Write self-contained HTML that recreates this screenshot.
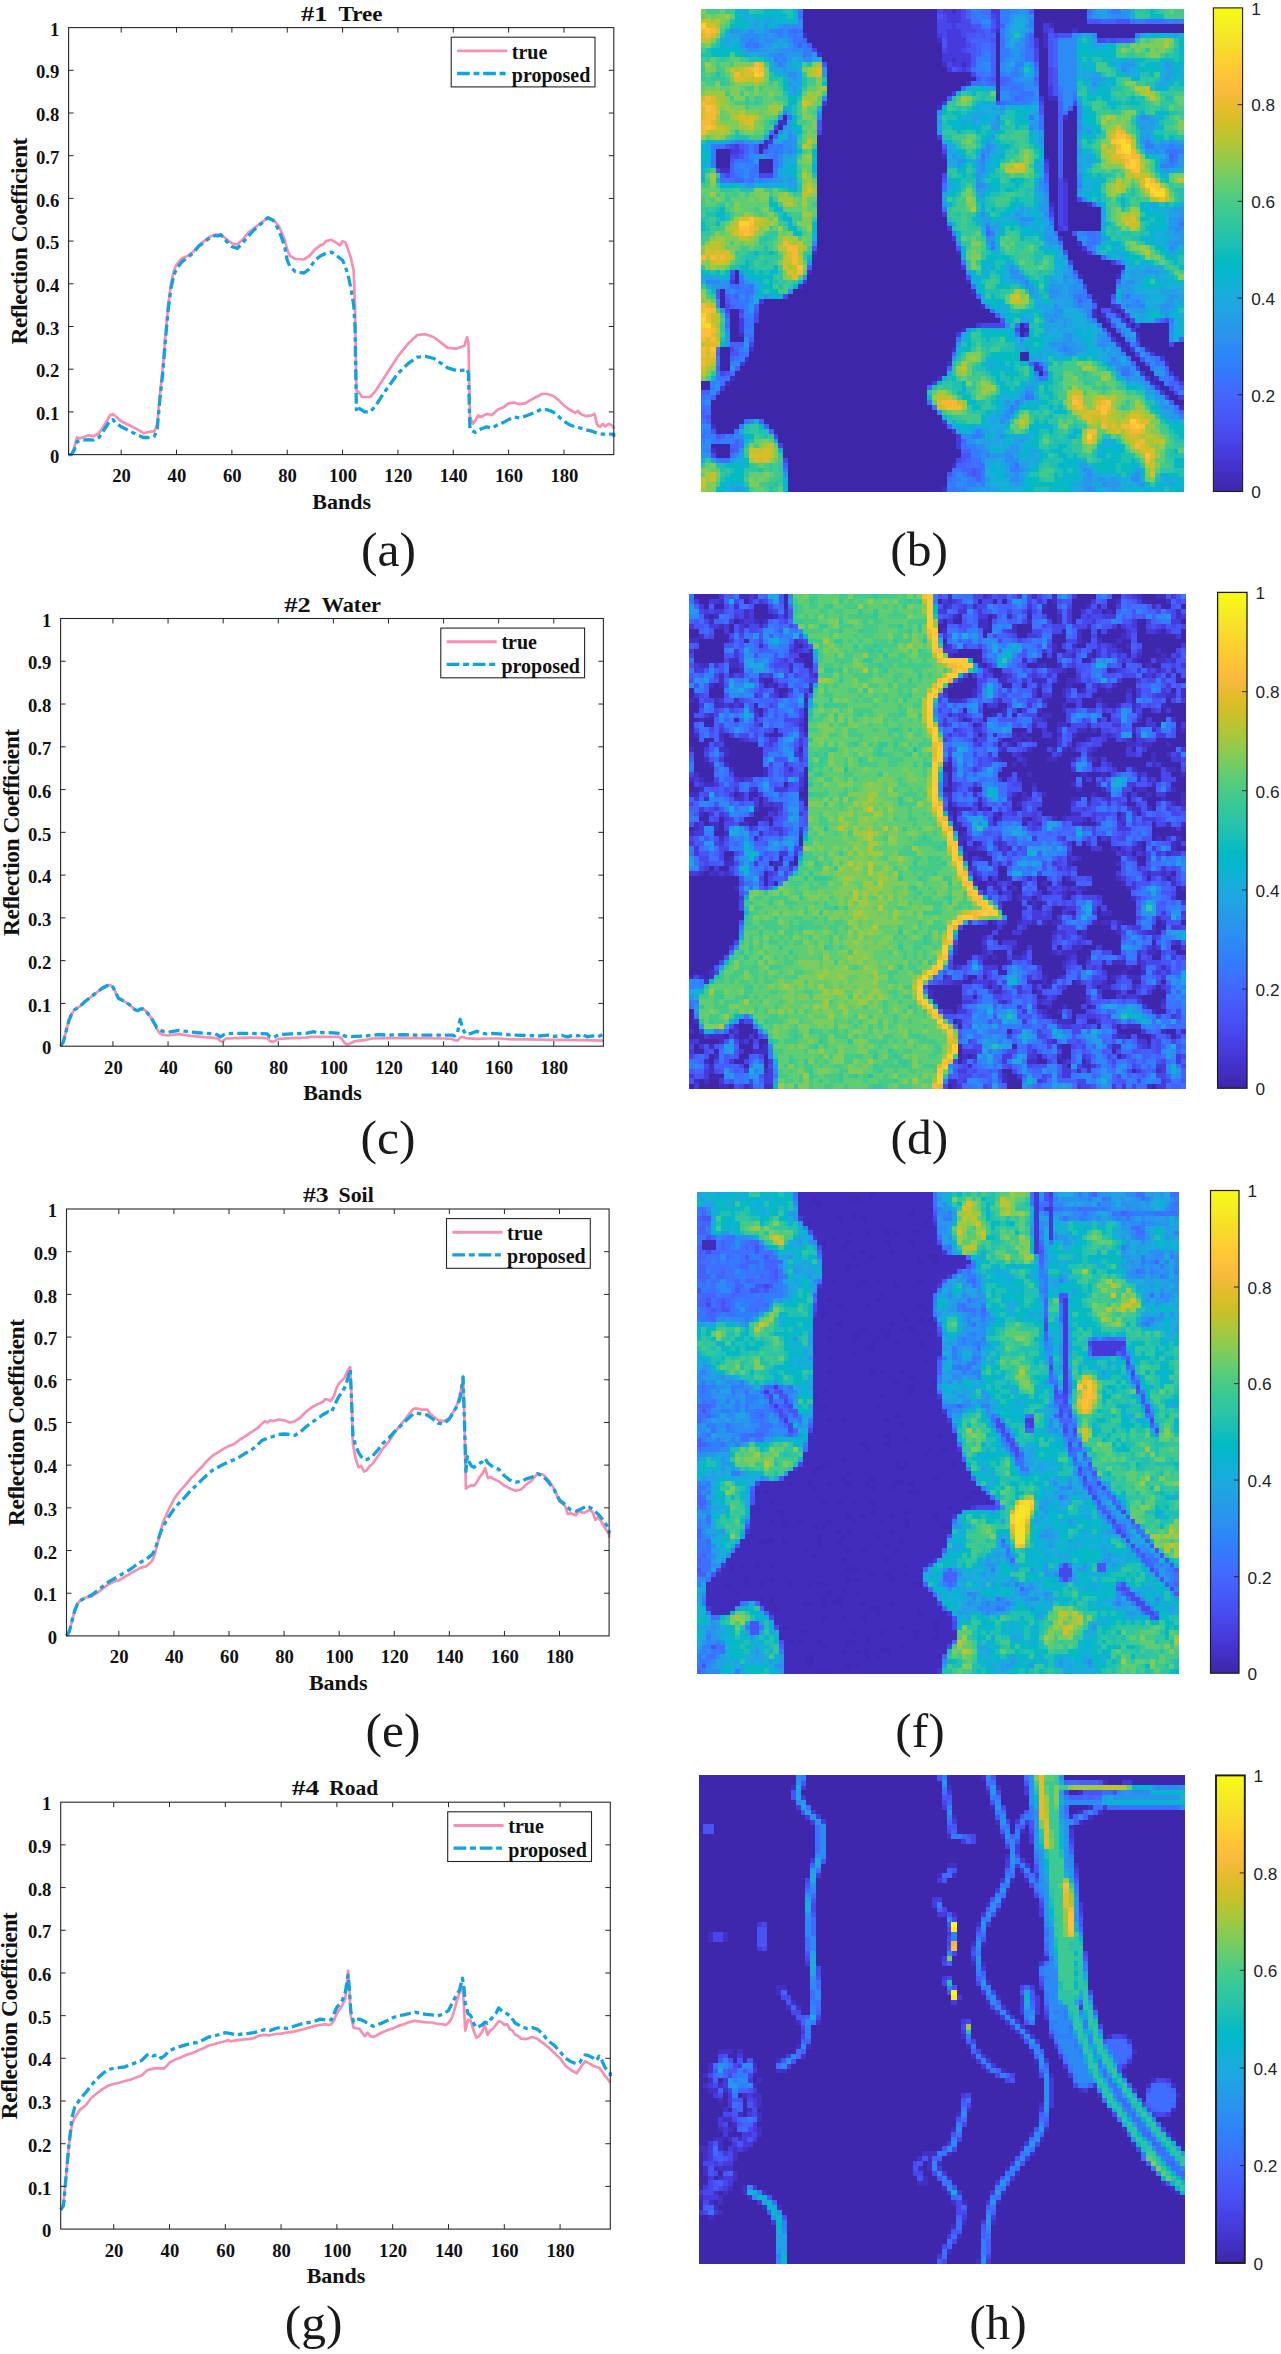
<!DOCTYPE html>
<html lang="en"><head><meta charset="utf-8"><title>Endmember signatures and abundance maps</title>
<style>
html,body{margin:0;padding:0;background:#fff}
body{width:1281px;height:2354px;overflow:hidden}
svg{display:block}
text{font-family:"Liberation Serif","DejaVu Serif",serif;fill:#111}
.tk{font-weight:bold;font-size:18.7px}
.ti{font-weight:bold;font-size:22px}
.yl{font-weight:bold;font-size:23.5px}
.lg{font-weight:bold;font-size:20px}
.cap{font-size:49.5px;fill:#1a1a1a}
.cb{font-family:"Liberation Sans","DejaVu Sans",sans-serif;font-size:17.2px;fill:#222}
</style></head><body>
<svg width="1281" height="2354" viewBox="0 0 1281 2354">
<rect width="1281" height="2354" fill="#fff"/>
<defs><linearGradient id="par" x1="0" y1="1" x2="0" y2="0">
<stop offset="0.0000" stop-color="#3e26a8"/>
<stop offset="0.0317" stop-color="#422ec0"/>
<stop offset="0.0635" stop-color="#4537d5"/>
<stop offset="0.0952" stop-color="#4741e5"/>
<stop offset="0.1270" stop-color="#484df0"/>
<stop offset="0.1587" stop-color="#4758f8"/>
<stop offset="0.1905" stop-color="#4563fd"/>
<stop offset="0.2222" stop-color="#3e6fff"/>
<stop offset="0.2540" stop-color="#327cfc"/>
<stop offset="0.2857" stop-color="#2e87f7"/>
<stop offset="0.3175" stop-color="#2b91ef"/>
<stop offset="0.3492" stop-color="#259be8"/>
<stop offset="0.3810" stop-color="#20a5e3"/>
<stop offset="0.4127" stop-color="#18addb"/>
<stop offset="0.4444" stop-color="#08b5d0"/>
<stop offset="0.4762" stop-color="#02bac3"/>
<stop offset="0.5079" stop-color="#19bfb6"/>
<stop offset="0.5397" stop-color="#2cc4a7"/>
<stop offset="0.5714" stop-color="#37c897"/>
<stop offset="0.6032" stop-color="#4acb84"/>
<stop offset="0.6349" stop-color="#64cd6f"/>
<stop offset="0.6667" stop-color="#81cc59"/>
<stop offset="0.6984" stop-color="#9dc943"/>
<stop offset="0.7302" stop-color="#b9c431"/>
<stop offset="0.7619" stop-color="#d1bf27"/>
<stop offset="0.7937" stop-color="#e6bb2d"/>
<stop offset="0.8254" stop-color="#f8ba3d"/>
<stop offset="0.8571" stop-color="#fec338"/>
<stop offset="0.8889" stop-color="#fccf30"/>
<stop offset="0.9206" stop-color="#f7dc2a"/>
<stop offset="0.9524" stop-color="#f5e924"/>
<stop offset="0.9841" stop-color="#f7f51b"/>
<stop offset="1.0000" stop-color="#f9fb15"/>
</linearGradient></defs>
<g class="plot">
<path d="M68.6 454.6L71.4 454.6L74.1 448.2L76.9 437.5L79.7 438.4L88 435.4L93.5 436.2L99 433.2L104.6 424.7L110.1 415.3L112.9 414L115.6 416.2L121.2 421.3L132.3 426.8L140.6 431.1L143.3 433.2L148.9 432L154.4 431.1L157.2 424.7L159.9 394.8L162.7 369.2L165.5 335L168.2 305.2L171 283.8L173.8 271L176.5 264.6L182.1 258.2L187.6 256L193.1 251.8L198.7 245.4L204.2 241.1L209.7 236.8L215.3 234.7L220.8 234.7L223.6 236.8L226.3 239L231.9 243.2L237.4 244.5L243 239L248.5 232.6L254 228.3L259.6 224L265.1 219.8L267.9 217.6L273.4 219.8L278.9 226.2L284.5 239L287.2 249.6L290 256L295.5 259L303.8 259.5L309.4 256L314.9 249.6L320.4 245.4L323.2 244.5L326 241.1L331.5 239.8L337 243.2L339.8 245.4L342.6 241.1L345.4 242.4L348.1 249.6L350.9 258.2L353.7 271L355 305.2L356.4 390.6L359.2 392.7L362 397L370.3 397L375.8 390.6L384.1 377.7L397.9 356.4L409 342.7L417.3 335L425.6 334.2L433.9 337.2L442.2 343.6L447.7 347.9L456.1 348.7L464.4 345.7L467.1 337.2L468.5 343.6L469.9 416.2L472.7 423.9L475.4 420.4L478.2 415.3L481 417L486.5 414L492 414.9L497.6 409.8L503.1 407.6L508.6 403.4L514.2 402.5L519.7 404.2L525.2 403.4L530.8 399.9L536.3 397L541.8 394L547.4 394L552.9 395.7L558.4 399.9L564 405.5L569.5 409.8L575.1 412.8L577.8 411L580.6 414L586.1 416.2L591.7 415.3L594.4 414L597.2 424.7L600 426.8L602.7 423.9L605.5 426.4L608.3 423.9L611 424.7L613.8 427.7L613.8 429" fill="none" stroke="#f78fb3" stroke-width="2.7" stroke-linejoin="round"/>
<path d="M68.6 454.6L71.4 454.6L74.1 450.3L76.9 441.8L79.7 440.5L88 439.7L93.5 440.1L99 437.5L104.6 429L110.1 420.4L112.9 419.6L115.6 422.6L121.2 426.8L132.3 432.4L140.6 436.2L143.3 437.5L148.9 437.5L154.4 436.2L157.2 429L159.9 399.1L162.7 373.5L165.5 339.3L168.2 309.4L171 288.1L173.8 275.3L176.5 268.9L182.1 261.6L187.6 257.3L193.1 253.1L198.7 246.2L204.2 242L209.7 237.7L215.3 235.5L218 236L220.8 234.7L223.6 237.7L226.3 241.1L231.9 246.7L237.4 248.4L243 242.4L248.5 236L254 230L259.6 224.9L265.1 220.6L267.9 217.6L273.4 220.6L278.9 230.4L284.5 245.4L287.2 260.3L290 266.7L295.5 271.8L303.8 273.1L309.4 268.9L314.9 260.3L320.4 256L326 253.1L331.5 252.2L337 256L342.6 260.3L345.4 266.7L348.1 275.3L350.9 288.1L353.7 305.2L355 326.5L356.4 409.8L357.8 405.5L359.2 408.5L364.7 411.9L370.3 411.9L375.8 405.5L384.1 392.7L397.9 373.5L409 362.8L417.3 357.2L425.6 356.4L433.9 358.5L442.2 364.1L447.7 367.9L456.1 370.5L464.4 370.1L467.1 369.2L468.5 373.5L469.9 429L472.7 431.1L475.4 432.4L481 429L486.5 426.8L492 428.1L497.6 424.7L503.1 422.6L508.6 419.6L514.2 417L519.7 417.9L525.2 416.2L530.8 414L536.3 411.9L541.8 408.9L547.4 409.8L552.9 411.9L558.4 416.2L564 421.3L569.5 424.7L575.1 426.8L580.6 428.1L586.1 429.8L591.7 431.1L597.2 433.2L602.7 434.1L608.3 434.1L613.8 434.1L613.8 436.7" fill="none" stroke="#12a2e0" stroke-width="3.3" stroke-linejoin="round" stroke-dasharray="11 4 4.5 4"/>
<rect x="68.6" y="27.6" width="545.2" height="427" fill="none" stroke="#262626" stroke-width="1.1"/>
<path d="M121.18 454.6v-5M121.18 27.6v5M176.53 454.6v-5M176.53 27.6v5M231.88 454.6v-5M231.88 27.6v5M287.23 454.6v-5M287.23 27.6v5M342.58 454.6v-5M342.58 27.6v5M397.93 454.6v-5M397.93 27.6v5M453.28 454.6v-5M453.28 27.6v5M508.63 454.6v-5M508.63 27.6v5M563.98 454.6v-5M563.98 27.6v5M68.6 411.9h5M613.8 411.9h-5M68.6 369.2h5M613.8 369.2h-5M68.6 326.5h5M613.8 326.5h-5M68.6 283.8h5M613.8 283.8h-5M68.6 241.1h5M613.8 241.1h-5M68.6 198.4h5M613.8 198.4h-5M68.6 155.7h5M613.8 155.7h-5M68.6 113h5M613.8 113h-5M68.6 70.3h5M613.8 70.3h-5" stroke="#262626" stroke-width="1" fill="none"/>
<text class="tk" x="121.6" y="482" text-anchor="middle">20</text>
<text class="tk" x="176.9" y="482" text-anchor="middle">40</text>
<text class="tk" x="232.3" y="482" text-anchor="middle">60</text>
<text class="tk" x="287.6" y="482" text-anchor="middle">80</text>
<text class="tk" x="343" y="482" text-anchor="middle">100</text>
<text class="tk" x="398.3" y="482" text-anchor="middle">120</text>
<text class="tk" x="453.7" y="482" text-anchor="middle">140</text>
<text class="tk" x="509" y="482" text-anchor="middle">160</text>
<text class="tk" x="564.4" y="482" text-anchor="middle">180</text>
<text class="tk" x="59.3" y="462.7" text-anchor="end">0</text>
<text class="tk" x="59.3" y="420" text-anchor="end">0.1</text>
<text class="tk" x="59.3" y="377.3" text-anchor="end">0.2</text>
<text class="tk" x="59.3" y="334.6" text-anchor="end">0.3</text>
<text class="tk" x="59.3" y="291.9" text-anchor="end">0.4</text>
<text class="tk" x="59.3" y="249.2" text-anchor="end">0.5</text>
<text class="tk" x="59.3" y="206.5" text-anchor="end">0.6</text>
<text class="tk" x="59.3" y="163.8" text-anchor="end">0.7</text>
<text class="tk" x="59.3" y="121.1" text-anchor="end">0.8</text>
<text class="tk" x="59.3" y="78.4" text-anchor="end">0.9</text>
<text class="tk" x="59.3" y="35.7" text-anchor="end">1</text>
<text class="ti" x="301.1" y="20.6" textLength="26.5" lengthAdjust="spacingAndGlyphs">#1</text>
<text class="ti" x="338.5" y="20.6" textLength="44.1" lengthAdjust="spacingAndGlyphs">Tree</text>
<text class="ti" x="341.7" y="508.5" text-anchor="middle">Bands</text>
<text class="yl" transform="translate(26.5 241.1) rotate(-90)" text-anchor="middle" textLength="207" lengthAdjust="spacing">Reflection Coefficient</text>
<rect x="451.2" y="37.2" width="143.8" height="49.7" fill="#fff" stroke="#262626" stroke-width="1.1"/>
<path d="M457.1 50.9h50" stroke="#f78fb3" stroke-width="2.9" fill="none"/>
<path d="M457.1 73.5h50" stroke="#12a2e0" stroke-width="3.3" fill="none" stroke-dasharray="12.7 3.7 6 3.7"/>
<text class="lg" x="511.8" y="58.5">true</text>
<text class="lg" x="511.8" y="81.9">proposed</text>
<text class="cap" x="388.4" y="566" text-anchor="middle">(a)</text>
</g>
<g class="plot">
<path d="M60.6 1046.2L63.4 1041.9L66.1 1031.2L68.9 1020.5L71.6 1014.1L74.4 1009.8L79.9 1006.4L85.4 1001.3L90.9 997L96.4 992.7L101.9 988.5L107.4 985.5L110.2 985L113 987.2L115.7 992.7L118.5 998.3L124 1001.3L129.5 1004.7L135 1009.8L137.7 1010.7L140.5 1009L143.3 1009L146 1011.1L151.5 1018.4L157 1029.1L159.8 1033.4L162.5 1034.7L168.1 1035.5L179.1 1034.2L190.1 1035.9L201.1 1036.8L212.1 1037.6L217.7 1038.5L220.4 1041.1L223.2 1041.1L225.9 1038.5L234.2 1038.1L250.7 1037.6L267.2 1038.1L270 1041.1L272.8 1041.9L275.5 1040.6L278.3 1038.9L292 1038.1L305.8 1037.6L311.3 1036.8L322.4 1036.8L338.9 1036.8L341.6 1038.5L344.4 1042.8L347.2 1044.5L349.9 1043.6L355.4 1041.1L366.4 1039.8L372 1038.5L388.5 1038.1L416 1038.1L443.6 1038.5L451.9 1038.9L454.6 1040.2L457.4 1040.6L460.1 1037.6L462.9 1036.8L465.6 1038.1L476.7 1038.9L487.7 1038.5L498.7 1038.5L512.5 1039.4L526.3 1039.4L553.8 1039.8L581.4 1040.2L603.4 1040.6" fill="none" stroke="#f78fb3" stroke-width="2.7" stroke-linejoin="round"/>
<path d="M60.6 1046.2L63.4 1041.9L66.1 1031.2L68.9 1020.5L71.6 1014.1L74.4 1009.8L79.9 1006.4L85.4 1001.3L90.9 997L96.4 992.7L101.9 988.5L107.4 985.5L110.2 985L113 987.2L115.7 992.7L118.5 998.3L124 1001.3L129.5 1004.7L135 1009.8L137.7 1010.7L140.5 1009L143.3 1009L146 1011.1L151.5 1018.4L157 1027.8L159.8 1029.9L162.5 1031.2L168.1 1032.1L179.1 1030.4L184.6 1031.2L195.6 1032.5L206.6 1033.4L214.9 1033.8L217.7 1035.1L220.4 1036.8L223.2 1035.1L225.9 1033.8L234.2 1033.4L250.7 1033.4L267.2 1033.8L270 1036.8L272.8 1037.6L275.5 1036.4L278.3 1034.7L292 1033.8L305.8 1033.4L314.1 1031.7L316.8 1032.9L322.4 1032.5L333.4 1032.9L341.6 1033.4L344.4 1035.9L347.2 1036.8L355.4 1036.4L366.4 1035.9L377.5 1034.7L388.5 1035.1L402.3 1034.7L416 1035.1L429.8 1035.1L443.6 1035.1L451.9 1035.1L454.6 1035.9L457.4 1033.4L460.1 1019.3L462.9 1029.1L465.6 1034.2L471.1 1033.4L476.7 1031.2L482.2 1033.4L487.7 1034.2L493.2 1033.4L498.7 1033.8L512.5 1035.1L526.3 1035.5L540 1035.9L548.3 1035.1L553.8 1036.4L562.1 1035.5L567.6 1036.8L573.1 1035.1L578.6 1035.9L581.4 1034.2L586.9 1036.8L592.4 1035.9L597.9 1036.8L603.4 1034.2L603.4 1034.2" fill="none" stroke="#12a2e0" stroke-width="3.3" stroke-linejoin="round" stroke-dasharray="11 4 4.5 4"/>
<rect x="60.6" y="618.5" width="542.8" height="427.7" fill="none" stroke="#262626" stroke-width="1.1"/>
<path d="M112.95 1046.2v-5M112.95 618.5v5M168.06 1046.2v-5M168.06 618.5v5M223.16 1046.2v-5M223.16 618.5v5M278.27 1046.2v-5M278.27 618.5v5M333.38 1046.2v-5M333.38 618.5v5M388.48 1046.2v-5M388.48 618.5v5M443.59 1046.2v-5M443.59 618.5v5M498.7 1046.2v-5M498.7 618.5v5M553.8 1046.2v-5M553.8 618.5v5M60.6 1003.43h5M603.4 1003.43h-5M60.6 960.66h5M603.4 960.66h-5M60.6 917.89h5M603.4 917.89h-5M60.6 875.12h5M603.4 875.12h-5M60.6 832.35h5M603.4 832.35h-5M60.6 789.58h5M603.4 789.58h-5M60.6 746.81h5M603.4 746.81h-5M60.6 704.04h5M603.4 704.04h-5M60.6 661.27h5M603.4 661.27h-5" stroke="#262626" stroke-width="1" fill="none"/>
<text class="tk" x="113.4" y="1073.6" text-anchor="middle">20</text>
<text class="tk" x="168.5" y="1073.6" text-anchor="middle">40</text>
<text class="tk" x="223.6" y="1073.6" text-anchor="middle">60</text>
<text class="tk" x="278.7" y="1073.6" text-anchor="middle">80</text>
<text class="tk" x="333.8" y="1073.6" text-anchor="middle">100</text>
<text class="tk" x="388.9" y="1073.6" text-anchor="middle">120</text>
<text class="tk" x="444" y="1073.6" text-anchor="middle">140</text>
<text class="tk" x="499.1" y="1073.6" text-anchor="middle">160</text>
<text class="tk" x="554.2" y="1073.6" text-anchor="middle">180</text>
<text class="tk" x="51.3" y="1054.3" text-anchor="end">0</text>
<text class="tk" x="51.3" y="1011.5" text-anchor="end">0.1</text>
<text class="tk" x="51.3" y="968.8" text-anchor="end">0.2</text>
<text class="tk" x="51.3" y="926" text-anchor="end">0.3</text>
<text class="tk" x="51.3" y="883.2" text-anchor="end">0.4</text>
<text class="tk" x="51.3" y="840.5" text-anchor="end">0.5</text>
<text class="tk" x="51.3" y="797.7" text-anchor="end">0.6</text>
<text class="tk" x="51.3" y="754.9" text-anchor="end">0.7</text>
<text class="tk" x="51.3" y="712.1" text-anchor="end">0.8</text>
<text class="tk" x="51.3" y="669.4" text-anchor="end">0.9</text>
<text class="tk" x="51.3" y="626.6" text-anchor="end">1</text>
<text class="ti" x="284.2" y="611.5" textLength="26.5" lengthAdjust="spacingAndGlyphs">#2</text>
<text class="ti" x="321.7" y="611.5" textLength="59.3" lengthAdjust="spacingAndGlyphs">Water</text>
<text class="ti" x="332.5" y="1100.1" text-anchor="middle">Bands</text>
<text class="yl" transform="translate(18.5 832.4) rotate(-90)" text-anchor="middle" textLength="207" lengthAdjust="spacing">Reflection Coefficient</text>
<rect x="440.8" y="628.1" width="143.8" height="49.7" fill="#fff" stroke="#262626" stroke-width="1.1"/>
<path d="M446.7 641.8h50" stroke="#f78fb3" stroke-width="2.9" fill="none"/>
<path d="M446.7 664.4h50" stroke="#12a2e0" stroke-width="3.3" fill="none" stroke-dasharray="12.7 3.7 6 3.7"/>
<text class="lg" x="501.4" y="649.4">true</text>
<text class="lg" x="501.4" y="672.8">proposed</text>
<text class="cap" x="388" y="1154.2" text-anchor="middle">(c)</text>
</g>
<g class="plot">
<path d="M66.5 1635.9L69.3 1631.6L72 1621L74.8 1610.3L77.5 1603.9L80.3 1600.5L85.8 1597.5L91.3 1596.6L96.8 1593.2L102.3 1588.9L107.8 1584.7L113.3 1581.7L118.8 1580.4L124.3 1577L129.8 1574L135.4 1570.6L140.9 1567.6L146.4 1566.3L151.9 1561.2L154.6 1554.8L157.4 1544.1L160.1 1533.4L162.9 1522.8L168.4 1510L173.9 1499.3L179.4 1491.6L184.9 1485.6L190.4 1478.8L196 1472.8L201.5 1467.3L207 1460.9L212.5 1455.7L218 1452.3L223.5 1448.9L229 1445.9L234.5 1443.8L240 1439.5L245.5 1436.1L251 1432.3L256.5 1428.9L262.1 1423.7L264.8 1421.2L267.6 1422.5L270.3 1420.3L273.1 1421.2L278.6 1419.5L284.1 1420.3L289.6 1422.5L295.1 1421.2L300.6 1417.3L306.1 1411.8L311.6 1407.5L317.1 1404.5L322.7 1402L325.4 1399L328.2 1399.8L330.9 1401.1L333.7 1396.8L336.4 1388.3L339.2 1383.2L341.9 1380.6L344.7 1377.6L347.4 1371.2L350.2 1367L351.6 1401.1L352.9 1443.8L355.7 1458.7L358.5 1467.3L361.2 1466L364 1471.5L366.7 1470.3L369.5 1466.4L372.2 1464.3L377.7 1456.6L383.2 1448.1L388.8 1441.7L394.3 1433.1L399.8 1425.9L405.3 1419L410.8 1411.8L413.5 1408.8L416.3 1408.4L421.8 1409.6L427.3 1409.6L430.1 1413.9L432.8 1416L438.3 1420.3L443.8 1421.2L449.3 1418.2L454.9 1409.6L457.6 1403.2L460.4 1392.6L463.1 1379.8L464.5 1422.5L465.9 1488.6L468.6 1486.5L471.4 1485.2L474.1 1485.6L476.9 1482.2L479.6 1477.1L482.4 1473.7L485.2 1468.1L487.9 1477.9L490.7 1477.1L493.4 1478.8L498.9 1481.4L504.4 1485.6L509.9 1488.6L515.5 1490.8L521 1489.5L526.5 1484.4L532 1480.1L537.5 1473.7L543 1474.5L548.5 1480.1L554 1488.6L559.5 1501.4L565 1505.7L567.8 1514.2L570.5 1513.4L576 1515.1L578.8 1511.2L581.6 1512.1L584.3 1513L587.1 1511.2L589.8 1510L592.6 1512.1L595.3 1519.8L598.1 1517.2L600.8 1520.6L603.6 1525.8L606.3 1530L609.1 1534.3L609.1 1537.7" fill="none" stroke="#f78fb3" stroke-width="2.7" stroke-linejoin="round"/>
<path d="M66.5 1635.9L69.3 1631.6L72 1621L74.8 1610.3L77.5 1603.9L80.3 1600.5L85.8 1597.5L91.3 1595.3L96.8 1591.1L102.3 1586.8L107.8 1582.5L113.3 1579.1L118.8 1576.1L124.3 1572.7L129.8 1569.7L135.4 1565.5L140.9 1562L146.4 1559.1L151.9 1554.8L154.6 1550.5L157.4 1542L160.1 1533.4L162.9 1527L168.4 1517.2L173.9 1509.1L179.4 1502.7L184.9 1497.2L190.4 1490.8L196 1485.6L201.5 1480.1L207 1475L212.5 1470.3L218 1467.3L223.5 1464.3L229 1461.7L234.5 1459.6L240 1456.6L245.5 1453.2L251 1450.2L256.5 1445.9L262.1 1440.4L267.6 1438.2L273.1 1436.5L278.6 1434.4L284.1 1434L289.6 1434.4L295.1 1435.3L300.6 1431.8L306.1 1426.7L311.6 1422.5L317.1 1419L322.7 1414.8L328.2 1411.8L330.9 1412.6L333.7 1407.5L336.4 1401.1L339.2 1396L341.9 1392.6L344.7 1387.4L347.4 1379.8L350.2 1369.1L351.6 1401.1L352.9 1435.3L355.7 1445.9L358.5 1452.3L361.2 1456.6L364 1459.6L366.7 1459.6L372.2 1456.6L377.7 1450.2L383.2 1442.9L388.8 1438.2L394.3 1431.8L399.8 1426.7L405.3 1421.2L410.8 1416L413.5 1413.9L416.3 1413.1L421.8 1413.9L427.3 1415.2L432.8 1419L438.3 1423.3L443.8 1423.7L449.3 1419L454.9 1409.6L457.6 1405.4L460.4 1396.8L463.1 1376.8L464.5 1422.5L465.9 1471.5L467.3 1456.6L468.6 1460.9L471.4 1466L474.1 1467.3L476.9 1465.1L482.4 1461.7L485.2 1458.7L487.9 1463L493.4 1467.3L498.9 1469.4L504.4 1475.8L509.9 1480.1L515.5 1482.2L521 1481.4L526.5 1478.8L532 1477.1L537.5 1473.7L543 1475.8L548.5 1482.2L554 1489.5L559.5 1500.1L565 1504.4L570.5 1510L576 1511.2L581.6 1508.7L587.1 1505.7L592.6 1509.1L598.1 1514.2L603.6 1520.6L609.1 1529.2L609.1 1533.4" fill="none" stroke="#12a2e0" stroke-width="3.3" stroke-linejoin="round" stroke-dasharray="11 4 4.5 4"/>
<rect x="66.5" y="1209" width="542.6" height="426.9" fill="none" stroke="#262626" stroke-width="1.1"/>
<path d="M118.83 1635.9v-5M118.83 1209v5M173.92 1635.9v-5M173.92 1209v5M229 1635.9v-5M229 1209v5M284.09 1635.9v-5M284.09 1209v5M339.18 1635.9v-5M339.18 1209v5M394.26 1635.9v-5M394.26 1209v5M449.35 1635.9v-5M449.35 1209v5M504.44 1635.9v-5M504.44 1209v5M559.52 1635.9v-5M559.52 1209v5M66.5 1593.21h5M609.1 1593.21h-5M66.5 1550.52h5M609.1 1550.52h-5M66.5 1507.83h5M609.1 1507.83h-5M66.5 1465.14h5M609.1 1465.14h-5M66.5 1422.45h5M609.1 1422.45h-5M66.5 1379.76h5M609.1 1379.76h-5M66.5 1337.07h5M609.1 1337.07h-5M66.5 1294.38h5M609.1 1294.38h-5M66.5 1251.69h5M609.1 1251.69h-5" stroke="#262626" stroke-width="1" fill="none"/>
<text class="tk" x="119.2" y="1663.3" text-anchor="middle">20</text>
<text class="tk" x="174.3" y="1663.3" text-anchor="middle">40</text>
<text class="tk" x="229.4" y="1663.3" text-anchor="middle">60</text>
<text class="tk" x="284.5" y="1663.3" text-anchor="middle">80</text>
<text class="tk" x="339.6" y="1663.3" text-anchor="middle">100</text>
<text class="tk" x="394.7" y="1663.3" text-anchor="middle">120</text>
<text class="tk" x="449.7" y="1663.3" text-anchor="middle">140</text>
<text class="tk" x="504.8" y="1663.3" text-anchor="middle">160</text>
<text class="tk" x="559.9" y="1663.3" text-anchor="middle">180</text>
<text class="tk" x="57.2" y="1644" text-anchor="end">0</text>
<text class="tk" x="57.2" y="1601.3" text-anchor="end">0.1</text>
<text class="tk" x="57.2" y="1558.6" text-anchor="end">0.2</text>
<text class="tk" x="57.2" y="1515.9" text-anchor="end">0.3</text>
<text class="tk" x="57.2" y="1473.2" text-anchor="end">0.4</text>
<text class="tk" x="57.2" y="1430.5" text-anchor="end">0.5</text>
<text class="tk" x="57.2" y="1387.9" text-anchor="end">0.6</text>
<text class="tk" x="57.2" y="1345.2" text-anchor="end">0.7</text>
<text class="tk" x="57.2" y="1302.5" text-anchor="end">0.8</text>
<text class="tk" x="57.2" y="1259.8" text-anchor="end">0.9</text>
<text class="tk" x="57.2" y="1217.1" text-anchor="end">1</text>
<text class="ti" x="302.9" y="1202" textLength="25.8" lengthAdjust="spacingAndGlyphs">#3</text>
<text class="ti" x="338.5" y="1202" textLength="35.2" lengthAdjust="spacingAndGlyphs">Soil</text>
<text class="ti" x="338.3" y="1689.8" text-anchor="middle">Bands</text>
<text class="yl" transform="translate(24.4 1422.5) rotate(-90)" text-anchor="middle" textLength="207" lengthAdjust="spacing">Reflection Coefficient</text>
<rect x="446.5" y="1218.6" width="143.8" height="49.7" fill="#fff" stroke="#262626" stroke-width="1.1"/>
<path d="M452.4 1232.3h50" stroke="#f78fb3" stroke-width="2.9" fill="none"/>
<path d="M452.4 1254.9h50" stroke="#12a2e0" stroke-width="3.3" fill="none" stroke-dasharray="12.7 3.7 6 3.7"/>
<text class="lg" x="507.1" y="1239.9">true</text>
<text class="lg" x="507.1" y="1263.3">proposed</text>
<text class="cap" x="392.9" y="1746.7" text-anchor="middle">(e)</text>
</g>
<g class="plot">
<path d="M60.7 2209.9L63.5 2203.5L66.3 2173.6L69.1 2143.7L71.9 2124.5L74.6 2118.1L80.2 2109.6L85.8 2105.3L91.4 2098L97 2093.3L102.5 2089.1L108.1 2085.7L113.7 2084L119.3 2082.7L124.9 2081L130.4 2079.7L136 2077.6L141.6 2075.4L147.2 2070.3L152.8 2068.6L158.3 2068.2L163.9 2068.6L166.7 2066L169.5 2062.6L175.1 2059.6L180.7 2057.5L186.2 2054.9L191.8 2053.2L197.4 2050.7L203 2048.5L208.6 2045.5L214.1 2044.3L219.7 2042.5L225.3 2041.3L228.1 2040L230.9 2041.3L236.5 2040.4L242 2039.6L247.6 2039.1L253.2 2038.3L258.8 2035.7L264.4 2034.9L269.9 2035.3L275.5 2034L281.1 2033.6L286.7 2032.7L292.3 2031.9L297.8 2030.6L303.4 2029.3L309 2027.6L314.6 2025.9L320.2 2025L325.7 2024.2L328.5 2025L331.3 2024.2L334.1 2019.9L336.9 2013.5L339.7 2009.2L342.5 2005L345.3 1998.6L348.1 1970.8L349.4 1990L350.8 2015.7L353.6 2027.6L356.4 2028.5L359.2 2028.5L362 2032.7L364.8 2036.1L367.6 2032.7L370.4 2036.1L373.2 2037L376 2035.7L381.5 2032.7L387.1 2030.2L392.7 2028.5L398.3 2025.9L403.9 2024.2L409.4 2022.1L415 2020.8L420.6 2021.6L426.2 2022.5L431.7 2022.5L437.3 2023.8L442.9 2024.2L445.7 2025L448.5 2022.9L451.3 2019.1L454.1 2011.4L456.9 2000.7L459.6 1992.2L462.4 1987.9L463.8 2002.8L465.2 2030.6L468 2019.9L470.8 2020.8L473.6 2030.6L476.4 2037.8L479.2 2036.1L482 2031.9L484.8 2025L487.5 2034.9L490.3 2030.6L493.1 2028.5L495.9 2025L498.7 2021.2L501.5 2022.1L504.3 2025L507.1 2024.2L509.9 2029.3L512.7 2030.6L515.4 2034.9L518.2 2036.1L521 2038.7L526.6 2039.1L532.2 2037L537.8 2039.1L543.3 2043.4L548.9 2047.7L554.5 2053.2L560.1 2058.3L565.7 2066L571.2 2070.3L576.8 2073.3L579.6 2069L582.4 2064.7L585.2 2061.3L588 2062.6L593.6 2066L599.1 2067.7L601.9 2071.1L604.7 2075.4L607.5 2078.8L610.3 2082.7L610.3 2082.7" fill="none" stroke="#f78fb3" stroke-width="2.7" stroke-linejoin="round"/>
<path d="M60.7 2209.9L63.5 2205.6L66.3 2173.6L69.1 2143.7L71.9 2118.1L74.6 2107.4L80.2 2098.9L85.8 2092.5L91.4 2085.2L97 2078.8L102.5 2073.7L108.1 2069.9L113.7 2068.2L119.3 2067.7L124.9 2066.9L130.4 2064.7L136 2062.6L141.6 2060.5L147.2 2054.9L150 2054.1L152.8 2055.8L158.3 2054.9L161.1 2058.3L163.9 2056.2L169.5 2050.7L175.1 2048.1L180.7 2046.4L186.2 2044.7L191.8 2043.4L197.4 2042.5L203 2040L208.6 2037L214.1 2036.1L219.7 2034.4L225.3 2032.7L230.9 2033.6L236.5 2034.9L242 2034L247.6 2033.6L253.2 2032.7L258.8 2031.4L264.4 2029.7L269.9 2030.6L275.5 2028.5L281.1 2027.2L286.7 2028.5L292.3 2026.7L297.8 2025L303.4 2023.3L309 2022.5L314.6 2021.2L320.2 2019.1L325.7 2019.9L331.3 2019.9L334.1 2013.5L336.9 2007.1L339.7 2004.1L342.5 1999.9L345.3 1992.2L348.1 1975.1L349.4 1990L350.8 2011.4L353.6 2022.1L356.4 2019.9L359.2 2019.1L364.8 2021.6L370.4 2025L373.2 2026.3L376 2025L381.5 2023.3L387.1 2020.8L392.7 2017.8L398.3 2015.7L403.9 2014.8L409.4 2013.5L415 2012.2L420.6 2013.5L426.2 2014.4L431.7 2014.8L437.3 2015.7L442.9 2014.4L448.5 2010.5L451.3 2005L454.1 1999.4L456.9 1994.3L459.6 1990L462.4 1978.1L463.8 1985.8L465.2 2002.8L468 2013.5L470.8 2015.7L473.6 2023.3L476.4 2027.6L482 2025L484.8 2022.1L487.5 2023.3L490.3 2019.9L493.1 2016.9L495.9 2013.5L498.7 2008L501.5 2010.5L504.3 2012.2L509.9 2015.7L515.4 2023.3L521 2026.3L526.6 2028.5L532.2 2027.6L537.8 2029.3L543.3 2034.9L548.9 2041.3L554.5 2045.5L560.1 2051.9L565.7 2058.3L571.2 2061.8L576.8 2063.9L579.6 2062.6L582.4 2058.3L585.2 2054.9L588 2055.4L593.6 2058.3L596.4 2060.5L599.1 2056.2L601.9 2060.5L604.7 2066.9L607.5 2071.1L610.3 2073.3L610.3 2076.3" fill="none" stroke="#12a2e0" stroke-width="3.3" stroke-linejoin="round" stroke-dasharray="11 4 4.5 4"/>
<rect x="60.7" y="1802.2" width="549.6" height="426.9" fill="none" stroke="#262626" stroke-width="1.1"/>
<path d="M113.71 2229.1v-5M113.71 1802.2v5M169.5 2229.1v-5M169.5 1802.2v5M225.3 2229.1v-5M225.3 1802.2v5M281.1 2229.1v-5M281.1 1802.2v5M336.89 2229.1v-5M336.89 1802.2v5M392.69 2229.1v-5M392.69 1802.2v5M448.49 2229.1v-5M448.49 1802.2v5M504.29 2229.1v-5M504.29 1802.2v5M560.08 2229.1v-5M560.08 1802.2v5M60.7 2186.41h5M610.3 2186.41h-5M60.7 2143.72h5M610.3 2143.72h-5M60.7 2101.03h5M610.3 2101.03h-5M60.7 2058.34h5M610.3 2058.34h-5M60.7 2015.65h5M610.3 2015.65h-5M60.7 1972.96h5M610.3 1972.96h-5M60.7 1930.27h5M610.3 1930.27h-5M60.7 1887.58h5M610.3 1887.58h-5M60.7 1844.89h5M610.3 1844.89h-5" stroke="#262626" stroke-width="1" fill="none"/>
<text class="tk" x="114.1" y="2256.5" text-anchor="middle">20</text>
<text class="tk" x="169.9" y="2256.5" text-anchor="middle">40</text>
<text class="tk" x="225.7" y="2256.5" text-anchor="middle">60</text>
<text class="tk" x="281.5" y="2256.5" text-anchor="middle">80</text>
<text class="tk" x="337.3" y="2256.5" text-anchor="middle">100</text>
<text class="tk" x="393.1" y="2256.5" text-anchor="middle">120</text>
<text class="tk" x="448.9" y="2256.5" text-anchor="middle">140</text>
<text class="tk" x="504.7" y="2256.5" text-anchor="middle">160</text>
<text class="tk" x="560.5" y="2256.5" text-anchor="middle">180</text>
<text class="tk" x="51.4" y="2237.2" text-anchor="end">0</text>
<text class="tk" x="51.4" y="2194.5" text-anchor="end">0.1</text>
<text class="tk" x="51.4" y="2151.8" text-anchor="end">0.2</text>
<text class="tk" x="51.4" y="2109.1" text-anchor="end">0.3</text>
<text class="tk" x="51.4" y="2066.4" text-anchor="end">0.4</text>
<text class="tk" x="51.4" y="2023.8" text-anchor="end">0.5</text>
<text class="tk" x="51.4" y="1981.1" text-anchor="end">0.6</text>
<text class="tk" x="51.4" y="1938.4" text-anchor="end">0.7</text>
<text class="tk" x="51.4" y="1895.7" text-anchor="end">0.8</text>
<text class="tk" x="51.4" y="1853" text-anchor="end">0.9</text>
<text class="tk" x="51.4" y="1810.3" text-anchor="end">1</text>
<text class="ti" x="291.7" y="1795.2" textLength="27.6" lengthAdjust="spacingAndGlyphs">#4</text>
<text class="ti" x="329.2" y="1795.2" textLength="49" lengthAdjust="spacingAndGlyphs">Road</text>
<text class="ti" x="336" y="2283" text-anchor="middle">Bands</text>
<text class="yl" transform="translate(16.7 2015.7) rotate(-90)" text-anchor="middle" textLength="207" lengthAdjust="spacing">Reflection Coefficient</text>
<rect x="447.7" y="1811.8" width="143.8" height="49.7" fill="#fff" stroke="#262626" stroke-width="1.1"/>
<path d="M453.6 1825.5h50" stroke="#f78fb3" stroke-width="2.9" fill="none"/>
<path d="M453.6 1848.1h50" stroke="#12a2e0" stroke-width="3.3" fill="none" stroke-dasharray="12.7 3.7 6 3.7"/>
<text class="lg" x="508.3" y="1833.1">true</text>
<text class="lg" x="508.3" y="1856.5">proposed</text>
<text class="cap" x="313.7" y="2339.3" text-anchor="middle">(g)</text>
</g>
<g class="hm" transform="translate(700.9 9.1) scale(4.8270 4.8270)" stroke-width="1.06" fill="none" shape-rendering="crispEdges">
<rect x="0" y="0" width="100" height="100" fill="#3e26a9"/>
<path stroke="#3e26a9" d="M20.94 .5h28.12M68.94 .5h11.12M17.94 99.5h32.12"/>
<path stroke="#422fc3" d="M51.94 .5h1.12M71.94 3.5h1.12M60.94 4.5h1.12M76.94 4.5h1.12M20.94 5.5h1.12M70.94 5.5h1.12M48.94 6.5h1.12M70.94 6.5h1.12M70.94 7.5h1.12M23.94 9.5h1.12M51.94 10.5h1.12M49.94 11.5h1.12M53.94 11.5h1.12M54.94 15.5h1.12M71.94 18.5h2.12M48.94 20.5h1.12M74.94 22.5h1.12M15.94 23.5h2.12M12.94 27.5h1.12M12.94 28.5h1.12M49.94 30.5h1.12M3.94 33.5h2.12M74.94 35.5h1.12M71.94 40.5h1.12M79.94 40.5h1.12M77.94 48.5h1.12M22.94 50.5h1.12M52.94 50.5h1.12M86.94 53.5h1.12M21.94 54.5h1.12M77.94 55.5h1.12M85.94 55.5h1.12M54.94 56.5h1.12M19.94 57.5h1.12M55.94 58.5h1.12M80.94 60.5h1.12M57.94 61.5h1.12M84.94 61.5h1.12M80.94 62.5h1.12M84.94 62.5h1.12M80.94 63.5h1.12M82.94 63.5h1.12M53.94 66.5h1.12M7.94 67.5h1.12M89.94 67.5h1.12M87.94 69.5h1.12M9.94 70.5h1.12M51.94 70.5h1.12M86.94 70.5h1.12M91.94 70.5h1.12M8.94 72.5h1.12M50.94 73.5h1.12M95.94 73.5h1.12M68.94 74.5h1.12M5.94 76.5h1.12M48.94 76.5h1.12M93.94 76.5h1.12M4.94 77.5h1.12M92.94 77.5h1.12M98.94 82.5h1.06M1.94 86.5h1.12M1.94 91.5h1.12M51.94 94.5h1.12M49.94 99.5h1.12"/>
<path stroke="#463adc" d="M49.94 .5h2.12M52.94 .5h1.12M59.94 .5h2.12M50.94 1.5h3.12M60.94 1.5h1.12M50.94 2.5h3.12M60.94 2.5h1.12M51.94 3.5h1.12M60.94 3.5h1.12M70.94 3.5h1.12M50.94 4.5h3.12M70.94 4.5h1.12M48.94 5.5h1.12M50.94 5.5h3.12M50.94 6.5h4.12M68.94 6.5h1.12M50.94 7.5h4.12M68.94 7.5h1.12M50.94 8.5h3.12M49.94 9.5h6.12M49.94 10.5h2.12M52.94 10.5h3.12M51.94 11.5h2.12M54.94 11.5h1.12M50.94 12.5h1.12M53.94 12.5h1.12M71.94 16.5h1.12M51.94 17.5h1.12M71.94 17.5h1.12M69.94 18.5h1.12M24.94 19.5h1.12M49.94 19.5h1.12M48.94 26.5h1.12M13.94 27.5h1.12M6.94 28.5h1.12M5.94 29.5h2.12M70.94 31.5h1.12M74.94 36.5h1.12M74.94 37.5h1.12M74.94 38.5h1.12M74.94 39.5h1.12M74.94 40.5h1.12M71.94 41.5h1.12M74.94 41.5h1.12M49.94 42.5h1.12M74.94 42.5h1.12M74.94 43.5h1.12M74.94 44.5h1.12M50.94 45.5h1.12M73.94 45.5h1.12M51.94 47.5h1.12M73.94 47.5h1.12M78.94 49.5h1.12M79.94 50.5h1.12M84.94 52.5h1.12M53.94 53.5h1.12M5.94 56.5h1.12M20.94 56.5h1.12M11.94 60.5h1.12M85.94 61.5h1.12M86.94 62.5h1.12M85.94 63.5h1.12M7.94 64.5h1.12M83.94 64.5h1.12M86.94 64.5h1.12M7.94 65.5h1.12M56.94 65.5h1.12M66.94 65.5h1.12M87.94 65.5h1.12M89.94 65.5h1.12M7.94 66.5h1.12M88.94 66.5h1.12M52.94 67.5h1.12M66.94 67.5h1.12M84.94 68.5h1.12M89.94 68.5h1.12M85.94 69.5h1.12M88.94 70.5h1.12M92.94 71.5h1.12M94.94 72.5h1.12M7.94 73.5h1.12M68.94 73.5h1.12M69.94 74.5h1.12M90.94 75.5h1.12M96.94 75.5h1.12M91.94 76.5h1.12M97.94 76.5h1.12M47.94 77.5h1.12M98.94 77.5h1.06M3.94 78.5h1.12M93.94 78.5h1.12M94.94 79.5h1.12M98.94 80.5h1.06M49.94 85.5h1.12M51.94 87.5h1.12M52.94 88.5h1.12M52.94 89.5h1.12M52.94 90.5h1.12"/>
<path stroke="#4747eb" d="M48.94 .5h1.12M53.94 .5h1.12M49.94 1.5h1.12M53.94 1.5h1.12M59.94 1.5h1.12M48.94 2.5h2.12M53.94 2.5h2.12M48.94 3.5h3.12M52.94 3.5h3.12M48.94 4.5h2.12M53.94 4.5h3.12M59.94 4.5h1.12M71.94 4.5h1.12M49.94 5.5h1.12M53.94 5.5h1.12M72.94 5.5h1.12M81.94 6.5h2.12M84.94 6.5h1.12M54.94 7.5h1.12M22.94 8.5h1.12M49.94 8.5h1.12M53.94 8.5h1.12M68.94 8.5h1.12M68.94 9.5h1.12M68.94 10.5h1.12M50.94 11.5h1.12M52.94 12.5h1.12M54.94 12.5h1.12M71.94 12.5h1.12M55.94 13.5h1.12M71.94 13.5h1.12M71.94 14.5h1.12M71.94 15.5h1.12M69.94 19.5h1.12M76.94 19.5h1.12M14.94 24.5h1.12M23.94 25.5h1.12M5.94 28.5h1.12M7.94 29.5h1.12M49.94 29.5h1.12M5.94 30.5h2.12M70.94 32.5h1.12M2.94 33.5h1.12M70.94 33.5h1.12M4.94 34.5h1.12M11.94 34.5h3.12M49.94 34.5h1.12M73.94 35.5h1.12M73.94 36.5h1.12M73.94 37.5h1.12M73.94 38.5h1.12M73.94 39.5h1.12M77.94 39.5h1.12M73.94 40.5h1.12M73.94 41.5h1.12M71.94 42.5h1.12M73.94 42.5h1.12M73.94 43.5h1.12M73.94 44.5h1.12M74.94 45.5h1.12M75.94 52.5h1.12M5.94 55.5h1.12M78.94 57.5h1.12M16.94 59.5h1.12M4.94 61.5h1.12M4.94 62.5h1.12M7.94 62.5h1.12M10.94 63.5h1.12M87.94 63.5h1.12M10.94 64.5h1.12M88.94 64.5h1.12M95.94 64.5h1.12M57.94 65.5h5.12M64.94 66.5h1.12M9.94 69.5h1.12M96.94 69.5h1.12M5.94 70.5h1.12M89.94 71.5h1.12M89.94 74.5h1.12M3.94 75.5h1.12M96.94 78.5h1.12M97.94 79.5h1.12M95.94 80.5h1.12M14.94 88.5h1.12M15.94 90.5h1.12M1.94 92.5h1.12M16.94 93.5h1.12M52.94 93.5h1.12"/>
<path stroke="#4854f5" d="M48.94 1.5h1.12M59.94 2.5h1.12M79.94 2.5h3.12M85.94 2.5h3.12M55.94 3.5h2.12M59.94 3.5h1.12M56.94 4.5h2.12M54.94 5.5h2.12M57.94 5.5h1.12M71.94 5.5h1.12M73.94 5.5h3.12M49.94 6.5h1.12M54.94 6.5h1.12M59.94 6.5h1.12M71.94 6.5h1.12M83.94 6.5h1.12M85.94 6.5h3.12M49.94 7.5h1.12M55.94 7.5h1.12M71.94 7.5h1.12M54.94 8.5h2.12M71.94 8.5h1.12M55.94 9.5h1.12M71.94 9.5h1.12M55.94 10.5h1.12M71.94 10.5h1.12M24.94 11.5h1.12M55.94 11.5h1.12M71.94 11.5h1.12M51.94 12.5h1.12M72.94 12.5h1.12M72.94 13.5h1.12M56.94 14.5h1.12M59.94 14.5h1.12M72.94 14.5h1.12M72.94 15.5h1.12M72.94 16.5h1.12M72.94 17.5h1.12M50.94 18.5h1.12M60.94 19.5h1.12M69.94 20.5h1.12M69.94 21.5h1.12M23.94 23.5h1.12M23.94 24.5h1.12M4.94 28.5h1.12M7.94 28.5h1.12M7.94 30.5h1.12M5.94 31.5h1.12M49.94 35.5h1.12M76.94 46.5h1.12M22.94 49.5h1.12M52.94 49.5h1.12M74.94 50.5h1.12M5.94 54.5h1.12M76.94 54.5h1.12M54.94 55.5h1.12M2.94 58.5h1.12M2.94 59.5h1.12M79.94 59.5h1.12M84.94 59.5h1.12M4.94 60.5h1.12M10.94 62.5h1.12M82.94 62.5h2.12M7.94 63.5h1.12M61.94 64.5h1.12M84.94 65.5h1.12M83.94 67.5h1.12M89.94 69.5h1.12M5.94 71.5h2.12M90.94 72.5h1.12M91.94 73.5h1.12M4.94 75.5h1.12M98.94 78.5h1.06M2.94 79.5h1.12M.94 84.5h1.12M1.94 87.5h1.12M2.94 88.5h1.12M5.94 91.5h1.12M53.94 92.5h2.12M53.94 93.5h1.12M55.94 95.5h1.12M50.94 96.5h1.12M55.94 96.5h1.12"/>
<path stroke="#4561fc" d="M54.94 .5h1.12M67.94 .5h1.12M54.94 1.5h1.12M82.94 2.5h3.12M61.94 3.5h1.12M18.94 4.5h1.12M58.94 4.5h1.12M56.94 5.5h1.12M58.94 5.5h2.12M67.94 5.5h1.12M20.94 6.5h1.12M55.94 6.5h4.12M67.94 6.5h1.12M72.94 6.5h1.12M88.94 6.5h1.12M19.94 7.5h1.12M21.94 7.5h1.12M56.94 7.5h1.12M59.94 7.5h1.12M67.94 7.5h1.12M72.94 7.5h1.12M56.94 8.5h1.12M59.94 8.5h1.12M72.94 8.5h1.12M56.94 9.5h1.12M59.94 9.5h1.12M72.94 9.5h1.12M59.94 10.5h1.12M72.94 10.5h1.12M59.94 11.5h1.12M68.94 11.5h1.12M72.94 11.5h1.12M59.94 12.5h1.12M59.94 13.5h1.12M58.94 14.5h1.12M61.94 14.5h2.12M68.94 14.5h1.12M59.94 15.5h1.12M61.94 15.5h1.12M64.94 18.5h1.12M61.94 19.5h1.12M73.94 19.5h1.12M73.94 20.5h1.12M75.94 20.5h1.12M73.94 21.5h1.12M73.94 22.5h1.12M73.94 23.5h1.12M73.94 24.5h1.12M73.94 25.5h1.12M14.94 26.5h1.12M73.94 26.5h1.12M73.94 27.5h1.12M8.94 28.5h1.12M10.94 28.5h1.12M49.94 28.5h1.12M73.94 28.5h1.12M8.94 29.5h1.12M10.94 29.5h1.12M12.94 29.5h1.12M73.94 29.5h1.12M73.94 30.5h1.12M96.94 30.5h1.12M73.94 31.5h1.12M5.94 32.5h1.12M73.94 32.5h1.12M5.94 33.5h1.12M73.94 33.5h1.12M3.94 34.5h1.12M5.94 34.5h1.12M70.94 34.5h1.12M73.94 34.5h1.12M6.94 35.5h2.12M70.94 35.5h1.12M80.94 40.5h1.12M71.94 43.5h1.12M58.94 46.5h1.12M82.94 51.5h1.12M85.94 52.5h1.12M21.94 53.5h1.12M85.94 56.5h1.12M6.94 57.5h1.12M4.94 59.5h1.12M6.94 59.5h1.12M56.94 59.5h1.12M77.94 60.5h1.12M5.94 61.5h1.12M10.94 61.5h1.12M80.94 61.5h1.12M4.94 63.5h1.12M60.94 63.5h1.12M94.94 64.5h1.12M82.94 66.5h1.12M85.94 66.5h1.12M9.94 68.5h1.12M98.94 68.5h1.06M5.94 69.5h3.12M6.94 70.5h1.12M2.94 71.5h1.12M51.94 71.5h1.12M5.94 72.5h1.12M67.94 73.5h1.12M88.94 73.5h1.12M2.94 74.5h1.12M6.94 74.5h1.12M50.94 74.5h1.12M95.94 74.5h1.12M70.94 75.5h1.12M96.94 77.5h2.12M46.94 78.5h1.12M0 79.5h2.06M1.94 80.5h1.12M96.94 81.5h1.12M0 83.5h1.06M98.94 83.5h1.06M0 84.5h1.06M.94 85.5h1.12M11.94 85.5h1.12M12.94 86.5h1.12M50.94 86.5h1.12M13.94 87.5h1.12M3.94 88.5h1.12M6.94 89.5h1.12M53.94 89.5h1.12M5.94 90.5h2.12M6.94 91.5h1.12M53.94 91.5h2.12M54.94 93.5h1.12M16.94 94.5h1.12M52.94 94.5h2.12M53.94 95.5h2.12M56.94 95.5h1.12M54.94 96.5h1.12M56.94 96.5h1.12M56.94 97.5h1.12"/>
<path stroke="#3e70ff" d="M19.94 .5h1.12M57.94 .5h2.12M79.94 .5h1.12M19.94 1.5h1.12M55.94 1.5h1.12M58.94 1.5h1.12M55.94 2.5h2.12M88.94 2.5h1.12M91.94 2.5h4.12M97.94 2.5h1.12M57.94 3.5h1.12M17.94 4.5h1.12M19.94 4.5h1.12M18.94 5.5h1.12M18.94 6.5h2.12M61.94 6.5h1.12M8.94 7.5h1.12M10.94 7.5h1.12M57.94 7.5h2.12M61.94 7.5h1.12M66.94 7.5h1.12M57.94 8.5h2.12M66.94 8.5h2.12M20.94 9.5h1.12M57.94 9.5h1.12M66.94 9.5h2.12M66.94 10.5h2.12M55.94 12.5h1.12M68.94 12.5h1.12M56.94 13.5h2.12M57.94 14.5h1.12M55.94 15.5h2.12M58.94 15.5h1.12M62.94 15.5h1.12M68.94 15.5h1.12M53.94 16.5h1.12M63.94 16.5h2.12M65.94 17.5h3.12M73.94 17.5h1.12M65.94 18.5h1.12M73.94 18.5h1.12M76.94 18.5h1.12M62.94 19.5h1.12M74.94 21.5h1.12M17.94 22.5h1.12M69.94 22.5h1.12M69.94 23.5h1.12M69.94 24.5h1.12M13.94 25.5h1.12M2.94 28.5h2.12M13.94 28.5h1.12M15.94 28.5h1.12M14.94 29.5h1.12M96.94 29.5h2.12M8.94 30.5h1.12M14.94 30.5h1.12M57.94 30.5h1.12M97.94 30.5h1.12M1.94 31.5h1.12M6.94 31.5h3.12M14.94 31.5h1.12M96.94 31.5h1.12M10.94 32.5h1.12M14.94 32.5h1.12M10.94 33.5h1.12M6.94 34.5h1.12M9.94 34.5h1.12M3.94 35.5h3.12M9.94 35.5h1.12M49.94 36.5h1.12M49.94 37.5h1.12M49.94 41.5h1.12M58.94 45.5h1.12M72.94 46.5h1.12M79.94 46.5h2.12M80.94 47.5h1.12M73.94 48.5h1.12M79.94 48.5h2.12M59.94 49.5h1.12M79.94 49.5h1.12M80.94 50.5h1.12M53.94 52.5h1.12M86.94 54.5h1.12M7.94 56.5h1.12M5.94 57.5h1.12M7.94 57.5h1.12M9.94 57.5h1.12M55.94 57.5h1.12M8.94 58.5h2.12M5.94 59.5h1.12M8.94 59.5h1.12M77.94 59.5h1.12M87.94 59.5h1.12M5.94 60.5h2.12M8.94 60.5h1.12M84.94 60.5h1.12M6.94 61.5h2.12M59.94 62.5h1.12M83.94 63.5h2.12M8.94 64.5h1.12M4.94 65.5h1.12M8.94 65.5h2.12M64.94 65.5h1.12M8.94 67.5h2.12M64.94 67.5h1.12M86.94 67.5h1.12M52.94 68.5h1.12M2.94 70.5h1.12M7.94 71.5h2.12M91.94 71.5h1.12M6.94 72.5h1.12M93.94 72.5h1.12M69.94 73.5h1.12M93.94 73.5h2.12M5.94 75.5h1.12M86.94 75.5h2.12M95.94 75.5h1.12M3.94 76.5h2.12M69.94 76.5h1.12M96.94 76.5h1.12M3.94 77.5h1.12M97.94 78.5h1.12M0 80.5h1.06M66.94 80.5h1.12M46.94 81.5h1.12M0 82.5h2.06M47.94 82.5h1.12M97.94 82.5h1.12M.94 83.5h1.12M0 85.5h1.06M8.94 85.5h1.12M6.94 87.5h1.12M0 88.5h1.06M5.94 88.5h1.12M2.94 89.5h1.12M7.94 90.5h1.12M53.94 90.5h1.12M5.94 92.5h1.12M3.94 93.5h2.12M55.94 93.5h2.12M54.94 94.5h4.12M64.94 94.5h1.12M51.94 95.5h2.12M57.94 95.5h1.12M51.94 96.5h1.12M50.94 97.5h1.12M51.94 99.5h1.12"/>
<path stroke="#317dfb" d="M55.94 .5h2.12M61.94 .5h2.12M84.94 .5h2.12M56.94 1.5h2.12M61.94 1.5h2.12M79.94 1.5h1.12M61.94 2.5h2.12M67.94 2.5h1.12M89.94 2.5h2.12M95.94 2.5h2.12M98.94 2.5h1.06M58.94 3.5h1.12M67.94 3.5h1.12M13.94 4.5h3.12M61.94 4.5h1.12M15.94 5.5h1.12M17.94 5.5h1.12M19.94 5.5h1.12M61.94 5.5h1.12M66.94 5.5h1.12M89.94 5.5h1.12M9.94 6.5h1.12M66.94 6.5h1.12M9.94 7.5h1.12M18.94 7.5h1.12M20.94 7.5h1.12M20.94 8.5h2.12M61.94 8.5h2.12M15.94 9.5h1.12M21.94 9.5h1.12M58.94 9.5h1.12M61.94 9.5h2.12M65.94 9.5h1.12M14.94 10.5h1.12M16.94 10.5h1.12M56.94 10.5h3.12M61.94 10.5h1.12M15.94 11.5h1.12M56.94 11.5h1.12M64.94 11.5h2.12M56.94 12.5h2.12M64.94 12.5h1.12M58.94 13.5h1.12M61.94 13.5h1.12M63.94 13.5h2.12M68.94 13.5h1.12M63.94 14.5h1.12M57.94 15.5h1.12M63.94 15.5h3.12M61.94 16.5h2.12M65.94 16.5h1.12M73.94 16.5h1.12M63.94 17.5h2.12M76.94 17.5h1.12M63.94 18.5h1.12M66.94 18.5h2.12M63.94 19.5h4.12M16.94 21.5h1.12M23.94 22.5h1.12M67.94 22.5h1.12M6.94 27.5h2.12M91.94 27.5h1.12M1.94 28.5h1.12M9.94 28.5h1.12M14.94 28.5h1.12M91.94 28.5h2.12M96.94 28.5h1.12M1.94 29.5h1.12M9.94 29.5h1.12M13.94 29.5h1.12M15.94 29.5h1.12M17.94 29.5h1.12M95.94 29.5h1.12M98.94 29.5h1.06M1.94 30.5h1.12M13.94 30.5h1.12M9.94 31.5h1.12M57.94 31.5h1.12M97.94 31.5h1.12M1.94 32.5h1.12M6.94 32.5h1.12M8.94 32.5h2.12M94.94 32.5h3.12M6.94 33.5h2.12M9.94 33.5h1.12M14.94 33.5h1.12M7.94 34.5h1.12M10.94 34.5h1.12M14.94 34.5h1.12M8.94 35.5h1.12M11.94 35.5h1.12M70.94 36.5h1.12M77.94 36.5h1.12M70.94 37.5h1.12M71.94 44.5h1.12M98.94 44.5h1.06M51.94 46.5h1.12M59.94 46.5h1.12M78.94 46.5h1.12M81.94 46.5h1.12M79.94 47.5h1.12M81.94 47.5h1.12M59.94 48.5h1.12M81.94 48.5h1.12M7.94 55.5h1.12M76.94 55.5h1.12M.94 56.5h1.12M66.94 56.5h1.12M77.94 56.5h1.12M8.94 57.5h1.12M4.94 58.5h1.12M6.94 58.5h2.12M78.94 58.5h1.12M76.94 59.5h1.12M78.94 59.5h1.12M7.94 60.5h1.12M78.94 60.5h1.12M89.94 60.5h1.12M8.94 61.5h1.12M77.94 61.5h1.12M87.94 61.5h1.12M90.94 61.5h1.12M8.94 62.5h1.12M79.94 62.5h1.12M8.94 63.5h2.12M79.94 63.5h1.12M4.94 64.5h1.12M9.94 64.5h1.12M80.94 64.5h1.12M93.94 64.5h1.12M96.94 64.5h1.12M81.94 65.5h1.12M8.94 66.5h2.12M87.94 68.5h1.12M88.94 69.5h1.12M7.94 70.5h1.12M74.94 70.5h1.12M90.94 70.5h1.12M86.94 71.5h1.12M2.94 72.5h1.12M7.94 72.5h1.12M84.94 72.5h1.12M87.94 72.5h1.12M92.94 72.5h1.12M2.94 73.5h1.12M5.94 73.5h1.12M86.94 74.5h2.12M92.94 74.5h1.12M2.94 75.5h1.12M68.94 75.5h1.12M2.94 76.5h1.12M70.94 76.5h1.12M94.94 76.5h2.12M1.94 77.5h1.12M95.94 77.5h1.12M1.94 78.5h1.12M92.94 78.5h1.12M66.94 79.5h1.12M98.94 79.5h1.06M.94 80.5h1.12M67.94 80.5h1.12M0 81.5h1.06M64.94 81.5h1.12M63.94 82.5h1.12M63.94 83.5h1.12M97.94 83.5h1.12M98.94 84.5h1.06M7.94 86.5h1.12M0 87.5h2.06M56.94 87.5h1.12M.94 88.5h2.12M4.94 88.5h1.12M55.94 88.5h2.12M0 89.5h1.06M1.94 89.5h1.12M3.94 89.5h3.12M7.94 89.5h1.12M54.94 90.5h2.12M.94 91.5h1.12M55.94 91.5h2.12M55.94 92.5h2.12M58.94 92.5h1.12M2.94 93.5h1.12M16.94 95.5h1.12M63.94 95.5h2.12M53.94 96.5h1.12M57.94 96.5h1.12M51.94 97.5h2.12M54.94 97.5h2.12M57.94 97.5h1.12M50.94 98.5h2.12M54.94 98.5h2.12M57.94 98.5h1.12M50.94 99.5h1.12M52.94 99.5h2.12"/>
<path stroke="#2d8bf4" d="M63.94 .5h2.12M66.94 .5h1.12M80.94 .5h1.12M83.94 .5h1.12M67.94 1.5h1.12M84.94 1.5h3.12M19.94 2.5h1.12M57.94 2.5h2.12M16.94 3.5h4.12M62.94 3.5h1.12M66.94 3.5h1.12M5.94 4.5h1.12M9.94 4.5h1.12M16.94 4.5h1.12M67.94 4.5h1.12M8.94 5.5h3.12M12.94 5.5h1.12M14.94 5.5h1.12M16.94 5.5h1.12M76.94 5.5h1.12M80.94 5.5h1.12M7.94 6.5h2.12M10.94 6.5h1.12M12.94 6.5h2.12M17.94 6.5h1.12M62.94 6.5h1.12M65.94 6.5h1.12M73.94 6.5h4.12M11.94 7.5h1.12M64.94 7.5h2.12M73.94 7.5h4.12M9.94 8.5h2.12M16.94 8.5h4.12M65.94 8.5h1.12M73.94 8.5h4.12M13.94 9.5h2.12M16.94 9.5h1.12M63.94 9.5h1.12M73.94 9.5h4.12M15.94 10.5h1.12M20.94 10.5h2.12M62.94 10.5h1.12M65.94 10.5h1.12M73.94 10.5h4.12M57.94 11.5h2.12M61.94 11.5h1.12M73.94 11.5h4.12M58.94 12.5h1.12M61.94 12.5h1.12M63.94 12.5h1.12M73.94 12.5h4.12M86.94 12.5h1.12M17.94 13.5h2.12M62.94 13.5h1.12M65.94 13.5h1.12M73.94 13.5h4.12M64.94 14.5h1.12M73.94 14.5h4.12M66.94 15.5h2.12M73.94 15.5h4.12M80.94 15.5h1.12M66.94 16.5h3.12M74.94 16.5h3.12M61.94 17.5h2.12M68.94 17.5h1.12M74.94 17.5h2.12M24.94 18.5h1.12M61.94 18.5h2.12M68.94 18.5h1.12M74.94 18.5h2.12M67.94 19.5h1.12M74.94 19.5h2.12M74.94 20.5h1.12M77.94 20.5h1.12M23.94 21.5h1.12M48.94 21.5h1.12M77.94 21.5h1.12M15.94 22.5h1.12M77.94 22.5h1.12M90.94 22.5h1.12M67.94 24.5h1.12M77.94 24.5h1.12M15.94 25.5h1.12M17.94 26.5h1.12M11.94 27.5h1.12M16.94 27.5h3.12M16.94 28.5h2.12M58.94 28.5h1.12M94.94 28.5h2.12M97.94 28.5h2.06M16.94 29.5h1.12M57.94 29.5h2.12M93.94 29.5h1.12M9.94 30.5h2.12M12.94 30.5h1.12M15.94 30.5h1.12M15.94 31.5h1.12M95.94 31.5h1.12M7.94 32.5h1.12M15.94 32.5h1.12M57.94 32.5h1.12M97.94 32.5h1.12M8.94 33.5h1.12M57.94 33.5h1.12M8.94 34.5h1.12M77.94 34.5h1.12M10.94 35.5h1.12M12.94 35.5h2.12M69.94 35.5h1.12M77.94 35.5h1.12M56.94 36.5h2.12M69.94 36.5h1.12M70.94 38.5h1.12M78.94 39.5h1.12M57.94 42.5h1.12M70.94 42.5h1.12M65.94 43.5h3.12M98.94 43.5h1.06M50.94 44.5h1.12M58.94 44.5h1.12M97.94 45.5h2.06M77.94 46.5h1.12M58.94 47.5h1.12M71.94 47.5h1.12M77.94 47.5h1.12M22.94 48.5h1.12M52.94 48.5h1.12M78.94 48.5h1.12M97.94 48.5h1.12M80.94 49.5h1.12M96.94 49.5h1.12M75.94 53.5h1.12M63.94 54.5h2.12M64.94 55.5h2.12M74.94 55.5h1.12M1.94 56.5h2.12M4.94 56.5h1.12M87.94 56.5h2.12M3.94 57.5h2.12M66.94 57.5h1.12M76.94 57.5h1.12M85.94 57.5h1.12M5.94 58.5h1.12M17.94 58.5h1.12M71.94 58.5h2.12M76.94 58.5h2.12M7.94 59.5h1.12M9.94 59.5h1.12M86.94 59.5h1.12M2.94 60.5h1.12M9.94 60.5h1.12M76.94 60.5h1.12M79.94 60.5h1.12M86.94 60.5h1.12M88.94 60.5h1.12M2.94 61.5h1.12M58.94 61.5h1.12M72.94 61.5h1.12M76.94 61.5h1.12M78.94 61.5h2.12M88.94 61.5h2.12M95.94 61.5h1.12M73.94 62.5h1.12M78.94 62.5h1.12M72.94 63.5h1.12M95.94 63.5h1.12M71.94 64.5h1.12M84.94 64.5h2.12M62.94 65.5h1.12M96.94 65.5h1.12M4.94 66.5h1.12M86.94 66.5h1.12M96.94 66.5h1.12M75.94 67.5h1.12M8.94 68.5h1.12M65.94 68.5h1.12M75.94 68.5h1.12M82.94 68.5h2.12M74.94 69.5h1.12M81.94 69.5h2.12M8.94 70.5h1.12M73.94 70.5h1.12M75.94 70.5h1.12M75.94 71.5h1.12M91.94 72.5h1.12M6.94 73.5h1.12M84.94 73.5h2.12M92.94 73.5h1.12M70.94 74.5h1.12M85.94 74.5h1.12M94.94 74.5h1.12M88.94 75.5h1.12M87.94 76.5h1.12M90.94 76.5h1.12M2.94 77.5h1.12M91.94 77.5h1.12M1.94 79.5h1.12M67.94 79.5h1.12M93.94 79.5h1.12M.94 81.5h1.12M64.94 82.5h1.12M95.94 82.5h1.12M48.94 83.5h1.12M62.94 83.5h1.12M62.94 84.5h1.12M9.94 85.5h1.12M61.94 85.5h1.12M0 86.5h2.06M6.94 88.5h2.12M53.94 88.5h2.12M57.94 88.5h1.12M.94 89.5h1.12M54.94 89.5h1.12M0 90.5h2.06M56.94 90.5h2.12M0 91.5h1.06M57.94 91.5h2.12M6.94 92.5h1.12M57.94 92.5h1.12M62.94 92.5h2.12M57.94 93.5h1.12M62.94 93.5h3.12M63.94 94.5h1.12M65.94 95.5h1.12M78.94 95.5h1.12M52.94 96.5h1.12M64.94 96.5h1.12M79.94 96.5h1.12M89.94 96.5h1.12M53.94 97.5h1.12M63.94 97.5h2.12M88.94 97.5h2.12M52.94 98.5h2.12M56.94 98.5h1.12M82.94 98.5h1.12M54.94 99.5h1.12M79.94 99.5h1.12"/>
<path stroke="#2797eb" d="M65.94 .5h1.12M86.94 .5h2.12M63.94 1.5h1.12M66.94 1.5h1.12M80.94 1.5h2.12M83.94 1.5h1.12M87.94 1.5h1.12M63.94 2.5h1.12M12.94 3.5h1.12M15.94 3.5h1.12M6.94 4.5h1.12M12.94 4.5h1.12M62.94 4.5h1.12M7.94 5.5h1.12M11.94 5.5h1.12M13.94 5.5h1.12M62.94 5.5h1.12M77.94 5.5h1.12M11.94 6.5h1.12M14.94 6.5h1.12M16.94 6.5h1.12M7.94 7.5h1.12M12.94 7.5h2.12M17.94 7.5h1.12M62.94 7.5h1.12M8.94 8.5h1.12M11.94 8.5h2.12M14.94 8.5h2.12M63.94 8.5h2.12M17.94 9.5h3.12M22.94 9.5h1.12M64.94 9.5h1.12M17.94 10.5h1.12M63.94 10.5h2.12M14.94 11.5h1.12M16.94 11.5h1.12M62.94 11.5h1.12M67.94 11.5h1.12M86.94 11.5h3.12M95.94 11.5h1.12M16.94 12.5h1.12M24.94 12.5h1.12M62.94 12.5h1.12M65.94 12.5h1.12M87.94 12.5h1.12M24.94 13.5h1.12M18.94 14.5h1.12M65.94 14.5h3.12M80.94 14.5h2.12M95.94 14.5h1.12M17.94 15.5h1.12M18.94 16.5h1.12M68.94 19.5h1.12M77.94 19.5h1.12M61.94 20.5h1.12M60.94 22.5h1.12M91.94 22.5h1.12M48.94 23.5h1.12M60.94 23.5h1.12M68.94 23.5h1.12M77.94 23.5h1.12M92.94 23.5h1.12M16.94 24.5h1.12M59.94 24.5h2.12M68.94 24.5h1.12M90.94 24.5h1.12M17.94 25.5h1.12M48.94 25.5h1.12M69.94 25.5h1.12M77.94 25.5h1.12M79.94 25.5h1.12M18.94 26.5h1.12M59.94 26.5h1.12M69.94 26.5h1.12M90.94 26.5h2.12M5.94 27.5h1.12M8.94 27.5h2.12M58.94 27.5h1.12M69.94 27.5h1.12M90.94 27.5h1.12M92.94 27.5h1.12M94.94 27.5h1.12M96.94 27.5h2.12M18.94 28.5h1.12M59.94 28.5h1.12M93.94 28.5h1.12M18.94 29.5h1.12M77.94 29.5h1.12M91.94 29.5h2.12M94.94 29.5h1.12M11.94 30.5h1.12M51.94 30.5h1.12M58.94 30.5h1.12M95.94 30.5h1.12M98.94 30.5h1.06M10.94 31.5h1.12M52.94 31.5h2.12M56.94 31.5h1.12M94.94 31.5h1.12M98.94 31.5h1.06M52.94 32.5h1.12M56.94 32.5h1.12M77.94 32.5h1.12M98.94 32.5h1.06M56.94 33.5h1.12M95.94 33.5h1.12M56.94 34.5h1.12M14.94 35.5h2.12M17.94 35.5h1.12M56.94 35.5h1.12M8.94 36.5h2.12M56.94 37.5h1.12M69.94 37.5h1.12M77.94 37.5h1.12M57.94 38.5h1.12M70.94 39.5h1.12M49.94 40.5h1.12M69.94 40.5h2.12M81.94 40.5h1.12M69.94 41.5h2.12M97.94 41.5h2.06M64.94 42.5h1.12M98.94 42.5h1.06M96.94 43.5h2.12M65.94 44.5h2.12M96.94 44.5h2.12M59.94 45.5h1.12M70.94 45.5h2.12M96.94 45.5h1.12M70.94 46.5h2.12M97.94 46.5h2.06M59.94 47.5h1.12M70.94 47.5h1.12M72.94 47.5h1.12M78.94 47.5h1.12M82.94 47.5h1.12M98.94 47.5h1.06M58.94 48.5h1.12M71.94 48.5h2.12M96.94 48.5h1.12M98.94 48.5h1.06M73.94 49.5h1.12M97.94 49.5h1.12M74.94 51.5h1.12M83.94 51.5h1.12M21.94 52.5h1.12M86.94 52.5h1.12M63.94 53.5h1.12M7.94 54.5h1.12M54.94 54.5h1.12M75.94 54.5h1.12M88.94 54.5h1.12M91.94 54.5h3.12M20.94 55.5h1.12M63.94 55.5h1.12M75.94 55.5h1.12M86.94 55.5h1.12M3.94 56.5h1.12M8.94 56.5h1.12M65.94 56.5h1.12M74.94 56.5h1.12M76.94 56.5h1.12M1.94 57.5h2.12M67.94 57.5h1.12M71.94 57.5h3.12M75.94 57.5h1.12M77.94 57.5h1.12M86.94 57.5h2.12M10.94 58.5h1.12M67.94 58.5h1.12M73.94 58.5h1.12M75.94 58.5h1.12M86.94 58.5h3.12M12.94 59.5h1.12M71.94 59.5h3.12M75.94 59.5h1.12M88.94 59.5h3.12M96.94 59.5h2.12M87.94 60.5h1.12M90.94 60.5h1.12M95.94 60.5h2.12M9.94 61.5h1.12M86.94 61.5h1.12M94.94 61.5h1.12M96.94 61.5h1.12M3.94 62.5h1.12M9.94 62.5h1.12M72.94 62.5h1.12M88.94 62.5h3.12M94.94 62.5h2.12M70.94 63.5h2.12M73.94 63.5h1.12M72.94 64.5h1.12M74.94 64.5h1.12M79.94 64.5h1.12M74.94 65.5h1.12M85.94 65.5h2.12M54.94 66.5h1.12M87.94 66.5h1.12M4.94 67.5h1.12M74.94 67.5h1.12M81.94 67.5h2.12M87.94 67.5h1.12M96.94 67.5h1.12M4.94 68.5h1.12M74.94 68.5h1.12M81.94 68.5h1.12M88.94 68.5h1.12M96.94 68.5h1.12M4.94 69.5h1.12M8.94 69.5h1.12M52.94 69.5h1.12M71.94 69.5h3.12M75.94 69.5h2.12M83.94 69.5h2.12M66.94 70.5h1.12M76.94 70.5h2.12M82.94 70.5h1.12M84.94 70.5h2.12M89.94 70.5h1.12M74.94 71.5h1.12M76.94 71.5h1.12M83.94 71.5h1.12M85.94 71.5h1.12M90.94 71.5h1.12M51.94 72.5h1.12M67.94 72.5h1.12M85.94 72.5h1.12M70.94 73.5h1.12M83.94 73.5h1.12M87.94 73.5h1.12M5.94 74.5h1.12M88.94 74.5h1.12M93.94 74.5h1.12M93.94 75.5h2.12M68.94 76.5h1.12M88.94 76.5h2.12M90.94 77.5h1.12M2.94 78.5h1.12M66.94 78.5h2.12M91.94 78.5h1.12M65.94 80.5h1.12M93.94 80.5h2.12M62.94 81.5h1.12M65.94 81.5h1.12M94.94 81.5h1.12M94.94 82.5h1.12M96.94 82.5h1.12M96.94 83.5h1.12M61.94 84.5h1.12M96.94 84.5h2.12M55.94 87.5h1.12M57.94 87.5h1.12M61.94 88.5h1.12M55.94 89.5h1.12M65.94 89.5h1.12M63.94 90.5h2.12M7.94 91.5h1.12M62.94 91.5h3.12M0 92.5h2.06M59.94 92.5h3.12M5.94 93.5h1.12M62.94 94.5h1.12M65.94 94.5h1.12M66.94 95.5h1.12M79.94 95.5h1.12M89.94 95.5h1.12M16.94 96.5h1.12M62.94 96.5h2.12M88.94 96.5h1.12M58.94 97.5h1.12M65.94 97.5h1.12M78.94 97.5h2.12M81.94 97.5h2.12M84.94 97.5h1.12M64.94 98.5h1.12M78.94 98.5h2.12M83.94 98.5h3.12M90.94 98.5h1.12M6.94 99.5h1.12M55.94 99.5h2.12M58.94 99.5h1.12M78.94 99.5h1.12M80.94 99.5h1.12M84.94 99.5h1.12"/>
<path stroke="#22a2e4" d="M81.94 .5h2.12M64.94 1.5h2.12M82.94 1.5h1.12M10.94 2.5h1.12M12.94 2.5h2.12M66.94 2.5h1.12M10.94 3.5h1.12M14.94 3.5h1.12M63.94 3.5h1.12M7.94 4.5h2.12M10.94 4.5h2.12M65.94 4.5h2.12M5.94 5.5h2.12M63.94 5.5h1.12M65.94 5.5h1.12M79.94 5.5h1.12M90.94 5.5h1.12M97.94 5.5h1.12M4.94 6.5h1.12M15.94 6.5h1.12M64.94 6.5h1.12M80.94 6.5h1.12M15.94 7.5h1.12M63.94 7.5h1.12M80.94 7.5h2.12M7.94 8.5h1.12M13.94 8.5h1.12M8.94 9.5h1.12M11.94 9.5h2.12M13.94 10.5h1.12M19.94 10.5h1.12M22.94 10.5h1.12M88.94 10.5h1.12M17.94 11.5h1.12M63.94 11.5h1.12M96.94 11.5h1.12M14.94 12.5h2.12M17.94 12.5h2.12M95.94 12.5h2.12M16.94 13.5h1.12M19.94 13.5h1.12M67.94 13.5h1.12M78.94 13.5h1.12M80.94 13.5h2.12M87.94 13.5h1.12M95.94 13.5h2.12M17.94 14.5h1.12M19.94 14.5h1.12M78.94 14.5h2.12M82.94 14.5h1.12M18.94 15.5h2.12M81.94 15.5h1.12M94.94 15.5h1.12M17.94 16.5h1.12M59.94 16.5h1.12M80.94 16.5h1.12M18.94 17.5h1.12M59.94 20.5h1.12M17.94 21.5h1.12M56.94 21.5h2.12M61.94 21.5h1.12M68.94 21.5h1.12M48.94 22.5h1.12M55.94 22.5h2.12M68.94 22.5h1.12M89.94 22.5h1.12M92.94 22.5h1.12M17.94 23.5h1.12M53.94 23.5h1.12M55.94 23.5h1.12M59.94 23.5h1.12M67.94 23.5h1.12M89.94 23.5h3.12M93.94 23.5h1.12M17.94 24.5h1.12M48.94 24.5h1.12M78.94 24.5h1.12M91.94 24.5h2.12M18.94 25.5h1.12M90.94 25.5h2.12M12.94 26.5h1.12M77.94 26.5h1.12M4.94 27.5h1.12M14.94 27.5h2.12M95.94 27.5h1.12M98.94 27.5h1.06M.94 28.5h1.12M69.94 28.5h1.12M77.94 28.5h1.12M90.94 28.5h1.12M50.94 29.5h1.12M59.94 29.5h1.12M16.94 30.5h2.12M52.94 30.5h1.12M77.94 30.5h1.12M79.94 30.5h1.12M16.94 31.5h1.12M50.94 31.5h1.12M58.94 31.5h1.12M77.94 31.5h1.12M79.94 31.5h1.12M69.94 32.5h1.12M15.94 33.5h1.12M58.94 33.5h1.12M77.94 33.5h1.12M94.94 33.5h1.12M96.94 33.5h1.12M15.94 34.5h1.12M17.94 34.5h1.12M57.94 34.5h1.12M16.94 35.5h1.12M18.94 35.5h1.12M12.94 36.5h1.12M17.94 36.5h2.12M50.94 36.5h1.12M58.94 36.5h1.12M57.94 37.5h1.12M68.94 37.5h1.12M49.94 38.5h1.12M69.94 38.5h1.12M77.94 38.5h1.12M49.94 39.5h1.12M69.94 39.5h1.12M92.94 40.5h1.12M57.94 41.5h1.12M65.94 41.5h1.12M82.94 41.5h1.12M96.94 41.5h1.12M65.94 42.5h1.12M82.94 42.5h1.12M96.94 42.5h2.12M57.94 43.5h2.12M63.94 43.5h2.12M69.94 43.5h2.12M82.94 43.5h1.12M17.94 44.5h1.12M57.94 44.5h1.12M60.94 44.5h1.12M67.94 44.5h1.12M82.94 44.5h1.12M60.94 45.5h1.12M68.94 45.5h1.12M95.94 46.5h2.12M96.94 47.5h2.12M95.94 48.5h1.12M60.94 49.5h1.12M71.94 49.5h1.12M85.94 50.5h1.12M96.94 50.5h1.12M86.94 51.5h1.12M62.94 53.5h1.12M74.94 53.5h1.12M89.94 53.5h1.12M91.94 53.5h2.12M74.94 54.5h1.12M89.94 54.5h2.12M94.94 54.5h1.12M0 55.5h4.06M8.94 55.5h1.12M71.94 55.5h1.12M88.94 55.5h3.12M93.94 55.5h1.12M9.94 56.5h1.12M64.94 56.5h1.12M71.94 56.5h2.12M75.94 56.5h1.12M86.94 56.5h1.12M89.94 56.5h1.12M10.94 57.5h1.12M74.94 57.5h1.12M88.94 57.5h1.12M68.94 58.5h1.12M74.94 58.5h1.12M94.94 58.5h4.12M10.94 59.5h1.12M13.94 59.5h1.12M68.94 59.5h1.12M74.94 59.5h1.12M91.94 59.5h1.12M95.94 59.5h1.12M98.94 59.5h1.06M72.94 60.5h4.12M98.94 60.5h1.06M69.94 61.5h2.12M73.94 61.5h3.12M93.94 61.5h1.12M97.94 61.5h1.12M70.94 62.5h2.12M77.94 62.5h1.12M87.94 62.5h1.12M91.94 62.5h1.12M96.94 62.5h1.12M61.94 63.5h1.12M78.94 63.5h1.12M88.94 63.5h1.12M90.94 63.5h1.12M65.94 64.5h2.12M70.94 64.5h1.12M73.94 64.5h1.12M75.94 64.5h1.12M90.94 64.5h1.12M70.94 65.5h4.12M75.94 65.5h1.12M70.94 66.5h2.12M73.94 66.5h2.12M76.94 66.5h1.12M53.94 67.5h1.12M70.94 67.5h1.12M76.94 67.5h1.12M88.94 67.5h1.12M72.94 68.5h2.12M76.94 68.5h2.12M65.94 69.5h1.12M77.94 69.5h2.12M70.94 70.5h3.12M78.94 70.5h1.12M69.94 71.5h1.12M84.94 71.5h1.12M68.94 72.5h2.12M82.94 72.5h2.12M59.94 73.5h1.12M86.94 73.5h1.12M85.94 75.5h1.12M89.94 75.5h1.12M86.94 76.5h1.12M67.94 77.5h2.12M87.94 77.5h1.12M89.94 77.5h1.12M65.94 79.5h1.12M91.94 79.5h2.12M68.94 80.5h1.12M63.94 81.5h1.12M93.94 81.5h1.12M95.94 81.5h1.12M62.94 82.5h1.12M61.94 83.5h1.12M94.94 83.5h2.12M60.94 84.5h1.12M63.94 84.5h1.12M95.94 84.5h1.12M59.94 85.5h1.12M62.94 85.5h1.12M52.94 87.5h1.12M58.94 87.5h1.12M60.94 87.5h1.12M60.94 88.5h1.12M66.94 88.5h1.12M14.94 89.5h1.12M57.94 89.5h4.12M64.94 89.5h1.12M58.94 90.5h1.12M67.94 91.5h2.12M7.94 92.5h1.12M64.94 92.5h1.12M67.94 92.5h1.12M1.94 93.5h1.12M58.94 93.5h2.12M61.94 93.5h1.12M66.94 93.5h1.12M68.94 93.5h1.12M58.94 94.5h1.12M66.94 94.5h1.12M77.94 94.5h2.12M62.94 95.5h1.12M65.94 96.5h1.12M78.94 96.5h1.12M80.94 96.5h2.12M80.94 97.5h1.12M83.94 97.5h1.12M85.94 97.5h1.12M95.94 97.5h1.12M58.94 98.5h1.12M63.94 98.5h1.12M65.94 98.5h1.12M76.94 98.5h2.12M80.94 98.5h2.12M89.94 98.5h1.12M96.94 98.5h1.12M5.94 99.5h1.12M7.94 99.5h1.12M57.94 99.5h1.12M59.94 99.5h2.12M83.94 99.5h1.12M85.94 99.5h1.12"/>
<path stroke="#19acdc" d="M88.94 .5h1.12M7.94 1.5h3.12M12.94 1.5h1.12M14.94 1.5h1.12M88.94 1.5h1.12M9.94 2.5h1.12M11.94 2.5h1.12M16.94 2.5h1.12M18.94 2.5h1.12M64.94 2.5h2.12M8.94 3.5h2.12M11.94 3.5h1.12M64.94 3.5h2.12M63.94 4.5h2.12M4.94 5.5h1.12M78.94 5.5h1.12M91.94 5.5h1.12M95.94 5.5h2.12M98.94 5.5h1.06M3.94 6.5h1.12M5.94 6.5h2.12M63.94 6.5h1.12M4.94 7.5h2.12M14.94 7.5h1.12M16.94 7.5h1.12M82.94 7.5h1.12M81.94 8.5h1.12M9.94 9.5h2.12M18.94 10.5h1.12M23.94 10.5h1.12M84.94 10.5h1.12M87.94 10.5h1.12M13.94 11.5h1.12M19.94 11.5h1.12M77.94 11.5h1.12M79.94 11.5h1.12M85.94 11.5h1.12M89.94 11.5h1.12M94.94 11.5h1.12M19.94 12.5h1.12M77.94 12.5h1.12M85.94 12.5h1.12M88.94 12.5h1.12M94.94 12.5h1.12M98.94 12.5h1.06M66.94 13.5h1.12M77.94 13.5h1.12M79.94 13.5h1.12M88.94 13.5h2.12M94.94 13.5h1.12M94.94 14.5h1.12M96.94 14.5h1.12M98.94 14.5h1.06M79.94 15.5h1.12M83.94 15.5h1.12M93.94 15.5h1.12M95.94 15.5h1.12M19.94 16.5h1.12M54.94 16.5h2.12M58.94 16.5h1.12M79.94 16.5h1.12M83.94 16.5h1.12M17.94 17.5h1.12M80.94 17.5h1.12M56.94 19.5h1.12M59.94 19.5h1.12M23.94 20.5h1.12M57.94 20.5h2.12M60.94 20.5h1.12M62.94 20.5h1.12M65.94 20.5h1.12M67.94 20.5h2.12M55.94 21.5h1.12M58.94 21.5h3.12M67.94 21.5h1.12M53.94 22.5h2.12M59.94 22.5h1.12M66.94 22.5h1.12M93.94 22.5h1.12M56.94 23.5h1.12M58.94 23.5h1.12M79.94 24.5h1.12M93.94 24.5h1.12M16.94 25.5h1.12M59.94 25.5h1.12M68.94 25.5h1.12M92.94 25.5h1.12M16.94 26.5h1.12M68.94 26.5h1.12M92.94 26.5h1.12M2.94 27.5h1.12M10.94 27.5h1.12M49.94 27.5h1.12M59.94 27.5h1.12M68.94 27.5h1.12M77.94 27.5h1.12M93.94 27.5h1.12M50.94 28.5h2.12M57.94 28.5h1.12M60.94 28.5h1.12M51.94 29.5h1.12M60.94 29.5h1.12M79.94 29.5h1.12M18.94 30.5h1.12M50.94 30.5h1.12M56.94 30.5h1.12M59.94 30.5h1.12M78.94 30.5h1.12M93.94 30.5h2.12M17.94 31.5h2.12M51.94 31.5h1.12M55.94 31.5h1.12M69.94 31.5h1.12M78.94 31.5h1.12M80.94 31.5h1.12M.94 32.5h1.12M16.94 32.5h1.12M18.94 32.5h1.12M50.94 32.5h2.12M59.94 32.5h1.12M68.94 32.5h1.12M78.94 32.5h2.12M0 33.5h1.06M69.94 33.5h1.12M78.94 33.5h1.12M98.94 33.5h1.06M0 34.5h1.06M69.94 34.5h1.12M95.94 34.5h1.12M57.94 35.5h1.12M79.94 35.5h1.12M81.94 35.5h1.12M4.94 36.5h1.12M7.94 36.5h1.12M10.94 36.5h1.12M13.94 36.5h2.12M16.94 36.5h1.12M52.94 36.5h1.12M68.94 36.5h1.12M79.94 36.5h1.12M50.94 37.5h1.12M58.94 37.5h1.12M78.94 37.5h2.12M56.94 38.5h1.12M68.94 38.5h1.12M57.94 39.5h1.12M98.94 40.5h1.06M15.94 41.5h1.12M64.94 41.5h1.12M66.94 41.5h2.12M92.94 41.5h1.12M94.94 41.5h2.12M63.94 42.5h1.12M66.94 42.5h1.12M69.94 42.5h1.12M95.94 42.5h1.12M3.94 43.5h1.12M56.94 43.5h1.12M61.94 43.5h2.12M95.94 43.5h1.12M59.94 44.5h1.12M70.94 44.5h1.12M95.94 44.5h1.12M57.94 45.5h1.12M69.94 45.5h1.12M82.94 45.5h1.12M57.94 46.5h1.12M60.94 46.5h1.12M93.94 46.5h2.12M22.94 47.5h1.12M91.94 47.5h1.12M93.94 47.5h1.12M70.94 48.5h1.12M82.94 48.5h1.12M93.94 48.5h2.12M70.94 49.5h1.12M72.94 49.5h1.12M81.94 49.5h1.12M85.94 49.5h1.12M95.94 49.5h1.12M98.94 49.5h1.06M60.94 50.5h1.12M73.94 50.5h1.12M81.94 50.5h1.12M97.94 50.5h1.12M53.94 51.5h1.12M72.94 51.5h2.12M84.94 51.5h2.12M58.94 52.5h1.12M62.94 52.5h1.12M74.94 52.5h1.12M58.94 53.5h1.12M64.94 53.5h1.12M72.94 53.5h2.12M87.94 53.5h2.12M90.94 53.5h1.12M93.94 53.5h2.12M57.94 54.5h1.12M62.94 54.5h1.12M65.94 54.5h1.12M72.94 54.5h2.12M87.94 54.5h1.12M57.94 55.5h1.12M62.94 55.5h1.12M72.94 55.5h2.12M87.94 55.5h1.12M92.94 55.5h1.12M94.94 55.5h3.12M0 56.5h1.06M10.94 56.5h1.12M55.94 56.5h1.12M62.94 56.5h2.12M73.94 56.5h1.12M90.94 56.5h1.12M94.94 56.5h1.12M.94 57.5h1.12M11.94 57.5h1.12M89.94 57.5h1.12M95.94 57.5h4.06M89.94 58.5h5.12M98.94 58.5h1.06M57.94 59.5h1.12M92.94 59.5h1.12M94.94 59.5h1.12M10.94 60.5h1.12M57.94 60.5h1.12M68.94 60.5h2.12M71.94 60.5h1.12M85.94 60.5h1.12M91.94 60.5h4.12M97.94 60.5h1.12M61.94 61.5h1.12M68.94 61.5h1.12M71.94 61.5h1.12M91.94 61.5h2.12M61.94 62.5h2.12M69.94 62.5h1.12M74.94 62.5h3.12M93.94 62.5h1.12M66.94 63.5h2.12M74.94 63.5h4.12M89.94 63.5h1.12M98.94 63.5h1.06M76.94 64.5h3.12M91.94 64.5h2.12M97.94 64.5h1.12M76.94 65.5h5.12M97.94 65.5h1.12M62.94 66.5h1.12M72.94 66.5h1.12M75.94 66.5h1.12M78.94 66.5h1.12M80.94 66.5h2.12M97.94 66.5h1.12M58.94 67.5h1.12M71.94 67.5h3.12M78.94 67.5h1.12M80.94 67.5h1.12M53.94 68.5h1.12M64.94 68.5h1.12M66.94 68.5h1.12M70.94 68.5h1.12M80.94 68.5h1.12M97.94 68.5h1.12M64.94 69.5h1.12M70.94 69.5h1.12M80.94 69.5h1.12M52.94 70.5h1.12M65.94 70.5h1.12M81.94 70.5h1.12M83.94 70.5h1.12M70.94 71.5h1.12M72.94 71.5h2.12M77.94 71.5h2.12M81.94 71.5h2.12M58.94 72.5h1.12M70.94 72.5h1.12M73.94 72.5h1.12M81.94 72.5h1.12M86.94 72.5h1.12M58.94 73.5h1.12M58.94 74.5h1.12M84.94 74.5h1.12M50.94 75.5h1.12M1.94 76.5h1.12M49.94 76.5h1.12M66.94 77.5h1.12M88.94 77.5h1.12M90.94 78.5h1.12M53.94 79.5h1.12M64.94 79.5h1.12M68.94 79.5h1.12M61.94 80.5h2.12M64.94 80.5h1.12M91.94 80.5h2.12M61.94 81.5h1.12M66.94 81.5h1.12M68.94 81.5h1.12M59.94 83.5h1.12M58.94 84.5h2.12M10.94 85.5h1.12M58.94 85.5h1.12M60.94 85.5h1.12M96.94 85.5h1.12M98.94 85.5h1.06M51.94 86.5h1.12M56.94 86.5h2.12M59.94 86.5h3.12M71.94 86.5h1.12M7.94 87.5h1.12M54.94 87.5h1.12M59.94 87.5h1.12M61.94 87.5h1.12M59.94 88.5h1.12M63.94 88.5h2.12M67.94 88.5h1.12M8.94 89.5h1.12M56.94 89.5h1.12M61.94 89.5h1.12M63.94 89.5h1.12M66.94 89.5h1.12M82.94 89.5h2.12M59.94 90.5h4.12M65.94 90.5h1.12M82.94 90.5h2.12M61.94 91.5h1.12M65.94 91.5h1.12M81.94 91.5h1.12M68.94 92.5h1.12M0 93.5h1.06M6.94 93.5h2.12M60.94 93.5h1.12M65.94 93.5h1.12M67.94 93.5h1.12M77.94 93.5h1.12M60.94 94.5h1.12M67.94 94.5h1.12M79.94 94.5h1.12M89.94 94.5h1.12M58.94 95.5h1.12M61.94 95.5h1.12M77.94 95.5h1.12M80.94 95.5h1.12M58.94 96.5h2.12M66.94 96.5h1.12M77.94 96.5h1.12M82.94 96.5h3.12M16.94 97.5h1.12M59.94 97.5h1.12M62.94 97.5h1.12M74.94 97.5h1.12M86.94 97.5h2.12M90.94 97.5h1.12M94.94 97.5h1.12M97.94 97.5h1.12M4.94 98.5h1.12M7.94 98.5h1.12M59.94 98.5h4.12M86.94 98.5h3.12M95.94 98.5h1.12M4.94 99.5h1.12M63.94 99.5h2.12M76.94 99.5h2.12M82.94 99.5h1.12M87.94 99.5h1.12M90.94 99.5h1.12M93.94 99.5h1.12"/>
<path stroke="#08b5d0" d="M6.94 .5h3.12M12.94 .5h1.12M14.94 .5h1.12M18.94 .5h1.12M13.94 1.5h1.12M15.94 1.5h2.12M18.94 1.5h1.12M7.94 2.5h2.12M14.94 2.5h2.12M6.94 3.5h1.12M13.94 3.5h1.12M92.94 5.5h3.12M77.94 6.5h1.12M3.94 7.5h1.12M6.94 7.5h1.12M78.94 7.5h2.12M84.94 7.5h1.12M1.94 8.5h1.12M3.94 8.5h1.12M79.94 8.5h2.12M82.94 8.5h2.12M98.94 8.5h1.06M80.94 9.5h1.12M83.94 9.5h1.12M12.94 10.5h1.12M77.94 10.5h1.12M85.94 10.5h2.12M95.94 10.5h1.12M66.94 11.5h1.12M84.94 11.5h1.12M92.94 11.5h1.12M98.94 11.5h1.06M13.94 12.5h1.12M67.94 12.5h1.12M78.94 12.5h3.12M89.94 12.5h1.12M97.94 12.5h1.12M15.94 13.5h1.12M97.94 13.5h2.06M83.94 14.5h1.12M88.94 14.5h2.12M82.94 15.5h1.12M84.94 15.5h1.12M96.94 15.5h1.12M57.94 16.5h1.12M81.94 16.5h1.12M93.94 16.5h3.12M52.94 17.5h1.12M82.94 17.5h1.12M77.94 18.5h1.12M82.94 18.5h2.12M17.94 19.5h1.12M57.94 19.5h2.12M84.94 19.5h1.12M16.94 20.5h2.12M49.94 20.5h1.12M56.94 20.5h1.12M63.94 20.5h2.12M66.94 20.5h1.12M54.94 21.5h1.12M66.94 21.5h1.12M78.94 21.5h1.12M90.94 21.5h1.12M94.94 21.5h1.12M18.94 22.5h1.12M57.94 22.5h2.12M64.94 22.5h1.12M78.94 22.5h2.12M94.94 22.5h1.12M51.94 23.5h2.12M54.94 23.5h1.12M57.94 23.5h1.12M64.94 23.5h1.12M78.94 23.5h1.12M18.94 24.5h1.12M51.94 24.5h1.12M53.94 24.5h1.12M55.94 24.5h2.12M80.94 24.5h1.12M94.94 24.5h1.12M19.94 25.5h1.12M67.94 25.5h1.12M78.94 25.5h1.12M81.94 25.5h1.12M58.94 26.5h1.12M67.94 26.5h1.12M79.94 26.5h2.12M.94 27.5h2.12M3.94 27.5h1.12M57.94 27.5h1.12M0 28.5h1.06M.94 29.5h1.12M52.94 29.5h1.12M56.94 29.5h1.12M61.94 29.5h1.12M.94 30.5h1.12M53.94 30.5h1.12M60.94 30.5h2.12M69.94 30.5h1.12M92.94 30.5h1.12M0 31.5h2.06M54.94 31.5h1.12M59.94 31.5h2.12M68.94 31.5h1.12M0 32.5h1.06M17.94 32.5h1.12M22.94 32.5h1.12M53.94 32.5h1.12M55.94 32.5h1.12M58.94 32.5h1.12M60.94 32.5h1.12M93.94 32.5h1.12M16.94 33.5h2.12M22.94 33.5h1.12M52.94 33.5h1.12M59.94 33.5h1.12M97.94 33.5h1.12M16.94 34.5h1.12M18.94 34.5h1.12M58.94 34.5h1.12M78.94 34.5h1.12M94.94 34.5h1.12M2.94 35.5h1.12M50.94 35.5h1.12M68.94 35.5h1.12M78.94 35.5h1.12M80.94 35.5h1.12M3.94 36.5h1.12M11.94 36.5h1.12M15.94 36.5h1.12M51.94 36.5h1.12M59.94 36.5h1.12M64.94 36.5h1.12M78.94 36.5h1.12M80.94 36.5h2.12M18.94 37.5h1.12M51.94 37.5h2.12M59.94 37.5h2.12M80.94 37.5h2.12M78.94 38.5h2.12M81.94 38.5h1.12M68.94 39.5h1.12M79.94 39.5h1.12M81.94 39.5h1.12M50.94 40.5h1.12M57.94 40.5h1.12M64.94 40.5h1.12M68.94 40.5h1.12M82.94 40.5h1.12M86.94 40.5h1.12M91.94 40.5h1.12M93.94 40.5h1.12M63.94 41.5h1.12M68.94 41.5h1.12M91.94 41.5h1.12M93.94 41.5h1.12M2.94 42.5h1.12M16.94 42.5h1.12M56.94 42.5h1.12M58.94 42.5h1.12M61.94 42.5h2.12M67.94 42.5h2.12M92.94 42.5h2.12M16.94 43.5h2.12M55.94 43.5h1.12M60.94 43.5h1.12M68.94 43.5h1.12M93.94 43.5h2.12M22.94 44.5h1.12M61.94 44.5h1.12M64.94 44.5h1.12M68.94 44.5h2.12M92.94 44.5h1.12M18.94 45.5h1.12M65.94 45.5h3.12M92.94 45.5h4.12M18.94 46.5h1.12M66.94 46.5h2.12M69.94 46.5h1.12M92.94 46.5h1.12M69.94 47.5h1.12M83.94 47.5h1.12M92.94 47.5h1.12M94.94 47.5h2.12M60.94 48.5h1.12M84.94 48.5h2.12M92.94 48.5h1.12M53.94 49.5h1.12M58.94 49.5h1.12M69.94 49.5h1.12M84.94 49.5h1.12M93.94 49.5h1.12M72.94 50.5h1.12M84.94 50.5h1.12M86.94 50.5h2.12M95.94 50.5h1.12M59.94 51.5h1.12M87.94 51.5h1.12M96.94 51.5h1.12M63.94 52.5h1.12M72.94 52.5h2.12M87.94 52.5h2.12M90.94 52.5h2.12M97.94 52.5h1.12M57.94 53.5h1.12M59.94 53.5h1.12M13.94 54.5h2.12M55.94 54.5h1.12M58.94 54.5h1.12M60.94 54.5h2.12M95.94 54.5h1.12M3.94 55.5h2.12M9.94 55.5h2.12M55.94 55.5h2.12M61.94 55.5h1.12M66.94 55.5h1.12M91.94 55.5h1.12M11.94 56.5h1.12M19.94 56.5h1.12M56.94 56.5h1.12M61.94 56.5h1.12M93.94 56.5h1.12M95.94 56.5h1.12M18.94 57.5h1.12M56.94 57.5h1.12M65.94 57.5h1.12M70.94 57.5h1.12M90.94 57.5h1.12M94.94 57.5h1.12M56.94 58.5h1.12M70.94 58.5h1.12M11.94 59.5h1.12M14.94 59.5h2.12M85.94 59.5h1.12M93.94 59.5h1.12M60.94 60.5h1.12M60.94 61.5h1.12M98.94 61.5h1.06M60.94 62.5h1.12M66.94 62.5h1.12M92.94 62.5h1.12M97.94 62.5h1.12M62.94 63.5h1.12M65.94 63.5h1.12M69.94 63.5h1.12M91.94 63.5h1.12M94.94 63.5h1.12M96.94 63.5h2.12M62.94 64.5h1.12M89.94 64.5h1.12M98.94 64.5h1.06M98.94 65.5h1.06M55.94 66.5h1.12M59.94 66.5h3.12M63.94 66.5h1.12M77.94 66.5h1.12M79.94 66.5h1.12M98.94 66.5h1.06M63.94 67.5h1.12M77.94 67.5h1.12M79.94 67.5h1.12M97.94 67.5h2.06M63.94 68.5h1.12M69.94 68.5h1.12M71.94 68.5h1.12M78.94 68.5h2.12M79.94 69.5h1.12M68.94 70.5h2.12M79.94 70.5h2.12M67.94 71.5h2.12M71.94 71.5h1.12M79.94 71.5h2.12M60.94 72.5h1.12M72.94 72.5h1.12M75.94 72.5h1.12M80.94 72.5h1.12M60.94 73.5h2.12M63.94 73.5h1.12M65.94 73.5h1.12M59.94 74.5h1.12M61.94 74.5h3.12M67.94 74.5h1.12M63.94 75.5h1.12M60.94 76.5h1.12M85.94 76.5h1.12M61.94 77.5h1.12M65.94 77.5h1.12M64.94 78.5h2.12M68.94 78.5h1.12M88.94 78.5h1.12M61.94 79.5h2.12M63.94 80.5h1.12M55.94 81.5h1.12M60.94 81.5h1.12M67.94 81.5h1.12M60.94 82.5h2.12M68.94 82.5h1.12M71.94 82.5h1.12M73.94 82.5h1.12M93.94 82.5h1.12M60.94 83.5h1.12M72.94 83.5h1.12M49.94 84.5h1.12M94.94 84.5h1.12M97.94 85.5h1.12M52.94 86.5h1.12M55.94 86.5h1.12M58.94 86.5h1.12M62.94 86.5h1.12M68.94 86.5h1.12M70.94 86.5h1.12M53.94 87.5h1.12M67.94 87.5h2.12M76.94 87.5h1.12M8.94 88.5h1.12M65.94 88.5h1.12M75.94 88.5h2.12M98.94 88.5h1.06M62.94 89.5h1.12M84.94 89.5h1.12M66.94 90.5h2.12M73.94 90.5h1.12M84.94 90.5h2.12M15.94 91.5h1.12M59.94 91.5h2.12M66.94 91.5h1.12M72.94 91.5h1.12M82.94 91.5h1.12M84.94 91.5h2.12M65.94 92.5h2.12M69.94 92.5h1.12M74.94 92.5h1.12M81.94 92.5h2.12M74.94 93.5h1.12M76.94 93.5h1.12M84.94 93.5h1.12M97.94 93.5h2.06M7.94 94.5h1.12M59.94 94.5h1.12M61.94 94.5h1.12M68.94 94.5h1.12M73.94 94.5h1.12M75.94 94.5h1.12M88.94 94.5h1.12M6.94 95.5h1.12M59.94 95.5h2.12M67.94 95.5h1.12M74.94 95.5h1.12M88.94 95.5h1.12M90.94 95.5h1.12M60.94 96.5h2.12M74.94 96.5h1.12M76.94 96.5h1.12M85.94 96.5h1.12M87.94 96.5h1.12M94.94 96.5h2.12M5.94 97.5h1.12M60.94 97.5h2.12M66.94 97.5h1.12M76.94 97.5h2.12M96.94 97.5h1.12M98.94 97.5h1.06M3.94 98.5h1.12M5.94 98.5h2.12M16.94 98.5h1.12M66.94 98.5h1.12M75.94 98.5h1.12M94.94 98.5h1.12M97.94 98.5h2.06M8.94 99.5h1.12M16.94 99.5h1.12M62.94 99.5h1.12M65.94 99.5h3.12M72.94 99.5h1.12M75.94 99.5h1.12M81.94 99.5h1.12M86.94 99.5h1.12M88.94 99.5h1.12M91.94 99.5h2.12M94.94 99.5h1.12M98.94 99.5h1.06"/>
<path stroke="#05bbc1" d="M13.94 .5h1.12M15.94 .5h1.12M92.94 .5h1.12M6.94 1.5h1.12M10.94 1.5h2.12M92.94 1.5h3.12M6.94 2.5h1.12M17.94 2.5h1.12M5.94 3.5h1.12M7.94 3.5h1.12M4.94 4.5h1.12M79.94 6.5h1.12M98.94 6.5h1.06M77.94 7.5h1.12M83.94 7.5h1.12M98.94 7.5h1.06M2.94 8.5h1.12M4.94 8.5h3.12M77.94 8.5h2.12M84.94 8.5h1.12M1.94 9.5h4.12M6.94 9.5h2.12M77.94 9.5h3.12M81.94 9.5h2.12M84.94 9.5h1.12M98.94 9.5h1.06M79.94 10.5h1.12M82.94 10.5h2.12M89.94 10.5h2.12M94.94 10.5h1.12M96.94 10.5h1.12M98.94 10.5h1.06M18.94 11.5h1.12M78.94 11.5h1.12M80.94 11.5h1.12M83.94 11.5h1.12M91.94 11.5h1.12M93.94 11.5h1.12M97.94 11.5h1.12M90.94 12.5h4.12M14.94 13.5h1.12M85.94 13.5h2.12M92.94 13.5h1.12M16.94 14.5h1.12M77.94 14.5h1.12M84.94 14.5h1.12M97.94 14.5h1.12M16.94 15.5h1.12M24.94 15.5h1.12M78.94 15.5h1.12M98.94 15.5h1.06M16.94 16.5h1.12M56.94 16.5h1.12M82.94 16.5h1.12M19.94 17.5h1.12M55.94 17.5h1.12M79.94 17.5h1.12M81.94 17.5h1.12M83.94 17.5h1.12M17.94 18.5h2.12M79.94 18.5h2.12M88.94 18.5h1.12M18.94 19.5h1.12M83.94 19.5h1.12M85.94 19.5h1.12M87.94 19.5h3.12M55.94 20.5h1.12M78.94 20.5h2.12M84.94 20.5h1.12M49.94 21.5h1.12M51.94 21.5h2.12M64.94 21.5h2.12M79.94 21.5h2.12M93.94 21.5h1.12M95.94 21.5h1.12M52.94 22.5h1.12M65.94 22.5h1.12M80.94 22.5h1.12M14.94 23.5h1.12M18.94 23.5h1.12M50.94 23.5h1.12M61.94 23.5h1.12M65.94 23.5h2.12M79.94 23.5h2.12M19.94 24.5h1.12M52.94 24.5h1.12M54.94 24.5h1.12M64.94 24.5h1.12M81.94 24.5h1.12M89.94 24.5h1.12M52.94 25.5h1.12M56.94 25.5h1.12M58.94 25.5h1.12M60.94 25.5h2.12M80.94 25.5h1.12M15.94 26.5h1.12M57.94 26.5h1.12M78.94 26.5h1.12M93.94 26.5h2.12M96.94 26.5h1.12M50.94 27.5h1.12M60.94 27.5h1.12M67.94 27.5h1.12M79.94 27.5h1.12M61.94 28.5h2.12M68.94 28.5h1.12M0 29.5h1.06M19.94 29.5h1.12M22.94 29.5h1.12M53.94 29.5h1.12M69.94 29.5h1.12M78.94 29.5h1.12M0 30.5h1.06M22.94 30.5h1.12M80.94 30.5h1.12M91.94 30.5h1.12M22.94 31.5h1.12M81.94 31.5h1.12M93.94 31.5h1.12M18.94 33.5h1.12M53.94 33.5h1.12M68.94 33.5h1.12M93.94 33.5h1.12M53.94 34.5h1.12M55.94 34.5h1.12M79.94 34.5h1.12M81.94 34.5h1.12M0 35.5h1.06M51.94 35.5h2.12M59.94 35.5h2.12M63.94 35.5h3.12M82.94 35.5h1.12M95.94 35.5h1.12M5.94 36.5h2.12M60.94 36.5h1.12M17.94 37.5h1.12M62.94 37.5h2.12M50.94 38.5h2.12M58.94 38.5h1.12M80.94 38.5h1.12M13.94 39.5h1.12M56.94 39.5h1.12M64.94 39.5h1.12M86.94 39.5h1.12M13.94 40.5h2.12M63.94 40.5h1.12M65.94 40.5h1.12M90.94 40.5h1.12M95.94 40.5h1.12M97.94 40.5h1.12M3.94 41.5h1.12M14.94 41.5h1.12M59.94 41.5h1.12M62.94 41.5h1.12M90.94 41.5h1.12M3.94 42.5h1.12M91.94 42.5h1.12M94.94 42.5h1.12M59.94 43.5h1.12M90.94 43.5h2.12M0 44.5h1.06M2.94 44.5h1.12M51.94 44.5h1.12M56.94 44.5h1.12M62.94 44.5h2.12M83.94 44.5h1.12M93.94 44.5h2.12M0 45.5h1.06M17.94 45.5h1.12M22.94 45.5h1.12M61.94 45.5h1.12M63.94 45.5h1.12M91.94 45.5h1.12M19.94 46.5h1.12M22.94 46.5h1.12M52.94 46.5h1.12M61.94 46.5h1.12M65.94 46.5h1.12M68.94 46.5h1.12M82.94 46.5h1.12M52.94 47.5h1.12M60.94 47.5h1.12M65.94 47.5h1.12M90.94 47.5h1.12M83.94 48.5h1.12M91.94 48.5h1.12M82.94 49.5h1.12M86.94 49.5h1.12M94.94 49.5h1.12M10.94 50.5h1.12M13.94 50.5h1.12M53.94 50.5h1.12M59.94 50.5h1.12M70.94 50.5h2.12M83.94 50.5h1.12M94.94 50.5h1.12M98.94 50.5h1.06M21.94 51.5h1.12M58.94 51.5h1.12M60.94 51.5h3.12M88.94 51.5h2.12M95.94 51.5h1.12M97.94 51.5h1.12M8.94 52.5h1.12M57.94 52.5h1.12M59.94 52.5h1.12M92.94 52.5h1.12M7.94 53.5h2.12M14.94 53.5h1.12M61.94 53.5h1.12M98.94 53.5h1.06M0 54.5h2.06M2.94 54.5h1.12M4.94 54.5h1.12M8.94 54.5h2.12M11.94 54.5h1.12M11.94 55.5h3.12M58.94 55.5h1.12M70.94 55.5h1.12M13.94 56.5h1.12M67.94 56.5h2.12M70.94 56.5h1.12M91.94 56.5h1.12M96.94 56.5h3.06M12.94 57.5h2.12M57.94 57.5h1.12M60.94 57.5h3.12M68.94 57.5h1.12M91.94 57.5h3.12M1.94 58.5h1.12M11.94 58.5h1.12M13.94 58.5h2.12M57.94 58.5h1.12M85.94 58.5h1.12M59.94 59.5h1.12M67.94 59.5h1.12M69.94 59.5h1.12M58.94 60.5h2.12M61.94 60.5h1.12M70.94 60.5h1.12M59.94 61.5h1.12M62.94 61.5h1.12M65.94 62.5h1.12M67.94 62.5h2.12M63.94 63.5h2.12M92.94 63.5h2.12M63.94 64.5h1.12M67.94 64.5h1.12M69.94 65.5h1.12M57.94 66.5h2.12M67.94 66.5h1.12M54.94 67.5h1.12M57.94 67.5h1.12M59.94 67.5h4.12M67.94 67.5h1.12M69.94 67.5h1.12M54.94 68.5h1.12M58.94 68.5h1.12M62.94 68.5h1.12M67.94 68.5h2.12M3.94 69.5h1.12M54.94 69.5h1.12M66.94 69.5h2.12M69.94 69.5h1.12M53.94 70.5h2.12M64.94 70.5h1.12M67.94 70.5h1.12M52.94 71.5h1.12M59.94 71.5h6.12M59.94 72.5h1.12M61.94 72.5h4.12M74.94 72.5h1.12M77.94 72.5h2.12M57.94 73.5h1.12M66.94 73.5h1.12M71.94 73.5h1.12M82.94 73.5h1.12M60.94 74.5h1.12M83.94 74.5h1.12M59.94 75.5h2.12M62.94 75.5h1.12M64.94 75.5h1.12M67.94 75.5h1.12M71.94 75.5h1.12M51.94 76.5h1.12M63.94 76.5h1.12M67.94 76.5h1.12M71.94 76.5h1.12M48.94 77.5h1.12M53.94 77.5h1.12M60.94 77.5h1.12M69.94 77.5h3.12M53.94 78.5h1.12M61.94 78.5h2.12M70.94 78.5h1.12M87.94 78.5h1.12M89.94 78.5h1.12M52.94 79.5h1.12M63.94 79.5h1.12M70.94 79.5h2.12M46.94 80.5h1.12M53.94 80.5h2.12M60.94 80.5h1.12M71.94 80.5h1.12M54.94 81.5h1.12M59.94 81.5h1.12M69.94 81.5h2.12M55.94 82.5h2.12M65.94 82.5h3.12M92.94 82.5h1.12M58.94 83.5h1.12M64.94 83.5h1.12M73.94 83.5h2.12M93.94 83.5h1.12M57.94 84.5h1.12M71.94 84.5h1.12M51.94 85.5h1.12M57.94 85.5h1.12M68.94 85.5h1.12M70.94 85.5h1.12M95.94 85.5h1.12M11.94 86.5h1.12M53.94 86.5h2.12M67.94 86.5h1.12M69.94 86.5h1.12M96.94 86.5h3.06M71.94 87.5h1.12M77.94 87.5h1.12M97.94 87.5h2.06M9.94 88.5h1.12M58.94 88.5h1.12M62.94 88.5h1.12M68.94 88.5h1.12M67.94 89.5h2.12M68.94 90.5h1.12M74.94 90.5h1.12M81.94 90.5h1.12M86.94 90.5h1.12M69.94 91.5h1.12M71.94 91.5h1.12M73.94 91.5h1.12M83.94 91.5h1.12M86.94 91.5h1.12M97.94 91.5h1.12M70.94 92.5h1.12M73.94 92.5h1.12M76.94 92.5h1.12M84.94 92.5h2.12M8.94 93.5h1.12M69.94 93.5h1.12M75.94 93.5h1.12M78.94 93.5h1.12M82.94 93.5h2.12M85.94 93.5h1.12M88.94 93.5h1.12M4.94 94.5h3.12M8.94 94.5h1.12M74.94 94.5h1.12M76.94 94.5h1.12M80.94 94.5h5.12M86.94 94.5h2.12M97.94 94.5h2.06M7.94 95.5h1.12M68.94 95.5h1.12M76.94 95.5h1.12M81.94 95.5h4.12M86.94 95.5h2.12M5.94 96.5h3.12M72.94 96.5h1.12M75.94 96.5h1.12M90.94 96.5h1.12M96.94 96.5h2.12M4.94 97.5h1.12M6.94 97.5h2.12M67.94 97.5h2.12M72.94 97.5h2.12M75.94 97.5h1.12M67.94 98.5h8.12M91.94 98.5h1.12M93.94 98.5h1.12M2.94 99.5h2.12M61.94 99.5h1.12M71.94 99.5h1.12M73.94 99.5h2.12M89.94 99.5h1.12M96.94 99.5h2.12"/>
<path stroke="#20c1b1" d="M10.94 .5h2.12M16.94 .5h2.12M91.94 .5h1.12M93.94 .5h1.12M17.94 1.5h1.12M5.94 2.5h1.12M3.94 5.5h1.12M64.94 5.5h1.12M78.94 6.5h1.12M89.94 6.5h1.12M97.94 6.5h1.12M2.94 7.5h1.12M.94 8.5h1.12M97.94 8.5h1.12M0 9.5h2.06M95.94 9.5h1.12M97.94 9.5h1.12M9.94 10.5h3.12M78.94 10.5h1.12M80.94 10.5h2.12M91.94 10.5h3.12M97.94 10.5h1.12M21.94 11.5h1.12M90.94 11.5h1.12M66.94 12.5h1.12M84.94 12.5h1.12M2.94 13.5h1.12M13.94 13.5h1.12M82.94 13.5h1.12M90.94 13.5h2.12M13.94 14.5h2.12M20.94 14.5h1.12M24.94 14.5h1.12M93.94 14.5h1.12M20.94 15.5h1.12M77.94 15.5h1.12M91.94 15.5h2.12M97.94 15.5h1.12M77.94 16.5h1.12M84.94 16.5h2.12M92.94 16.5h1.12M97.94 16.5h2.06M16.94 17.5h1.12M54.94 17.5h1.12M57.94 17.5h2.12M19.94 18.5h1.12M51.94 18.5h1.12M57.94 18.5h1.12M78.94 18.5h1.12M81.94 18.5h1.12M84.94 18.5h1.12M87.94 18.5h1.12M89.94 18.5h2.12M95.94 18.5h2.12M55.94 19.5h1.12M78.94 19.5h2.12M86.94 19.5h1.12M90.94 19.5h1.12M18.94 20.5h1.12M52.94 20.5h1.12M54.94 20.5h1.12M82.94 20.5h2.12M85.94 20.5h1.12M88.94 20.5h3.12M94.94 20.5h1.12M18.94 21.5h1.12M50.94 21.5h1.12M53.94 21.5h1.12M62.94 21.5h2.12M89.94 21.5h1.12M96.94 21.5h2.12M50.94 22.5h2.12M61.94 22.5h3.12M95.94 22.5h1.12M13.94 23.5h1.12M49.94 23.5h1.12M63.94 23.5h1.12M88.94 23.5h1.12M94.94 23.5h1.12M49.94 24.5h2.12M57.94 24.5h2.12M61.94 24.5h2.12M65.94 24.5h2.12M6.94 25.5h1.12M53.94 25.5h1.12M55.94 25.5h1.12M57.94 25.5h1.12M89.94 25.5h1.12M93.94 25.5h2.12M6.94 26.5h3.12M19.94 26.5h1.12M49.94 26.5h2.12M60.94 26.5h1.12M81.94 26.5h1.12M89.94 26.5h1.12M97.94 26.5h2.06M0 27.5h1.06M51.94 27.5h1.12M56.94 27.5h1.12M61.94 27.5h1.12M63.94 27.5h1.12M80.94 27.5h1.12M89.94 27.5h1.12M19.94 28.5h1.12M52.94 28.5h1.12M63.94 28.5h1.12M67.94 28.5h1.12M78.94 28.5h2.12M55.94 29.5h1.12M62.94 29.5h1.12M64.94 29.5h1.12M68.94 29.5h1.12M80.94 29.5h1.12M90.94 29.5h1.12M54.94 30.5h1.12M81.94 30.5h1.12M61.94 31.5h1.12M54.94 32.5h1.12M.94 33.5h1.12M55.94 33.5h1.12M79.94 33.5h1.12M22.94 34.5h1.12M50.94 34.5h1.12M52.94 34.5h1.12M54.94 34.5h1.12M59.94 34.5h2.12M68.94 34.5h1.12M80.94 34.5h1.12M82.94 34.5h2.12M53.94 35.5h3.12M58.94 35.5h1.12M66.94 35.5h1.12M94.94 35.5h1.12M19.94 36.5h1.12M53.94 36.5h1.12M55.94 36.5h1.12M61.94 36.5h3.12M65.94 36.5h1.12M7.94 37.5h3.12M16.94 37.5h1.12M19.94 37.5h1.12M61.94 37.5h1.12M64.94 37.5h1.12M66.94 37.5h2.12M88.94 37.5h1.12M97.94 37.5h2.06M52.94 38.5h1.12M59.94 38.5h2.12M66.94 38.5h1.12M82.94 38.5h1.12M86.94 38.5h1.12M88.94 38.5h1.12M98.94 38.5h1.06M51.94 39.5h1.12M58.94 39.5h1.12M63.94 39.5h1.12M65.94 39.5h3.12M80.94 39.5h1.12M82.94 39.5h1.12M85.94 39.5h1.12M87.94 39.5h1.12M98.94 39.5h1.06M51.94 40.5h1.12M56.94 40.5h1.12M58.94 40.5h2.12M66.94 40.5h2.12M87.94 40.5h1.12M94.94 40.5h1.12M96.94 40.5h1.12M2.94 41.5h1.12M56.94 41.5h1.12M58.94 41.5h1.12M60.94 41.5h2.12M86.94 41.5h1.12M.94 42.5h2.12M4.94 42.5h1.12M15.94 42.5h1.12M52.94 42.5h1.12M60.94 42.5h1.12M0 43.5h1.06M2.94 43.5h1.12M4.94 43.5h1.12M15.94 43.5h1.12M50.94 43.5h1.12M92.94 43.5h1.12M55.94 44.5h1.12M91.94 44.5h1.12M.94 45.5h1.12M51.94 45.5h1.12M64.94 45.5h1.12M84.94 45.5h1.12M84.94 46.5h1.12M86.94 46.5h2.12M90.94 46.5h2.12M12.94 47.5h1.12M66.94 47.5h2.12M85.94 47.5h1.12M88.94 47.5h2.12M68.94 48.5h1.12M86.94 48.5h1.12M12.94 49.5h1.12M83.94 49.5h1.12M9.94 50.5h1.12M11.94 50.5h2.12M14.94 50.5h1.12M58.94 50.5h1.12M61.94 50.5h1.12M68.94 50.5h2.12M82.94 50.5h1.12M88.94 50.5h1.12M8.94 51.5h3.12M63.94 51.5h1.12M68.94 51.5h2.12M90.94 51.5h1.12M98.94 51.5h1.06M9.94 52.5h1.12M12.94 52.5h1.12M60.94 52.5h2.12M68.94 52.5h1.12M89.94 52.5h1.12M96.94 52.5h1.12M98.94 52.5h1.06M5.94 53.5h2.12M9.94 53.5h1.12M60.94 53.5h1.12M1.94 54.5h1.12M10.94 54.5h1.12M12.94 54.5h1.12M59.94 54.5h1.12M69.94 54.5h1.12M71.94 54.5h1.12M96.94 54.5h1.12M60.94 55.5h1.12M67.94 55.5h1.12M69.94 55.5h1.12M97.94 55.5h1.12M12.94 56.5h1.12M14.94 56.5h1.12M57.94 56.5h1.12M69.94 56.5h1.12M15.94 57.5h1.12M63.94 57.5h2.12M12.94 58.5h1.12M58.94 58.5h3.12M66.94 58.5h1.12M69.94 58.5h1.12M60.94 59.5h1.12M70.94 59.5h1.12M67.94 61.5h1.12M63.94 62.5h2.12M98.94 62.5h1.06M68.94 63.5h1.12M69.94 64.5h1.12M63.94 65.5h1.12M67.94 65.5h2.12M56.94 66.5h1.12M68.94 66.5h2.12M68.94 67.5h1.12M3.94 68.5h1.12M57.94 68.5h1.12M59.94 68.5h2.12M53.94 69.5h1.12M55.94 69.5h1.12M57.94 69.5h3.12M62.94 69.5h2.12M68.94 69.5h1.12M58.94 70.5h1.12M61.94 70.5h3.12M58.94 71.5h1.12M52.94 72.5h1.12M71.94 72.5h1.12M79.94 72.5h1.12M51.94 73.5h1.12M62.94 73.5h1.12M64.94 73.5h1.12M73.94 73.5h1.12M81.94 73.5h1.12M56.94 74.5h2.12M64.94 74.5h1.12M58.94 75.5h1.12M61.94 75.5h1.12M65.94 75.5h1.12M84.94 75.5h1.12M50.94 76.5h1.12M59.94 76.5h1.12M61.94 76.5h2.12M64.94 76.5h3.12M73.94 76.5h1.12M51.94 77.5h2.12M62.94 77.5h2.12M72.94 77.5h1.12M86.94 77.5h1.12M47.94 78.5h1.12M51.94 78.5h2.12M63.94 78.5h1.12M71.94 78.5h1.12M54.94 79.5h1.12M69.94 79.5h1.12M89.94 79.5h2.12M59.94 80.5h1.12M69.94 80.5h2.12M72.94 80.5h1.12M56.94 81.5h2.12M71.94 81.5h1.12M73.94 81.5h1.12M91.94 81.5h2.12M59.94 82.5h1.12M69.94 82.5h2.12M72.94 82.5h1.12M55.94 83.5h1.12M57.94 83.5h1.12M67.94 83.5h1.12M69.94 83.5h1.12M71.94 83.5h1.12M92.94 83.5h1.12M50.94 84.5h1.12M64.94 84.5h1.12M68.94 84.5h1.12M70.94 84.5h1.12M50.94 85.5h1.12M52.94 85.5h2.12M69.94 85.5h1.12M72.94 85.5h1.12M94.94 85.5h1.12M8.94 86.5h1.12M72.94 86.5h1.12M76.94 86.5h1.12M8.94 87.5h1.12M11.94 87.5h2.12M62.94 87.5h1.12M66.94 87.5h1.12M69.94 87.5h2.12M72.94 87.5h1.12M75.94 87.5h1.12M96.94 87.5h1.12M12.94 88.5h1.12M69.94 88.5h1.12M71.94 88.5h2.12M74.94 88.5h1.12M77.94 88.5h1.12M82.94 88.5h2.12M97.94 88.5h1.12M9.94 89.5h1.12M72.94 89.5h4.12M85.94 89.5h1.12M97.94 89.5h2.06M8.94 90.5h1.12M71.94 90.5h2.12M75.94 90.5h1.12M70.94 91.5h1.12M74.94 91.5h2.12M80.94 91.5h1.12M96.94 91.5h1.12M72.94 92.5h1.12M75.94 92.5h1.12M80.94 92.5h1.12M83.94 92.5h1.12M86.94 92.5h3.12M96.94 92.5h3.06M70.94 93.5h4.12M81.94 93.5h1.12M86.94 93.5h2.12M89.94 93.5h1.12M2.94 94.5h2.12M69.94 94.5h1.12M71.94 94.5h2.12M85.94 94.5h1.12M3.94 95.5h1.12M5.94 95.5h1.12M11.94 95.5h1.12M72.94 95.5h2.12M75.94 95.5h1.12M85.94 95.5h1.12M97.94 95.5h2.06M4.94 96.5h1.12M67.94 96.5h2.12M73.94 96.5h1.12M86.94 96.5h1.12M98.94 96.5h1.06M3.94 97.5h1.12M69.94 97.5h1.12M93.94 97.5h1.12M8.94 98.5h1.12M14.94 98.5h1.12M13.94 99.5h1.12M68.94 99.5h3.12M95.94 99.5h1.12"/>
<path stroke="#31c69f" d="M4.94 .5h1.12M9.94 .5h1.12M89.94 .5h2.12M94.94 .5h1.12M89.94 1.5h3.12M2.94 6.5h1.12M1.94 7.5h1.12M85.94 7.5h1.12M87.94 7.5h1.12M97.94 7.5h1.12M91.94 8.5h1.12M87.94 9.5h2.12M96.94 9.5h1.12M.94 10.5h1.12M3.94 10.5h1.12M8.94 10.5h1.12M0 12.5h1.06M20.94 13.5h1.12M84.94 13.5h1.12M0 14.5h1.06M1.94 14.5h3.12M15.94 14.5h1.12M85.94 14.5h1.12M90.94 14.5h3.12M3.94 15.5h1.12M15.94 15.5h1.12M85.94 15.5h1.12M20.94 16.5h1.12M78.94 16.5h1.12M86.94 16.5h1.12M96.94 16.5h1.12M53.94 17.5h1.12M56.94 17.5h1.12M77.94 17.5h2.12M84.94 17.5h1.12M86.94 17.5h1.12M88.94 17.5h1.12M94.94 17.5h3.12M8.94 18.5h1.12M16.94 18.5h1.12M56.94 18.5h1.12M58.94 18.5h2.12M85.94 18.5h2.12M8.94 19.5h1.12M10.94 19.5h1.12M50.94 19.5h2.12M82.94 19.5h1.12M91.94 19.5h1.12M94.94 19.5h3.12M51.94 20.5h1.12M53.94 20.5h1.12M86.94 20.5h2.12M91.94 20.5h1.12M93.94 20.5h1.12M95.94 20.5h1.12M81.94 21.5h1.12M84.94 21.5h2.12M91.94 21.5h1.12M98.94 21.5h1.06M19.94 22.5h1.12M49.94 22.5h1.12M88.94 22.5h1.12M81.94 23.5h1.12M95.94 23.5h2.12M63.94 24.5h1.12M12.94 25.5h1.12M49.94 25.5h3.12M54.94 25.5h1.12M62.94 25.5h2.12M82.94 25.5h1.12M95.94 25.5h3.12M5.94 26.5h1.12M56.94 26.5h1.12M62.94 26.5h1.12M66.94 26.5h1.12M82.94 26.5h1.12M95.94 26.5h1.12M19.94 27.5h1.12M52.94 27.5h1.12M62.94 27.5h1.12M64.94 27.5h1.12M66.94 27.5h1.12M78.94 27.5h1.12M56.94 28.5h1.12M64.94 28.5h1.12M89.94 28.5h1.12M63.94 29.5h1.12M81.94 29.5h1.12M19.94 30.5h1.12M55.94 30.5h1.12M62.94 30.5h2.12M68.94 30.5h1.12M62.94 31.5h1.12M67.94 32.5h1.12M80.94 32.5h1.12M19.94 33.5h1.12M50.94 33.5h2.12M54.94 33.5h1.12M60.94 33.5h1.12M84.94 33.5h1.12M2.94 34.5h1.12M51.94 34.5h1.12M61.94 34.5h2.12M84.94 34.5h1.12M93.94 34.5h1.12M19.94 35.5h1.12M62.94 35.5h1.12M67.94 35.5h1.12M2.94 36.5h1.12M66.94 36.5h2.12M82.94 36.5h1.12M96.94 36.5h1.12M3.94 37.5h3.12M13.94 37.5h1.12M15.94 37.5h1.12M53.94 37.5h1.12M55.94 37.5h1.12M65.94 37.5h1.12M18.94 38.5h1.12M61.94 38.5h1.12M64.94 38.5h2.12M67.94 38.5h1.12M87.94 38.5h1.12M97.94 38.5h1.12M4.94 39.5h1.12M59.94 39.5h1.12M83.94 39.5h1.12M89.94 39.5h1.12M97.94 39.5h1.12M3.94 40.5h1.12M62.94 40.5h1.12M85.94 40.5h1.12M0 41.5h3.06M13.94 41.5h1.12M50.94 41.5h1.12M83.94 41.5h1.12M17.94 42.5h1.12M50.94 42.5h2.12M54.94 42.5h2.12M59.94 42.5h1.12M83.94 42.5h1.12M90.94 42.5h1.12M.94 43.5h1.12M19.94 43.5h1.12M22.94 43.5h1.12M51.94 43.5h2.12M54.94 43.5h1.12M83.94 43.5h1.12M.94 44.5h2.12M16.94 44.5h1.12M18.94 44.5h1.12M52.94 44.5h1.12M54.94 44.5h1.12M84.94 44.5h1.12M90.94 44.5h1.12M2.94 45.5h1.12M52.94 45.5h1.12M54.94 45.5h3.12M62.94 45.5h1.12M83.94 45.5h1.12M85.94 45.5h1.12M90.94 45.5h1.12M0 46.5h2.06M13.94 46.5h2.12M53.94 46.5h2.12M62.94 46.5h1.12M64.94 46.5h1.12M83.94 46.5h1.12M85.94 46.5h1.12M88.94 46.5h2.12M11.94 47.5h1.12M13.94 47.5h1.12M57.94 47.5h1.12M68.94 47.5h1.12M84.94 47.5h1.12M86.94 47.5h2.12M11.94 48.5h2.12M53.94 48.5h2.12M64.94 48.5h4.12M69.94 48.5h1.12M90.94 48.5h1.12M61.94 49.5h1.12M64.94 49.5h2.12M68.94 49.5h1.12M92.94 49.5h1.12M6.94 50.5h1.12M8.94 50.5h1.12M20.94 50.5h2.12M57.94 50.5h1.12M64.94 50.5h1.12M93.94 50.5h1.12M7.94 51.5h1.12M12.94 51.5h3.12M20.94 51.5h1.12M57.94 51.5h1.12M64.94 51.5h1.12M67.94 51.5h1.12M71.94 51.5h1.12M6.94 52.5h2.12M11.94 52.5h1.12M13.94 52.5h1.12M54.94 52.5h1.12M56.94 52.5h1.12M64.94 52.5h1.12M69.94 52.5h1.12M71.94 52.5h1.12M93.94 52.5h1.12M0 53.5h1.06M10.94 53.5h4.12M54.94 53.5h1.12M65.94 53.5h1.12M71.94 53.5h1.12M95.94 53.5h1.12M97.94 53.5h1.12M3.94 54.5h1.12M15.94 54.5h1.12M56.94 54.5h1.12M66.94 54.5h1.12M68.94 54.5h1.12M70.94 54.5h1.12M14.94 55.5h2.12M59.94 55.5h1.12M68.94 55.5h1.12M15.94 56.5h2.12M18.94 56.5h1.12M58.94 56.5h1.12M60.94 56.5h1.12M92.94 56.5h1.12M0 57.5h1.06M17.94 57.5h1.12M59.94 57.5h1.12M.94 58.5h1.12M61.94 58.5h2.12M1.94 59.5h1.12M58.94 59.5h1.12M61.94 59.5h1.12M67.94 60.5h1.12M3.94 63.5h1.12M64.94 64.5h1.12M3.94 65.5h1.12M3.94 66.5h1.12M56.94 67.5h1.12M55.94 68.5h2.12M60.94 69.5h2.12M55.94 70.5h1.12M57.94 70.5h1.12M53.94 71.5h1.12M57.94 72.5h1.12M76.94 72.5h1.12M56.94 73.5h1.12M51.94 74.5h1.12M55.94 74.5h1.12M65.94 74.5h1.12M71.94 74.5h3.12M82.94 74.5h1.12M1.94 75.5h1.12M51.94 75.5h1.12M55.94 75.5h1.12M57.94 75.5h1.12M72.94 75.5h2.12M78.94 75.5h1.12M72.94 76.5h1.12M78.94 76.5h1.12M49.94 77.5h2.12M55.94 77.5h1.12M59.94 77.5h1.12M64.94 77.5h1.12M78.94 77.5h2.12M49.94 78.5h2.12M54.94 78.5h2.12M60.94 78.5h1.12M69.94 78.5h1.12M72.94 78.5h2.12M80.94 78.5h1.12M82.94 78.5h1.12M85.94 78.5h2.12M46.94 79.5h1.12M51.94 79.5h1.12M60.94 79.5h1.12M72.94 79.5h1.12M87.94 79.5h1.12M52.94 80.5h1.12M55.94 80.5h1.12M58.94 81.5h1.12M72.94 81.5h1.12M87.94 81.5h1.12M54.94 82.5h1.12M57.94 82.5h2.12M74.94 82.5h1.12M86.94 82.5h1.12M54.94 83.5h1.12M56.94 83.5h1.12M68.94 83.5h1.12M75.94 83.5h1.12M51.94 84.5h2.12M67.94 84.5h1.12M69.94 84.5h1.12M72.94 84.5h3.12M93.94 84.5h1.12M55.94 85.5h1.12M63.94 85.5h1.12M71.94 85.5h1.12M76.94 85.5h1.12M9.94 86.5h2.12M75.94 86.5h1.12M77.94 86.5h2.12M95.94 86.5h1.12M9.94 87.5h2.12M63.94 87.5h1.12M73.94 87.5h1.12M11.94 88.5h1.12M13.94 88.5h1.12M73.94 88.5h1.12M96.94 88.5h1.12M69.94 89.5h1.12M71.94 89.5h1.12M77.94 89.5h1.12M81.94 89.5h1.12M69.94 90.5h2.12M76.94 90.5h2.12M97.94 90.5h2.06M76.94 91.5h2.12M87.94 91.5h1.12M95.94 91.5h1.12M8.94 92.5h1.12M15.94 92.5h1.12M71.94 92.5h1.12M77.94 92.5h2.12M95.94 92.5h1.12M.94 93.5h1.12M80.94 93.5h1.12M95.94 93.5h2.12M0 94.5h1.06M9.94 94.5h1.12M13.94 94.5h1.12M15.94 94.5h1.12M70.94 94.5h1.12M90.94 94.5h1.12M96.94 94.5h1.12M4.94 95.5h1.12M8.94 95.5h3.12M13.94 95.5h1.12M15.94 95.5h1.12M69.94 95.5h1.12M94.94 95.5h3.12M3.94 96.5h1.12M8.94 96.5h1.12M71.94 96.5h1.12M93.94 96.5h1.12M15.94 97.5h1.12M70.94 97.5h2.12M13.94 98.5h1.12M92.94 98.5h1.12"/>
<path stroke="#43ca8b" d="M.94 .5h3.12M5.94 .5h1.12M95.94 .5h1.12M97.94 .5h2.06M95.94 1.5h4.06M4.94 3.5h1.12M3.94 4.5h1.12M91.94 6.5h1.12M86.94 7.5h1.12M0 8.5h1.06M85.94 8.5h1.12M88.94 8.5h1.12M96.94 8.5h1.12M5.94 9.5h1.12M85.94 9.5h2.12M89.94 9.5h2.12M94.94 9.5h1.12M0 10.5h1.06M2.94 10.5h1.12M4.94 10.5h1.12M7.94 10.5h1.12M0 11.5h1.06M2.94 11.5h1.12M5.94 11.5h1.12M12.94 11.5h1.12M20.94 11.5h1.12M81.94 11.5h2.12M2.94 12.5h2.12M81.94 12.5h3.12M0 13.5h1.06M1.94 13.5h1.12M3.94 13.5h1.12M83.94 13.5h1.12M93.94 13.5h1.12M.94 14.5h1.12M4.94 14.5h1.12M21.94 14.5h2.12M86.94 14.5h2.12M.94 15.5h2.12M4.94 15.5h1.12M13.94 15.5h1.12M21.94 15.5h2.12M86.94 15.5h1.12M89.94 15.5h2.12M8.94 16.5h2.12M11.94 16.5h1.12M15.94 16.5h1.12M87.94 16.5h1.12M4.94 17.5h1.12M7.94 17.5h1.12M24.94 17.5h1.12M85.94 17.5h1.12M87.94 17.5h1.12M97.94 17.5h2.06M5.94 18.5h1.12M10.94 18.5h2.12M14.94 18.5h2.12M52.94 18.5h1.12M55.94 18.5h1.12M94.94 18.5h1.12M6.94 19.5h2.12M9.94 19.5h1.12M11.94 19.5h1.12M16.94 19.5h1.12M19.94 19.5h1.12M80.94 19.5h2.12M92.94 19.5h1.12M97.94 19.5h1.12M8.94 20.5h1.12M19.94 20.5h1.12M50.94 20.5h1.12M80.94 20.5h2.12M92.94 20.5h1.12M97.94 20.5h2.06M15.94 21.5h1.12M19.94 21.5h1.12M22.94 21.5h1.12M82.94 21.5h2.12M92.94 21.5h1.12M14.94 22.5h1.12M81.94 22.5h1.12M96.94 22.5h1.12M98.94 22.5h1.06M12.94 23.5h1.12M19.94 23.5h2.12M62.94 23.5h1.12M97.94 23.5h1.12M12.94 24.5h2.12M88.94 24.5h1.12M95.94 24.5h2.12M20.94 25.5h1.12M64.94 25.5h3.12M88.94 25.5h1.12M4.94 26.5h1.12M9.94 26.5h3.12M51.94 26.5h3.12M61.94 26.5h1.12M63.94 26.5h3.12M55.94 27.5h1.12M65.94 27.5h1.12M81.94 27.5h1.12M22.94 28.5h1.12M53.94 28.5h1.12M65.94 28.5h2.12M80.94 28.5h2.12M20.94 29.5h1.12M54.94 29.5h1.12M64.94 30.5h1.12M64.94 31.5h1.12M92.94 31.5h1.12M19.94 32.5h1.12M81.94 32.5h1.12M92.94 32.5h1.12M1.94 33.5h1.12M61.94 33.5h1.12M80.94 33.5h3.12M85.94 33.5h1.12M92.94 33.5h1.12M19.94 34.5h1.12M64.94 34.5h2.12M67.94 34.5h1.12M86.94 34.5h1.12M.94 35.5h1.12M61.94 35.5h1.12M83.94 35.5h1.12M0 36.5h2.06M54.94 36.5h1.12M88.94 36.5h1.12M97.94 36.5h2.06M6.94 37.5h1.12M12.94 37.5h1.12M82.94 37.5h1.12M87.94 37.5h1.12M89.94 37.5h1.12M96.94 37.5h1.12M2.94 38.5h1.12M4.94 38.5h3.12M8.94 38.5h1.12M13.94 38.5h1.12M19.94 38.5h1.12M55.94 38.5h1.12M62.94 38.5h2.12M89.94 38.5h1.12M0 39.5h1.06M1.94 39.5h1.12M14.94 39.5h1.12M50.94 39.5h1.12M52.94 39.5h2.12M60.94 39.5h3.12M88.94 39.5h1.12M90.94 39.5h2.12M0 40.5h1.06M2.94 40.5h1.12M5.94 40.5h1.12M15.94 40.5h1.12M22.94 40.5h1.12M52.94 40.5h2.12M60.94 40.5h2.12M83.94 40.5h2.12M88.94 40.5h2.12M4.94 41.5h1.12M10.94 41.5h1.12M51.94 41.5h3.12M87.94 41.5h1.12M0 42.5h1.06M5.94 42.5h1.12M11.94 42.5h1.12M14.94 42.5h1.12M18.94 42.5h2.12M53.94 42.5h1.12M1.94 43.5h1.12M5.94 43.5h1.12M18.94 43.5h1.12M53.94 43.5h1.12M3.94 44.5h1.12M15.94 44.5h1.12M53.94 44.5h1.12M1.94 45.5h1.12M3.94 45.5h1.12M13.94 45.5h1.12M16.94 45.5h1.12M19.94 45.5h1.12M53.94 45.5h1.12M1.94 46.5h1.12M12.94 46.5h1.12M20.94 46.5h1.12M55.94 46.5h1.12M63.94 46.5h1.12M0 47.5h2.06M14.94 47.5h1.12M19.94 47.5h1.12M54.94 47.5h1.12M56.94 47.5h1.12M61.94 47.5h1.12M63.94 47.5h2.12M0 48.5h1.06M5.94 48.5h1.12M13.94 48.5h1.12M57.94 48.5h1.12M62.94 48.5h1.12M89.94 48.5h1.12M7.94 49.5h2.12M10.94 49.5h2.12M13.94 49.5h1.12M21.94 49.5h1.12M54.94 49.5h1.12M57.94 49.5h1.12M63.94 49.5h1.12M66.94 49.5h1.12M87.94 49.5h1.12M7.94 50.5h1.12M62.94 50.5h2.12M65.94 50.5h3.12M89.94 50.5h1.12M6.94 51.5h1.12M11.94 51.5h1.12M15.94 51.5h1.12M65.94 51.5h2.12M70.94 51.5h1.12M94.94 51.5h1.12M10.94 52.5h1.12M14.94 52.5h1.12M66.94 52.5h2.12M95.94 52.5h1.12M15.94 53.5h1.12M66.94 53.5h3.12M70.94 53.5h1.12M96.94 53.5h1.12M67.94 54.5h1.12M98.94 54.5h1.06M17.94 56.5h1.12M59.94 56.5h1.12M14.94 57.5h1.12M16.94 57.5h1.12M58.94 57.5h1.12M69.94 57.5h1.12M15.94 58.5h2.12M63.94 58.5h1.12M.94 59.5h1.12M63.94 61.5h1.12M66.94 61.5h1.12M2.94 62.5h1.12M3.94 64.5h1.12M68.94 64.5h1.12M3.94 67.5h1.12M55.94 67.5h1.12M61.94 68.5h1.12M56.94 69.5h1.12M59.94 70.5h2.12M57.94 71.5h1.12M53.94 72.5h1.12M52.94 73.5h1.12M55.94 73.5h1.12M72.94 73.5h1.12M74.94 73.5h3.12M80.94 73.5h1.12M66.94 74.5h1.12M74.94 74.5h4.12M81.94 74.5h1.12M56.94 75.5h1.12M66.94 75.5h1.12M76.94 75.5h2.12M79.94 75.5h1.12M.94 76.5h1.12M52.94 76.5h1.12M54.94 76.5h3.12M58.94 76.5h1.12M77.94 76.5h1.12M79.94 76.5h3.12M84.94 76.5h1.12M73.94 77.5h1.12M80.94 77.5h1.12M82.94 77.5h1.12M85.94 77.5h1.12M48.94 78.5h1.12M75.94 78.5h1.12M81.94 78.5h1.12M83.94 78.5h1.12M55.94 79.5h1.12M73.94 79.5h2.12M78.94 79.5h1.12M82.94 79.5h1.12M88.94 79.5h1.12M58.94 80.5h1.12M73.94 80.5h2.12M90.94 80.5h1.12M87.94 82.5h1.12M91.94 82.5h1.12M49.94 83.5h1.12M65.94 83.5h1.12M70.94 83.5h1.12M53.94 84.5h4.12M75.94 84.5h2.12M54.94 85.5h1.12M56.94 85.5h1.12M67.94 85.5h1.12M74.94 85.5h1.12M77.94 85.5h1.12M94.94 86.5h1.12M65.94 87.5h1.12M74.94 87.5h1.12M94.94 87.5h2.12M10.94 88.5h1.12M70.94 88.5h1.12M85.94 88.5h1.12M76.94 89.5h1.12M96.94 89.5h1.12M10.94 90.5h1.12M95.94 90.5h2.12M8.94 91.5h1.12M79.94 92.5h1.12M15.94 93.5h1.12M79.94 93.5h1.12M10.94 94.5h1.12M12.94 94.5h1.12M14.94 94.5h1.12M94.94 94.5h2.12M12.94 95.5h1.12M14.94 95.5h1.12M70.94 95.5h2.12M14.94 96.5h2.12M69.94 96.5h2.12M8.94 97.5h1.12M13.94 97.5h2.12M2.94 98.5h1.12M11.94 98.5h2.12M15.94 98.5h1.12M9.94 99.5h1.12M12.94 99.5h1.12M14.94 99.5h1.12"/>
<path stroke="#5fcd73" d="M3.94 .5h1.12M96.94 .5h1.12M0 1.5h1.06M1.94 1.5h1.12M5.94 1.5h1.12M4.94 2.5h1.12M3.94 3.5h1.12M90.94 6.5h1.12M92.94 6.5h1.12M0 7.5h1.06M89.94 7.5h1.12M96.94 7.5h1.12M87.94 8.5h1.12M90.94 8.5h1.12M93.94 8.5h1.12M95.94 8.5h1.12M91.94 9.5h1.12M1.94 10.5h1.12M5.94 10.5h2.12M1.94 11.5h1.12M3.94 11.5h2.12M.94 13.5h1.12M4.94 13.5h1.12M0 15.5h1.06M5.94 15.5h1.12M12.94 15.5h1.12M14.94 15.5h1.12M0 16.5h1.06M1.94 16.5h1.12M3.94 16.5h2.12M7.94 16.5h1.12M12.94 16.5h3.12M21.94 16.5h2.12M88.94 16.5h1.12M9.94 17.5h1.12M11.94 17.5h2.12M14.94 17.5h2.12M20.94 17.5h1.12M59.94 17.5h1.12M89.94 17.5h1.12M93.94 17.5h1.12M9.94 18.5h1.12M12.94 18.5h2.12M23.94 18.5h1.12M91.94 18.5h1.12M97.94 18.5h2.06M5.94 19.5h1.12M12.94 19.5h2.12M15.94 19.5h1.12M23.94 19.5h1.12M52.94 19.5h1.12M54.94 19.5h1.12M93.94 19.5h1.12M98.94 19.5h1.06M9.94 20.5h4.12M21.94 20.5h2.12M96.94 20.5h1.12M3.94 21.5h1.12M11.94 21.5h1.12M21.94 21.5h1.12M86.94 21.5h1.12M3.94 22.5h2.12M12.94 22.5h2.12M22.94 22.5h1.12M85.94 22.5h1.12M97.94 22.5h1.12M11.94 23.5h1.12M21.94 23.5h1.12M83.94 23.5h1.12M87.94 23.5h1.12M20.94 24.5h2.12M82.94 24.5h1.12M87.94 24.5h1.12M97.94 24.5h1.12M5.94 25.5h1.12M7.94 25.5h1.12M10.94 25.5h2.12M22.94 25.5h1.12M87.94 25.5h1.12M98.94 25.5h1.06M.94 26.5h1.12M20.94 26.5h1.12M54.94 26.5h2.12M20.94 27.5h1.12M53.94 27.5h1.12M54.94 28.5h2.12M21.94 29.5h1.12M65.94 29.5h1.12M67.94 29.5h1.12M65.94 30.5h1.12M67.94 30.5h1.12M19.94 31.5h1.12M63.94 31.5h1.12M65.94 31.5h1.12M67.94 31.5h1.12M82.94 31.5h1.12M20.94 32.5h2.12M61.94 32.5h1.12M91.94 32.5h1.12M21.94 33.5h1.12M67.94 33.5h1.12M83.94 33.5h1.12M86.94 33.5h1.12M.94 34.5h1.12M63.94 34.5h1.12M66.94 34.5h1.12M85.94 34.5h1.12M96.94 34.5h1.12M22.94 35.5h1.12M84.94 35.5h1.12M88.94 35.5h1.12M96.94 35.5h1.12M89.94 36.5h1.12M95.94 36.5h1.12M0 37.5h4.06M14.94 37.5h1.12M0 38.5h2.06M3.94 38.5h1.12M7.94 38.5h1.12M9.94 38.5h1.12M14.94 38.5h1.12M17.94 38.5h1.12M53.94 38.5h1.12M85.94 38.5h1.12M90.94 38.5h1.12M96.94 38.5h1.12M.94 39.5h1.12M3.94 39.5h1.12M5.94 39.5h4.12M10.94 39.5h1.12M19.94 39.5h1.12M21.94 39.5h2.12M84.94 39.5h1.12M.94 40.5h2.12M4.94 40.5h1.12M7.94 40.5h6.12M19.94 40.5h1.12M21.94 40.5h1.12M5.94 41.5h1.12M7.94 41.5h3.12M11.94 41.5h1.12M16.94 41.5h4.12M21.94 41.5h2.12M54.94 41.5h1.12M84.94 41.5h1.12M6.94 42.5h2.12M10.94 42.5h1.12M12.94 42.5h1.12M22.94 42.5h1.12M84.94 42.5h1.12M13.94 43.5h1.12M84.94 43.5h1.12M4.94 44.5h1.12M14.94 45.5h1.12M20.94 45.5h1.12M87.94 45.5h1.12M3.94 46.5h1.12M16.94 46.5h1.12M21.94 46.5h1.12M56.94 46.5h1.12M21.94 47.5h1.12M53.94 47.5h1.12M55.94 47.5h1.12M62.94 47.5h1.12M7.94 48.5h1.12M10.94 48.5h1.12M14.94 48.5h1.12M20.94 48.5h2.12M61.94 48.5h1.12M63.94 48.5h1.12M87.94 48.5h1.12M4.94 49.5h1.12M6.94 49.5h1.12M9.94 49.5h1.12M14.94 49.5h1.12M55.94 49.5h2.12M62.94 49.5h1.12M67.94 49.5h1.12M15.94 50.5h1.12M54.94 50.5h1.12M56.94 50.5h1.12M92.94 50.5h1.12M54.94 51.5h1.12M92.94 51.5h1.12M5.94 52.5h1.12M20.94 52.5h1.12M65.94 52.5h1.12M70.94 52.5h1.12M94.94 52.5h1.12M4.94 53.5h1.12M56.94 53.5h1.12M69.94 53.5h1.12M20.94 54.5h1.12M97.94 54.5h1.12M19.94 55.5h1.12M62.94 59.5h1.12M1.94 60.5h1.12M62.94 60.5h1.12M56.94 70.5h1.12M54.94 73.5h1.12M78.94 73.5h1.12M54.94 74.5h1.12M54.94 75.5h1.12M74.94 75.5h2.12M80.94 75.5h2.12M53.94 76.5h1.12M57.94 76.5h1.12M74.94 76.5h2.12M56.94 77.5h1.12M74.94 77.5h4.12M81.94 77.5h1.12M83.94 77.5h2.12M56.94 78.5h1.12M74.94 78.5h1.12M77.94 78.5h3.12M84.94 78.5h1.12M47.94 79.5h1.12M50.94 79.5h1.12M56.94 79.5h1.12M59.94 79.5h1.12M81.94 79.5h1.12M83.94 79.5h1.12M86.94 79.5h1.12M57.94 80.5h1.12M87.94 80.5h3.12M47.94 81.5h1.12M86.94 81.5h1.12M88.94 81.5h1.12M90.94 81.5h1.12M85.94 82.5h1.12M88.94 82.5h1.12M50.94 83.5h1.12M53.94 83.5h1.12M66.94 83.5h1.12M73.94 85.5h1.12M75.94 85.5h1.12M78.94 85.5h1.12M63.94 86.5h2.12M73.94 86.5h1.12M93.94 86.5h1.12M64.94 87.5h1.12M81.94 87.5h2.12M81.94 88.5h1.12M84.94 88.5h1.12M95.94 88.5h1.12M10.94 89.5h2.12M13.94 89.5h1.12M70.94 89.5h1.12M86.94 89.5h1.12M95.94 89.5h1.12M14.94 90.5h1.12M78.94 90.5h1.12M80.94 90.5h1.12M87.94 90.5h1.12M78.94 91.5h1.12M94.94 91.5h1.12M98.94 91.5h1.06M89.94 92.5h1.12M94.94 92.5h1.12M14.94 93.5h1.12M90.94 93.5h1.12M93.94 93.5h2.12M.94 94.5h1.12M11.94 94.5h1.12M1.94 95.5h2.12M93.94 95.5h1.12M0 96.5h1.06M9.94 96.5h3.12M13.94 96.5h1.12M2.94 97.5h1.12M10.94 97.5h1.12M12.94 97.5h1.12M91.94 97.5h1.12M10.94 99.5h2.12M15.94 99.5h1.12"/>
<path stroke="#7fcc5a" d="M0 .5h1.06M.94 1.5h1.12M2.94 1.5h2.12M3.94 2.5h1.12M1.94 6.5h1.12M93.94 6.5h2.12M96.94 6.5h1.12M.94 7.5h1.12M88.94 7.5h1.12M90.94 7.5h5.12M86.94 8.5h1.12M89.94 8.5h1.12M92.94 8.5h1.12M94.94 8.5h1.12M92.94 9.5h2.12M6.94 11.5h4.12M22.94 11.5h1.12M.94 12.5h2.12M4.94 12.5h1.12M12.94 12.5h1.12M20.94 12.5h1.12M12.94 13.5h1.12M5.94 14.5h1.12M12.94 14.5h1.12M23.94 14.5h1.12M2.94 15.5h1.12M6.94 15.5h4.12M11.94 15.5h1.12M23.94 15.5h1.12M87.94 15.5h2.12M.94 16.5h1.12M2.94 16.5h1.12M5.94 16.5h2.12M10.94 16.5h1.12M23.94 16.5h1.12M0 17.5h1.06M5.94 17.5h2.12M8.94 17.5h1.12M10.94 17.5h1.12M13.94 17.5h1.12M22.94 17.5h1.12M4.94 18.5h1.12M6.94 18.5h2.12M54.94 18.5h1.12M93.94 18.5h1.12M4.94 19.5h1.12M14.94 19.5h1.12M22.94 19.5h1.12M53.94 19.5h1.12M3.94 20.5h1.12M5.94 20.5h3.12M4.94 21.5h1.12M6.94 21.5h1.12M8.94 21.5h3.12M12.94 21.5h2.12M20.94 21.5h1.12M87.94 21.5h2.12M11.94 22.5h1.12M20.94 22.5h2.12M82.94 22.5h1.12M86.94 22.5h2.12M3.94 23.5h4.12M10.94 23.5h1.12M22.94 23.5h1.12M84.94 23.5h3.12M98.94 23.5h1.06M5.94 24.5h2.12M10.94 24.5h2.12M22.94 24.5h1.12M83.94 24.5h1.12M86.94 24.5h1.12M98.94 24.5h1.06M8.94 25.5h2.12M21.94 25.5h1.12M1.94 26.5h1.12M3.94 26.5h1.12M21.94 26.5h2.12M88.94 26.5h1.12M22.94 27.5h1.12M54.94 27.5h1.12M82.94 27.5h2.12M83.94 28.5h1.12M66.94 29.5h1.12M89.94 29.5h1.12M20.94 30.5h1.12M90.94 30.5h1.12M20.94 31.5h2.12M91.94 31.5h1.12M66.94 32.5h1.12M82.94 32.5h4.12M20.94 33.5h1.12M66.94 33.5h1.12M91.94 33.5h1.12M21.94 34.5h1.12M92.94 34.5h1.12M97.94 34.5h2.06M20.94 35.5h1.12M86.94 35.5h1.12M93.94 35.5h1.12M97.94 35.5h1.12M1.94 36.5h1.12M22.94 36.5h1.12M83.94 36.5h1.12M87.94 36.5h1.12M10.94 37.5h2.12M54.94 37.5h1.12M83.94 37.5h1.12M90.94 37.5h1.12M10.94 38.5h3.12M15.94 38.5h1.12M22.94 38.5h1.12M54.94 38.5h1.12M83.94 38.5h1.12M2.94 39.5h1.12M9.94 39.5h1.12M11.94 39.5h2.12M18.94 39.5h1.12M55.94 39.5h1.12M96.94 39.5h1.12M6.94 40.5h1.12M18.94 40.5h1.12M54.94 40.5h2.12M6.94 41.5h1.12M12.94 41.5h1.12M20.94 41.5h1.12M85.94 41.5h1.12M89.94 41.5h1.12M9.94 42.5h1.12M13.94 42.5h1.12M85.94 42.5h1.12M20.94 43.5h2.12M85.94 43.5h1.12M89.94 43.5h1.12M14.94 44.5h1.12M19.94 44.5h3.12M85.94 44.5h2.12M11.94 45.5h1.12M86.94 45.5h1.12M2.94 46.5h1.12M4.94 46.5h1.12M11.94 46.5h1.12M15.94 46.5h1.12M17.94 46.5h1.12M1.94 47.5h1.12M4.94 47.5h3.12M10.94 47.5h1.12M15.94 47.5h1.12M20.94 47.5h1.12M.94 48.5h1.12M4.94 48.5h1.12M6.94 48.5h1.12M8.94 48.5h2.12M15.94 48.5h1.12M55.94 48.5h2.12M88.94 48.5h1.12M0 49.5h1.06M5.94 49.5h1.12M88.94 49.5h2.12M91.94 49.5h1.12M0 50.5h1.06M5.94 50.5h1.12M55.94 50.5h1.12M90.94 50.5h1.12M55.94 51.5h2.12M91.94 51.5h1.12M93.94 51.5h1.12M.94 52.5h1.12M15.94 52.5h1.12M55.94 52.5h1.12M.94 53.5h1.12M2.94 53.5h2.12M20.94 53.5h1.12M55.94 53.5h1.12M16.94 54.5h1.12M16.94 55.5h1.12M98.94 55.5h1.06M0 58.5h1.06M65.94 58.5h1.12M65.94 59.5h1.12M0 60.5h1.06M64.94 61.5h2.12M54.94 71.5h3.12M54.94 72.5h1.12M56.94 72.5h1.12M77.94 73.5h1.12M79.94 73.5h1.12M1.94 74.5h1.12M80.94 74.5h1.12M.94 75.5h1.12M52.94 75.5h1.12M82.94 75.5h2.12M0 76.5h1.06M76.94 76.5h1.12M83.94 76.5h1.12M54.94 77.5h1.12M58.94 77.5h1.12M57.94 78.5h1.12M58.94 79.5h1.12M79.94 79.5h2.12M84.94 79.5h2.12M51.94 80.5h1.12M56.94 80.5h1.12M78.94 80.5h2.12M85.94 80.5h2.12M74.94 81.5h1.12M78.94 81.5h2.12M85.94 81.5h1.12M79.94 82.5h1.12M51.94 83.5h2.12M86.94 83.5h2.12M91.94 83.5h1.12M65.94 84.5h1.12M77.94 84.5h1.12M86.94 84.5h1.12M64.94 85.5h1.12M92.94 85.5h2.12M66.94 86.5h1.12M74.94 86.5h1.12M79.94 86.5h1.12M81.94 86.5h1.12M92.94 87.5h2.12M94.94 88.5h1.12M12.94 89.5h1.12M9.94 90.5h1.12M11.94 90.5h1.12M79.94 90.5h1.12M93.94 90.5h1.12M14.94 91.5h1.12M79.94 91.5h1.12M88.94 91.5h1.12M93.94 91.5h1.12M14.94 92.5h1.12M1.94 94.5h1.12M93.94 94.5h1.12M0 95.5h2.06M91.94 95.5h1.12M2.94 96.5h1.12M12.94 96.5h1.12M91.94 96.5h1.12M9.94 97.5h1.12M11.94 97.5h1.12M92.94 97.5h1.12M.94 98.5h2.12M9.94 98.5h2.12M.94 99.5h2.12"/>
<path stroke="#a2c840" d="M4.94 1.5h1.12M1.94 2.5h1.12M2.94 3.5h1.12M2.94 5.5h1.12M95.94 6.5h1.12M.94 11.5h1.12M23.94 11.5h1.12M6.94 12.5h1.12M21.94 12.5h1.12M5.94 13.5h1.12M21.94 13.5h1.12M10.94 15.5h1.12M24.94 16.5h1.12M90.94 16.5h1.12M.94 17.5h4.12M21.94 17.5h1.12M23.94 17.5h1.12M90.94 17.5h1.12M92.94 17.5h1.12M2.94 18.5h2.12M20.94 18.5h3.12M53.94 18.5h1.12M3.94 19.5h1.12M4.94 20.5h1.12M13.94 20.5h3.12M20.94 20.5h1.12M5.94 21.5h1.12M14.94 21.5h1.12M2.94 22.5h1.12M5.94 22.5h1.12M84.94 22.5h1.12M2.94 23.5h1.12M82.94 23.5h1.12M4.94 24.5h1.12M7.94 24.5h2.12M84.94 24.5h1.12M1.94 25.5h2.12M4.94 25.5h1.12M83.94 25.5h1.12M0 26.5h1.06M2.94 26.5h1.12M83.94 26.5h1.12M21.94 28.5h1.12M82.94 29.5h1.12M21.94 30.5h1.12M66.94 30.5h1.12M82.94 30.5h2.12M66.94 31.5h1.12M83.94 31.5h1.12M90.94 31.5h1.12M62.94 32.5h2.12M86.94 32.5h1.12M87.94 33.5h1.12M90.94 33.5h1.12M1.94 34.5h1.12M1.94 35.5h1.12M21.94 35.5h1.12M87.94 35.5h1.12M89.94 35.5h1.12M20.94 36.5h1.12M84.94 36.5h1.12M86.94 36.5h1.12M94.94 36.5h1.12M20.94 37.5h1.12M22.94 37.5h1.12M84.94 37.5h1.12M86.94 37.5h1.12M1.94 38.5h1.12M16.94 38.5h1.12M21.94 38.5h1.12M84.94 38.5h1.12M91.94 38.5h1.12M15.94 39.5h3.12M20.94 39.5h1.12M54.94 39.5h1.12M92.94 39.5h1.12M16.94 40.5h1.12M20.94 40.5h1.12M88.94 41.5h1.12M8.94 42.5h1.12M20.94 42.5h2.12M86.94 42.5h2.12M89.94 42.5h1.12M6.94 43.5h1.12M12.94 43.5h1.12M14.94 43.5h1.12M5.94 44.5h1.12M12.94 44.5h2.12M4.94 45.5h1.12M12.94 45.5h1.12M15.94 45.5h1.12M21.94 45.5h1.12M89.94 45.5h1.12M5.94 46.5h1.12M10.94 46.5h1.12M2.94 47.5h2.12M9.94 47.5h1.12M17.94 47.5h2.12M3.94 48.5h1.12M18.94 48.5h1.12M3.94 49.5h1.12M20.94 49.5h1.12M90.94 49.5h1.12M16.94 50.5h1.12M19.94 50.5h1.12M0 52.5h1.06M1.94 53.5h1.12M17.94 53.5h1.12M17.94 55.5h1.12M64.94 58.5h1.12M0 59.5h1.06M66.94 59.5h1.12M.94 60.5h1.12M65.94 60.5h2.12M2.94 65.5h1.12M2.94 67.5h1.12M55.94 72.5h1.12M53.94 73.5h1.12M.94 74.5h1.12M52.94 74.5h1.12M78.94 74.5h2.12M53.94 75.5h1.12M82.94 76.5h1.12M57.94 77.5h1.12M58.94 78.5h2.12M76.94 78.5h1.12M48.94 79.5h2.12M57.94 79.5h1.12M75.94 79.5h1.12M47.94 80.5h1.12M80.94 80.5h1.12M83.94 80.5h1.12M53.94 81.5h1.12M75.94 81.5h1.12M80.94 81.5h1.12M84.94 81.5h1.12M89.94 81.5h1.12M53.94 82.5h1.12M75.94 82.5h1.12M80.94 82.5h1.12M84.94 82.5h1.12M89.94 82.5h2.12M76.94 83.5h1.12M85.94 83.5h1.12M90.94 83.5h1.12M66.94 84.5h1.12M84.94 84.5h2.12M91.94 84.5h2.12M66.94 85.5h1.12M81.94 85.5h1.12M85.94 85.5h1.12M65.94 86.5h1.12M80.94 86.5h1.12M91.94 86.5h2.12M78.94 87.5h1.12M83.94 87.5h1.12M86.94 87.5h1.12M91.94 87.5h1.12M78.94 88.5h1.12M86.94 88.5h1.12M90.94 88.5h1.12M93.94 88.5h1.12M87.94 89.5h1.12M91.94 89.5h2.12M12.94 90.5h1.12M92.94 90.5h1.12M94.94 90.5h1.12M89.94 91.5h1.12M90.94 92.5h1.12M93.94 92.5h1.12M9.94 93.5h1.12M13.94 93.5h1.12M.94 96.5h1.12M.94 97.5h1.12M0 99.5h1.06"/>
<path stroke="#c1c32d" d="M0 2.5h2.06M2.94 2.5h1.12M0 6.5h2.06M95.94 7.5h1.12M5.94 12.5h1.12M7.94 12.5h1.12M22.94 12.5h1.12M7.94 13.5h1.12M22.94 13.5h1.12M8.94 14.5h2.12M11.94 14.5h1.12M89.94 16.5h1.12M91.94 16.5h1.12M91.94 17.5h1.12M0 18.5h1.06M92.94 18.5h1.12M2.94 19.5h1.12M21.94 19.5h1.12M2.94 20.5h1.12M7.94 21.5h1.12M6.94 22.5h1.12M8.94 22.5h1.12M10.94 22.5h1.12M83.94 22.5h1.12M7.94 23.5h1.12M2.94 24.5h2.12M9.94 24.5h1.12M.94 25.5h1.12M3.94 25.5h1.12M84.94 25.5h1.12M21.94 27.5h1.12M88.94 27.5h1.12M20.94 28.5h1.12M82.94 28.5h1.12M84.94 28.5h1.12M88.94 28.5h1.12M83.94 29.5h2.12M84.94 31.5h2.12M90.94 32.5h1.12M62.94 33.5h4.12M20.94 34.5h1.12M87.94 34.5h2.12M90.94 34.5h2.12M85.94 35.5h1.12M98.94 35.5h1.06M21.94 36.5h1.12M85.94 36.5h1.12M85.94 37.5h1.12M95.94 37.5h1.12M20.94 38.5h1.12M93.94 39.5h1.12M95.94 39.5h1.12M17.94 40.5h1.12M55.94 41.5h1.12M88.94 42.5h1.12M11.94 43.5h1.12M86.94 43.5h2.12M6.94 44.5h1.12M10.94 44.5h2.12M88.94 44.5h2.12M5.94 45.5h2.12M88.94 45.5h1.12M7.94 47.5h2.12M16.94 47.5h1.12M1.94 48.5h2.12M17.94 48.5h1.12M19.94 48.5h1.12M.94 49.5h3.12M15.94 49.5h2.12M19.94 49.5h1.12M1.94 50.5h1.12M91.94 50.5h1.12M.94 51.5h1.12M5.94 51.5h1.12M16.94 51.5h1.12M19.94 51.5h1.12M1.94 52.5h1.12M4.94 52.5h1.12M16.94 52.5h2.12M19.94 52.5h1.12M18.94 53.5h1.12M18.94 54.5h1.12M63.94 59.5h1.12M63.94 60.5h2.12M1.94 61.5h1.12M1.94 63.5h2.12M1.94 64.5h2.12M2.94 66.5h1.12M2.94 68.5h1.12M0 69.5h1.06M.94 71.5h1.12M1.94 73.5h1.12M53.94 74.5h1.12M0 75.5h1.06M76.94 79.5h2.12M48.94 80.5h3.12M75.94 80.5h1.12M81.94 80.5h2.12M84.94 80.5h1.12M52.94 81.5h1.12M48.94 82.5h1.12M78.94 82.5h1.12M77.94 83.5h2.12M84.94 83.5h1.12M88.94 83.5h2.12M80.94 84.5h2.12M83.94 84.5h1.12M87.94 84.5h1.12M90.94 84.5h1.12M65.94 85.5h1.12M80.94 85.5h1.12M83.94 85.5h2.12M86.94 85.5h2.12M83.94 86.5h1.12M85.94 86.5h1.12M84.94 87.5h1.12M87.94 88.5h1.12M89.94 88.5h1.12M91.94 88.5h2.12M78.94 89.5h1.12M80.94 89.5h1.12M88.94 89.5h1.12M93.94 89.5h2.12M13.94 90.5h1.12M88.94 90.5h1.12M91.94 90.5h1.12M9.94 91.5h3.12M13.94 91.5h1.12M13.94 92.5h1.12M11.94 93.5h1.12M92.94 93.5h1.12M91.94 94.5h2.12M92.94 95.5h1.12M1.94 96.5h1.12M0 97.5h1.06M1.94 97.5h1.12M0 98.5h1.06"/>
<path stroke="#dcbd29" d="M.94 3.5h2.12M2.94 4.5h1.12M0 5.5h1.06M1.94 5.5h1.12M11.94 11.5h1.12M8.94 12.5h1.12M23.94 12.5h1.12M8.94 13.5h2.12M23.94 13.5h1.12M6.94 14.5h2.12M10.94 14.5h1.12M1.94 18.5h1.12M.94 19.5h2.12M20.94 19.5h1.12M0 20.5h1.06M0 21.5h1.06M2.94 21.5h1.12M0 22.5h1.06M7.94 22.5h1.12M9.94 22.5h1.12M1.94 23.5h1.12M8.94 23.5h2.12M85.94 24.5h1.12M86.94 25.5h1.12M84.94 26.5h1.12M87.94 26.5h1.12M84.94 30.5h2.12M86.94 31.5h1.12M64.94 32.5h2.12M89.94 34.5h1.12M90.94 35.5h1.12M90.94 36.5h1.12M21.94 37.5h1.12M91.94 37.5h1.12M95.94 38.5h1.12M7.94 43.5h2.12M10.94 43.5h1.12M88.94 43.5h1.12M87.94 44.5h1.12M10.94 45.5h1.12M6.94 46.5h1.12M.94 50.5h1.12M2.94 50.5h3.12M17.94 50.5h1.12M2.94 51.5h1.12M4.94 51.5h1.12M17.94 51.5h1.12M2.94 52.5h2.12M16.94 53.5h1.12M17.94 54.5h1.12M18.94 55.5h1.12M64.94 59.5h1.12M.94 61.5h1.12M1.94 65.5h1.12M1.94 67.5h1.12M.94 68.5h1.12M.94 69.5h3.12M.94 70.5h1.12M0 72.5h3.06M.94 73.5h1.12M0 74.5h1.06M77.94 80.5h1.12M48.94 81.5h1.12M81.94 81.5h1.12M49.94 82.5h1.12M76.94 82.5h1.12M79.94 83.5h3.12M83.94 83.5h1.12M78.94 84.5h2.12M82.94 84.5h1.12M88.94 84.5h2.12M79.94 85.5h1.12M82.94 85.5h1.12M90.94 85.5h2.12M84.94 86.5h1.12M85.94 87.5h1.12M87.94 87.5h1.12M90.94 87.5h1.12M80.94 88.5h1.12M88.94 88.5h1.12M89.94 89.5h1.12M90.94 90.5h1.12M12.94 91.5h1.12M90.94 91.5h3.12M9.94 92.5h4.12M92.94 92.5h1.12M10.94 93.5h1.12M12.94 93.5h1.12M92.94 96.5h1.12"/>
<path stroke="#f2ba38" d="M0 4.5h1.06M1.94 4.5h1.12M.94 5.5h1.12M10.94 11.5h1.12M9.94 12.5h1.12M11.94 12.5h1.12M6.94 13.5h1.12M.94 18.5h1.12M0 19.5h1.06M1.94 20.5h1.12M.94 21.5h2.12M.94 22.5h2.12M0 23.5h2.06M0 24.5h1.06M1.94 24.5h1.12M0 25.5h1.06M85.94 25.5h1.12M85.94 28.5h1.12M88.94 29.5h1.12M86.94 30.5h1.12M88.94 30.5h2.12M87.94 31.5h1.12M88.94 33.5h1.12M92.94 35.5h1.12M94.94 39.5h1.12M9.94 45.5h1.12M7.94 46.5h1.12M9.94 46.5h1.12M16.94 48.5h1.12M17.94 49.5h2.12M18.94 50.5h1.12M0 51.5h1.06M1.94 51.5h1.12M3.94 51.5h1.12M18.94 51.5h1.12M18.94 52.5h1.12M19.94 54.5h1.12M0 61.5h1.06M0 62.5h1.06M1.94 62.5h1.12M.94 63.5h1.12M.94 64.5h1.12M1.94 66.5h1.12M0 68.5h1.06M1.94 68.5h1.12M0 70.5h1.06M0 71.5h1.06M1.94 71.5h1.12M0 73.5h1.06M76.94 80.5h1.12M49.94 81.5h3.12M77.94 81.5h1.12M82.94 81.5h1.12M50.94 82.5h3.12M77.94 82.5h1.12M81.94 82.5h1.12M83.94 82.5h1.12M89.94 85.5h1.12M82.94 86.5h1.12M86.94 86.5h2.12M79.94 87.5h2.12M88.94 87.5h2.12M79.94 89.5h1.12M90.94 89.5h1.12M89.94 90.5h1.12M91.94 93.5h1.12"/>
<path stroke="#fec03b" d="M.94 4.5h1.12M10.94 12.5h1.12M11.94 13.5h1.12M.94 20.5h1.12M.94 24.5h1.12M85.94 26.5h2.12M84.94 27.5h1.12M87.94 27.5h1.12M85.94 29.5h1.12M87.94 30.5h1.12M89.94 31.5h1.12M87.94 32.5h1.12M89.94 32.5h1.12M89.94 33.5h1.12M93.94 36.5h1.12M92.94 38.5h1.12M9.94 43.5h1.12M9.94 44.5h1.12M7.94 45.5h2.12M8.94 46.5h1.12M19.94 53.5h1.12M.94 62.5h1.12M0 66.5h2.06M0 67.5h2.06M1.94 70.5h1.12M76.94 81.5h1.12M83.94 81.5h1.12M82.94 82.5h1.12M82.94 83.5h1.12M88.94 86.5h1.12M90.94 86.5h1.12M91.94 92.5h1.12"/>
<path stroke="#fccf31" d="M0 3.5h1.06M10.94 13.5h1.12M85.94 27.5h1.12M86.94 29.5h1.12M88.94 31.5h1.12M88.94 32.5h1.12M91.94 35.5h1.12M91.94 36.5h2.12M93.94 37.5h2.12M7.94 44.5h2.12M0 63.5h1.06M0 65.5h1.06M88.94 85.5h1.12M89.94 86.5h1.12M79.94 88.5h1.12"/>
<path stroke="#f7dd2a" d="M86.94 27.5h1.12M86.94 28.5h2.12M87.94 29.5h1.12M92.94 37.5h1.12M93.94 38.5h2.12M0 64.5h1.06M.94 65.5h1.12"/>
</g>
<rect x="1213.4" y="7.9" width="29.2" height="483.6" fill="url(#par)" stroke="#1c1c1c" stroke-width="1.1"/>
<path d="M1242.6 394.8h-5M1242.6 298.1h-5M1242.6 201.3h-5M1242.6 104.6h-5" stroke="#262626" stroke-width="1" fill="none"/>
<text class="cb" x="1251.2" y="498.3">0</text>
<text class="cb" x="1251.2" y="401.6">0.2</text>
<text class="cb" x="1251.2" y="304.9">0.4</text>
<text class="cb" x="1251.2" y="208.1">0.6</text>
<text class="cb" x="1251.2" y="111.4">0.8</text>
<text class="cb" x="1251.2" y="14.7">1</text>
<text class="cap" x="919.2" y="565.7" text-anchor="middle">(b)</text>
<g class="hm" transform="translate(689.2 594) scale(4.9680 4.9440)" stroke-width="1.06" fill="none" shape-rendering="crispEdges">
<rect x="0" y="0" width="100" height="100" fill="#3e27aa"/>
<path stroke="#3e27aa" d="M.94 .5h5.12M18.94 .5h1.12M77.94 .5h4.12M84.94 .5h2.12M90.94 .5h3.12M0 99.5h1.06M1.94 99.5h4.12M7.94 99.5h1.12M51.94 99.5h1.12M63.94 99.5h3.12M92.94 99.5h1.12"/>
<path stroke="#4230c3" d="M9.94 .5h2.12M12.94 .5h1.12M51.94 .5h1.12M58.94 .5h1.12M68.94 .5h1.12M72.94 .5h1.12M89.94 .5h1.12M93.94 .5h2.12M5.94 1.5h1.12M51.94 1.5h1.12M72.94 1.5h1.12M85.94 1.5h1.12M95.94 1.5h1.12M8.94 2.5h1.12M50.94 2.5h1.12M56.94 2.5h1.12M70.94 2.5h1.12M79.94 2.5h1.12M92.94 2.5h1.12M10.94 3.5h1.12M18.94 3.5h1.12M67.94 3.5h1.12M83.94 3.5h1.12M97.94 3.5h1.12M2.94 4.5h1.12M4.94 4.5h1.12M10.94 4.5h1.12M16.94 4.5h1.12M18.94 4.5h1.12M52.94 4.5h1.12M60.94 4.5h1.12M63.94 4.5h1.12M73.94 4.5h1.12M97.94 4.5h1.12M3.94 5.5h1.12M9.94 5.5h1.12M12.94 5.5h1.12M14.94 5.5h1.12M57.94 5.5h2.12M67.94 5.5h1.12M73.94 5.5h1.12M5.94 6.5h1.12M10.94 6.5h1.12M13.94 6.5h1.12M57.94 6.5h2.12M64.94 6.5h1.12M79.94 6.5h1.12M50.94 7.5h1.12M64.94 7.5h1.12M77.94 7.5h1.12M93.94 7.5h1.12M1.94 8.5h1.12M77.94 8.5h1.12M86.94 8.5h1.12M0 9.5h2.06M20.94 9.5h1.12M77.94 9.5h1.12M81.94 9.5h1.12M85.94 9.5h1.12M13.94 10.5h1.12M20.94 10.5h1.12M50.94 10.5h1.12M72.94 10.5h1.12M76.94 10.5h1.12M84.94 10.5h1.12M87.94 10.5h1.12M20.94 11.5h1.12M23.94 11.5h1.12M72.94 11.5h1.12M85.94 11.5h1.12M93.94 11.5h1.12M51.94 12.5h1.12M76.94 12.5h1.12M79.94 12.5h1.12M89.94 12.5h1.12M94.94 12.5h1.12M7.94 13.5h2.12M20.94 13.5h2.12M66.94 13.5h1.12M88.94 13.5h1.12M93.94 13.5h2.12M96.94 13.5h1.12M1.94 14.5h2.12M7.94 14.5h2.12M19.94 14.5h1.12M57.94 14.5h1.12M69.94 14.5h2.12M73.94 14.5h1.12M91.94 14.5h1.12M9.94 15.5h1.12M19.94 15.5h1.12M23.94 15.5h1.12M59.94 15.5h1.12M74.94 15.5h1.12M84.94 15.5h1.12M93.94 15.5h1.12M96.94 15.5h1.12M5.94 16.5h1.12M7.94 16.5h1.12M24.94 16.5h1.12M62.94 16.5h1.12M90.94 16.5h1.12M92.94 16.5h1.12M95.94 16.5h1.12M5.94 17.5h1.12M13.94 17.5h1.12M53.94 17.5h1.12M61.94 17.5h2.12M68.94 17.5h3.12M75.94 17.5h2.12M3.94 18.5h1.12M5.94 18.5h1.12M15.94 18.5h1.12M23.94 18.5h1.12M51.94 18.5h1.12M69.94 18.5h1.12M75.94 18.5h1.12M81.94 18.5h1.12M84.94 18.5h1.12M16.94 19.5h1.12M50.94 19.5h1.12M56.94 19.5h1.12M74.94 19.5h1.12M78.94 19.5h1.12M83.94 19.5h1.12M87.94 19.5h1.12M98.94 19.5h1.06M18.94 20.5h1.12M22.94 20.5h1.12M56.94 20.5h1.12M74.94 20.5h1.12M95.94 20.5h2.12M98.94 20.5h1.06M0 21.5h1.06M4.94 21.5h1.12M8.94 21.5h1.12M51.94 21.5h3.12M61.94 21.5h1.12M70.94 21.5h1.12M81.94 21.5h1.12M4.94 22.5h2.12M7.94 22.5h1.12M9.94 22.5h1.12M22.94 22.5h1.12M74.94 22.5h1.12M82.94 22.5h1.12M85.94 22.5h1.12M88.94 22.5h1.12M94.94 22.5h1.12M12.94 23.5h1.12M62.94 23.5h1.12M69.94 23.5h1.12M74.94 23.5h1.12M88.94 23.5h1.12M3.94 24.5h1.12M51.94 24.5h1.12M60.94 24.5h1.12M62.94 24.5h1.12M70.94 24.5h2.12M1.94 25.5h1.12M55.94 25.5h1.12M70.94 25.5h1.12M81.94 25.5h1.12M89.94 25.5h1.12M96.94 25.5h1.12M13.94 26.5h1.12M21.94 26.5h1.12M57.94 26.5h1.12M68.94 26.5h1.12M73.94 26.5h2.12M79.94 26.5h1.12M77.94 27.5h2.12M80.94 27.5h1.12M88.94 27.5h1.12M92.94 27.5h1.12M98.94 27.5h1.06M.94 28.5h1.12M5.94 28.5h1.12M14.94 28.5h1.12M17.94 28.5h1.12M22.94 28.5h1.12M60.94 28.5h1.12M64.94 28.5h1.12M66.94 28.5h1.12M73.94 28.5h1.12M76.94 28.5h1.12M83.94 28.5h1.12M5.94 29.5h1.12M9.94 29.5h1.12M56.94 29.5h1.12M64.94 29.5h2.12M67.94 29.5h1.12M79.94 29.5h1.12M87.94 29.5h1.12M63.94 30.5h1.12M87.94 30.5h2.12M90.94 30.5h2.12M95.94 30.5h1.12M0 31.5h1.06M5.94 31.5h2.12M62.94 31.5h1.12M67.94 31.5h1.12M72.94 31.5h1.12M74.94 31.5h1.12M76.94 31.5h1.12M80.94 31.5h1.12M6.94 32.5h1.12M21.94 32.5h1.12M65.94 32.5h1.12M79.94 32.5h1.12M92.94 32.5h1.12M95.94 32.5h1.12M2.94 33.5h1.12M51.94 33.5h1.12M61.94 33.5h1.12M66.94 33.5h1.12M71.94 33.5h2.12M76.94 33.5h1.12M80.94 33.5h1.12M92.94 33.5h1.12M3.94 34.5h1.12M6.94 34.5h1.12M50.94 34.5h1.12M64.94 34.5h1.12M66.94 34.5h1.12M92.94 34.5h1.12M7.94 35.5h1.12M14.94 35.5h1.12M19.94 35.5h1.12M88.94 35.5h1.12M95.94 35.5h2.12M.94 36.5h1.12M14.94 36.5h1.12M67.94 36.5h1.12M78.94 36.5h1.12M82.94 36.5h1.12M89.94 36.5h1.12M98.94 36.5h1.06M0 37.5h1.06M1.94 37.5h1.12M9.94 37.5h1.12M65.94 37.5h1.12M89.94 37.5h1.12M91.94 37.5h1.12M2.94 38.5h2.12M68.94 38.5h1.12M76.94 38.5h1.12M92.94 38.5h1.12M1.94 39.5h1.12M12.94 39.5h1.12M21.94 39.5h1.12M77.94 39.5h1.12M82.94 39.5h1.12M89.94 39.5h2.12M96.94 39.5h1.12M0 40.5h2.06M9.94 40.5h1.12M51.94 40.5h1.12M56.94 40.5h1.12M64.94 40.5h1.12M66.94 40.5h1.12M70.94 40.5h1.12M80.94 40.5h1.12M83.94 40.5h1.12M91.94 40.5h1.12M98.94 40.5h1.06M2.94 41.5h1.12M8.94 41.5h2.12M21.94 41.5h1.12M51.94 41.5h1.12M57.94 41.5h1.12M66.94 41.5h1.12M76.94 41.5h2.12M83.94 41.5h1.12M90.94 41.5h1.12M94.94 41.5h1.12M98.94 41.5h1.06M15.94 42.5h1.12M65.94 42.5h1.12M79.94 42.5h1.12M96.94 42.5h1.12M98.94 42.5h1.06M12.94 43.5h1.12M16.94 43.5h1.12M53.94 43.5h3.12M58.94 43.5h1.12M88.94 43.5h2.12M91.94 43.5h1.12M1.94 44.5h1.12M16.94 44.5h1.12M51.94 44.5h1.12M60.94 44.5h1.12M76.94 44.5h2.12M14.94 45.5h1.12M61.94 45.5h1.12M66.94 45.5h1.12M72.94 45.5h1.12M74.94 45.5h1.12M78.94 45.5h1.12M85.94 45.5h1.12M.94 46.5h1.12M3.94 46.5h2.12M9.94 46.5h2.12M53.94 46.5h1.12M60.94 46.5h1.12M69.94 46.5h1.12M76.94 46.5h2.12M86.94 46.5h1.12M95.94 46.5h1.12M98.94 46.5h1.06M.94 47.5h1.12M4.94 47.5h1.12M52.94 47.5h1.12M0 48.5h1.06M6.94 48.5h1.12M13.94 48.5h1.12M21.94 48.5h1.12M54.94 48.5h1.12M5.94 49.5h1.12M12.94 49.5h1.12M53.94 49.5h2.12M83.94 49.5h1.12M93.94 49.5h1.12M97.94 49.5h1.12M53.94 50.5h1.12M57.94 50.5h1.12M61.94 50.5h1.12M89.94 50.5h1.12M96.94 50.5h1.12M55.94 51.5h2.12M61.94 51.5h1.12M63.94 51.5h1.12M84.94 51.5h1.12M88.94 51.5h2.12M96.94 51.5h1.12M54.94 52.5h1.12M86.94 52.5h1.12M90.94 52.5h1.12M95.94 52.5h1.12M7.94 53.5h1.12M54.94 53.5h1.12M57.94 53.5h1.12M75.94 53.5h1.12M77.94 53.5h1.12M6.94 54.5h2.12M16.94 54.5h2.12M19.94 54.5h1.12M59.94 54.5h1.12M75.94 54.5h1.12M85.94 54.5h1.12M55.94 55.5h1.12M1.94 56.5h1.12M3.94 56.5h2.12M6.94 56.5h1.12M56.94 56.5h1.12M91.94 56.5h1.12M94.94 56.5h1.12M57.94 57.5h1.12M63.94 57.5h1.12M67.94 57.5h1.12M75.94 57.5h1.12M85.94 57.5h1.12M56.94 58.5h1.12M59.94 58.5h1.12M70.94 58.5h1.12M86.94 58.5h1.12M96.94 58.5h1.12M8.94 59.5h1.12M60.94 59.5h2.12M64.94 59.5h1.12M75.94 59.5h1.12M77.94 59.5h2.12M87.94 59.5h1.12M98.94 59.5h1.06M58.94 60.5h1.12M71.94 60.5h1.12M74.94 60.5h1.12M65.94 61.5h1.12M74.94 61.5h1.12M88.94 61.5h1.12M68.94 62.5h1.12M70.94 62.5h1.12M66.94 63.5h1.12M68.94 63.5h1.12M74.94 63.5h1.12M75.94 64.5h1.12M82.94 64.5h2.12M93.94 65.5h1.12M60.94 66.5h1.12M65.94 66.5h1.12M68.94 66.5h1.12M70.94 66.5h1.12M72.94 66.5h2.12M80.94 66.5h1.12M82.94 66.5h2.12M85.94 66.5h1.12M94.94 66.5h1.12M85.94 67.5h1.12M92.94 67.5h1.12M72.94 68.5h1.12M78.94 68.5h1.12M85.94 68.5h1.12M91.94 68.5h2.12M58.94 69.5h1.12M78.94 69.5h1.12M97.94 70.5h1.12M52.94 71.5h1.12M58.94 71.5h1.12M64.94 71.5h1.12M76.94 71.5h2.12M92.94 71.5h1.12M52.94 72.5h1.12M58.94 72.5h1.12M66.94 72.5h1.12M72.94 72.5h1.12M74.94 72.5h3.12M91.94 72.5h2.12M58.94 73.5h1.12M60.94 73.5h1.12M64.94 73.5h2.12M75.94 73.5h1.12M79.94 73.5h1.12M89.94 73.5h1.12M63.94 74.5h1.12M74.94 74.5h1.12M82.94 74.5h1.12M84.94 74.5h3.12M89.94 74.5h1.12M52.94 75.5h1.12M74.94 75.5h1.12M87.94 75.5h1.12M94.94 75.5h1.12M3.94 76.5h1.12M86.94 76.5h1.12M90.94 76.5h1.12M0 77.5h1.06M1.94 77.5h1.12M3.94 77.5h1.12M50.94 77.5h1.12M70.94 77.5h1.12M73.94 77.5h1.12M84.94 77.5h1.12M87.94 77.5h3.12M2.94 78.5h1.12M52.94 78.5h2.12M59.94 78.5h1.12M67.94 78.5h1.12M70.94 78.5h1.12M77.94 78.5h1.12M82.94 78.5h1.12M61.94 79.5h1.12M68.94 79.5h1.12M71.94 79.5h1.12M82.94 79.5h2.12M88.94 79.5h1.12M47.94 80.5h1.12M60.94 80.5h2.12M69.94 80.5h1.12M85.94 80.5h1.12M47.94 81.5h1.12M70.94 81.5h1.12M86.94 81.5h1.12M89.94 81.5h1.12M48.94 82.5h1.12M62.94 82.5h1.12M69.94 82.5h1.12M94.94 82.5h1.12M53.94 83.5h1.12M71.94 83.5h1.12M74.94 83.5h1.12M80.94 83.5h1.12M50.94 84.5h2.12M70.94 84.5h1.12M73.94 84.5h1.12M92.94 84.5h1.12M71.94 85.5h1.12M.94 86.5h1.12M9.94 86.5h1.12M53.94 86.5h1.12M73.94 86.5h3.12M8.94 87.5h1.12M87.94 87.5h3.12M0 88.5h1.06M7.94 88.5h1.12M12.94 88.5h1.12M94.94 88.5h1.12M98.94 88.5h1.06M3.94 89.5h3.12M8.94 89.5h1.12M85.94 89.5h2.12M5.94 90.5h1.12M9.94 90.5h1.12M72.94 90.5h1.12M3.94 91.5h1.12M14.94 91.5h1.12M73.94 91.5h1.12M84.94 91.5h2.12M91.94 91.5h1.12M12.94 92.5h3.12M4.94 93.5h1.12M54.94 93.5h1.12M56.94 93.5h1.12M73.94 93.5h1.12M2.94 94.5h1.12M67.94 94.5h2.12M74.94 94.5h1.12M3.94 95.5h1.12M55.94 95.5h1.12M78.94 95.5h2.12M3.94 96.5h1.12M14.94 96.5h1.12M77.94 96.5h1.12M79.94 96.5h1.12M93.94 96.5h1.12M62.94 97.5h1.12M.94 98.5h1.12M2.94 98.5h1.12M51.94 98.5h2.12M62.94 98.5h1.12M5.94 99.5h2.12M10.94 99.5h1.12M14.94 99.5h2.12M52.94 99.5h1.12M91.94 99.5h1.12"/>
<path stroke="#463adb" d="M5.94 .5h1.12M11.94 .5h1.12M59.94 .5h1.12M65.94 .5h1.12M76.94 .5h1.12M88.94 .5h1.12M96.94 .5h1.12M.94 1.5h1.12M3.94 1.5h2.12M11.94 1.5h1.12M13.94 1.5h1.12M50.94 1.5h1.12M52.94 1.5h1.12M69.94 1.5h1.12M80.94 1.5h1.12M89.94 1.5h1.12M1.94 2.5h1.12M51.94 2.5h1.12M54.94 2.5h1.12M67.94 2.5h1.12M85.94 2.5h1.12M2.94 3.5h1.12M4.94 3.5h2.12M11.94 3.5h1.12M15.94 3.5h1.12M49.94 3.5h2.12M53.94 3.5h2.12M57.94 3.5h1.12M73.94 3.5h1.12M75.94 3.5h1.12M78.94 3.5h1.12M80.94 3.5h2.12M8.94 4.5h1.12M11.94 4.5h1.12M57.94 4.5h2.12M75.94 4.5h1.12M79.94 4.5h1.12M82.94 4.5h3.12M98.94 4.5h1.06M7.94 5.5h1.12M10.94 5.5h2.12M49.94 5.5h1.12M51.94 5.5h1.12M75.94 5.5h1.12M80.94 5.5h1.12M88.94 5.5h1.12M91.94 5.5h1.12M96.94 5.5h2.12M0 6.5h1.06M3.94 6.5h2.12M6.94 6.5h1.12M9.94 6.5h1.12M84.94 6.5h1.12M86.94 6.5h1.12M88.94 6.5h1.12M94.94 6.5h1.12M6.94 7.5h1.12M9.94 7.5h1.12M63.94 7.5h1.12M87.94 7.5h1.12M91.94 7.5h2.12M95.94 7.5h1.12M50.94 8.5h1.12M67.94 8.5h2.12M87.94 8.5h1.12M97.94 8.5h1.12M7.94 9.5h1.12M21.94 9.5h1.12M22.94 10.5h1.12M51.94 10.5h1.12M81.94 10.5h1.12M83.94 10.5h1.12M98.94 10.5h1.06M0 11.5h1.06M8.94 11.5h1.12M19.94 11.5h1.12M21.94 11.5h1.12M50.94 11.5h3.12M70.94 11.5h1.12M76.94 11.5h1.12M81.94 11.5h1.12M83.94 11.5h2.12M89.94 11.5h1.12M8.94 12.5h1.12M74.94 12.5h2.12M81.94 12.5h1.12M83.94 12.5h1.12M85.94 12.5h1.12M97.94 12.5h1.12M18.94 13.5h1.12M86.94 13.5h1.12M95.94 13.5h1.12M.94 14.5h1.12M4.94 14.5h1.12M9.94 14.5h1.12M59.94 14.5h1.12M76.94 14.5h1.12M98.94 14.5h1.06M.94 15.5h2.12M72.94 15.5h2.12M85.94 15.5h1.12M89.94 15.5h1.12M91.94 15.5h1.12M94.94 15.5h1.12M9.94 16.5h1.12M13.94 16.5h1.12M15.94 16.5h1.12M23.94 16.5h1.12M56.94 16.5h1.12M58.94 16.5h1.12M63.94 16.5h1.12M68.94 16.5h1.12M71.94 16.5h1.12M77.94 16.5h1.12M91.94 16.5h1.12M66.94 17.5h1.12M77.94 17.5h1.12M85.94 17.5h1.12M89.94 17.5h1.12M18.94 18.5h1.12M80.94 18.5h1.12M82.94 18.5h1.12M95.94 18.5h1.12M19.94 19.5h1.12M68.94 19.5h1.12M75.94 19.5h1.12M89.94 19.5h1.12M94.94 19.5h1.12M.94 20.5h1.12M12.94 20.5h1.12M16.94 20.5h1.12M50.94 20.5h1.12M68.94 20.5h1.12M70.94 20.5h2.12M87.94 20.5h1.12M89.94 20.5h1.12M93.94 20.5h2.12M5.94 21.5h1.12M54.94 21.5h1.12M75.94 21.5h2.12M87.94 21.5h1.12M98.94 21.5h1.06M1.94 22.5h1.12M6.94 22.5h1.12M8.94 22.5h1.12M59.94 22.5h2.12M67.94 22.5h1.12M89.94 22.5h1.12M66.94 23.5h1.12M82.94 23.5h1.12M84.94 23.5h1.12M92.94 23.5h1.12M95.94 23.5h1.12M2.94 24.5h1.12M12.94 24.5h1.12M53.94 24.5h2.12M89.94 24.5h1.12M12.94 25.5h1.12M21.94 25.5h1.12M50.94 25.5h1.12M53.94 25.5h1.12M68.94 25.5h2.12M91.94 25.5h1.12M50.94 26.5h1.12M84.94 26.5h2.12M91.94 26.5h2.12M98.94 26.5h1.06M5.94 27.5h1.12M21.94 27.5h1.12M52.94 27.5h1.12M56.94 27.5h2.12M70.94 27.5h1.12M73.94 27.5h1.12M7.94 28.5h1.12M51.94 28.5h1.12M58.94 28.5h1.12M70.94 28.5h2.12M82.94 28.5h1.12M84.94 28.5h1.12M93.94 28.5h2.12M10.94 29.5h1.12M15.94 29.5h2.12M21.94 29.5h1.12M50.94 29.5h1.12M61.94 29.5h1.12M73.94 29.5h1.12M82.94 29.5h1.12M86.94 29.5h1.12M89.94 29.5h2.12M4.94 30.5h1.12M15.94 30.5h1.12M21.94 30.5h1.12M57.94 30.5h1.12M73.94 30.5h1.12M75.94 30.5h1.12M77.94 30.5h1.12M89.94 30.5h1.12M2.94 31.5h1.12M61.94 31.5h1.12M79.94 31.5h1.12M87.94 31.5h1.12M90.94 31.5h1.12M98.94 31.5h1.06M20.94 32.5h1.12M59.94 32.5h1.12M64.94 32.5h1.12M73.94 32.5h1.12M87.94 32.5h2.12M97.94 32.5h1.12M5.94 33.5h1.12M21.94 33.5h1.12M60.94 33.5h1.12M65.94 33.5h1.12M79.94 33.5h1.12M82.94 33.5h1.12M96.94 33.5h2.12M18.94 34.5h1.12M83.94 34.5h1.12M93.94 34.5h1.12M56.94 35.5h1.12M76.94 35.5h1.12M80.94 35.5h1.12M84.94 35.5h1.12M50.94 36.5h1.12M90.94 36.5h1.12M.94 37.5h1.12M8.94 37.5h1.12M10.94 37.5h2.12M21.94 37.5h1.12M50.94 37.5h1.12M61.94 37.5h1.12M79.94 37.5h1.12M82.94 37.5h1.12M92.94 37.5h1.12M1.94 38.5h1.12M4.94 38.5h1.12M21.94 38.5h1.12M50.94 38.5h1.12M52.94 38.5h1.12M56.94 38.5h1.12M81.94 38.5h1.12M87.94 38.5h2.12M8.94 39.5h1.12M11.94 39.5h1.12M16.94 39.5h3.12M52.94 39.5h1.12M55.94 39.5h1.12M68.94 39.5h1.12M7.94 40.5h1.12M13.94 40.5h1.12M50.94 40.5h1.12M86.94 40.5h1.12M88.94 40.5h1.12M93.94 40.5h2.12M.94 41.5h1.12M12.94 41.5h1.12M14.94 41.5h1.12M63.94 41.5h1.12M67.94 41.5h1.12M82.94 41.5h1.12M12.94 42.5h1.12M14.94 42.5h1.12M16.94 42.5h2.12M52.94 42.5h1.12M56.94 42.5h1.12M76.94 42.5h1.12M83.94 42.5h1.12M86.94 42.5h1.12M1.94 43.5h1.12M4.94 43.5h1.12M17.94 43.5h1.12M22.94 43.5h1.12M78.94 43.5h1.12M87.94 43.5h1.12M95.94 43.5h1.12M98.94 43.5h1.06M3.94 44.5h1.12M5.94 44.5h1.12M15.94 44.5h1.12M21.94 44.5h1.12M53.94 44.5h1.12M64.94 44.5h1.12M68.94 44.5h1.12M80.94 44.5h1.12M86.94 44.5h1.12M88.94 44.5h1.12M6.94 45.5h1.12M51.94 45.5h1.12M68.94 45.5h1.12M75.94 45.5h3.12M80.94 45.5h1.12M86.94 45.5h1.12M90.94 45.5h3.12M1.94 46.5h1.12M68.94 46.5h1.12M81.94 46.5h1.12M85.94 46.5h1.12M1.94 47.5h1.12M11.94 47.5h1.12M16.94 47.5h2.12M21.94 47.5h1.12M68.94 47.5h1.12M85.94 47.5h3.12M97.94 47.5h1.12M.94 48.5h2.12M17.94 48.5h1.12M55.94 49.5h1.12M61.94 49.5h1.12M68.94 49.5h1.12M74.94 49.5h1.12M82.94 49.5h1.12M95.94 49.5h1.12M0 50.5h1.06M5.94 50.5h1.12M60.94 50.5h1.12M62.94 50.5h1.12M75.94 50.5h1.12M79.94 50.5h1.12M.94 51.5h1.12M57.94 51.5h1.12M62.94 51.5h1.12M80.94 51.5h2.12M86.94 51.5h1.12M92.94 51.5h1.12M.94 52.5h1.12M17.94 52.5h2.12M20.94 52.5h1.12M62.94 52.5h1.12M75.94 52.5h1.12M85.94 52.5h1.12M87.94 52.5h1.12M89.94 52.5h1.12M93.94 52.5h1.12M96.94 52.5h2.12M56.94 53.5h1.12M76.94 53.5h1.12M88.94 53.5h1.12M12.94 54.5h1.12M61.94 54.5h1.12M63.94 54.5h1.12M72.94 54.5h1.12M2.94 55.5h1.12M4.94 55.5h1.12M19.94 55.5h1.12M56.94 55.5h1.12M73.94 55.5h1.12M75.94 55.5h1.12M89.94 55.5h1.12M94.94 55.5h1.12M0 56.5h2.06M5.94 56.5h1.12M7.94 56.5h1.12M15.94 56.5h1.12M85.94 56.5h1.12M90.94 56.5h1.12M92.94 56.5h2.12M95.94 56.5h1.12M60.94 57.5h1.12M86.94 57.5h1.12M94.94 57.5h1.12M96.94 57.5h1.12M61.94 58.5h1.12M63.94 58.5h1.12M73.94 58.5h1.12M88.94 58.5h1.12M72.94 59.5h1.12M74.94 59.5h1.12M76.94 59.5h1.12M88.94 59.5h1.12M62.94 60.5h2.12M69.94 60.5h1.12M73.94 60.5h1.12M77.94 60.5h1.12M9.94 61.5h1.12M63.94 61.5h1.12M66.94 61.5h2.12M69.94 61.5h1.12M81.94 61.5h1.12M96.94 61.5h1.12M61.94 62.5h1.12M98.94 62.5h1.06M75.94 63.5h2.12M68.94 64.5h2.12M71.94 64.5h1.12M74.94 64.5h1.12M80.94 64.5h1.12M94.94 64.5h1.12M98.94 64.5h1.06M68.94 65.5h4.12M73.94 65.5h1.12M76.94 65.5h1.12M55.94 66.5h1.12M62.94 66.5h1.12M66.94 66.5h2.12M61.94 67.5h1.12M66.94 67.5h1.12M88.94 67.5h2.12M96.94 67.5h2.12M64.94 68.5h2.12M73.94 68.5h2.12M90.94 68.5h1.12M72.94 69.5h1.12M74.94 69.5h1.12M92.94 69.5h1.12M58.94 70.5h1.12M62.94 70.5h3.12M77.94 70.5h1.12M96.94 70.5h1.12M7.94 71.5h1.12M67.94 71.5h1.12M81.94 71.5h1.12M91.94 71.5h1.12M93.94 71.5h1.12M98.94 71.5h1.06M59.94 72.5h1.12M73.94 72.5h1.12M89.94 72.5h1.12M57.94 73.5h1.12M66.94 73.5h1.12M76.94 73.5h1.12M96.94 73.5h1.12M75.94 74.5h1.12M79.94 74.5h1.12M90.94 74.5h1.12M53.94 75.5h1.12M58.94 75.5h3.12M69.94 75.5h1.12M80.94 75.5h1.12M90.94 75.5h1.12M58.94 76.5h1.12M82.94 76.5h1.12M93.94 76.5h1.12M95.94 76.5h1.12M51.94 77.5h1.12M54.94 77.5h1.12M67.94 77.5h1.12M74.94 77.5h1.12M85.94 77.5h1.12M94.94 77.5h1.12M50.94 78.5h2.12M56.94 78.5h3.12M60.94 78.5h1.12M72.94 78.5h1.12M80.94 78.5h2.12M58.94 79.5h1.12M60.94 79.5h1.12M65.94 79.5h1.12M74.94 79.5h1.12M80.94 79.5h1.12M89.94 79.5h1.12M92.94 79.5h1.12M94.94 79.5h1.12M65.94 80.5h1.12M81.94 80.5h1.12M91.94 80.5h1.12M72.94 81.5h1.12M79.94 81.5h1.12M85.94 81.5h1.12M87.94 81.5h2.12M54.94 82.5h2.12M61.94 82.5h1.12M70.94 82.5h2.12M79.94 82.5h1.12M89.94 82.5h1.12M65.94 83.5h1.12M90.94 83.5h1.12M94.94 83.5h1.12M53.94 84.5h2.12M66.94 84.5h1.12M69.94 84.5h1.12M70.94 85.5h1.12M79.94 85.5h2.12M96.94 85.5h1.12M66.94 86.5h1.12M81.94 86.5h1.12M74.94 87.5h2.12M78.94 87.5h1.12M84.94 87.5h1.12M86.94 87.5h1.12M1.94 88.5h1.12M8.94 88.5h1.12M90.94 88.5h1.12M2.94 89.5h1.12M11.94 89.5h1.12M84.94 89.5h1.12M92.94 89.5h1.12M97.94 89.5h1.12M0 90.5h2.06M10.94 90.5h1.12M71.94 90.5h1.12M89.94 90.5h2.12M1.94 91.5h1.12M90.94 91.5h1.12M0 92.5h1.06M9.94 92.5h1.12M54.94 92.5h3.12M68.94 92.5h1.12M62.94 93.5h2.12M67.94 93.5h2.12M78.94 93.5h1.12M86.94 93.5h1.12M97.94 93.5h1.12M7.94 94.5h1.12M15.94 94.5h1.12M54.94 94.5h1.12M62.94 94.5h1.12M75.94 94.5h1.12M79.94 94.5h1.12M97.94 94.5h1.12M74.94 95.5h1.12M80.94 95.5h1.12M93.94 95.5h2.12M2.94 96.5h1.12M10.94 96.5h1.12M15.94 96.5h1.12M53.94 96.5h2.12M74.94 96.5h2.12M89.94 96.5h1.12M94.94 96.5h1.12M0 97.5h1.06M2.94 97.5h1.12M14.94 97.5h2.12M65.94 97.5h1.12M74.94 97.5h2.12M5.94 98.5h1.12M14.94 98.5h2.12M54.94 98.5h1.12M69.94 98.5h1.12M94.94 98.5h1.12M.94 99.5h1.12M11.94 99.5h1.12M53.94 99.5h1.12M77.94 99.5h1.12M84.94 99.5h1.12M86.94 99.5h1.12M93.94 99.5h2.12"/>
<path stroke="#4747eb" d="M56.94 .5h2.12M61.94 .5h2.12M67.94 .5h1.12M69.94 .5h1.12M87.94 .5h1.12M8.94 1.5h1.12M14.94 1.5h1.12M53.94 1.5h1.12M58.94 1.5h2.12M67.94 1.5h1.12M73.94 1.5h1.12M97.94 1.5h1.12M6.94 2.5h1.12M15.94 2.5h1.12M53.94 2.5h1.12M57.94 2.5h2.12M75.94 2.5h1.12M82.94 2.5h1.12M93.94 2.5h1.12M1.94 3.5h1.12M3.94 3.5h1.12M8.94 3.5h2.12M16.94 3.5h1.12M63.94 3.5h1.12M66.94 3.5h1.12M68.94 3.5h1.12M93.94 3.5h1.12M96.94 3.5h1.12M9.94 4.5h1.12M17.94 4.5h1.12M51.94 4.5h1.12M70.94 4.5h1.12M78.94 4.5h1.12M80.94 4.5h2.12M96.94 4.5h1.12M2.94 5.5h1.12M18.94 5.5h1.12M66.94 5.5h1.12M71.94 5.5h1.12M78.94 5.5h2.12M11.94 6.5h2.12M14.94 6.5h1.12M19.94 6.5h1.12M53.94 6.5h1.12M70.94 6.5h1.12M72.94 6.5h3.12M76.94 6.5h3.12M87.94 6.5h1.12M91.94 6.5h1.12M93.94 6.5h1.12M96.94 6.5h1.12M98.94 6.5h1.06M11.94 7.5h2.12M62.94 7.5h1.12M68.94 7.5h2.12M72.94 7.5h2.12M82.94 7.5h1.12M88.94 7.5h1.12M3.94 8.5h1.12M7.94 8.5h1.12M9.94 8.5h1.12M60.94 8.5h1.12M64.94 8.5h1.12M69.94 8.5h1.12M80.94 8.5h1.12M13.94 9.5h1.12M22.94 9.5h1.12M61.94 9.5h1.12M65.94 9.5h1.12M75.94 9.5h2.12M19.94 10.5h1.12M54.94 10.5h1.12M57.94 10.5h1.12M71.94 10.5h1.12M74.94 10.5h1.12M82.94 10.5h1.12M22.94 11.5h1.12M75.94 11.5h1.12M77.94 11.5h1.12M97.94 11.5h1.12M0 12.5h1.06M19.94 12.5h2.12M71.94 12.5h1.12M86.94 12.5h1.12M88.94 12.5h1.12M96.94 12.5h1.12M6.94 13.5h1.12M17.94 13.5h1.12M58.94 13.5h1.12M68.94 13.5h1.12M76.94 13.5h1.12M80.94 13.5h1.12M85.94 13.5h1.12M87.94 13.5h1.12M92.94 13.5h1.12M16.94 14.5h3.12M66.94 14.5h1.12M75.94 14.5h1.12M96.94 14.5h1.12M58.94 15.5h1.12M68.94 15.5h1.12M71.94 15.5h1.12M77.94 15.5h1.12M86.94 15.5h1.12M92.94 15.5h1.12M4.94 16.5h1.12M8.94 16.5h1.12M14.94 16.5h1.12M18.94 16.5h1.12M20.94 16.5h1.12M54.94 16.5h1.12M59.94 16.5h1.12M67.94 16.5h1.12M69.94 16.5h1.12M86.94 16.5h3.12M93.94 16.5h1.12M16.94 17.5h1.12M23.94 17.5h2.12M57.94 17.5h2.12M63.94 17.5h2.12M72.94 17.5h1.12M79.94 17.5h1.12M91.94 17.5h2.12M94.94 17.5h1.12M13.94 18.5h1.12M17.94 18.5h1.12M57.94 18.5h1.12M70.94 18.5h1.12M83.94 18.5h1.12M13.94 19.5h1.12M22.94 19.5h1.12M57.94 19.5h1.12M63.94 19.5h1.12M80.94 19.5h1.12M95.94 19.5h1.12M1.94 20.5h1.12M13.94 20.5h1.12M15.94 20.5h1.12M62.94 20.5h1.12M75.94 20.5h1.12M77.94 20.5h2.12M92.94 20.5h1.12M2.94 21.5h2.12M9.94 21.5h1.12M49.94 21.5h1.12M60.94 21.5h1.12M67.94 21.5h2.12M77.94 21.5h1.12M96.94 21.5h1.12M15.94 22.5h1.12M63.94 22.5h1.12M70.94 22.5h1.12M77.94 22.5h1.12M81.94 22.5h1.12M91.94 22.5h1.12M4.94 23.5h1.12M7.94 23.5h1.12M14.94 23.5h1.12M21.94 23.5h1.12M49.94 23.5h1.12M57.94 23.5h1.12M64.94 23.5h1.12M75.94 23.5h2.12M79.94 23.5h2.12M83.94 23.5h1.12M89.94 23.5h1.12M93.94 23.5h1.12M4.94 24.5h1.12M21.94 24.5h1.12M52.94 24.5h1.12M67.94 24.5h2.12M75.94 24.5h1.12M18.94 25.5h3.12M57.94 25.5h1.12M75.94 25.5h1.12M78.94 25.5h1.12M82.94 25.5h1.12M84.94 25.5h2.12M5.94 26.5h1.12M12.94 26.5h1.12M20.94 26.5h1.12M51.94 26.5h1.12M69.94 26.5h2.12M76.94 26.5h3.12M81.94 26.5h1.12M.94 27.5h1.12M3.94 27.5h1.12M15.94 27.5h1.12M53.94 27.5h1.12M75.94 27.5h2.12M82.94 27.5h2.12M85.94 27.5h1.12M93.94 27.5h1.12M9.94 28.5h2.12M12.94 28.5h1.12M21.94 28.5h1.12M53.94 28.5h2.12M56.94 28.5h1.12M85.94 28.5h1.12M89.94 28.5h1.12M11.94 29.5h2.12M57.94 29.5h2.12M80.94 29.5h2.12M85.94 29.5h1.12M91.94 29.5h2.12M5.94 30.5h1.12M14.94 30.5h1.12M56.94 30.5h1.12M60.94 30.5h1.12M62.94 30.5h1.12M65.94 30.5h1.12M78.94 30.5h1.12M80.94 30.5h2.12M20.94 31.5h1.12M51.94 31.5h1.12M66.94 31.5h1.12M71.94 31.5h1.12M77.94 31.5h1.12M2.94 32.5h1.12M51.94 32.5h1.12M56.94 32.5h1.12M72.94 32.5h1.12M89.94 32.5h1.12M96.94 32.5h1.12M57.94 33.5h1.12M59.94 33.5h1.12M98.94 33.5h1.06M15.94 34.5h1.12M57.94 34.5h1.12M82.94 34.5h1.12M91.94 34.5h1.12M18.94 35.5h1.12M52.94 35.5h1.12M81.94 35.5h1.12M83.94 35.5h1.12M94.94 35.5h1.12M98.94 35.5h1.06M0 36.5h1.06M7.94 36.5h1.12M18.94 36.5h2.12M21.94 36.5h1.12M84.94 36.5h1.12M94.94 36.5h2.12M4.94 37.5h1.12M63.94 37.5h1.12M94.94 37.5h3.12M.94 38.5h1.12M8.94 38.5h1.12M19.94 38.5h1.12M53.94 38.5h1.12M64.94 38.5h2.12M83.94 38.5h1.12M91.94 38.5h1.12M6.94 39.5h1.12M83.94 39.5h1.12M86.94 39.5h2.12M95.94 39.5h1.12M2.94 40.5h1.12M10.94 40.5h1.12M54.94 40.5h1.12M63.94 40.5h1.12M69.94 40.5h1.12M10.94 41.5h1.12M80.94 41.5h1.12M84.94 41.5h2.12M88.94 41.5h1.12M0 42.5h1.06M58.94 42.5h1.12M62.94 42.5h1.12M66.94 42.5h1.12M68.94 42.5h2.12M80.94 42.5h2.12M85.94 42.5h1.12M89.94 42.5h1.12M93.94 42.5h1.12M95.94 42.5h1.12M3.94 43.5h1.12M50.94 43.5h1.12M56.94 43.5h1.12M61.94 43.5h1.12M63.94 43.5h1.12M66.94 43.5h1.12M68.94 43.5h1.12M76.94 43.5h2.12M79.94 43.5h1.12M96.94 43.5h1.12M6.94 44.5h1.12M11.94 44.5h1.12M17.94 44.5h1.12M56.94 44.5h1.12M58.94 44.5h1.12M62.94 44.5h2.12M66.94 44.5h2.12M69.94 44.5h1.12M81.94 44.5h3.12M90.94 44.5h1.12M96.94 44.5h2.12M4.94 45.5h1.12M7.94 45.5h1.12M16.94 45.5h1.12M59.94 45.5h1.12M69.94 45.5h1.12M71.94 45.5h1.12M82.94 45.5h1.12M88.94 45.5h1.12M93.94 45.5h1.12M6.94 46.5h2.12M14.94 46.5h1.12M59.94 46.5h1.12M67.94 46.5h1.12M88.94 46.5h1.12M90.94 46.5h1.12M93.94 46.5h2.12M6.94 47.5h1.12M12.94 47.5h1.12M15.94 47.5h1.12M67.94 47.5h1.12M69.94 47.5h1.12M80.94 47.5h1.12M15.94 48.5h1.12M80.94 48.5h1.12M86.94 48.5h1.12M0 49.5h1.06M6.94 49.5h1.12M73.94 49.5h1.12M79.94 49.5h1.12M85.94 49.5h2.12M4.94 50.5h1.12M88.94 50.5h1.12M98.94 50.5h1.06M5.94 51.5h2.12M20.94 51.5h2.12M58.94 51.5h1.12M65.94 51.5h1.12M75.94 51.5h1.12M87.94 51.5h1.12M5.94 52.5h1.12M8.94 52.5h1.12M59.94 52.5h1.12M64.94 52.5h1.12M91.94 52.5h1.12M94.94 52.5h1.12M1.94 53.5h2.12M5.94 53.5h1.12M13.94 53.5h1.12M73.94 53.5h1.12M87.94 53.5h1.12M91.94 53.5h1.12M2.94 54.5h1.12M8.94 54.5h1.12M73.94 54.5h1.12M1.94 55.5h1.12M7.94 55.5h1.12M60.94 55.5h1.12M74.94 55.5h1.12M76.94 55.5h1.12M90.94 55.5h1.12M96.94 55.5h1.12M16.94 56.5h1.12M18.94 56.5h1.12M57.94 56.5h1.12M69.94 56.5h1.12M75.94 56.5h1.12M13.94 57.5h1.12M15.94 57.5h1.12M66.94 57.5h1.12M68.94 57.5h1.12M76.94 57.5h1.12M79.94 57.5h1.12M90.94 57.5h1.12M92.94 57.5h1.12M9.94 58.5h1.12M15.94 58.5h1.12M62.94 58.5h1.12M66.94 58.5h1.12M97.94 58.5h1.12M14.94 59.5h1.12M71.94 59.5h1.12M73.94 59.5h1.12M60.94 60.5h1.12M68.94 60.5h1.12M72.94 60.5h1.12M96.94 60.5h1.12M59.94 61.5h1.12M61.94 61.5h1.12M76.94 61.5h1.12M78.94 61.5h3.12M89.94 61.5h1.12M9.94 62.5h1.12M72.94 62.5h1.12M74.94 62.5h1.12M76.94 62.5h1.12M81.94 62.5h1.12M9.94 63.5h1.12M61.94 63.5h1.12M71.94 63.5h1.12M80.94 63.5h1.12M82.94 63.5h1.12M70.94 64.5h1.12M66.94 65.5h1.12M89.94 65.5h1.12M94.94 65.5h2.12M98.94 65.5h1.06M58.94 66.5h1.12M61.94 66.5h1.12M84.94 66.5h1.12M53.94 67.5h1.12M65.94 67.5h1.12M74.94 67.5h3.12M87.94 67.5h1.12M98.94 67.5h1.06M60.94 68.5h1.12M75.94 68.5h2.12M86.94 68.5h1.12M89.94 68.5h1.12M59.94 69.5h1.12M75.94 69.5h1.12M77.94 69.5h1.12M93.94 69.5h1.12M8.94 70.5h1.12M52.94 70.5h1.12M72.94 70.5h1.12M76.94 70.5h1.12M78.94 70.5h1.12M63.94 71.5h1.12M75.94 71.5h1.12M82.94 72.5h2.12M90.94 72.5h1.12M94.94 72.5h1.12M96.94 72.5h1.12M63.94 73.5h1.12M86.94 73.5h1.12M91.94 73.5h1.12M98.94 73.5h1.06M5.94 74.5h1.12M51.94 74.5h1.12M57.94 74.5h1.12M67.94 74.5h1.12M76.94 74.5h1.12M91.94 74.5h3.12M51.94 75.5h1.12M75.94 75.5h1.12M79.94 75.5h1.12M81.94 75.5h1.12M93.94 75.5h1.12M95.94 75.5h1.12M4.94 76.5h1.12M59.94 76.5h1.12M69.94 76.5h1.12M92.94 76.5h1.12M94.94 76.5h1.12M.94 77.5h1.12M59.94 77.5h1.12M69.94 77.5h1.12M77.94 77.5h1.12M80.94 77.5h3.12M49.94 78.5h1.12M62.94 78.5h1.12M78.94 78.5h1.12M85.94 78.5h1.12M93.94 78.5h1.12M46.94 79.5h1.12M69.94 79.5h1.12M73.94 79.5h1.12M84.94 79.5h1.12M91.94 79.5h1.12M95.94 79.5h1.12M56.94 80.5h1.12M59.94 80.5h1.12M62.94 80.5h1.12M66.94 80.5h1.12M86.94 80.5h1.12M89.94 80.5h1.12M95.94 80.5h1.12M54.94 81.5h2.12M60.94 81.5h2.12M71.94 81.5h1.12M81.94 81.5h1.12M56.94 82.5h1.12M63.94 82.5h1.12M68.94 83.5h1.12M78.94 83.5h1.12M75.94 84.5h1.12M79.94 84.5h1.12M97.94 84.5h1.12M75.94 85.5h1.12M77.94 85.5h2.12M81.94 85.5h1.12M83.94 85.5h1.12M93.94 85.5h1.12M97.94 85.5h1.12M10.94 86.5h2.12M72.94 86.5h1.12M84.94 86.5h1.12M73.94 87.5h1.12M76.94 87.5h2.12M79.94 87.5h1.12M69.94 88.5h1.12M76.94 88.5h2.12M7.94 89.5h1.12M13.94 89.5h1.12M63.94 89.5h1.12M69.94 89.5h2.12M95.94 89.5h1.12M8.94 90.5h1.12M12.94 90.5h1.12M55.94 90.5h1.12M77.94 90.5h1.12M93.94 90.5h1.12M96.94 90.5h1.12M0 91.5h1.06M56.94 91.5h2.12M67.94 91.5h1.12M71.94 91.5h1.12M76.94 91.5h1.12M78.94 91.5h1.12M83.94 91.5h1.12M89.94 91.5h1.12M93.94 91.5h1.12M2.94 92.5h1.12M57.94 92.5h1.12M63.94 92.5h2.12M67.94 92.5h1.12M73.94 92.5h1.12M85.94 92.5h1.12M93.94 92.5h1.12M0 93.5h1.06M13.94 93.5h1.12M70.94 93.5h1.12M79.94 93.5h1.12M83.94 93.5h1.12M98.94 93.5h1.06M4.94 94.5h1.12M10.94 94.5h1.12M52.94 94.5h1.12M56.94 94.5h1.12M71.94 94.5h1.12M84.94 94.5h1.12M94.94 94.5h1.12M2.94 95.5h1.12M9.94 95.5h1.12M15.94 95.5h1.12M54.94 95.5h1.12M63.94 95.5h1.12M67.94 95.5h1.12M77.94 95.5h1.12M88.94 95.5h1.12M98.94 95.5h1.06M4.94 96.5h1.12M56.94 96.5h1.12M61.94 96.5h1.12M64.94 96.5h1.12M87.94 96.5h1.12M53.94 97.5h3.12M61.94 97.5h1.12M70.94 97.5h1.12M85.94 97.5h1.12M93.94 97.5h2.12M11.94 98.5h1.12M53.94 98.5h1.12M70.94 98.5h1.12M77.94 98.5h2.12M89.94 98.5h1.12M95.94 98.5h1.12M9.94 99.5h1.12M50.94 99.5h1.12M58.94 99.5h1.12M78.94 99.5h2.12M88.94 99.5h1.12"/>
<path stroke="#4854f5" d="M7.94 .5h1.12M17.94 .5h1.12M49.94 .5h1.12M60.94 .5h1.12M64.94 .5h1.12M86.94 .5h1.12M95.94 .5h1.12M97.94 .5h1.12M12.94 1.5h1.12M17.94 1.5h1.12M56.94 1.5h1.12M61.94 1.5h1.12M63.94 1.5h1.12M70.94 1.5h1.12M74.94 1.5h2.12M82.94 1.5h1.12M88.94 1.5h1.12M98.94 1.5h1.06M11.94 2.5h1.12M49.94 2.5h1.12M52.94 2.5h1.12M55.94 2.5h1.12M68.94 2.5h1.12M80.94 2.5h1.12M91.94 2.5h1.12M96.94 2.5h1.12M6.94 3.5h1.12M19.94 3.5h1.12M56.94 3.5h1.12M58.94 3.5h1.12M79.94 3.5h1.12M88.94 3.5h1.12M95.94 3.5h1.12M98.94 3.5h1.06M19.94 4.5h1.12M50.94 4.5h1.12M64.94 4.5h1.12M88.94 4.5h1.12M90.94 4.5h1.12M.94 5.5h1.12M17.94 5.5h1.12M54.94 5.5h1.12M60.94 5.5h1.12M81.94 5.5h1.12M86.94 5.5h2.12M.94 6.5h2.12M8.94 6.5h1.12M54.94 6.5h2.12M71.94 6.5h1.12M80.94 6.5h1.12M82.94 6.5h2.12M92.94 6.5h1.12M95.94 6.5h1.12M97.94 6.5h1.12M3.94 7.5h1.12M8.94 7.5h1.12M13.94 7.5h1.12M17.94 7.5h1.12M54.94 7.5h1.12M80.94 7.5h1.12M96.94 7.5h2.12M2.94 8.5h1.12M13.94 8.5h1.12M21.94 8.5h1.12M51.94 8.5h1.12M63.94 8.5h1.12M88.94 8.5h1.12M9.94 9.5h1.12M66.94 9.5h1.12M71.94 9.5h1.12M80.94 9.5h1.12M88.94 9.5h1.12M.94 10.5h1.12M6.94 10.5h2.12M9.94 10.5h1.12M14.94 10.5h1.12M23.94 10.5h1.12M69.94 10.5h1.12M79.94 10.5h2.12M89.94 10.5h1.12M13.94 11.5h1.12M58.94 11.5h1.12M66.94 11.5h1.12M71.94 11.5h1.12M79.94 11.5h1.12M82.94 11.5h1.12M88.94 11.5h1.12M98.94 11.5h1.06M6.94 12.5h2.12M9.94 12.5h1.12M12.94 12.5h1.12M16.94 12.5h1.12M66.94 12.5h1.12M82.94 12.5h1.12M84.94 12.5h1.12M9.94 13.5h1.12M16.94 13.5h1.12M19.94 13.5h1.12M73.94 13.5h1.12M97.94 13.5h2.06M0 14.5h1.06M5.94 14.5h1.12M15.94 14.5h1.12M21.94 14.5h1.12M60.94 14.5h1.12M65.94 14.5h1.12M77.94 14.5h3.12M83.94 14.5h1.12M85.94 14.5h1.12M89.94 14.5h1.12M94.94 14.5h2.12M97.94 14.5h1.12M2.94 15.5h1.12M5.94 15.5h1.12M16.94 15.5h1.12M18.94 15.5h1.12M21.94 15.5h2.12M62.94 15.5h2.12M66.94 15.5h1.12M78.94 15.5h1.12M87.94 15.5h1.12M95.94 15.5h1.12M97.94 15.5h2.06M6.94 16.5h1.12M21.94 16.5h1.12M64.94 16.5h1.12M70.94 16.5h1.12M72.94 16.5h1.12M79.94 16.5h1.12M82.94 16.5h3.12M96.94 16.5h1.12M98.94 16.5h1.06M0 17.5h1.06M4.94 17.5h1.12M11.94 17.5h1.12M22.94 17.5h1.12M52.94 17.5h1.12M67.94 17.5h1.12M78.94 17.5h1.12M90.94 17.5h1.12M96.94 17.5h1.12M.94 18.5h1.12M6.94 18.5h1.12M65.94 18.5h1.12M67.94 18.5h1.12M71.94 18.5h1.12M89.94 18.5h1.12M94.94 18.5h1.12M97.94 18.5h1.12M14.94 19.5h1.12M21.94 19.5h1.12M61.94 19.5h1.12M70.94 19.5h1.12M79.94 19.5h1.12M90.94 19.5h2.12M97.94 19.5h1.12M2.94 20.5h1.12M6.94 20.5h1.12M19.94 20.5h1.12M49.94 20.5h1.12M57.94 20.5h1.12M61.94 20.5h1.12M79.94 20.5h1.12M91.94 20.5h1.12M97.94 20.5h1.12M1.94 21.5h1.12M10.94 21.5h1.12M16.94 21.5h1.12M62.94 21.5h2.12M92.94 21.5h2.12M11.94 22.5h1.12M16.94 22.5h1.12M50.94 22.5h1.12M57.94 22.5h1.12M86.94 22.5h2.12M90.94 22.5h1.12M92.94 22.5h1.12M1.94 23.5h1.12M5.94 23.5h1.12M8.94 23.5h1.12M11.94 23.5h1.12M51.94 23.5h1.12M85.94 23.5h1.12M.94 24.5h2.12M14.94 24.5h1.12M16.94 24.5h1.12M18.94 24.5h1.12M50.94 24.5h1.12M55.94 24.5h1.12M66.94 24.5h1.12M84.94 24.5h1.12M13.94 25.5h1.12M52.94 25.5h1.12M56.94 25.5h1.12M61.94 25.5h4.12M79.94 25.5h1.12M88.94 25.5h1.12M19.94 26.5h1.12M49.94 26.5h1.12M55.94 26.5h1.12M58.94 26.5h1.12M65.94 26.5h1.12M67.94 26.5h1.12M80.94 26.5h1.12M82.94 26.5h2.12M6.94 27.5h1.12M11.94 27.5h2.12M14.94 27.5h1.12M17.94 27.5h1.12M54.94 27.5h1.12M58.94 27.5h1.12M67.94 27.5h1.12M84.94 27.5h1.12M89.94 27.5h1.12M96.94 27.5h1.12M3.94 28.5h1.12M50.94 28.5h1.12M52.94 28.5h1.12M75.94 28.5h1.12M96.94 28.5h1.12M14.94 29.5h1.12M22.94 29.5h1.12M51.94 29.5h1.12M55.94 29.5h1.12M75.94 29.5h1.12M3.94 30.5h1.12M16.94 30.5h1.12M20.94 30.5h1.12M22.94 30.5h1.12M68.94 30.5h1.12M79.94 30.5h1.12M3.94 31.5h1.12M14.94 31.5h2.12M65.94 31.5h1.12M78.94 31.5h1.12M89.94 31.5h1.12M0 32.5h1.06M5.94 32.5h1.12M14.94 32.5h1.12M3.94 33.5h1.12M16.94 33.5h3.12M22.94 33.5h1.12M58.94 33.5h1.12M77.94 33.5h1.12M19.94 34.5h1.12M21.94 34.5h1.12M58.94 34.5h2.12M76.94 34.5h1.12M98.94 34.5h1.06M15.94 35.5h1.12M20.94 35.5h1.12M57.94 35.5h1.12M61.94 35.5h1.12M82.94 35.5h1.12M87.94 35.5h1.12M15.94 36.5h1.12M20.94 36.5h1.12M64.94 36.5h1.12M88.94 36.5h1.12M18.94 37.5h1.12M64.94 37.5h1.12M81.94 37.5h1.12M90.94 37.5h1.12M5.94 38.5h1.12M7.94 38.5h1.12M16.94 38.5h1.12M20.94 38.5h1.12M57.94 38.5h1.12M63.94 38.5h1.12M89.94 38.5h2.12M93.94 38.5h1.12M95.94 38.5h1.12M3.94 39.5h2.12M7.94 39.5h1.12M19.94 39.5h2.12M53.94 39.5h1.12M63.94 39.5h3.12M1.94 40.5h1.12M4.94 40.5h1.12M6.94 40.5h1.12M17.94 40.5h1.12M57.94 40.5h1.12M7.94 41.5h1.12M50.94 41.5h1.12M58.94 41.5h1.12M68.94 41.5h1.12M81.94 41.5h1.12M86.94 41.5h1.12M4.94 42.5h1.12M9.94 42.5h1.12M21.94 42.5h1.12M53.94 42.5h2.12M60.94 42.5h1.12M63.94 42.5h1.12M67.94 42.5h1.12M90.94 42.5h1.12M2.94 43.5h1.12M5.94 43.5h1.12M21.94 43.5h1.12M80.94 43.5h1.12M85.94 43.5h1.12M90.94 43.5h1.12M97.94 43.5h1.12M.94 44.5h1.12M22.94 44.5h1.12M59.94 44.5h1.12M78.94 44.5h2.12M84.94 44.5h1.12M93.94 44.5h1.12M98.94 44.5h1.06M3.94 45.5h1.12M9.94 45.5h1.12M17.94 45.5h1.12M22.94 45.5h1.12M53.94 45.5h1.12M62.94 45.5h4.12M81.94 45.5h1.12M94.94 45.5h1.12M0 46.5h1.06M8.94 46.5h1.12M13.94 46.5h1.12M16.94 46.5h2.12M22.94 46.5h1.12M54.94 46.5h1.12M74.94 46.5h1.12M89.94 46.5h1.12M91.94 46.5h1.12M97.94 46.5h1.12M18.94 47.5h1.12M78.94 47.5h1.12M14.94 48.5h1.12M16.94 48.5h1.12M18.94 48.5h1.12M55.94 48.5h1.12M58.94 48.5h2.12M61.94 48.5h1.12M82.94 48.5h1.12M85.94 48.5h1.12M87.94 48.5h1.12M.94 49.5h1.12M2.94 49.5h1.12M4.94 49.5h1.12M13.94 49.5h1.12M60.94 49.5h1.12M84.94 49.5h1.12M90.94 49.5h2.12M.94 50.5h2.12M6.94 50.5h1.12M14.94 50.5h1.12M55.94 50.5h1.12M58.94 50.5h1.12M64.94 50.5h1.12M74.94 50.5h1.12M84.94 50.5h1.12M91.94 50.5h1.12M95.94 50.5h1.12M60.94 51.5h1.12M66.94 51.5h1.12M1.94 52.5h2.12M14.94 52.5h1.12M66.94 52.5h1.12M98.94 52.5h1.06M15.94 53.5h1.12M63.94 53.5h1.12M74.94 53.5h1.12M93.94 53.5h1.12M1.94 54.5h1.12M3.94 54.5h2.12M60.94 54.5h1.12M70.94 54.5h1.12M74.94 54.5h1.12M86.94 54.5h1.12M91.94 54.5h1.12M14.94 55.5h1.12M70.94 55.5h1.12M86.94 55.5h1.12M91.94 55.5h1.12M95.94 55.5h1.12M97.94 55.5h1.12M55.94 56.5h1.12M59.94 56.5h2.12M74.94 56.5h1.12M86.94 56.5h1.12M97.94 56.5h1.12M9.94 57.5h1.12M18.94 57.5h1.12M58.94 57.5h1.12M71.94 57.5h1.12M73.94 57.5h1.12M77.94 57.5h2.12M87.94 57.5h1.12M97.94 57.5h1.12M13.94 58.5h1.12M68.94 58.5h1.12M87.94 58.5h1.12M89.94 58.5h3.12M94.94 58.5h1.12M62.94 59.5h1.12M89.94 59.5h1.12M96.94 59.5h1.12M9.94 60.5h1.12M57.94 60.5h1.12M59.94 60.5h1.12M66.94 60.5h1.12M94.94 60.5h2.12M62.94 61.5h1.12M70.94 61.5h4.12M73.94 62.5h1.12M75.94 62.5h1.12M80.94 62.5h1.12M94.94 62.5h1.12M70.94 63.5h1.12M77.94 63.5h1.12M89.94 63.5h1.12M66.94 64.5h2.12M92.94 65.5h1.12M9.94 66.5h1.12M57.94 66.5h1.12M74.94 66.5h1.12M92.94 66.5h1.12M95.94 66.5h3.12M73.94 67.5h1.12M84.94 67.5h1.12M94.94 68.5h1.12M73.94 69.5h1.12M86.94 69.5h1.12M90.94 69.5h1.12M60.94 70.5h1.12M73.94 70.5h1.12M75.94 70.5h1.12M79.94 70.5h1.12M61.94 71.5h2.12M72.94 71.5h1.12M74.94 71.5h1.12M90.94 71.5h1.12M63.94 72.5h1.12M67.94 72.5h1.12M95.94 72.5h1.12M6.94 73.5h1.12M56.94 73.5h1.12M67.94 73.5h1.12M85.94 73.5h1.12M90.94 73.5h1.12M94.94 73.5h1.12M97.94 73.5h1.12M55.94 74.5h1.12M65.94 74.5h1.12M80.94 74.5h2.12M83.94 74.5h1.12M94.94 74.5h2.12M97.94 74.5h1.12M4.94 75.5h1.12M54.94 75.5h1.12M62.94 75.5h1.12M76.94 75.5h1.12M97.94 75.5h1.12M50.94 76.5h1.12M54.94 76.5h1.12M68.94 76.5h1.12M75.94 76.5h1.12M77.94 76.5h1.12M81.94 76.5h1.12M57.94 77.5h1.12M68.94 77.5h1.12M86.94 77.5h1.12M93.94 77.5h1.12M48.94 78.5h1.12M74.94 78.5h1.12M79.94 78.5h1.12M86.94 78.5h2.12M90.94 78.5h1.12M54.94 79.5h2.12M64.94 79.5h1.12M67.94 79.5h1.12M79.94 79.5h1.12M85.94 79.5h1.12M87.94 79.5h1.12M90.94 79.5h1.12M54.94 80.5h1.12M63.94 80.5h1.12M67.94 80.5h1.12M70.94 80.5h1.12M73.94 80.5h1.12M57.94 81.5h1.12M62.94 81.5h2.12M65.94 81.5h1.12M68.94 81.5h1.12M68.94 82.5h1.12M80.94 82.5h2.12M83.94 82.5h1.12M86.94 82.5h1.12M49.94 84.5h1.12M55.94 84.5h1.12M80.94 84.5h1.12M95.94 84.5h1.12M50.94 85.5h3.12M54.94 85.5h2.12M60.94 85.5h1.12M65.94 85.5h1.12M67.94 85.5h1.12M69.94 85.5h1.12M82.94 85.5h1.12M54.94 86.5h1.12M59.94 86.5h1.12M78.94 86.5h1.12M82.94 86.5h2.12M7.94 87.5h1.12M55.94 87.5h1.12M70.94 87.5h1.12M80.94 87.5h1.12M64.94 88.5h1.12M97.94 88.5h1.12M53.94 89.5h1.12M76.94 89.5h1.12M88.94 89.5h1.12M6.94 90.5h1.12M56.94 90.5h1.12M70.94 90.5h1.12M75.94 90.5h2.12M84.94 90.5h1.12M86.94 90.5h1.12M92.94 90.5h1.12M2.94 91.5h1.12M4.94 91.5h1.12M12.94 91.5h1.12M54.94 91.5h1.12M77.94 91.5h1.12M92.94 91.5h1.12M97.94 91.5h1.12M3.94 92.5h1.12M8.94 92.5h1.12M78.94 92.5h1.12M82.94 92.5h1.12M88.94 92.5h2.12M92.94 92.5h1.12M2.94 93.5h1.12M6.94 93.5h1.12M8.94 93.5h1.12M72.94 93.5h1.12M87.94 93.5h1.12M6.94 94.5h1.12M88.94 94.5h1.12M93.94 94.5h1.12M53.94 95.5h1.12M62.94 95.5h1.12M68.94 95.5h3.12M81.94 95.5h1.12M84.94 95.5h1.12M89.94 95.5h1.12M0 96.5h1.06M5.94 96.5h1.12M8.94 96.5h1.12M52.94 96.5h1.12M55.94 96.5h1.12M59.94 96.5h1.12M76.94 96.5h1.12M78.94 96.5h1.12M90.94 96.5h1.12M92.94 96.5h1.12M.94 97.5h2.12M13.94 97.5h1.12M51.94 97.5h1.12M57.94 97.5h2.12M71.94 97.5h1.12M73.94 97.5h1.12M90.94 97.5h1.12M0 98.5h1.06M7.94 98.5h1.12M61.94 98.5h1.12M85.94 98.5h2.12M98.94 98.5h1.06M8.94 99.5h1.12M59.94 99.5h1.12M80.94 99.5h1.12"/>
<path stroke="#4561fc" d="M6.94 .5h1.12M14.94 .5h1.12M50.94 .5h1.12M70.94 .5h1.12M83.94 .5h1.12M6.94 1.5h1.12M9.94 1.5h1.12M68.94 1.5h1.12M81.94 1.5h1.12M87.94 1.5h1.12M96.94 1.5h1.12M.94 2.5h1.12M3.94 2.5h1.12M7.94 2.5h1.12M17.94 2.5h1.12M61.94 2.5h3.12M73.94 2.5h1.12M87.94 2.5h1.12M97.94 2.5h1.12M7.94 3.5h1.12M52.94 3.5h1.12M59.94 3.5h1.12M61.94 3.5h2.12M64.94 3.5h2.12M69.94 3.5h1.12M74.94 3.5h1.12M85.94 3.5h1.12M91.94 3.5h2.12M1.94 4.5h1.12M7.94 4.5h1.12M49.94 4.5h1.12M54.94 4.5h1.12M56.94 4.5h1.12M61.94 4.5h1.12M66.94 4.5h1.12M68.94 4.5h2.12M74.94 4.5h1.12M86.94 4.5h1.12M89.94 4.5h1.12M92.94 4.5h1.12M0 5.5h1.06M4.94 5.5h2.12M15.94 5.5h1.12M56.94 5.5h1.12M63.94 5.5h2.12M74.94 5.5h1.12M77.94 5.5h1.12M82.94 5.5h2.12M92.94 5.5h1.12M2.94 6.5h1.12M17.94 6.5h1.12M20.94 6.5h1.12M51.94 6.5h2.12M1.94 7.5h1.12M10.94 7.5h1.12M53.94 7.5h1.12M57.94 7.5h1.12M70.94 7.5h2.12M76.94 7.5h1.12M15.94 8.5h1.12M61.94 8.5h2.12M76.94 8.5h1.12M8.94 9.5h1.12M12.94 9.5h1.12M19.94 9.5h1.12M53.94 9.5h1.12M55.94 9.5h1.12M64.94 9.5h1.12M67.94 9.5h1.12M0 10.5h1.06M12.94 10.5h1.12M52.94 10.5h1.12M55.94 10.5h2.12M58.94 10.5h1.12M75.94 10.5h1.12M88.94 10.5h1.12M9.94 11.5h1.12M14.94 11.5h2.12M61.94 11.5h1.12M69.94 11.5h1.12M78.94 11.5h1.12M18.94 12.5h1.12M58.94 12.5h1.12M65.94 12.5h1.12M73.94 12.5h1.12M77.94 12.5h1.12M98.94 12.5h1.06M59.94 13.5h1.12M67.94 13.5h1.12M77.94 13.5h1.12M20.94 14.5h1.12M24.94 14.5h1.12M74.94 14.5h1.12M84.94 14.5h1.12M87.94 14.5h2.12M4.94 15.5h1.12M17.94 15.5h1.12M24.94 15.5h1.12M67.94 15.5h1.12M69.94 15.5h1.12M79.94 15.5h1.12M82.94 15.5h1.12M88.94 15.5h1.12M90.94 15.5h1.12M0 16.5h1.06M1.94 16.5h1.12M10.94 16.5h1.12M22.94 16.5h1.12M57.94 16.5h1.12M78.94 16.5h1.12M85.94 16.5h1.12M94.94 16.5h1.12M3.94 17.5h1.12M6.94 17.5h1.12M12.94 17.5h1.12M17.94 17.5h2.12M21.94 17.5h1.12M65.94 17.5h1.12M71.94 17.5h1.12M80.94 17.5h1.12M83.94 17.5h1.12M95.94 17.5h1.12M2.94 18.5h1.12M20.94 18.5h2.12M61.94 18.5h1.12M64.94 18.5h1.12M68.94 18.5h1.12M79.94 18.5h1.12M90.94 18.5h2.12M96.94 18.5h1.12M2.94 19.5h1.12M12.94 19.5h1.12M15.94 19.5h1.12M65.94 19.5h3.12M71.94 19.5h1.12M76.94 19.5h1.12M23.94 20.5h1.12M64.94 20.5h2.12M90.94 20.5h1.12M6.94 21.5h2.12M11.94 21.5h1.12M13.94 21.5h3.12M55.94 21.5h1.12M57.94 21.5h1.12M65.94 21.5h2.12M69.94 21.5h1.12M94.94 21.5h1.12M97.94 21.5h1.12M14.94 22.5h1.12M20.94 22.5h1.12M49.94 22.5h1.12M52.94 22.5h1.12M68.94 22.5h1.12M93.94 22.5h1.12M9.94 23.5h1.12M16.94 23.5h1.12M20.94 23.5h1.12M50.94 23.5h1.12M53.94 23.5h1.12M77.94 23.5h1.12M81.94 23.5h1.12M49.94 24.5h1.12M61.94 24.5h1.12M85.94 24.5h1.12M4.94 25.5h1.12M6.94 25.5h1.12M9.94 25.5h1.12M15.94 25.5h2.12M49.94 25.5h1.12M51.94 25.5h1.12M.94 26.5h1.12M4.94 26.5h1.12M8.94 26.5h1.12M11.94 26.5h1.12M15.94 26.5h1.12M18.94 26.5h1.12M53.94 26.5h1.12M64.94 26.5h1.12M86.94 26.5h1.12M4.94 27.5h1.12M13.94 27.5h1.12M18.94 27.5h2.12M50.94 27.5h1.12M55.94 27.5h1.12M86.94 27.5h2.12M1.94 28.5h1.12M4.94 28.5h1.12M8.94 28.5h1.12M13.94 28.5h1.12M18.94 28.5h1.12M61.94 28.5h1.12M63.94 28.5h1.12M74.94 28.5h1.12M95.94 28.5h1.12M1.94 29.5h1.12M4.94 29.5h1.12M20.94 29.5h1.12M54.94 29.5h1.12M74.94 29.5h1.12M58.94 30.5h1.12M67.94 30.5h1.12M74.94 30.5h1.12M16.94 31.5h1.12M22.94 31.5h1.12M52.94 31.5h1.12M56.94 31.5h1.12M58.94 31.5h1.12M63.94 31.5h2.12M22.94 32.5h1.12M58.94 32.5h1.12M78.94 32.5h1.12M0 33.5h1.06M4.94 33.5h1.12M50.94 33.5h1.12M56.94 33.5h1.12M5.94 34.5h1.12M20.94 34.5h1.12M22.94 34.5h1.12M52.94 34.5h1.12M54.94 34.5h1.12M56.94 34.5h1.12M62.94 34.5h1.12M79.94 34.5h1.12M4.94 35.5h1.12M17.94 35.5h1.12M21.94 35.5h1.12M55.94 35.5h1.12M79.94 35.5h1.12M17.94 36.5h1.12M52.94 36.5h1.12M54.94 36.5h1.12M56.94 36.5h1.12M85.94 36.5h1.12M6.94 37.5h2.12M13.94 37.5h1.12M15.94 37.5h1.12M52.94 37.5h1.12M54.94 37.5h1.12M83.94 37.5h1.12M11.94 38.5h2.12M15.94 38.5h1.12M17.94 38.5h1.12M54.94 38.5h2.12M77.94 38.5h1.12M2.94 39.5h1.12M5.94 39.5h1.12M54.94 39.5h1.12M93.94 39.5h1.12M5.94 40.5h1.12M52.94 40.5h1.12M68.94 40.5h1.12M0 41.5h1.06M1.94 41.5h1.12M15.94 41.5h1.12M52.94 41.5h1.12M56.94 41.5h1.12M69.94 41.5h1.12M89.94 41.5h1.12M.94 42.5h1.12M7.94 42.5h1.12M10.94 42.5h2.12M50.94 42.5h1.12M55.94 42.5h1.12M59.94 42.5h1.12M77.94 42.5h1.12M82.94 42.5h1.12M84.94 42.5h1.12M0 43.5h2.06M62.94 43.5h1.12M83.94 43.5h1.12M93.94 43.5h1.12M4.94 44.5h1.12M18.94 44.5h1.12M55.94 44.5h1.12M65.94 44.5h1.12M92.94 44.5h1.12M94.94 44.5h1.12M18.94 45.5h1.12M21.94 45.5h1.12M54.94 45.5h1.12M70.94 45.5h1.12M84.94 45.5h1.12M89.94 45.5h1.12M97.94 45.5h2.06M21.94 46.5h1.12M55.94 46.5h1.12M61.94 46.5h1.12M75.94 46.5h1.12M96.94 46.5h1.12M14.94 47.5h1.12M19.94 47.5h1.12M55.94 47.5h1.12M59.94 47.5h1.12M74.94 47.5h2.12M79.94 47.5h1.12M84.94 47.5h1.12M88.94 47.5h1.12M91.94 47.5h1.12M11.94 48.5h1.12M60.94 48.5h1.12M68.94 48.5h1.12M71.94 48.5h1.12M73.94 48.5h1.12M76.94 48.5h1.12M81.94 48.5h1.12M84.94 48.5h1.12M89.94 48.5h1.12M91.94 48.5h1.12M17.94 49.5h1.12M56.94 49.5h3.12M64.94 49.5h1.12M78.94 49.5h1.12M80.94 49.5h1.12M88.94 49.5h1.12M96.94 49.5h1.12M8.94 50.5h1.12M12.94 50.5h2.12M63.94 50.5h1.12M77.94 50.5h1.12M80.94 50.5h1.12M85.94 50.5h2.12M93.94 50.5h2.12M18.94 51.5h1.12M93.94 51.5h1.12M4.94 52.5h1.12M9.94 52.5h1.12M15.94 52.5h1.12M60.94 52.5h1.12M63.94 52.5h1.12M65.94 52.5h1.12M69.94 52.5h1.12M18.94 53.5h2.12M60.94 53.5h1.12M72.94 53.5h1.12M5.94 54.5h1.12M56.94 54.5h1.12M62.94 54.5h1.12M88.94 54.5h1.12M8.94 55.5h1.12M17.94 55.5h2.12M63.94 55.5h1.12M72.94 55.5h1.12M88.94 55.5h1.12M93.94 55.5h1.12M8.94 56.5h1.12M13.94 56.5h1.12M58.94 56.5h1.12M73.94 56.5h1.12M76.94 56.5h1.12M89.94 56.5h1.12M16.94 57.5h2.12M65.94 57.5h1.12M88.94 57.5h1.12M93.94 57.5h1.12M72.94 58.5h1.12M77.94 58.5h3.12M93.94 58.5h1.12M95.94 58.5h1.12M98.94 58.5h1.06M9.94 59.5h1.12M13.94 59.5h1.12M59.94 59.5h1.12M67.94 59.5h1.12M94.94 59.5h2.12M67.94 60.5h1.12M88.94 60.5h1.12M77.94 61.5h1.12M90.94 61.5h1.12M95.94 61.5h1.12M66.94 62.5h1.12M71.94 62.5h1.12M89.94 62.5h1.12M93.94 62.5h1.12M96.94 62.5h1.12M67.94 63.5h1.12M93.94 63.5h2.12M77.94 64.5h1.12M89.94 64.5h1.12M93.94 64.5h1.12M95.94 64.5h1.12M67.94 65.5h1.12M75.94 65.5h1.12M90.94 65.5h1.12M69.94 66.5h1.12M79.94 66.5h1.12M89.94 66.5h1.12M78.94 67.5h1.12M86.94 67.5h1.12M88.94 68.5h1.12M76.94 69.5h1.12M88.94 70.5h1.12M93.94 70.5h1.12M95.94 70.5h1.12M98.94 70.5h1.06M59.94 71.5h2.12M95.94 71.5h1.12M80.94 72.5h1.12M86.94 72.5h1.12M51.94 73.5h1.12M81.94 73.5h1.12M64.94 74.5h1.12M66.94 74.5h1.12M87.94 74.5h2.12M98.94 74.5h1.06M55.94 75.5h1.12M66.94 75.5h1.12M77.94 75.5h1.12M98.94 75.5h1.06M57.94 76.5h1.12M67.94 76.5h1.12M96.94 76.5h2.12M48.94 77.5h1.12M60.94 77.5h2.12M66.94 77.5h1.12M90.94 77.5h1.12M92.94 77.5h1.12M47.94 78.5h1.12M95.94 78.5h1.12M57.94 79.5h1.12M62.94 79.5h1.12M66.94 79.5h1.12M71.94 80.5h2.12M79.94 80.5h1.12M90.94 80.5h1.12M97.94 80.5h1.12M64.94 81.5h1.12M66.94 81.5h1.12M57.94 82.5h1.12M60.94 82.5h1.12M66.94 82.5h1.12M82.94 82.5h1.12M85.94 82.5h1.12M87.94 82.5h2.12M54.94 83.5h1.12M60.94 83.5h1.12M62.94 83.5h1.12M66.94 83.5h1.12M65.94 84.5h1.12M68.94 84.5h1.12M74.94 84.5h1.12M81.94 84.5h1.12M83.94 84.5h1.12M91.94 84.5h1.12M53.94 85.5h1.12M66.94 85.5h1.12M95.94 85.5h1.12M55.94 86.5h1.12M61.94 86.5h1.12M69.94 86.5h1.12M71.94 86.5h1.12M77.94 86.5h1.12M85.94 86.5h1.12M87.94 86.5h1.12M97.94 86.5h1.12M52.94 87.5h1.12M54.94 87.5h1.12M66.94 87.5h2.12M83.94 87.5h1.12M96.94 87.5h1.12M6.94 88.5h1.12M53.94 88.5h1.12M65.94 88.5h1.12M70.94 88.5h2.12M84.94 88.5h1.12M91.94 88.5h1.12M93.94 88.5h1.12M14.94 89.5h1.12M71.94 89.5h1.12M93.94 89.5h2.12M98.94 89.5h1.06M64.94 90.5h1.12M78.94 90.5h1.12M82.94 90.5h1.12M88.94 90.5h1.12M97.94 90.5h1.12M5.94 91.5h1.12M8.94 91.5h1.12M55.94 91.5h1.12M68.94 91.5h1.12M80.94 91.5h1.12M94.94 91.5h1.12M98.94 91.5h1.06M62.94 92.5h1.12M69.94 92.5h1.12M76.94 92.5h1.12M79.94 92.5h1.12M83.94 92.5h1.12M90.94 92.5h2.12M97.94 92.5h1.12M.94 93.5h1.12M7.94 93.5h1.12M11.94 93.5h2.12M71.94 93.5h1.12M76.94 93.5h1.12M80.94 93.5h1.12M84.94 93.5h1.12M90.94 93.5h2.12M93.94 93.5h1.12M1.94 94.5h1.12M11.94 94.5h1.12M13.94 94.5h1.12M61.94 94.5h1.12M72.94 94.5h1.12M76.94 94.5h1.12M83.94 94.5h1.12M87.94 94.5h1.12M90.94 94.5h1.12M98.94 94.5h1.06M4.94 95.5h5.12M56.94 95.5h1.12M64.94 95.5h1.12M73.94 95.5h1.12M91.94 95.5h1.12M.94 96.5h2.12M9.94 96.5h1.12M57.94 96.5h2.12M60.94 96.5h1.12M68.94 96.5h2.12M73.94 96.5h1.12M91.94 96.5h1.12M98.94 96.5h1.06M52.94 97.5h1.12M56.94 97.5h1.12M59.94 97.5h1.12M66.94 97.5h1.12M80.94 97.5h1.12M84.94 97.5h1.12M87.94 97.5h1.12M89.94 97.5h1.12M95.94 97.5h1.12M98.94 97.5h1.06M6.94 98.5h1.12M13.94 98.5h1.12M59.94 98.5h1.12M73.94 98.5h4.12M84.94 98.5h1.12M62.94 99.5h1.12M69.94 99.5h1.12M85.94 99.5h1.12M96.94 99.5h2.12"/>
<path stroke="#3e6fff" d="M13.94 .5h1.12M53.94 .5h3.12M63.94 .5h1.12M71.94 .5h1.12M75.94 .5h1.12M81.94 .5h1.12M0 1.5h1.06M15.94 1.5h1.12M54.94 1.5h1.12M86.94 1.5h1.12M9.94 2.5h2.12M16.94 2.5h1.12M19.94 2.5h1.12M60.94 2.5h1.12M64.94 2.5h1.12M66.94 2.5h1.12M86.94 2.5h1.12M88.94 2.5h3.12M17.94 3.5h1.12M51.94 3.5h1.12M87.94 3.5h1.12M90.94 3.5h1.12M94.94 3.5h1.12M6.94 4.5h1.12M55.94 4.5h1.12M87.94 4.5h1.12M1.94 5.5h1.12M6.94 5.5h1.12M16.94 5.5h1.12M19.94 5.5h1.12M55.94 5.5h1.12M61.94 5.5h2.12M65.94 5.5h1.12M68.94 5.5h1.12M93.94 5.5h1.12M16.94 6.5h1.12M18.94 6.5h1.12M56.94 6.5h1.12M68.94 6.5h2.12M81.94 6.5h1.12M2.94 7.5h1.12M16.94 7.5h1.12M20.94 7.5h1.12M51.94 7.5h2.12M11.94 8.5h1.12M17.94 8.5h1.12M49.94 8.5h1.12M57.94 8.5h1.12M59.94 8.5h1.12M71.94 8.5h1.12M75.94 8.5h1.12M11.94 9.5h1.12M51.94 9.5h1.12M54.94 9.5h1.12M57.94 9.5h1.12M62.94 9.5h2.12M69.94 9.5h1.12M8.94 10.5h1.12M68.94 10.5h1.12M12.94 11.5h1.12M16.94 11.5h1.12M18.94 11.5h1.12M59.94 11.5h1.12M69.94 12.5h1.12M0 13.5h1.06M15.94 13.5h1.12M64.94 13.5h2.12M75.94 13.5h1.12M3.94 14.5h1.12M6.94 14.5h1.12M64.94 14.5h1.12M11.94 15.5h1.12M20.94 15.5h1.12M64.94 15.5h1.12M.94 16.5h1.12M19.94 16.5h1.12M89.94 16.5h1.12M9.94 17.5h1.12M19.94 17.5h1.12M59.94 17.5h2.12M81.94 17.5h1.12M58.94 18.5h1.12M93.94 18.5h1.12M98.94 18.5h1.06M11.94 19.5h1.12M20.94 20.5h1.12M60.94 20.5h1.12M63.94 20.5h1.12M67.94 20.5h1.12M76.94 20.5h1.12M12.94 21.5h1.12M17.94 21.5h1.12M19.94 21.5h1.12M50.94 21.5h1.12M59.94 21.5h1.12M90.94 21.5h1.12M3.94 22.5h1.12M13.94 22.5h1.12M19.94 22.5h1.12M54.94 22.5h1.12M66.94 22.5h1.12M3.94 23.5h1.12M15.94 23.5h1.12M17.94 23.5h1.12M63.94 23.5h1.12M67.94 23.5h1.12M78.94 23.5h1.12M6.94 24.5h1.12M8.94 24.5h1.12M17.94 24.5h1.12M20.94 24.5h1.12M56.94 24.5h2.12M65.94 24.5h1.12M87.94 24.5h2.12M7.94 25.5h1.12M11.94 25.5h1.12M14.94 25.5h1.12M17.94 25.5h1.12M59.94 25.5h1.12M65.94 25.5h1.12M77.94 25.5h1.12M87.94 25.5h1.12M95.94 25.5h1.12M1.94 26.5h1.12M7.94 26.5h1.12M10.94 26.5h1.12M16.94 26.5h1.12M54.94 26.5h1.12M61.94 26.5h2.12M87.94 26.5h1.12M96.94 26.5h1.12M1.94 27.5h2.12M7.94 27.5h1.12M10.94 27.5h1.12M20.94 27.5h1.12M51.94 27.5h1.12M11.94 28.5h1.12M55.94 28.5h1.12M59.94 28.5h1.12M62.94 28.5h1.12M92.94 28.5h1.12M17.94 29.5h1.12M53.94 29.5h1.12M60.94 29.5h1.12M13.94 30.5h1.12M19.94 30.5h1.12M51.94 30.5h1.12M55.94 30.5h1.12M59.94 30.5h1.12M66.94 30.5h1.12M50.94 31.5h1.12M57.94 31.5h1.12M97.94 31.5h1.12M3.94 32.5h1.12M17.94 32.5h1.12M54.94 32.5h1.12M57.94 32.5h1.12M60.94 32.5h1.12M52.94 33.5h1.12M54.94 33.5h1.12M16.94 34.5h2.12M61.94 34.5h1.12M6.94 35.5h1.12M16.94 35.5h1.12M54.94 35.5h1.12M78.94 35.5h1.12M4.94 36.5h1.12M6.94 36.5h1.12M16.94 36.5h1.12M60.94 36.5h1.12M12.94 37.5h1.12M16.94 37.5h1.12M53.94 37.5h1.12M57.94 37.5h2.12M60.94 37.5h1.12M77.94 37.5h1.12M87.94 37.5h1.12M9.94 38.5h1.12M61.94 38.5h2.12M94.94 38.5h1.12M9.94 39.5h1.12M13.94 39.5h1.12M15.94 39.5h1.12M61.94 39.5h2.12M14.94 40.5h1.12M18.94 40.5h1.12M53.94 40.5h1.12M55.94 40.5h1.12M61.94 40.5h2.12M85.94 40.5h1.12M6.94 41.5h1.12M17.94 41.5h1.12M54.94 41.5h1.12M78.94 41.5h1.12M8.94 42.5h1.12M18.94 42.5h1.12M61.94 42.5h1.12M78.94 42.5h1.12M94.94 42.5h1.12M8.94 43.5h1.12M18.94 43.5h1.12M60.94 43.5h1.12M67.94 43.5h1.12M81.94 43.5h1.12M84.94 43.5h1.12M86.94 43.5h1.12M94.94 43.5h1.12M0 44.5h1.06M10.94 44.5h1.12M57.94 44.5h1.12M91.94 44.5h1.12M95.94 44.5h1.12M.94 45.5h1.12M8.94 45.5h1.12M83.94 45.5h1.12M95.94 45.5h2.12M63.94 46.5h1.12M65.94 46.5h1.12M70.94 46.5h1.12M84.94 46.5h1.12M87.94 46.5h1.12M10.94 47.5h1.12M13.94 47.5h1.12M22.94 47.5h1.12M60.94 47.5h2.12M66.94 47.5h1.12M73.94 47.5h1.12M76.94 47.5h1.12M81.94 47.5h1.12M83.94 47.5h1.12M89.94 47.5h2.12M12.94 48.5h1.12M67.94 48.5h1.12M69.94 48.5h2.12M72.94 48.5h1.12M74.94 48.5h2.12M88.94 48.5h1.12M3.94 49.5h1.12M7.94 49.5h1.12M11.94 49.5h1.12M14.94 49.5h1.12M16.94 49.5h1.12M59.94 49.5h1.12M63.94 49.5h1.12M69.94 49.5h4.12M76.94 49.5h1.12M89.94 49.5h1.12M7.94 50.5h1.12M66.94 50.5h4.12M71.94 50.5h1.12M73.94 50.5h1.12M87.94 50.5h1.12M1.94 51.5h1.12M4.94 51.5h1.12M12.94 51.5h2.12M91.94 51.5h1.12M0 52.5h1.06M3.94 52.5h1.12M13.94 52.5h1.12M16.94 52.5h1.12M61.94 52.5h1.12M92.94 52.5h1.12M.94 53.5h1.12M3.94 53.5h2.12M8.94 53.5h1.12M14.94 53.5h1.12M16.94 53.5h1.12M62.94 53.5h1.12M64.94 53.5h2.12M69.94 53.5h1.12M86.94 53.5h1.12M95.94 53.5h1.12M.94 54.5h1.12M13.94 54.5h2.12M57.94 54.5h2.12M64.94 54.5h1.12M71.94 54.5h1.12M87.94 54.5h1.12M92.94 54.5h2.12M12.94 55.5h1.12M15.94 55.5h1.12M20.94 55.5h1.12M67.94 55.5h1.12M19.94 56.5h1.12M72.94 56.5h1.12M87.94 56.5h2.12M98.94 56.5h1.06M72.94 57.5h1.12M98.94 57.5h1.06M10.94 58.5h2.12M67.94 58.5h1.12M92.94 58.5h1.12M11.94 59.5h1.12M15.94 59.5h1.12M66.94 59.5h1.12M68.94 59.5h1.12M90.94 59.5h1.12M10.94 60.5h1.12M89.94 60.5h1.12M91.94 60.5h1.12M60.94 61.5h1.12M91.94 61.5h1.12M94.94 61.5h1.12M78.94 62.5h1.12M95.94 62.5h1.12M98.94 63.5h1.06M74.94 65.5h1.12M77.94 65.5h1.12M80.94 65.5h1.12M77.94 66.5h1.12M90.94 67.5h1.12M95.94 67.5h1.12M87.94 69.5h1.12M91.94 69.5h1.12M59.94 70.5h1.12M74.94 70.5h1.12M86.94 70.5h1.12M90.94 70.5h1.12M7.94 72.5h1.12M81.94 72.5h1.12M88.94 72.5h1.12M82.94 73.5h1.12M96.94 74.5h1.12M67.94 75.5h2.12M91.94 75.5h2.12M96.94 75.5h1.12M52.94 76.5h2.12M55.94 76.5h1.12M60.94 76.5h1.12M76.94 76.5h1.12M80.94 76.5h1.12M53.94 77.5h1.12M75.94 77.5h2.12M79.94 77.5h1.12M91.94 77.5h1.12M97.94 77.5h1.12M61.94 78.5h1.12M66.94 78.5h1.12M73.94 78.5h1.12M75.94 78.5h1.12M56.94 79.5h1.12M72.94 79.5h1.12M86.94 79.5h1.12M96.94 79.5h1.12M55.94 80.5h1.12M57.94 80.5h1.12M67.94 81.5h1.12M80.94 81.5h1.12M96.94 81.5h1.12M67.94 82.5h1.12M84.94 82.5h1.12M95.94 82.5h1.12M97.94 82.5h1.12M0 83.5h1.06M63.94 83.5h1.12M81.94 83.5h1.12M95.94 83.5h3.12M56.94 84.5h1.12M60.94 84.5h1.12M84.94 84.5h1.12M90.94 84.5h1.12M96.94 84.5h1.12M10.94 85.5h1.12M68.94 85.5h1.12M94.94 85.5h1.12M98.94 85.5h1.06M60.94 86.5h1.12M67.94 86.5h1.12M70.94 86.5h1.12M92.94 86.5h1.12M98.94 86.5h1.06M61.94 87.5h1.12M68.94 87.5h2.12M82.94 87.5h1.12M93.94 87.5h1.12M95.94 87.5h1.12M97.94 87.5h2.06M4.94 88.5h1.12M56.94 88.5h1.12M59.94 88.5h3.12M68.94 88.5h1.12M79.94 88.5h1.12M92.94 88.5h1.12M56.94 89.5h2.12M64.94 89.5h1.12M82.94 89.5h2.12M53.94 90.5h1.12M73.94 90.5h1.12M83.94 90.5h1.12M95.94 90.5h1.12M65.94 91.5h2.12M69.94 91.5h2.12M5.94 92.5h1.12M59.94 92.5h1.12M66.94 92.5h1.12M71.94 92.5h1.12M77.94 92.5h1.12M86.94 92.5h2.12M1.94 93.5h1.12M60.94 93.5h2.12M64.94 93.5h1.12M82.94 93.5h1.12M88.94 93.5h1.12M92.94 93.5h1.12M94.94 93.5h1.12M.94 94.5h1.12M5.94 94.5h1.12M55.94 94.5h1.12M66.94 94.5h1.12M80.94 94.5h1.12M85.94 94.5h1.12M89.94 94.5h1.12M95.94 94.5h1.12M11.94 95.5h1.12M52.94 95.5h1.12M57.94 95.5h1.12M60.94 95.5h1.12M65.94 95.5h1.12M83.94 95.5h1.12M87.94 95.5h1.12M97.94 95.5h1.12M7.94 96.5h1.12M65.94 96.5h1.12M67.94 96.5h1.12M80.94 96.5h1.12M83.94 96.5h2.12M86.94 96.5h1.12M8.94 97.5h2.12M16.94 97.5h1.12M68.94 97.5h2.12M81.94 97.5h1.12M88.94 97.5h1.12M91.94 97.5h1.12M9.94 98.5h1.12M58.94 98.5h1.12M71.94 98.5h1.12M96.94 98.5h2.12M12.94 99.5h2.12M54.94 99.5h2.12M61.94 99.5h1.12M68.94 99.5h1.12M76.94 99.5h1.12M89.94 99.5h2.12M95.94 99.5h1.12M98.94 99.5h1.06"/>
<path stroke="#317dfc" d="M0 .5h1.06M8.94 .5h1.12M48.94 .5h1.12M52.94 .5h1.12M98.94 .5h1.06M48.94 1.5h1.12M66.94 1.5h1.12M74.94 2.5h1.12M60.94 3.5h1.12M86.94 3.5h1.12M5.94 4.5h1.12M62.94 4.5h1.12M65.94 4.5h1.12M85.94 4.5h1.12M69.94 5.5h1.12M85.94 5.5h1.12M94.94 5.5h2.12M15.94 6.5h1.12M60.94 6.5h1.12M62.94 6.5h1.12M75.94 6.5h1.12M19.94 7.5h1.12M55.94 7.5h2.12M61.94 7.5h1.12M75.94 7.5h1.12M8.94 8.5h1.12M10.94 8.5h1.12M18.94 8.5h2.12M53.94 8.5h1.12M70.94 8.5h1.12M14.94 9.5h1.12M68.94 9.5h1.12M10.94 10.5h2.12M17.94 10.5h2.12M62.94 10.5h1.12M66.94 10.5h2.12M6.94 11.5h1.12M11.94 11.5h1.12M17.94 11.5h1.12M67.94 11.5h2.12M13.94 12.5h3.12M17.94 12.5h1.12M60.94 12.5h1.12M67.94 12.5h1.12M78.94 12.5h1.12M12.94 13.5h1.12M60.94 13.5h1.12M63.94 14.5h1.12M80.94 14.5h1.12M0 15.5h1.06M6.94 15.5h1.12M15.94 15.5h1.12M57.94 15.5h1.12M65.94 15.5h1.12M70.94 15.5h1.12M80.94 15.5h2.12M3.94 16.5h1.12M11.94 16.5h2.12M16.94 16.5h1.12M65.94 16.5h1.12M80.94 16.5h1.12M8.94 17.5h1.12M20.94 17.5h1.12M84.94 17.5h1.12M93.94 17.5h1.12M12.94 18.5h1.12M19.94 18.5h1.12M22.94 18.5h1.12M60.94 18.5h1.12M92.94 18.5h1.12M.94 19.5h2.12M6.94 19.5h1.12M20.94 19.5h1.12M60.94 19.5h1.12M62.94 19.5h1.12M64.94 19.5h1.12M93.94 19.5h1.12M9.94 20.5h1.12M66.94 20.5h1.12M20.94 21.5h1.12M56.94 21.5h1.12M58.94 21.5h1.12M91.94 21.5h1.12M10.94 22.5h1.12M18.94 22.5h1.12M53.94 22.5h1.12M2.94 23.5h1.12M6.94 23.5h1.12M18.94 23.5h1.12M55.94 23.5h1.12M68.94 23.5h1.12M15.94 24.5h1.12M19.94 24.5h1.12M63.94 24.5h1.12M76.94 24.5h1.12M79.94 24.5h1.12M81.94 24.5h1.12M60.94 25.5h1.12M66.94 25.5h2.12M6.94 26.5h1.12M9.94 26.5h1.12M17.94 26.5h1.12M52.94 26.5h1.12M66.94 26.5h1.12M95.94 26.5h1.12M59.94 27.5h1.12M74.94 27.5h1.12M90.94 27.5h2.12M94.94 27.5h2.12M2.94 28.5h1.12M19.94 28.5h1.12M91.94 28.5h1.12M13.94 29.5h1.12M52.94 29.5h1.12M59.94 29.5h1.12M17.94 30.5h1.12M50.94 30.5h1.12M4.94 31.5h1.12M17.94 31.5h1.12M55.94 31.5h1.12M60.94 31.5h1.12M73.94 31.5h1.12M15.94 32.5h2.12M55.94 32.5h1.12M14.94 33.5h1.12M20.94 33.5h1.12M55.94 33.5h1.12M78.94 33.5h1.12M0 34.5h1.06M14.94 34.5h1.12M0 35.5h1.06M58.94 35.5h1.12M60.94 35.5h1.12M5.94 36.5h1.12M55.94 36.5h1.12M86.94 36.5h2.12M5.94 37.5h1.12M14.94 37.5h1.12M17.94 37.5h1.12M59.94 37.5h1.12M88.94 37.5h1.12M6.94 38.5h1.12M10.94 38.5h1.12M13.94 38.5h1.12M60.94 38.5h1.12M10.94 39.5h1.12M58.94 39.5h1.12M15.94 40.5h1.12M4.94 41.5h1.12M16.94 41.5h1.12M18.94 41.5h2.12M53.94 41.5h1.12M55.94 41.5h1.12M61.94 41.5h1.12M3.94 42.5h1.12M6.94 43.5h1.12M82.94 43.5h1.12M9.94 44.5h1.12M19.94 44.5h1.12M54.94 44.5h1.12M87.94 44.5h1.12M0 45.5h1.06M58.94 45.5h1.12M18.94 46.5h2.12M62.94 46.5h1.12M82.94 46.5h1.12M58.94 47.5h1.12M70.94 47.5h1.12M72.94 47.5h1.12M82.94 47.5h1.12M2.94 48.5h2.12M19.94 48.5h2.12M57.94 48.5h1.12M78.94 48.5h1.12M90.94 48.5h1.12M1.94 49.5h1.12M9.94 49.5h1.12M15.94 49.5h1.12M62.94 49.5h1.12M66.94 49.5h1.12M75.94 49.5h1.12M87.94 49.5h1.12M9.94 50.5h1.12M20.94 50.5h1.12M59.94 50.5h1.12M65.94 50.5h1.12M92.94 50.5h1.12M0 51.5h1.06M2.94 51.5h1.12M7.94 51.5h3.12M14.94 51.5h1.12M17.94 51.5h1.12M64.94 51.5h1.12M72.94 51.5h1.12M95.94 51.5h1.12M19.94 52.5h1.12M21.94 52.5h1.12M73.94 52.5h2.12M12.94 53.5h1.12M67.94 53.5h2.12M70.94 53.5h1.12M96.94 53.5h1.12M98.94 53.5h1.06M9.94 54.5h1.12M11.94 54.5h1.12M94.94 54.5h1.12M96.94 54.5h1.12M11.94 55.5h1.12M13.94 55.5h1.12M57.94 55.5h2.12M65.94 55.5h1.12M68.94 55.5h1.12M71.94 55.5h1.12M87.94 55.5h1.12M12.94 56.5h1.12M63.94 56.5h1.12M66.94 56.5h2.12M70.94 56.5h2.12M64.94 57.5h1.12M89.94 57.5h1.12M17.94 58.5h1.12M90.94 60.5h1.12M93.94 60.5h1.12M92.94 61.5h2.12M60.94 62.5h1.12M77.94 62.5h1.12M90.94 62.5h1.12M97.94 62.5h1.12M95.94 63.5h2.12M78.94 64.5h1.12M79.94 65.5h1.12M97.94 65.5h1.12M56.94 66.5h1.12M75.94 66.5h1.12M78.94 66.5h1.12M91.94 66.5h1.12M9.94 67.5h1.12M77.94 67.5h1.12M91.94 67.5h1.12M89.94 69.5h1.12M94.94 69.5h2.12M87.94 70.5h1.12M91.94 70.5h1.12M94.94 70.5h1.12M89.94 71.5h1.12M87.94 72.5h1.12M83.94 73.5h2.12M87.94 73.5h2.12M95.94 73.5h1.12M57.94 75.5h1.12M63.94 75.5h1.12M65.94 75.5h1.12M56.94 76.5h1.12M63.94 76.5h1.12M66.94 76.5h1.12M91.94 76.5h1.12M49.94 77.5h1.12M52.94 77.5h1.12M62.94 77.5h1.12M1.94 78.5h1.12M91.94 78.5h1.12M0 79.5h1.06M1.94 79.5h1.12M63.94 79.5h1.12M98.94 79.5h1.06M46.94 80.5h1.12M58.94 80.5h1.12M64.94 80.5h1.12M58.94 81.5h2.12M95.94 81.5h1.12M98.94 81.5h1.06M0 82.5h2.06M58.94 82.5h2.12M64.94 82.5h2.12M96.94 82.5h1.12M55.94 83.5h2.12M64.94 83.5h1.12M98.94 83.5h1.06M58.94 84.5h1.12M82.94 84.5h1.12M98.94 84.5h1.06M.94 85.5h1.12M57.94 85.5h2.12M74.94 85.5h1.12M92.94 85.5h1.12M51.94 86.5h1.12M58.94 86.5h1.12M88.94 86.5h1.12M94.94 86.5h2.12M12.94 87.5h1.12M62.94 87.5h4.12M90.94 87.5h1.12M92.94 87.5h1.12M13.94 88.5h1.12M54.94 88.5h2.12M62.94 88.5h1.12M74.94 88.5h2.12M82.94 88.5h1.12M54.94 89.5h1.12M62.94 89.5h1.12M77.94 89.5h1.12M81.94 89.5h1.12M61.94 90.5h1.12M65.94 90.5h1.12M68.94 90.5h2.12M87.94 90.5h1.12M94.94 90.5h1.12M98.94 90.5h1.06M72.94 91.5h1.12M79.94 91.5h1.12M86.94 91.5h1.12M88.94 91.5h1.12M15.94 92.5h1.12M61.94 92.5h1.12M65.94 92.5h1.12M70.94 92.5h1.12M81.94 92.5h1.12M98.94 92.5h1.06M5.94 93.5h1.12M15.94 93.5h1.12M0 94.5h1.06M57.94 94.5h1.12M60.94 94.5h1.12M63.94 94.5h1.12M77.94 94.5h1.12M86.94 94.5h1.12M91.94 94.5h2.12M96.94 94.5h1.12M0 95.5h1.06M1.94 95.5h1.12M58.94 95.5h1.12M82.94 95.5h1.12M90.94 95.5h1.12M92.94 95.5h1.12M12.94 96.5h1.12M71.94 96.5h1.12M81.94 96.5h1.12M10.94 97.5h1.12M76.94 97.5h2.12M8.94 98.5h1.12M10.94 98.5h1.12M50.94 98.5h1.12M57.94 98.5h1.12M60.94 98.5h1.12M66.94 98.5h1.12M80.94 98.5h1.12M87.94 98.5h2.12M90.94 98.5h1.12M92.94 98.5h2.12M56.94 99.5h1.12M70.94 99.5h2.12M81.94 99.5h1.12M87.94 99.5h1.12"/>
<path stroke="#2d8af5" d="M19.94 .5h1.12M66.94 .5h1.12M73.94 .5h1.12M82.94 .5h1.12M55.94 1.5h1.12M59.94 2.5h1.12M65.94 2.5h1.12M69.94 2.5h1.12M55.94 3.5h1.12M89.94 3.5h1.12M0 4.5h2.06M91.94 4.5h1.12M93.94 4.5h2.12M70.94 5.5h1.12M84.94 5.5h1.12M61.94 6.5h1.12M63.94 6.5h1.12M14.94 7.5h2.12M21.94 7.5h1.12M60.94 7.5h1.12M16.94 8.5h1.12M55.94 8.5h1.12M17.94 9.5h2.12M52.94 9.5h1.12M56.94 9.5h1.12M58.94 9.5h3.12M70.94 9.5h1.12M15.94 10.5h2.12M59.94 10.5h1.12M61.94 10.5h1.12M7.94 11.5h1.12M11.94 12.5h1.12M59.94 12.5h1.12M64.94 12.5h1.12M13.94 13.5h1.12M74.94 13.5h1.12M82.94 13.5h1.12M84.94 13.5h1.12M14.94 14.5h1.12M3.94 15.5h1.12M10.94 15.5h1.12M2.94 16.5h1.12M66.94 16.5h1.12M81.94 16.5h1.12M1.94 17.5h1.12M10.94 17.5h1.12M0 18.5h1.06M1.94 18.5h1.12M8.94 18.5h2.12M10.94 19.5h1.12M58.94 19.5h1.12M92.94 19.5h1.12M7.94 20.5h2.12M10.94 20.5h2.12M14.94 20.5h1.12M21.94 20.5h1.12M58.94 20.5h1.12M18.94 21.5h1.12M64.94 21.5h1.12M89.94 21.5h1.12M2.94 22.5h1.12M21.94 22.5h1.12M51.94 22.5h1.12M64.94 22.5h1.12M69.94 22.5h1.12M19.94 23.5h1.12M48.94 23.5h1.12M52.94 23.5h1.12M87.94 23.5h1.12M7.94 24.5h1.12M9.94 24.5h1.12M48.94 24.5h1.12M78.94 24.5h1.12M5.94 25.5h1.12M76.94 25.5h1.12M80.94 25.5h1.12M14.94 26.5h1.12M60.94 26.5h1.12M63.94 26.5h1.12M9.94 27.5h1.12M60.94 27.5h2.12M18.94 30.5h1.12M52.94 30.5h3.12M19.94 31.5h1.12M59.94 31.5h1.12M4.94 32.5h1.12M18.94 32.5h1.12M50.94 32.5h1.12M98.94 32.5h1.06M4.94 34.5h1.12M55.94 34.5h1.12M60.94 34.5h1.12M5.94 35.5h1.12M53.94 35.5h1.12M57.94 36.5h2.12M20.94 37.5h1.12M55.94 37.5h2.12M49.94 38.5h1.12M58.94 38.5h2.12M82.94 38.5h1.12M49.94 39.5h1.12M85.94 39.5h1.12M94.94 39.5h1.12M16.94 40.5h1.12M19.94 40.5h2.12M58.94 40.5h1.12M84.94 40.5h1.12M3.94 41.5h1.12M5.94 41.5h1.12M20.94 41.5h1.12M59.94 41.5h1.12M62.94 41.5h1.12M1.94 42.5h2.12M5.94 42.5h2.12M19.94 42.5h2.12M9.94 43.5h2.12M7.94 44.5h2.12M87.94 45.5h1.12M20.94 46.5h1.12M57.94 46.5h1.12M64.94 46.5h1.12M73.94 46.5h1.12M83.94 46.5h1.12M2.94 47.5h2.12M20.94 47.5h1.12M62.94 47.5h1.12M56.94 48.5h1.12M62.94 48.5h2.12M79.94 48.5h1.12M83.94 48.5h1.12M8.94 49.5h1.12M18.94 49.5h1.12M20.94 49.5h1.12M65.94 49.5h1.12M77.94 49.5h1.12M11.94 50.5h1.12M15.94 50.5h1.12M17.94 50.5h1.12M70.94 50.5h1.12M72.94 50.5h1.12M53.94 51.5h1.12M59.94 51.5h1.12M74.94 51.5h1.12M71.94 52.5h2.12M61.94 53.5h1.12M66.94 53.5h1.12M71.94 53.5h1.12M94.94 53.5h1.12M18.94 54.5h1.12M95.94 54.5h1.12M98.94 54.5h1.06M0 55.5h2.06M59.94 55.5h1.12M64.94 55.5h1.12M66.94 55.5h1.12M69.94 55.5h1.12M92.94 55.5h1.12M98.94 55.5h1.06M9.94 56.5h1.12M11.94 56.5h1.12M17.94 56.5h1.12M10.94 57.5h2.12M12.94 58.5h1.12M93.94 59.5h1.12M97.94 63.5h1.12M91.94 65.5h1.12M76.94 66.5h1.12M90.94 66.5h1.12M87.94 68.5h1.12M52.94 69.5h1.12M96.94 69.5h1.12M89.94 70.5h1.12M8.94 71.5h1.12M88.94 71.5h1.12M94.94 71.5h1.12M80.94 73.5h1.12M56.94 74.5h1.12M49.94 76.5h1.12M51.94 76.5h1.12M65.94 76.5h1.12M78.94 76.5h1.12M65.94 77.5h1.12M78.94 77.5h1.12M95.94 77.5h2.12M0 78.5h2.06M65.94 78.5h1.12M92.94 78.5h1.12M97.94 78.5h1.12M.94 79.5h1.12M97.94 79.5h1.12M80.94 80.5h1.12M96.94 80.5h1.12M97.94 81.5h1.12M98.94 82.5h1.06M61.94 83.5h1.12M85.94 83.5h2.12M89.94 83.5h1.12M57.94 84.5h1.12M61.94 84.5h1.12M67.94 84.5h1.12M91.94 85.5h1.12M56.94 86.5h2.12M65.94 86.5h1.12M68.94 86.5h1.12M86.94 86.5h1.12M57.94 87.5h1.12M59.94 87.5h1.12M71.94 87.5h2.12M91.94 87.5h1.12M5.94 88.5h1.12M58.94 88.5h1.12M83.94 88.5h1.12M58.94 89.5h2.12M61.94 89.5h1.12M75.94 89.5h1.12M78.94 89.5h1.12M54.94 90.5h1.12M57.94 90.5h1.12M63.94 90.5h1.12M67.94 90.5h1.12M74.94 90.5h1.12M79.94 90.5h1.12M85.94 90.5h1.12M15.94 91.5h1.12M82.94 91.5h1.12M87.94 91.5h1.12M95.94 91.5h1.12M60.94 92.5h1.12M72.94 92.5h1.12M80.94 92.5h1.12M94.94 92.5h1.12M96.94 92.5h1.12M58.94 93.5h1.12M77.94 93.5h1.12M81.94 93.5h1.12M89.94 93.5h1.12M96.94 93.5h1.12M12.94 94.5h1.12M58.94 94.5h1.12M81.94 94.5h2.12M.94 95.5h1.12M51.94 95.5h1.12M59.94 95.5h1.12M61.94 95.5h1.12M71.94 95.5h2.12M85.94 95.5h1.12M95.94 95.5h1.12M16.94 96.5h1.12M72.94 96.5h1.12M95.94 96.5h1.12M6.94 97.5h1.12M60.94 97.5h1.12M78.94 97.5h2.12M86.94 97.5h1.12M97.94 97.5h1.12M12.94 98.5h1.12M55.94 98.5h2.12M79.94 98.5h1.12M83.94 98.5h1.12M91.94 98.5h1.12M57.94 99.5h1.12M67.94 99.5h1.12M83.94 99.5h1.12"/>
<path stroke="#2797eb" d="M19.94 1.5h1.12M64.94 1.5h2.12M0 2.5h1.06M0 3.5h2.06M95.94 4.5h1.12M12.94 8.5h1.12M14.94 8.5h1.12M56.94 8.5h1.12M15.94 9.5h1.12M53.94 10.5h1.12M63.94 10.5h1.12M65.94 10.5h1.12M70.94 10.5h1.12M64.94 11.5h1.12M10.94 12.5h1.12M68.94 12.5h1.12M14.94 13.5h1.12M24.94 13.5h1.12M63.94 13.5h1.12M81.94 13.5h1.12M83.94 13.5h1.12M10.94 14.5h1.12M56.94 14.5h1.12M14.94 15.5h1.12M.94 17.5h1.12M2.94 17.5h1.12M7.94 17.5h1.12M7.94 19.5h2.12M17.94 22.5h1.12M55.94 22.5h2.12M65.94 22.5h1.12M56.94 23.5h1.12M86.94 23.5h1.12M5.94 24.5h1.12M11.94 24.5h1.12M77.94 24.5h1.12M80.94 24.5h1.12M86.94 24.5h1.12M10.94 25.5h1.12M86.94 25.5h1.12M59.94 26.5h1.12M8.94 27.5h1.12M49.94 27.5h1.12M63.94 27.5h1.12M20.94 28.5h1.12M86.94 28.5h2.12M18.94 29.5h1.12M18.94 31.5h1.12M54.94 31.5h1.12M19.94 32.5h1.12M52.94 32.5h2.12M53.94 34.5h1.12M77.94 34.5h2.12M77.94 35.5h1.12M53.94 36.5h1.12M59.94 36.5h1.12M84.94 37.5h1.12M86.94 38.5h1.12M14.94 39.5h1.12M84.94 39.5h1.12M19.94 43.5h2.12M20.94 44.5h1.12M20.94 45.5h1.12M55.94 45.5h1.12M7.94 47.5h1.12M9.94 47.5h1.12M63.94 47.5h2.12M77.94 47.5h1.12M9.94 48.5h1.12M22.94 48.5h1.12M66.94 48.5h1.12M10.94 49.5h1.12M19.94 49.5h1.12M67.94 49.5h1.12M2.94 50.5h2.12M3.94 51.5h1.12M11.94 51.5h1.12M15.94 51.5h2.12M19.94 51.5h1.12M68.94 51.5h4.12M94.94 51.5h1.12M70.94 52.5h1.12M0 53.5h1.06M9.94 53.5h2.12M92.94 53.5h1.12M97.94 53.5h1.12M67.94 54.5h1.12M69.94 54.5h1.12M68.94 56.5h1.12M91.94 59.5h1.12M79.94 62.5h1.12M92.94 62.5h1.12M78.94 63.5h1.12M90.94 63.5h1.12M90.94 64.5h2.12M96.94 64.5h2.12M62.94 65.5h1.12M9.94 68.5h1.12M95.94 68.5h1.12M88.94 69.5h1.12M97.94 69.5h1.12M86.94 71.5h2.12M51.94 72.5h1.12M50.94 75.5h1.12M64.94 75.5h1.12M64.94 76.5h1.12M98.94 76.5h1.06M96.94 78.5h1.12M98.94 80.5h1.06M0 81.5h1.06M.94 83.5h1.12M57.94 83.5h2.12M82.94 83.5h1.12M88.94 83.5h1.12M.94 84.5h1.12M62.94 84.5h1.12M64.94 84.5h1.12M85.94 84.5h1.12M88.94 84.5h2.12M56.94 85.5h1.12M59.94 85.5h1.12M84.94 85.5h2.12M90.94 85.5h1.12M8.94 86.5h1.12M63.94 86.5h1.12M89.94 86.5h1.12M58.94 87.5h1.12M94.94 87.5h1.12M57.94 88.5h1.12M67.94 88.5h1.12M73.94 88.5h1.12M78.94 88.5h1.12M81.94 88.5h1.12M55.94 89.5h1.12M60.94 89.5h1.12M65.94 89.5h1.12M68.94 89.5h1.12M72.94 89.5h1.12M74.94 89.5h1.12M79.94 89.5h1.12M7.94 90.5h1.12M59.94 90.5h2.12M62.94 90.5h1.12M80.94 90.5h1.12M7.94 91.5h1.12M58.94 91.5h1.12M81.94 91.5h1.12M6.94 92.5h1.12M95.94 92.5h1.12M57.94 93.5h1.12M66.94 93.5h1.12M95.94 93.5h1.12M13.94 95.5h1.12M16.94 95.5h1.12M66.94 95.5h1.12M76.94 95.5h1.12M86.94 95.5h1.12M6.94 96.5h1.12M13.94 96.5h1.12M66.94 96.5h1.12M70.94 96.5h1.12M82.94 96.5h1.12M85.94 96.5h1.12M97.94 96.5h1.12M7.94 97.5h1.12M11.94 97.5h2.12M67.94 97.5h1.12M72.94 97.5h1.12M82.94 97.5h2.12M92.94 97.5h1.12M96.94 97.5h1.12M68.94 98.5h1.12M72.94 98.5h1.12M81.94 98.5h1.12M66.94 99.5h1.12M73.94 99.5h1.12M75.94 99.5h1.12M82.94 99.5h1.12"/>
<path stroke="#23a1e4" d="M74.94 .5h1.12M16.94 1.5h1.12M18.94 7.5h1.12M52.94 8.5h1.12M60.94 10.5h1.12M10.94 11.5h1.12M60.94 11.5h1.12M62.94 11.5h1.12M65.94 11.5h1.12M24.94 12.5h1.12M61.94 12.5h1.12M10.94 13.5h2.12M12.94 14.5h1.12M62.94 14.5h1.12M82.94 14.5h1.12M12.94 15.5h2.12M17.94 16.5h1.12M24.94 18.5h1.12M21.94 21.5h1.12M23.94 21.5h1.12M23.94 22.5h1.12M48.94 22.5h1.12M10.94 23.5h1.12M94.94 26.5h1.12M62.94 27.5h1.12M90.94 28.5h1.12M19.94 29.5h1.12M15.94 33.5h1.12M19.94 33.5h1.12M53.94 33.5h1.12M59.94 35.5h1.12M19.94 37.5h1.12M86.94 37.5h1.12M14.94 38.5h1.12M60.94 39.5h1.12M3.94 40.5h1.12M49.94 40.5h1.12M60.94 41.5h1.12M19.94 45.5h1.12M56.94 45.5h2.12M71.94 46.5h2.12M56.94 47.5h1.12M65.94 47.5h1.12M8.94 48.5h1.12M10.94 48.5h1.12M52.94 48.5h1.12M65.94 48.5h1.12M16.94 50.5h1.12M18.94 50.5h2.12M67.94 51.5h1.12M73.94 51.5h1.12M0 54.5h1.06M10.94 54.5h1.12M54.94 54.5h1.12M65.94 54.5h2.12M68.94 54.5h1.12M97.94 54.5h1.12M64.94 56.5h1.12M12.94 57.5h1.12M10.94 59.5h1.12M12.94 59.5h1.12M92.94 60.5h1.12M92.94 63.5h1.12M79.94 64.5h1.12M92.94 64.5h1.12M96.94 68.5h3.06M5.94 75.5h1.12M79.94 76.5h1.12M63.94 77.5h2.12M98.94 78.5h1.06M59.94 83.5h1.12M67.94 83.5h1.12M84.94 83.5h1.12M87.94 83.5h1.12M86.94 84.5h1.12M9.94 85.5h1.12M61.94 85.5h2.12M64.94 86.5h1.12M91.94 86.5h1.12M93.94 86.5h1.12M96.94 86.5h1.12M1.94 87.5h1.12M6.94 87.5h1.12M56.94 87.5h1.12M60.94 87.5h1.12M67.94 89.5h1.12M80.94 89.5h1.12M58.94 90.5h1.12M66.94 90.5h1.12M81.94 90.5h1.12M6.94 91.5h1.12M59.94 91.5h1.12M62.94 91.5h2.12M7.94 92.5h1.12M58.94 92.5h1.12M65.94 93.5h1.12M59.94 94.5h1.12M12.94 95.5h1.12M16.94 98.5h1.12M60.94 99.5h1.12M72.94 99.5h1.12M74.94 99.5h1.12"/>
<path stroke="#19acdc" d="M15.94 .5h2.12M7.94 1.5h1.12M20.94 8.5h1.12M54.94 8.5h1.12M49.94 9.5h1.12M62.94 12.5h1.12M11.94 14.5h1.12M13.94 14.5h1.12M81.94 14.5h1.12M82.94 17.5h1.12M7.94 18.5h1.12M10.94 18.5h1.12M59.94 18.5h1.12M9.94 19.5h1.12M59.94 20.5h1.12M53.94 31.5h1.12M84.94 38.5h2.12M7.94 43.5h1.12M11.94 43.5h1.12M56.94 46.5h1.12M8.94 47.5h1.12M71.94 47.5h1.12M7.94 48.5h1.12M64.94 48.5h1.12M10.94 52.5h1.12M68.94 52.5h1.12M10.94 56.5h1.12M65.94 56.5h1.12M92.94 59.5h1.12M79.94 63.5h1.12M10.94 64.5h1.12M78.94 65.5h1.12M96.94 65.5h1.12M54.94 66.5h1.12M9.94 69.5h1.12M56.94 75.5h1.12M0 80.5h2.06M.94 81.5h1.12M83.94 83.5h1.12M59.94 84.5h1.12M63.94 84.5h1.12M11.94 85.5h1.12M64.94 85.5h1.12M7.94 86.5h1.12M62.94 86.5h1.12M3.94 88.5h1.12M66.94 88.5h1.12M80.94 88.5h1.12M66.94 89.5h1.12M61.94 91.5h1.12M96.94 91.5h1.12M59.94 93.5h1.12M64.94 94.5h2.12M11.94 96.5h1.12M51.94 96.5h1.12M82.94 98.5h1.12"/>
<path stroke="#09b4d1" d="M48.94 2.5h1.12M22.94 8.5h1.12M16.94 9.5h1.12M64.94 10.5h1.12M63.94 11.5h1.12M61.94 13.5h1.12M61.94 14.5h1.12M56.94 15.5h1.12M53.94 16.5h1.12M11.94 18.5h1.12M59.94 19.5h1.12M10.94 24.5h1.12M48.94 25.5h1.12M49.94 36.5h1.12M59.94 39.5h1.12M60.94 40.5h1.12M50.94 44.5h1.12M51.94 46.5h1.12M58.94 46.5h1.12M77.94 48.5h1.12M10.94 50.5h1.12M10.94 51.5h1.12M12.94 52.5h1.12M67.94 52.5h1.12M21.94 53.5h1.12M9.94 55.5h2.12M55.94 57.5h1.12M10.94 61.5h1.12M58.94 61.5h1.12M91.94 62.5h1.12M98.94 69.5h1.06M98.94 77.5h1.06M63.94 78.5h1.12M48.94 83.5h1.12M87.94 84.5h1.12M88.94 85.5h2.12M90.94 86.5h1.12M2.94 88.5h1.12M72.94 88.5h1.12M73.94 89.5h1.12M16.94 94.5h1.12M96.94 95.5h1.12M96.94 96.5h1.12"/>
<path stroke="#05bbc1" d="M48.94 3.5h1.12M24.94 11.5h1.12M63.94 12.5h1.12M55.94 13.5h1.12M49.94 37.5h1.12M85.94 37.5h1.12M59.94 40.5h1.12M22.94 49.5h1.12M11.94 52.5h1.12M11.94 53.5h1.12M16.94 59.5h1.12M52.94 68.5h1.12M6.94 74.5h1.12M3.94 78.5h1.12M64.94 78.5h1.12M1.94 80.5h1.12M8.94 85.5h1.12M87.94 85.5h1.12M67.94 98.5h1.12M16.94 99.5h1.12"/>
<path stroke="#22c1b0" d="M48.94 4.5h1.12M46.94 9.5h1.12M48.94 21.5h1.12M23.94 23.5h1.12M23.94 24.5h1.12M44.94 31.5h1.12M30.94 35.5h1.12M26.94 47.5h1.12M57.94 47.5h1.12M53.94 52.5h1.12M21.94 54.5h1.12M20.94 56.5h1.12M10.94 63.5h1.12M4.94 77.5h1.12M2.94 79.5h1.12M63.94 85.5h1.12M86.94 85.5h1.12M12.94 86.5h1.12M13.94 87.5h1.12M14.94 88.5h1.12M15.94 90.5h1.12M60.94 91.5h1.12M35.94 97.5h1.12M50.94 97.5h1.12"/>
<path stroke="#33c79c" d="M36.94 .5h1.12M23.94 1.5h1.12M29.94 1.5h1.12M43.94 1.5h1.12M45.94 1.5h1.12M20.94 2.5h1.12M27.94 2.5h1.12M42.94 2.5h1.12M20.94 3.5h1.12M33.94 3.5h1.12M36.94 3.5h1.12M36.94 4.5h1.12M20.94 5.5h2.12M29.94 5.5h1.12M25.94 6.5h2.12M41.94 6.5h1.12M45.94 6.5h1.12M29.94 7.5h1.12M33.94 7.5h1.12M43.94 7.5h1.12M45.94 7.5h1.12M23.94 9.5h1.12M28.94 9.5h2.12M40.94 9.5h1.12M32.94 10.5h1.12M36.94 10.5h1.12M49.94 10.5h1.12M35.94 11.5h1.12M37.94 11.5h1.12M45.94 11.5h1.12M38.94 12.5h1.12M34.94 13.5h2.12M62.94 13.5h1.12M37.94 14.5h1.12M26.94 15.5h2.12M29.94 15.5h1.12M38.94 15.5h1.12M55.94 15.5h1.12M45.94 16.5h1.12M29.94 17.5h1.12M43.94 17.5h1.12M24.94 19.5h1.12M34.94 19.5h1.12M43.94 20.5h1.12M27.94 21.5h1.12M42.94 21.5h1.12M24.94 22.5h1.12M26.94 22.5h1.12M28.94 22.5h1.12M28.94 24.5h1.12M33.94 24.5h1.12M41.94 24.5h1.12M45.94 24.5h1.12M23.94 25.5h1.12M40.94 27.5h1.12M43.94 27.5h1.12M49.94 28.5h1.12M23.94 29.5h1.12M32.94 30.5h1.12M37.94 30.5h2.12M40.94 30.5h1.12M27.94 31.5h2.12M37.94 31.5h1.12M24.94 32.5h1.12M26.94 32.5h1.12M37.94 32.5h1.12M43.94 32.5h1.12M25.94 33.5h1.12M33.94 33.5h1.12M23.94 34.5h1.12M25.94 34.5h1.12M44.94 34.5h1.12M46.94 34.5h2.12M23.94 35.5h1.12M49.94 35.5h1.12M24.94 36.5h2.12M37.94 36.5h1.12M23.94 38.5h1.12M23.94 40.5h1.12M41.94 41.5h1.12M26.94 42.5h1.12M41.94 42.5h1.12M42.94 47.5h1.12M46.94 49.5h1.12M52.94 49.5h1.12M50.94 50.5h1.12M49.94 51.5h1.12M29.94 52.5h1.12M47.94 53.5h1.12M24.94 54.5h1.12M44.94 54.5h1.12M50.94 54.5h1.12M28.94 55.5h1.12M23.94 56.5h1.12M48.94 56.5h1.12M22.94 57.5h1.12M24.94 57.5h3.12M41.94 57.5h1.12M45.94 57.5h1.12M50.94 57.5h1.12M51.94 58.5h1.12M44.94 59.5h1.12M56.94 59.5h1.12M14.94 60.5h1.12M45.94 60.5h1.12M21.94 61.5h1.12M51.94 61.5h1.12M10.94 62.5h2.12M15.94 62.5h1.12M49.94 62.5h1.12M51.94 62.5h1.12M28.94 63.5h1.12M30.94 63.5h1.12M91.94 63.5h1.12M25.94 64.5h1.12M46.94 64.5h1.12M48.94 64.5h1.12M10.94 65.5h1.12M10.94 66.5h1.12M21.94 67.5h1.12M13.94 68.5h1.12M41.94 68.5h1.12M46.94 69.5h1.12M9.94 70.5h1.12M46.94 70.5h1.12M11.94 71.5h1.12M17.94 71.5h1.12M26.94 71.5h1.12M41.94 71.5h1.12M51.94 71.5h1.12M9.94 72.5h1.12M19.94 72.5h1.12M7.94 73.5h1.12M10.94 73.5h1.12M13.94 73.5h1.12M47.94 74.5h1.12M15.94 75.5h1.12M41.94 75.5h1.12M5.94 76.5h1.12M5.94 77.5h1.12M11.94 79.5h1.12M5.94 81.5h1.12M10.94 81.5h1.12M47.94 82.5h1.12M1.94 83.5h1.12M43.94 83.5h1.12M1.94 86.5h1.12M3.94 86.5h1.12M14.94 86.5h1.12M23.94 88.5h1.12M20.94 89.5h1.12M16.94 90.5h1.12M25.94 90.5h1.12M31.94 90.5h1.12M24.94 91.5h1.12M39.94 92.5h1.12M16.94 93.5h1.12M36.94 93.5h1.12M40.94 93.5h1.12M19.94 94.5h1.12M22.94 94.5h1.12M41.94 94.5h2.12M36.94 95.5h1.12M42.94 95.5h1.12M23.94 96.5h1.12M37.94 96.5h1.12M23.94 97.5h1.12M29.94 97.5h1.12M32.94 97.5h1.12M25.94 98.5h1.12M29.94 98.5h1.12M40.94 98.5h1.12M20.94 99.5h1.12M36.94 99.5h2.12"/>
<path stroke="#45cb89" d="M23.94 .5h2.12M29.94 .5h2.12M32.94 .5h4.12M37.94 .5h4.12M42.94 .5h1.12M44.94 .5h1.12M20.94 1.5h1.12M24.94 1.5h1.12M31.94 1.5h1.12M33.94 1.5h1.12M41.94 1.5h2.12M44.94 1.5h1.12M21.94 2.5h1.12M23.94 2.5h2.12M26.94 2.5h1.12M30.94 2.5h3.12M34.94 2.5h1.12M38.94 2.5h1.12M40.94 2.5h1.12M21.94 3.5h1.12M25.94 3.5h2.12M28.94 3.5h2.12M40.94 3.5h1.12M44.94 3.5h1.12M20.94 4.5h1.12M22.94 4.5h1.12M24.94 4.5h1.12M26.94 4.5h1.12M29.94 4.5h1.12M31.94 4.5h5.12M39.94 4.5h4.12M22.94 5.5h3.12M34.94 5.5h1.12M36.94 5.5h2.12M43.94 5.5h4.12M22.94 6.5h1.12M29.94 6.5h3.12M34.94 6.5h3.12M39.94 6.5h2.12M43.94 6.5h1.12M22.94 7.5h4.12M27.94 7.5h2.12M34.94 7.5h3.12M41.94 7.5h2.12M27.94 8.5h1.12M32.94 8.5h1.12M34.94 8.5h2.12M40.94 8.5h2.12M43.94 8.5h1.12M46.94 8.5h1.12M24.94 9.5h2.12M31.94 9.5h1.12M33.94 9.5h1.12M36.94 9.5h3.12M41.94 9.5h3.12M25.94 10.5h1.12M29.94 10.5h1.12M34.94 10.5h2.12M37.94 10.5h4.12M25.94 11.5h1.12M30.94 11.5h1.12M32.94 11.5h3.12M36.94 11.5h1.12M39.94 11.5h1.12M43.94 11.5h1.12M46.94 11.5h1.12M25.94 12.5h1.12M28.94 12.5h1.12M30.94 12.5h2.12M35.94 12.5h2.12M41.94 12.5h2.12M45.94 12.5h3.12M25.94 13.5h1.12M28.94 13.5h4.12M38.94 13.5h4.12M43.94 13.5h1.12M46.94 13.5h1.12M26.94 14.5h2.12M29.94 14.5h1.12M35.94 14.5h2.12M38.94 14.5h2.12M41.94 14.5h7.12M28.94 15.5h1.12M31.94 15.5h1.12M35.94 15.5h1.12M37.94 15.5h1.12M44.94 15.5h2.12M50.94 15.5h1.12M25.94 16.5h3.12M29.94 16.5h1.12M32.94 16.5h4.12M37.94 16.5h1.12M40.94 16.5h2.12M47.94 16.5h1.12M33.94 17.5h2.12M40.94 17.5h1.12M45.94 17.5h1.12M26.94 18.5h1.12M28.94 18.5h1.12M35.94 18.5h2.12M39.94 18.5h1.12M41.94 18.5h4.12M50.94 18.5h1.12M26.94 19.5h1.12M31.94 19.5h2.12M41.94 19.5h1.12M43.94 19.5h1.12M24.94 20.5h1.12M26.94 20.5h2.12M33.94 20.5h1.12M36.94 20.5h1.12M38.94 20.5h1.12M41.94 20.5h2.12M32.94 21.5h1.12M34.94 21.5h2.12M38.94 21.5h1.12M40.94 21.5h1.12M45.94 21.5h1.12M27.94 22.5h1.12M29.94 22.5h2.12M36.94 22.5h1.12M41.94 22.5h1.12M44.94 22.5h2.12M29.94 23.5h1.12M32.94 23.5h4.12M41.94 23.5h2.12M25.94 24.5h2.12M32.94 24.5h1.12M35.94 24.5h1.12M39.94 24.5h2.12M42.94 24.5h1.12M24.94 25.5h2.12M28.94 25.5h1.12M30.94 25.5h1.12M32.94 25.5h1.12M38.94 25.5h1.12M40.94 25.5h1.12M43.94 25.5h1.12M45.94 25.5h1.12M27.94 26.5h1.12M29.94 26.5h2.12M35.94 26.5h1.12M38.94 26.5h1.12M41.94 26.5h1.12M23.94 27.5h2.12M31.94 27.5h2.12M36.94 27.5h1.12M39.94 27.5h1.12M41.94 27.5h1.12M45.94 27.5h1.12M27.94 28.5h2.12M31.94 28.5h3.12M39.94 28.5h1.12M41.94 28.5h1.12M44.94 28.5h2.12M33.94 29.5h1.12M40.94 29.5h3.12M46.94 29.5h1.12M26.94 30.5h1.12M28.94 30.5h1.12M31.94 30.5h1.12M35.94 30.5h1.12M43.94 30.5h1.12M45.94 30.5h3.12M23.94 31.5h1.12M25.94 31.5h2.12M36.94 31.5h1.12M40.94 31.5h3.12M45.94 31.5h1.12M23.94 32.5h1.12M25.94 32.5h1.12M32.94 32.5h1.12M36.94 32.5h1.12M38.94 32.5h2.12M42.94 32.5h1.12M45.94 32.5h1.12M47.94 32.5h1.12M23.94 33.5h1.12M26.94 33.5h1.12M30.94 33.5h1.12M34.94 33.5h1.12M39.94 33.5h3.12M46.94 33.5h1.12M24.94 34.5h1.12M26.94 34.5h1.12M30.94 34.5h1.12M33.94 34.5h4.12M39.94 34.5h2.12M25.94 35.5h1.12M27.94 35.5h1.12M46.94 35.5h1.12M30.94 36.5h2.12M46.94 36.5h1.12M23.94 37.5h1.12M26.94 37.5h2.12M30.94 37.5h1.12M32.94 37.5h1.12M41.94 37.5h1.12M25.94 38.5h1.12M41.94 38.5h2.12M26.94 39.5h1.12M30.94 39.5h1.12M32.94 39.5h1.12M40.94 39.5h1.12M43.94 39.5h1.12M45.94 39.5h1.12M24.94 40.5h3.12M29.94 40.5h2.12M42.94 40.5h3.12M46.94 40.5h1.12M25.94 41.5h1.12M27.94 41.5h1.12M29.94 41.5h1.12M31.94 41.5h1.12M44.94 41.5h2.12M49.94 41.5h1.12M29.94 42.5h1.12M42.94 42.5h3.12M29.94 43.5h1.12M43.94 43.5h1.12M25.94 44.5h1.12M43.94 44.5h1.12M46.94 44.5h1.12M25.94 45.5h2.12M40.94 45.5h1.12M43.94 45.5h2.12M47.94 45.5h1.12M25.94 46.5h2.12M44.94 46.5h1.12M48.94 46.5h1.12M23.94 47.5h1.12M45.94 47.5h1.12M24.94 48.5h1.12M28.94 48.5h1.12M31.94 48.5h1.12M46.94 48.5h1.12M48.94 48.5h1.12M23.94 49.5h1.12M25.94 49.5h1.12M38.94 49.5h1.12M43.94 49.5h1.12M45.94 49.5h1.12M47.94 49.5h1.12M22.94 50.5h2.12M44.94 50.5h6.12M42.94 51.5h2.12M48.94 51.5h1.12M50.94 51.5h1.12M22.94 52.5h2.12M26.94 52.5h1.12M41.94 52.5h4.12M22.94 53.5h3.12M26.94 53.5h1.12M38.94 53.5h1.12M44.94 53.5h2.12M48.94 53.5h2.12M25.94 54.5h1.12M27.94 54.5h1.12M29.94 54.5h1.12M47.94 54.5h3.12M21.94 55.5h2.12M24.94 55.5h2.12M40.94 55.5h1.12M43.94 55.5h7.12M21.94 56.5h1.12M41.94 56.5h1.12M44.94 56.5h1.12M46.94 56.5h2.12M19.94 57.5h1.12M27.94 57.5h1.12M46.94 57.5h1.12M51.94 57.5h1.12M19.94 58.5h3.12M23.94 58.5h1.12M25.94 58.5h2.12M46.94 58.5h1.12M20.94 59.5h1.12M23.94 59.5h2.12M43.94 59.5h1.12M47.94 59.5h1.12M51.94 59.5h1.12M17.94 60.5h1.12M20.94 60.5h2.12M44.94 60.5h1.12M48.94 60.5h1.12M51.94 60.5h1.12M54.94 60.5h1.12M12.94 61.5h2.12M15.94 61.5h4.12M27.94 61.5h1.12M44.94 61.5h1.12M46.94 61.5h2.12M50.94 61.5h1.12M54.94 61.5h1.12M18.94 62.5h3.12M24.94 62.5h1.12M26.94 62.5h1.12M43.94 62.5h1.12M46.94 62.5h3.12M53.94 62.5h3.12M59.94 62.5h1.12M12.94 63.5h2.12M16.94 63.5h1.12M19.94 63.5h1.12M22.94 63.5h1.12M26.94 63.5h2.12M41.94 63.5h1.12M48.94 63.5h2.12M52.94 63.5h2.12M55.94 63.5h1.12M11.94 64.5h2.12M14.94 64.5h1.12M17.94 64.5h1.12M22.94 64.5h1.12M44.94 64.5h1.12M47.94 64.5h1.12M49.94 64.5h1.12M61.94 64.5h1.12M11.94 65.5h1.12M16.94 65.5h1.12M20.94 65.5h2.12M24.94 65.5h1.12M26.94 65.5h1.12M11.94 66.5h1.12M13.94 66.5h4.12M19.94 66.5h1.12M21.94 66.5h3.12M26.94 66.5h1.12M28.94 66.5h2.12M45.94 66.5h1.12M48.94 66.5h2.12M10.94 67.5h3.12M14.94 67.5h4.12M19.94 67.5h2.12M22.94 67.5h4.12M27.94 67.5h2.12M30.94 67.5h1.12M41.94 67.5h1.12M45.94 67.5h1.12M47.94 67.5h4.12M16.94 68.5h1.12M18.94 68.5h2.12M21.94 68.5h1.12M28.94 68.5h1.12M44.94 68.5h1.12M47.94 68.5h1.12M49.94 68.5h1.12M11.94 69.5h1.12M13.94 69.5h1.12M15.94 69.5h1.12M17.94 69.5h1.12M19.94 69.5h1.12M23.94 69.5h1.12M27.94 69.5h1.12M29.94 69.5h1.12M40.94 69.5h1.12M42.94 69.5h1.12M47.94 69.5h1.12M11.94 70.5h1.12M13.94 70.5h1.12M15.94 70.5h2.12M18.94 70.5h1.12M20.94 70.5h2.12M24.94 70.5h1.12M27.94 70.5h1.12M41.94 70.5h1.12M44.94 70.5h2.12M47.94 70.5h1.12M49.94 70.5h1.12M13.94 71.5h1.12M27.94 71.5h1.12M29.94 71.5h1.12M44.94 71.5h2.12M48.94 71.5h1.12M8.94 72.5h1.12M11.94 72.5h1.12M14.94 72.5h1.12M31.94 72.5h1.12M39.94 72.5h1.12M42.94 72.5h1.12M44.94 72.5h1.12M46.94 72.5h1.12M8.94 73.5h1.12M16.94 73.5h1.12M18.94 73.5h1.12M20.94 73.5h1.12M25.94 73.5h1.12M42.94 73.5h1.12M44.94 73.5h1.12M46.94 73.5h1.12M48.94 73.5h1.12M7.94 74.5h1.12M9.94 74.5h1.12M12.94 74.5h1.12M14.94 74.5h1.12M18.94 74.5h2.12M28.94 74.5h1.12M43.94 74.5h1.12M45.94 74.5h1.12M6.94 75.5h1.12M9.94 75.5h4.12M16.94 75.5h2.12M32.94 75.5h1.12M43.94 75.5h2.12M8.94 76.5h2.12M11.94 76.5h2.12M14.94 76.5h1.12M17.94 76.5h1.12M20.94 76.5h2.12M39.94 76.5h2.12M44.94 76.5h2.12M7.94 77.5h2.12M12.94 77.5h1.12M14.94 77.5h1.12M16.94 77.5h1.12M18.94 77.5h3.12M39.94 77.5h1.12M4.94 78.5h2.12M7.94 78.5h1.12M9.94 78.5h2.12M12.94 78.5h1.12M14.94 78.5h2.12M22.94 78.5h1.12M39.94 78.5h2.12M10.94 79.5h1.12M13.94 79.5h1.12M42.94 79.5h2.12M2.94 80.5h1.12M4.94 80.5h2.12M10.94 80.5h2.12M15.94 80.5h2.12M22.94 80.5h2.12M39.94 80.5h2.12M1.94 81.5h2.12M4.94 81.5h1.12M8.94 81.5h2.12M12.94 81.5h1.12M14.94 81.5h1.12M23.94 81.5h1.12M31.94 81.5h1.12M40.94 81.5h1.12M42.94 81.5h2.12M46.94 81.5h1.12M4.94 82.5h1.12M6.94 82.5h3.12M11.94 82.5h1.12M13.94 82.5h1.12M17.94 82.5h1.12M27.94 82.5h1.12M38.94 82.5h1.12M41.94 82.5h1.12M44.94 82.5h1.12M4.94 83.5h3.12M12.94 83.5h1.12M16.94 83.5h1.12M34.94 83.5h1.12M38.94 83.5h1.12M44.94 83.5h1.12M5.94 84.5h2.12M8.94 84.5h1.12M12.94 84.5h1.12M14.94 84.5h1.12M20.94 84.5h1.12M22.94 84.5h1.12M38.94 84.5h1.12M42.94 84.5h1.12M44.94 84.5h1.12M46.94 84.5h1.12M3.94 85.5h2.12M7.94 85.5h1.12M15.94 85.5h2.12M18.94 85.5h1.12M32.94 85.5h1.12M35.94 85.5h1.12M40.94 85.5h1.12M46.94 85.5h1.12M4.94 86.5h2.12M15.94 86.5h3.12M21.94 86.5h1.12M28.94 86.5h1.12M31.94 86.5h1.12M33.94 86.5h1.12M37.94 86.5h1.12M40.94 86.5h1.12M43.94 86.5h1.12M15.94 87.5h1.12M20.94 87.5h1.12M28.94 87.5h1.12M32.94 87.5h1.12M35.94 87.5h1.12M37.94 87.5h1.12M39.94 87.5h1.12M46.94 87.5h1.12M19.94 88.5h2.12M24.94 88.5h2.12M27.94 88.5h2.12M30.94 88.5h1.12M35.94 88.5h1.12M43.94 88.5h1.12M15.94 89.5h1.12M19.94 89.5h1.12M21.94 89.5h1.12M25.94 89.5h2.12M28.94 89.5h3.12M32.94 89.5h1.12M34.94 89.5h1.12M38.94 89.5h2.12M43.94 89.5h4.12M18.94 90.5h3.12M26.94 90.5h1.12M35.94 90.5h4.12M40.94 90.5h1.12M42.94 90.5h1.12M45.94 90.5h4.12M23.94 91.5h1.12M26.94 91.5h1.12M37.94 91.5h1.12M44.94 91.5h1.12M48.94 91.5h2.12M16.94 92.5h2.12M22.94 92.5h1.12M28.94 92.5h1.12M35.94 92.5h2.12M40.94 92.5h1.12M42.94 92.5h2.12M48.94 92.5h2.12M19.94 93.5h1.12M25.94 93.5h1.12M27.94 93.5h1.12M30.94 93.5h4.12M39.94 93.5h1.12M41.94 93.5h1.12M47.94 93.5h2.12M52.94 93.5h1.12M20.94 94.5h1.12M24.94 94.5h1.12M26.94 94.5h1.12M30.94 94.5h2.12M38.94 94.5h2.12M43.94 94.5h1.12M45.94 94.5h1.12M18.94 95.5h1.12M20.94 95.5h1.12M22.94 95.5h2.12M25.94 95.5h1.12M28.94 95.5h2.12M37.94 95.5h5.12M43.94 95.5h1.12M46.94 95.5h3.12M17.94 96.5h1.12M19.94 96.5h1.12M22.94 96.5h1.12M29.94 96.5h2.12M36.94 96.5h1.12M40.94 96.5h1.12M43.94 96.5h2.12M48.94 96.5h1.12M17.94 97.5h2.12M21.94 97.5h1.12M24.94 97.5h1.12M26.94 97.5h3.12M31.94 97.5h1.12M34.94 97.5h1.12M38.94 97.5h1.12M41.94 97.5h2.12M45.94 97.5h1.12M18.94 98.5h2.12M21.94 98.5h1.12M23.94 98.5h1.12M27.94 98.5h2.12M34.94 98.5h1.12M37.94 98.5h3.12M43.94 98.5h1.12M46.94 98.5h2.12M23.94 99.5h1.12M26.94 99.5h2.12M30.94 99.5h1.12M35.94 99.5h1.12M38.94 99.5h1.12M41.94 99.5h3.12"/>
<path stroke="#5fcd73" d="M20.94 .5h2.12M25.94 .5h4.12M41.94 .5h1.12M21.94 1.5h2.12M25.94 1.5h3.12M30.94 1.5h1.12M32.94 1.5h1.12M34.94 1.5h1.12M36.94 1.5h2.12M39.94 1.5h1.12M22.94 2.5h1.12M25.94 2.5h1.12M28.94 2.5h2.12M35.94 2.5h3.12M39.94 2.5h1.12M41.94 2.5h1.12M44.94 2.5h2.12M22.94 3.5h3.12M27.94 3.5h1.12M30.94 3.5h3.12M34.94 3.5h2.12M37.94 3.5h3.12M41.94 3.5h3.12M45.94 3.5h1.12M21.94 4.5h1.12M23.94 4.5h1.12M27.94 4.5h2.12M30.94 4.5h1.12M37.94 4.5h2.12M44.94 4.5h3.12M25.94 5.5h2.12M30.94 5.5h1.12M33.94 5.5h1.12M35.94 5.5h1.12M38.94 5.5h5.12M24.94 6.5h1.12M27.94 6.5h1.12M32.94 6.5h2.12M37.94 6.5h2.12M42.94 6.5h1.12M44.94 6.5h1.12M26.94 7.5h1.12M30.94 7.5h3.12M37.94 7.5h4.12M44.94 7.5h1.12M23.94 8.5h4.12M29.94 8.5h3.12M33.94 8.5h1.12M36.94 8.5h3.12M45.94 8.5h1.12M27.94 9.5h1.12M30.94 9.5h1.12M32.94 9.5h1.12M34.94 9.5h2.12M39.94 9.5h1.12M45.94 9.5h1.12M26.94 10.5h1.12M28.94 10.5h1.12M30.94 10.5h2.12M33.94 10.5h1.12M42.94 10.5h1.12M44.94 10.5h1.12M46.94 10.5h1.12M27.94 11.5h1.12M29.94 11.5h1.12M31.94 11.5h1.12M38.94 11.5h1.12M40.94 11.5h2.12M47.94 11.5h1.12M26.94 12.5h2.12M32.94 12.5h2.12M37.94 12.5h1.12M39.94 12.5h2.12M43.94 12.5h1.12M26.94 13.5h2.12M33.94 13.5h1.12M36.94 13.5h2.12M42.94 13.5h1.12M44.94 13.5h2.12M47.94 13.5h2.12M25.94 14.5h1.12M28.94 14.5h1.12M30.94 14.5h2.12M34.94 14.5h1.12M40.94 14.5h1.12M48.94 14.5h1.12M32.94 15.5h2.12M39.94 15.5h5.12M46.94 15.5h3.12M30.94 16.5h2.12M36.94 16.5h1.12M38.94 16.5h2.12M42.94 16.5h3.12M46.94 16.5h1.12M48.94 16.5h2.12M28.94 17.5h1.12M30.94 17.5h2.12M35.94 17.5h1.12M38.94 17.5h2.12M41.94 17.5h2.12M44.94 17.5h1.12M46.94 17.5h3.12M25.94 18.5h1.12M27.94 18.5h1.12M29.94 18.5h3.12M33.94 18.5h1.12M37.94 18.5h2.12M45.94 18.5h3.12M27.94 19.5h4.12M36.94 19.5h2.12M39.94 19.5h2.12M42.94 19.5h1.12M45.94 19.5h2.12M25.94 20.5h1.12M28.94 20.5h5.12M34.94 20.5h2.12M37.94 20.5h1.12M39.94 20.5h2.12M44.94 20.5h3.12M24.94 21.5h3.12M29.94 21.5h1.12M31.94 21.5h1.12M33.94 21.5h1.12M37.94 21.5h1.12M39.94 21.5h1.12M43.94 21.5h2.12M25.94 22.5h1.12M31.94 22.5h5.12M37.94 22.5h4.12M42.94 22.5h2.12M24.94 23.5h1.12M26.94 23.5h2.12M30.94 23.5h1.12M36.94 23.5h5.12M44.94 23.5h2.12M24.94 24.5h1.12M30.94 24.5h2.12M34.94 24.5h1.12M36.94 24.5h1.12M38.94 24.5h1.12M26.94 25.5h1.12M33.94 25.5h1.12M35.94 25.5h1.12M39.94 25.5h1.12M41.94 25.5h2.12M44.94 25.5h1.12M23.94 26.5h2.12M28.94 26.5h1.12M33.94 26.5h2.12M36.94 26.5h2.12M39.94 26.5h2.12M42.94 26.5h4.12M25.94 27.5h1.12M28.94 27.5h2.12M33.94 27.5h3.12M37.94 27.5h2.12M42.94 27.5h1.12M44.94 27.5h1.12M46.94 27.5h1.12M23.94 28.5h3.12M29.94 28.5h1.12M34.94 28.5h5.12M40.94 28.5h1.12M42.94 28.5h1.12M46.94 28.5h1.12M26.94 29.5h7.12M34.94 29.5h2.12M37.94 29.5h3.12M43.94 29.5h3.12M47.94 29.5h1.12M23.94 30.5h2.12M30.94 30.5h1.12M33.94 30.5h1.12M36.94 30.5h1.12M39.94 30.5h1.12M41.94 30.5h1.12M44.94 30.5h1.12M24.94 31.5h1.12M29.94 31.5h1.12M31.94 31.5h1.12M33.94 31.5h2.12M38.94 31.5h2.12M43.94 31.5h1.12M28.94 32.5h2.12M31.94 32.5h1.12M34.94 32.5h2.12M40.94 32.5h2.12M46.94 32.5h1.12M28.94 33.5h2.12M32.94 33.5h1.12M36.94 33.5h3.12M42.94 33.5h4.12M47.94 33.5h1.12M28.94 34.5h2.12M32.94 34.5h1.12M37.94 34.5h2.12M41.94 34.5h3.12M45.94 34.5h1.12M24.94 35.5h1.12M26.94 35.5h1.12M31.94 35.5h3.12M35.94 35.5h7.12M43.94 35.5h3.12M23.94 36.5h1.12M26.94 36.5h4.12M32.94 36.5h5.12M39.94 36.5h4.12M44.94 36.5h2.12M24.94 37.5h1.12M29.94 37.5h1.12M33.94 37.5h4.12M40.94 37.5h1.12M42.94 37.5h1.12M45.94 37.5h2.12M24.94 38.5h1.12M27.94 38.5h2.12M32.94 38.5h2.12M38.94 38.5h1.12M43.94 38.5h4.12M23.94 39.5h3.12M27.94 39.5h3.12M31.94 39.5h1.12M33.94 39.5h1.12M38.94 39.5h1.12M41.94 39.5h2.12M44.94 39.5h1.12M46.94 39.5h1.12M27.94 40.5h2.12M37.94 40.5h2.12M41.94 40.5h1.12M45.94 40.5h1.12M23.94 41.5h2.12M32.94 41.5h1.12M38.94 41.5h3.12M42.94 41.5h1.12M46.94 41.5h1.12M28.94 42.5h1.12M30.94 42.5h2.12M37.94 42.5h1.12M40.94 42.5h1.12M46.94 42.5h2.12M23.94 43.5h6.12M30.94 43.5h1.12M32.94 43.5h2.12M36.94 43.5h1.12M38.94 43.5h1.12M40.94 43.5h3.12M44.94 43.5h3.12M23.94 44.5h2.12M27.94 44.5h2.12M32.94 44.5h1.12M34.94 44.5h2.12M38.94 44.5h1.12M40.94 44.5h3.12M44.94 44.5h2.12M47.94 44.5h1.12M24.94 45.5h1.12M28.94 45.5h1.12M30.94 45.5h3.12M37.94 45.5h2.12M41.94 45.5h2.12M45.94 45.5h2.12M48.94 45.5h1.12M23.94 46.5h2.12M27.94 46.5h2.12M32.94 46.5h1.12M36.94 46.5h1.12M38.94 46.5h6.12M45.94 46.5h3.12M25.94 47.5h1.12M27.94 47.5h1.12M31.94 47.5h1.12M33.94 47.5h1.12M36.94 47.5h2.12M39.94 47.5h1.12M41.94 47.5h1.12M43.94 47.5h2.12M48.94 47.5h2.12M23.94 48.5h1.12M26.94 48.5h2.12M29.94 48.5h1.12M38.94 48.5h1.12M41.94 48.5h2.12M45.94 48.5h1.12M47.94 48.5h1.12M49.94 48.5h1.12M24.94 49.5h1.12M26.94 49.5h4.12M31.94 49.5h2.12M36.94 49.5h2.12M41.94 49.5h2.12M44.94 49.5h1.12M48.94 49.5h2.12M25.94 50.5h6.12M34.94 50.5h1.12M38.94 50.5h1.12M41.94 50.5h3.12M24.94 51.5h1.12M26.94 51.5h2.12M29.94 51.5h1.12M31.94 51.5h1.12M36.94 51.5h6.12M45.94 51.5h3.12M24.94 52.5h2.12M28.94 52.5h1.12M30.94 52.5h1.12M32.94 52.5h1.12M38.94 52.5h2.12M46.94 52.5h5.12M27.94 53.5h1.12M31.94 53.5h1.12M35.94 53.5h1.12M37.94 53.5h1.12M43.94 53.5h1.12M46.94 53.5h1.12M50.94 53.5h2.12M22.94 54.5h1.12M26.94 54.5h1.12M39.94 54.5h2.12M42.94 54.5h2.12M45.94 54.5h2.12M23.94 55.5h1.12M27.94 55.5h1.12M34.94 55.5h1.12M36.94 55.5h2.12M41.94 55.5h1.12M50.94 55.5h2.12M54.94 55.5h1.12M22.94 56.5h1.12M24.94 56.5h2.12M27.94 56.5h1.12M34.94 56.5h1.12M39.94 56.5h1.12M42.94 56.5h2.12M45.94 56.5h1.12M49.94 56.5h4.12M20.94 57.5h2.12M23.94 57.5h1.12M28.94 57.5h1.12M35.94 57.5h1.12M42.94 57.5h3.12M47.94 57.5h1.12M18.94 58.5h1.12M22.94 58.5h1.12M24.94 58.5h1.12M28.94 58.5h2.12M32.94 58.5h2.12M36.94 58.5h1.12M43.94 58.5h2.12M47.94 58.5h3.12M53.94 58.5h1.12M18.94 59.5h2.12M21.94 59.5h2.12M25.94 59.5h4.12M33.94 59.5h1.12M40.94 59.5h2.12M45.94 59.5h2.12M48.94 59.5h2.12M52.94 59.5h2.12M11.94 60.5h1.12M13.94 60.5h1.12M15.94 60.5h1.12M19.94 60.5h1.12M23.94 60.5h2.12M26.94 60.5h2.12M31.94 60.5h1.12M37.94 60.5h1.12M40.94 60.5h1.12M43.94 60.5h1.12M46.94 60.5h2.12M50.94 60.5h1.12M14.94 61.5h1.12M19.94 61.5h1.12M22.94 61.5h1.12M25.94 61.5h1.12M28.94 61.5h1.12M30.94 61.5h1.12M33.94 61.5h1.12M35.94 61.5h2.12M38.94 61.5h1.12M40.94 61.5h1.12M42.94 61.5h2.12M45.94 61.5h1.12M48.94 61.5h2.12M52.94 61.5h1.12M12.94 62.5h3.12M16.94 62.5h1.12M21.94 62.5h3.12M25.94 62.5h1.12M27.94 62.5h2.12M30.94 62.5h1.12M32.94 62.5h1.12M39.94 62.5h2.12M44.94 62.5h2.12M50.94 62.5h1.12M14.94 63.5h2.12M17.94 63.5h2.12M20.94 63.5h2.12M24.94 63.5h2.12M29.94 63.5h1.12M36.94 63.5h1.12M38.94 63.5h3.12M42.94 63.5h2.12M45.94 63.5h1.12M50.94 63.5h1.12M54.94 63.5h1.12M56.94 63.5h1.12M60.94 63.5h1.12M13.94 64.5h1.12M15.94 64.5h1.12M19.94 64.5h2.12M23.94 64.5h1.12M27.94 64.5h1.12M30.94 64.5h1.12M37.94 64.5h1.12M39.94 64.5h1.12M42.94 64.5h1.12M50.94 64.5h3.12M13.94 65.5h1.12M15.94 65.5h1.12M17.94 65.5h3.12M22.94 65.5h2.12M25.94 65.5h1.12M29.94 65.5h1.12M31.94 65.5h1.12M39.94 65.5h1.12M41.94 65.5h4.12M46.94 65.5h2.12M49.94 65.5h3.12M59.94 65.5h2.12M12.94 66.5h1.12M18.94 66.5h1.12M20.94 66.5h1.12M24.94 66.5h2.12M27.94 66.5h1.12M30.94 66.5h1.12M33.94 66.5h1.12M35.94 66.5h1.12M42.94 66.5h3.12M46.94 66.5h1.12M50.94 66.5h1.12M13.94 67.5h1.12M18.94 67.5h1.12M26.94 67.5h1.12M29.94 67.5h1.12M31.94 67.5h1.12M33.94 67.5h1.12M37.94 67.5h3.12M42.94 67.5h2.12M46.94 67.5h1.12M10.94 68.5h3.12M14.94 68.5h2.12M20.94 68.5h1.12M24.94 68.5h2.12M27.94 68.5h1.12M29.94 68.5h2.12M32.94 68.5h1.12M38.94 68.5h3.12M43.94 68.5h1.12M45.94 68.5h2.12M10.94 69.5h1.12M12.94 69.5h1.12M16.94 69.5h1.12M18.94 69.5h1.12M21.94 69.5h2.12M25.94 69.5h2.12M30.94 69.5h1.12M32.94 69.5h1.12M34.94 69.5h1.12M36.94 69.5h2.12M41.94 69.5h1.12M43.94 69.5h1.12M45.94 69.5h1.12M49.94 69.5h1.12M10.94 70.5h1.12M14.94 70.5h1.12M17.94 70.5h1.12M19.94 70.5h1.12M23.94 70.5h1.12M26.94 70.5h1.12M29.94 70.5h1.12M36.94 70.5h1.12M39.94 70.5h2.12M42.94 70.5h2.12M48.94 70.5h1.12M9.94 71.5h2.12M12.94 71.5h1.12M15.94 71.5h2.12M18.94 71.5h5.12M24.94 71.5h1.12M28.94 71.5h1.12M30.94 71.5h1.12M34.94 71.5h1.12M38.94 71.5h1.12M40.94 71.5h1.12M42.94 71.5h2.12M46.94 71.5h2.12M49.94 71.5h1.12M10.94 72.5h1.12M12.94 72.5h1.12M15.94 72.5h4.12M20.94 72.5h3.12M24.94 72.5h2.12M27.94 72.5h2.12M36.94 72.5h3.12M41.94 72.5h1.12M43.94 72.5h1.12M45.94 72.5h1.12M47.94 72.5h1.12M9.94 73.5h1.12M11.94 73.5h2.12M15.94 73.5h1.12M17.94 73.5h1.12M19.94 73.5h1.12M21.94 73.5h4.12M27.94 73.5h3.12M36.94 73.5h6.12M43.94 73.5h1.12M45.94 73.5h1.12M47.94 73.5h1.12M10.94 74.5h2.12M16.94 74.5h2.12M20.94 74.5h1.12M25.94 74.5h1.12M30.94 74.5h1.12M34.94 74.5h1.12M37.94 74.5h1.12M39.94 74.5h3.12M44.94 74.5h1.12M48.94 74.5h1.12M7.94 75.5h1.12M13.94 75.5h1.12M18.94 75.5h4.12M25.94 75.5h1.12M27.94 75.5h1.12M31.94 75.5h1.12M33.94 75.5h1.12M37.94 75.5h2.12M40.94 75.5h1.12M42.94 75.5h1.12M45.94 75.5h2.12M6.94 76.5h2.12M13.94 76.5h1.12M16.94 76.5h1.12M18.94 76.5h1.12M22.94 76.5h2.12M37.94 76.5h2.12M41.94 76.5h2.12M6.94 77.5h1.12M9.94 77.5h1.12M11.94 77.5h1.12M13.94 77.5h1.12M15.94 77.5h1.12M17.94 77.5h1.12M31.94 77.5h2.12M35.94 77.5h1.12M40.94 77.5h4.12M6.94 78.5h1.12M8.94 78.5h1.12M11.94 78.5h1.12M13.94 78.5h1.12M16.94 78.5h1.12M18.94 78.5h2.12M24.94 78.5h3.12M29.94 78.5h1.12M31.94 78.5h1.12M37.94 78.5h2.12M41.94 78.5h3.12M46.94 78.5h1.12M3.94 79.5h7.12M12.94 79.5h1.12M14.94 79.5h1.12M16.94 79.5h1.12M20.94 79.5h1.12M22.94 79.5h1.12M24.94 79.5h1.12M26.94 79.5h2.12M29.94 79.5h1.12M32.94 79.5h1.12M37.94 79.5h2.12M40.94 79.5h1.12M7.94 80.5h2.12M12.94 80.5h3.12M17.94 80.5h2.12M20.94 80.5h2.12M24.94 80.5h2.12M30.94 80.5h2.12M34.94 80.5h1.12M38.94 80.5h1.12M41.94 80.5h1.12M43.94 80.5h1.12M3.94 81.5h1.12M6.94 81.5h2.12M11.94 81.5h1.12M13.94 81.5h1.12M15.94 81.5h3.12M20.94 81.5h1.12M28.94 81.5h1.12M33.94 81.5h1.12M36.94 81.5h1.12M39.94 81.5h1.12M41.94 81.5h1.12M1.94 82.5h3.12M5.94 82.5h1.12M9.94 82.5h1.12M12.94 82.5h1.12M15.94 82.5h2.12M18.94 82.5h1.12M20.94 82.5h6.12M28.94 82.5h1.12M30.94 82.5h1.12M35.94 82.5h1.12M37.94 82.5h1.12M39.94 82.5h2.12M42.94 82.5h2.12M2.94 83.5h2.12M9.94 83.5h3.12M13.94 83.5h3.12M17.94 83.5h1.12M19.94 83.5h3.12M23.94 83.5h1.12M27.94 83.5h2.12M31.94 83.5h1.12M37.94 83.5h1.12M39.94 83.5h1.12M41.94 83.5h2.12M45.94 83.5h1.12M1.94 84.5h2.12M4.94 84.5h1.12M7.94 84.5h1.12M10.94 84.5h1.12M13.94 84.5h1.12M16.94 84.5h1.12M18.94 84.5h1.12M23.94 84.5h1.12M25.94 84.5h1.12M28.94 84.5h2.12M31.94 84.5h6.12M39.94 84.5h1.12M41.94 84.5h1.12M45.94 84.5h1.12M1.94 85.5h2.12M5.94 85.5h1.12M12.94 85.5h3.12M17.94 85.5h1.12M19.94 85.5h4.12M24.94 85.5h3.12M28.94 85.5h2.12M31.94 85.5h1.12M37.94 85.5h3.12M41.94 85.5h1.12M43.94 85.5h3.12M2.94 86.5h1.12M6.94 86.5h1.12M13.94 86.5h1.12M18.94 86.5h1.12M22.94 86.5h2.12M29.94 86.5h2.12M32.94 86.5h1.12M34.94 86.5h1.12M39.94 86.5h1.12M41.94 86.5h2.12M44.94 86.5h2.12M47.94 86.5h2.12M50.94 86.5h1.12M14.94 87.5h1.12M17.94 87.5h1.12M19.94 87.5h1.12M23.94 87.5h2.12M26.94 87.5h1.12M31.94 87.5h1.12M33.94 87.5h1.12M36.94 87.5h1.12M40.94 87.5h1.12M42.94 87.5h4.12M47.94 87.5h2.12M15.94 88.5h1.12M17.94 88.5h2.12M21.94 88.5h1.12M26.94 88.5h1.12M29.94 88.5h1.12M31.94 88.5h1.12M34.94 88.5h1.12M37.94 88.5h1.12M39.94 88.5h2.12M44.94 88.5h2.12M47.94 88.5h3.12M17.94 89.5h2.12M23.94 89.5h2.12M33.94 89.5h1.12M35.94 89.5h2.12M40.94 89.5h2.12M47.94 89.5h4.12M17.94 90.5h1.12M21.94 90.5h2.12M24.94 90.5h1.12M28.94 90.5h3.12M39.94 90.5h1.12M41.94 90.5h1.12M44.94 90.5h1.12M49.94 90.5h2.12M16.94 91.5h3.12M20.94 91.5h1.12M22.94 91.5h1.12M25.94 91.5h1.12M27.94 91.5h2.12M30.94 91.5h3.12M34.94 91.5h1.12M36.94 91.5h1.12M38.94 91.5h2.12M41.94 91.5h2.12M45.94 91.5h1.12M47.94 91.5h1.12M18.94 92.5h4.12M24.94 92.5h1.12M26.94 92.5h2.12M30.94 92.5h3.12M37.94 92.5h2.12M41.94 92.5h1.12M44.94 92.5h4.12M17.94 93.5h2.12M20.94 93.5h5.12M34.94 93.5h2.12M37.94 93.5h1.12M43.94 93.5h1.12M45.94 93.5h2.12M49.94 93.5h1.12M17.94 94.5h2.12M21.94 94.5h1.12M25.94 94.5h1.12M27.94 94.5h1.12M33.94 94.5h2.12M36.94 94.5h2.12M40.94 94.5h1.12M46.94 94.5h4.12M17.94 95.5h1.12M21.94 95.5h1.12M24.94 95.5h1.12M26.94 95.5h2.12M30.94 95.5h1.12M32.94 95.5h2.12M35.94 95.5h1.12M45.94 95.5h1.12M18.94 96.5h1.12M20.94 96.5h1.12M24.94 96.5h1.12M27.94 96.5h2.12M34.94 96.5h2.12M38.94 96.5h2.12M41.94 96.5h2.12M45.94 96.5h3.12M19.94 97.5h2.12M25.94 97.5h1.12M30.94 97.5h1.12M33.94 97.5h1.12M36.94 97.5h2.12M39.94 97.5h1.12M43.94 97.5h2.12M47.94 97.5h1.12M17.94 98.5h1.12M20.94 98.5h1.12M24.94 98.5h1.12M26.94 98.5h1.12M30.94 98.5h4.12M35.94 98.5h2.12M41.94 98.5h1.12M45.94 98.5h1.12M18.94 99.5h1.12M24.94 99.5h2.12M28.94 99.5h2.12M31.94 99.5h4.12M39.94 99.5h1.12M44.94 99.5h2.12M47.94 99.5h1.12"/>
<path stroke="#7ecc5b" d="M22.94 .5h1.12M31.94 .5h1.12M43.94 .5h1.12M45.94 .5h1.12M28.94 1.5h1.12M38.94 1.5h1.12M40.94 1.5h1.12M43.94 2.5h1.12M46.94 2.5h1.12M25.94 4.5h1.12M43.94 4.5h1.12M27.94 5.5h2.12M31.94 5.5h2.12M21.94 6.5h1.12M23.94 6.5h1.12M28.94 6.5h1.12M46.94 6.5h1.12M46.94 7.5h1.12M28.94 8.5h1.12M39.94 8.5h1.12M42.94 8.5h1.12M44.94 8.5h1.12M44.94 9.5h1.12M24.94 10.5h1.12M27.94 10.5h1.12M41.94 10.5h1.12M45.94 10.5h1.12M47.94 10.5h1.12M26.94 11.5h1.12M28.94 11.5h1.12M42.94 11.5h1.12M44.94 11.5h1.12M29.94 12.5h1.12M44.94 12.5h1.12M50.94 12.5h1.12M32.94 13.5h1.12M32.94 14.5h2.12M49.94 14.5h1.12M25.94 15.5h1.12M30.94 15.5h1.12M36.94 15.5h1.12M49.94 15.5h1.12M51.94 15.5h1.12M28.94 16.5h1.12M27.94 17.5h1.12M32.94 17.5h1.12M36.94 17.5h2.12M32.94 18.5h1.12M40.94 18.5h1.12M25.94 19.5h1.12M33.94 19.5h1.12M38.94 19.5h1.12M44.94 19.5h1.12M28.94 21.5h1.12M30.94 21.5h1.12M36.94 21.5h1.12M41.94 21.5h1.12M25.94 23.5h1.12M28.94 23.5h1.12M31.94 23.5h1.12M43.94 23.5h1.12M27.94 24.5h1.12M29.94 24.5h1.12M37.94 24.5h1.12M43.94 24.5h2.12M27.94 25.5h1.12M29.94 25.5h1.12M31.94 25.5h1.12M34.94 25.5h1.12M36.94 25.5h2.12M25.94 26.5h2.12M31.94 26.5h2.12M46.94 26.5h1.12M26.94 27.5h2.12M30.94 27.5h1.12M26.94 28.5h1.12M30.94 28.5h1.12M43.94 28.5h1.12M24.94 29.5h2.12M36.94 29.5h1.12M25.94 30.5h1.12M27.94 30.5h1.12M29.94 30.5h1.12M34.94 30.5h1.12M42.94 30.5h1.12M30.94 31.5h1.12M32.94 31.5h1.12M35.94 31.5h1.12M46.94 31.5h1.12M27.94 32.5h1.12M30.94 32.5h1.12M33.94 32.5h1.12M44.94 32.5h1.12M24.94 33.5h1.12M27.94 33.5h1.12M31.94 33.5h1.12M35.94 33.5h1.12M27.94 34.5h1.12M31.94 34.5h1.12M28.94 35.5h2.12M34.94 35.5h1.12M42.94 35.5h1.12M47.94 35.5h1.12M38.94 36.5h1.12M43.94 36.5h1.12M47.94 36.5h1.12M25.94 37.5h1.12M28.94 37.5h1.12M31.94 37.5h1.12M37.94 37.5h3.12M43.94 37.5h2.12M26.94 38.5h1.12M29.94 38.5h3.12M34.94 38.5h1.12M36.94 38.5h2.12M39.94 38.5h2.12M34.94 39.5h4.12M31.94 40.5h4.12M39.94 40.5h2.12M26.94 41.5h1.12M28.94 41.5h1.12M33.94 41.5h2.12M36.94 41.5h2.12M43.94 41.5h1.12M23.94 42.5h3.12M27.94 42.5h1.12M33.94 42.5h1.12M35.94 42.5h2.12M38.94 42.5h2.12M31.94 43.5h1.12M37.94 43.5h1.12M47.94 43.5h1.12M26.94 44.5h1.12M29.94 44.5h2.12M33.94 44.5h1.12M39.94 44.5h1.12M23.94 45.5h1.12M27.94 45.5h1.12M33.94 45.5h1.12M35.94 45.5h2.12M39.94 45.5h1.12M29.94 46.5h1.12M31.94 46.5h1.12M33.94 46.5h3.12M37.94 46.5h1.12M24.94 47.5h1.12M28.94 47.5h1.12M30.94 47.5h1.12M34.94 47.5h1.12M46.94 47.5h2.12M25.94 48.5h1.12M30.94 48.5h1.12M37.94 48.5h1.12M39.94 48.5h2.12M43.94 48.5h2.12M30.94 49.5h1.12M33.94 49.5h1.12M40.94 49.5h1.12M50.94 49.5h1.12M24.94 50.5h1.12M31.94 50.5h3.12M37.94 50.5h1.12M39.94 50.5h2.12M23.94 51.5h1.12M25.94 51.5h1.12M28.94 51.5h1.12M30.94 51.5h1.12M33.94 51.5h2.12M27.94 52.5h1.12M34.94 52.5h1.12M40.94 52.5h1.12M45.94 52.5h1.12M25.94 53.5h1.12M28.94 53.5h3.12M32.94 53.5h3.12M36.94 53.5h1.12M39.94 53.5h2.12M42.94 53.5h1.12M23.94 54.5h1.12M28.94 54.5h1.12M30.94 54.5h1.12M32.94 54.5h1.12M34.94 54.5h1.12M36.94 54.5h3.12M41.94 54.5h1.12M51.94 54.5h1.12M30.94 55.5h2.12M39.94 55.5h1.12M42.94 55.5h1.12M52.94 55.5h1.12M26.94 56.5h1.12M28.94 56.5h6.12M36.94 56.5h1.12M38.94 56.5h1.12M29.94 57.5h1.12M32.94 57.5h3.12M36.94 57.5h1.12M39.94 57.5h2.12M48.94 57.5h2.12M52.94 57.5h1.12M27.94 58.5h1.12M31.94 58.5h1.12M38.94 58.5h5.12M45.94 58.5h1.12M50.94 58.5h1.12M52.94 58.5h1.12M17.94 59.5h1.12M29.94 59.5h4.12M34.94 59.5h1.12M38.94 59.5h2.12M42.94 59.5h1.12M50.94 59.5h1.12M12.94 60.5h1.12M16.94 60.5h1.12M18.94 60.5h1.12M22.94 60.5h1.12M25.94 60.5h1.12M28.94 60.5h3.12M33.94 60.5h1.12M35.94 60.5h1.12M38.94 60.5h2.12M41.94 60.5h2.12M49.94 60.5h1.12M52.94 60.5h2.12M11.94 61.5h1.12M20.94 61.5h1.12M23.94 61.5h2.12M26.94 61.5h1.12M29.94 61.5h1.12M31.94 61.5h1.12M41.94 61.5h1.12M53.94 61.5h1.12M17.94 62.5h1.12M29.94 62.5h1.12M35.94 62.5h4.12M41.94 62.5h2.12M52.94 62.5h1.12M11.94 63.5h1.12M23.94 63.5h1.12M31.94 63.5h5.12M44.94 63.5h1.12M46.94 63.5h2.12M51.94 63.5h1.12M57.94 63.5h1.12M16.94 64.5h1.12M18.94 64.5h1.12M21.94 64.5h1.12M24.94 64.5h1.12M26.94 64.5h1.12M28.94 64.5h2.12M31.94 64.5h1.12M34.94 64.5h3.12M38.94 64.5h1.12M41.94 64.5h1.12M43.94 64.5h1.12M45.94 64.5h1.12M53.94 64.5h1.12M12.94 65.5h1.12M14.94 65.5h1.12M27.94 65.5h2.12M30.94 65.5h1.12M33.94 65.5h1.12M35.94 65.5h4.12M45.94 65.5h1.12M48.94 65.5h1.12M52.94 65.5h1.12M58.94 65.5h1.12M61.94 65.5h1.12M17.94 66.5h1.12M32.94 66.5h1.12M34.94 66.5h1.12M36.94 66.5h6.12M47.94 66.5h1.12M34.94 67.5h2.12M40.94 67.5h1.12M44.94 67.5h1.12M17.94 68.5h1.12M22.94 68.5h2.12M26.94 68.5h1.12M34.94 68.5h1.12M36.94 68.5h2.12M42.94 68.5h1.12M48.94 68.5h1.12M50.94 68.5h1.12M14.94 69.5h1.12M20.94 69.5h1.12M24.94 69.5h1.12M28.94 69.5h1.12M31.94 69.5h1.12M35.94 69.5h1.12M38.94 69.5h2.12M44.94 69.5h1.12M48.94 69.5h1.12M12.94 70.5h1.12M22.94 70.5h1.12M25.94 70.5h1.12M28.94 70.5h1.12M30.94 70.5h2.12M33.94 70.5h3.12M37.94 70.5h2.12M14.94 71.5h1.12M23.94 71.5h1.12M25.94 71.5h1.12M31.94 71.5h3.12M35.94 71.5h3.12M39.94 71.5h1.12M13.94 72.5h1.12M23.94 72.5h1.12M26.94 72.5h1.12M29.94 72.5h2.12M33.94 72.5h3.12M40.94 72.5h1.12M48.94 72.5h1.12M14.94 73.5h1.12M30.94 73.5h1.12M32.94 73.5h2.12M35.94 73.5h1.12M8.94 74.5h1.12M13.94 74.5h1.12M15.94 74.5h1.12M21.94 74.5h4.12M26.94 74.5h2.12M29.94 74.5h1.12M31.94 74.5h2.12M35.94 74.5h2.12M38.94 74.5h1.12M42.94 74.5h1.12M46.94 74.5h1.12M50.94 74.5h1.12M8.94 75.5h1.12M14.94 75.5h1.12M22.94 75.5h3.12M26.94 75.5h1.12M28.94 75.5h2.12M35.94 75.5h2.12M47.94 75.5h1.12M10.94 76.5h1.12M15.94 76.5h1.12M19.94 76.5h1.12M24.94 76.5h2.12M27.94 76.5h9.12M43.94 76.5h1.12M10.94 77.5h1.12M21.94 77.5h4.12M26.94 77.5h3.12M30.94 77.5h1.12M33.94 77.5h2.12M37.94 77.5h2.12M44.94 77.5h1.12M17.94 78.5h1.12M20.94 78.5h2.12M23.94 78.5h1.12M27.94 78.5h2.12M30.94 78.5h1.12M32.94 78.5h4.12M15.94 79.5h1.12M17.94 79.5h1.12M19.94 79.5h1.12M21.94 79.5h1.12M23.94 79.5h1.12M28.94 79.5h1.12M30.94 79.5h2.12M33.94 79.5h4.12M39.94 79.5h1.12M41.94 79.5h1.12M6.94 80.5h1.12M9.94 80.5h1.12M19.94 80.5h1.12M27.94 80.5h1.12M32.94 80.5h1.12M35.94 80.5h1.12M37.94 80.5h1.12M42.94 80.5h1.12M18.94 81.5h2.12M21.94 81.5h2.12M24.94 81.5h4.12M29.94 81.5h2.12M34.94 81.5h1.12M38.94 81.5h1.12M44.94 81.5h1.12M14.94 82.5h1.12M19.94 82.5h1.12M29.94 82.5h1.12M31.94 82.5h2.12M36.94 82.5h1.12M7.94 83.5h2.12M18.94 83.5h1.12M22.94 83.5h1.12M25.94 83.5h1.12M30.94 83.5h1.12M32.94 83.5h2.12M35.94 83.5h2.12M40.94 83.5h1.12M3.94 84.5h1.12M9.94 84.5h1.12M11.94 84.5h1.12M15.94 84.5h1.12M19.94 84.5h1.12M21.94 84.5h1.12M24.94 84.5h1.12M26.94 84.5h2.12M37.94 84.5h1.12M40.94 84.5h1.12M43.94 84.5h1.12M23.94 85.5h1.12M30.94 85.5h1.12M34.94 85.5h1.12M36.94 85.5h1.12M42.94 85.5h1.12M47.94 85.5h1.12M19.94 86.5h2.12M24.94 86.5h4.12M35.94 86.5h2.12M38.94 86.5h1.12M46.94 86.5h1.12M2.94 87.5h3.12M16.94 87.5h1.12M18.94 87.5h1.12M21.94 87.5h2.12M25.94 87.5h1.12M27.94 87.5h1.12M29.94 87.5h2.12M34.94 87.5h1.12M38.94 87.5h1.12M41.94 87.5h1.12M16.94 88.5h1.12M22.94 88.5h1.12M32.94 88.5h2.12M36.94 88.5h1.12M38.94 88.5h1.12M41.94 88.5h2.12M46.94 88.5h1.12M52.94 88.5h1.12M16.94 89.5h1.12M22.94 89.5h1.12M27.94 89.5h1.12M31.94 89.5h1.12M37.94 89.5h1.12M42.94 89.5h1.12M23.94 90.5h1.12M27.94 90.5h1.12M32.94 90.5h3.12M43.94 90.5h1.12M19.94 91.5h1.12M21.94 91.5h1.12M29.94 91.5h1.12M33.94 91.5h1.12M35.94 91.5h1.12M40.94 91.5h1.12M43.94 91.5h1.12M46.94 91.5h1.12M50.94 91.5h1.12M23.94 92.5h1.12M29.94 92.5h1.12M33.94 92.5h2.12M50.94 92.5h1.12M26.94 93.5h1.12M28.94 93.5h2.12M38.94 93.5h1.12M42.94 93.5h1.12M44.94 93.5h1.12M23.94 94.5h1.12M28.94 94.5h2.12M32.94 94.5h1.12M44.94 94.5h1.12M19.94 95.5h1.12M31.94 95.5h1.12M34.94 95.5h1.12M44.94 95.5h1.12M21.94 96.5h1.12M25.94 96.5h2.12M31.94 96.5h3.12M50.94 96.5h1.12M40.94 97.5h1.12M46.94 97.5h1.12M48.94 97.5h1.12M22.94 98.5h1.12M42.94 98.5h1.12M19.94 99.5h1.12M21.94 99.5h2.12M40.94 99.5h1.12M46.94 99.5h1.12"/>
<path stroke="#9fc942" d="M35.94 1.5h1.12M33.94 2.5h1.12M46.94 3.5h1.12M48.94 5.5h1.12M48.94 6.5h1.12M26.94 9.5h1.12M47.94 9.5h1.12M43.94 10.5h1.12M34.94 12.5h1.12M50.94 14.5h1.12M25.94 17.5h2.12M34.94 18.5h1.12M35.94 19.5h1.12M49.94 19.5h1.12M48.94 26.5h1.12M47.94 28.5h1.12M49.94 29.5h1.12M47.94 31.5h1.12M49.94 34.5h1.12M47.94 37.5h1.12M35.94 38.5h1.12M47.94 38.5h1.12M39.94 39.5h1.12M35.94 40.5h2.12M30.94 41.5h1.12M47.94 41.5h1.12M32.94 42.5h1.12M34.94 42.5h1.12M45.94 42.5h1.12M34.94 43.5h1.12M39.94 43.5h1.12M31.94 44.5h1.12M36.94 44.5h2.12M48.94 44.5h1.12M29.94 45.5h1.12M34.94 45.5h1.12M30.94 46.5h1.12M32.94 47.5h1.12M35.94 47.5h1.12M40.94 47.5h1.12M32.94 48.5h3.12M36.94 48.5h1.12M34.94 49.5h1.12M39.94 49.5h1.12M35.94 50.5h2.12M22.94 51.5h1.12M32.94 51.5h1.12M44.94 51.5h1.12M31.94 52.5h1.12M33.94 52.5h1.12M35.94 52.5h3.12M51.94 52.5h1.12M41.94 53.5h1.12M33.94 54.5h1.12M26.94 55.5h1.12M29.94 55.5h1.12M32.94 55.5h2.12M38.94 55.5h1.12M37.94 56.5h1.12M40.94 56.5h1.12M30.94 57.5h2.12M37.94 57.5h2.12M30.94 58.5h1.12M34.94 58.5h2.12M35.94 59.5h3.12M54.94 59.5h1.12M34.94 60.5h1.12M36.94 60.5h1.12M34.94 61.5h1.12M37.94 61.5h1.12M39.94 61.5h1.12M55.94 61.5h1.12M31.94 62.5h1.12M33.94 62.5h2.12M56.94 62.5h1.12M32.94 64.5h1.12M40.94 64.5h1.12M32.94 65.5h1.12M34.94 65.5h1.12M40.94 65.5h1.12M57.94 65.5h1.12M31.94 66.5h1.12M51.94 66.5h1.12M32.94 67.5h1.12M31.94 68.5h1.12M33.94 68.5h1.12M35.94 68.5h1.12M33.94 69.5h1.12M32.94 70.5h1.12M32.94 72.5h1.12M49.94 72.5h1.12M26.94 73.5h1.12M31.94 73.5h1.12M34.94 73.5h1.12M33.94 74.5h1.12M30.94 75.5h1.12M34.94 75.5h1.12M39.94 75.5h1.12M26.94 76.5h1.12M36.94 76.5h1.12M25.94 77.5h1.12M29.94 77.5h1.12M36.94 77.5h1.12M47.94 77.5h1.12M36.94 78.5h1.12M44.94 78.5h1.12M18.94 79.5h1.12M25.94 79.5h1.12M3.94 80.5h1.12M26.94 80.5h1.12M28.94 80.5h2.12M33.94 80.5h1.12M36.94 80.5h1.12M44.94 80.5h1.12M32.94 81.5h1.12M35.94 81.5h1.12M37.94 81.5h1.12M10.94 82.5h1.12M26.94 82.5h1.12M33.94 82.5h2.12M24.94 83.5h1.12M26.94 83.5h1.12M29.94 83.5h1.12M17.94 84.5h1.12M30.94 84.5h1.12M6.94 85.5h1.12M27.94 85.5h1.12M33.94 85.5h1.12M51.94 87.5h1.12M50.94 88.5h1.12M52.94 89.5h1.12M25.94 92.5h1.12M50.94 93.5h1.12M35.94 94.5h1.12M22.94 97.5h1.12M44.94 98.5h1.12M48.94 98.5h1.12M17.94 99.5h1.12"/>
<path stroke="#bfc32d" d="M46.94 1.5h1.12M48.94 12.5h1.12M34.94 15.5h1.12M50.94 16.5h1.12M47.94 19.5h1.12M46.94 21.5h1.12M46.94 22.5h1.12M46.94 23.5h1.12M46.94 24.5h1.12M46.94 25.5h1.12M47.94 39.5h1.12M47.94 40.5h1.12M35.94 41.5h1.12M49.94 46.5h1.12M29.94 47.5h1.12M38.94 47.5h1.12M35.94 48.5h1.12M50.94 48.5h1.12M35.94 49.5h1.12M35.94 51.5h1.12M31.94 54.5h1.12M35.94 54.5h1.12M35.94 55.5h1.12M35.94 56.5h1.12M53.94 57.5h1.12M37.94 58.5h1.12M32.94 60.5h1.12M32.94 61.5h1.12M37.94 63.5h1.12M33.94 64.5h1.12M54.94 64.5h1.12M36.94 67.5h1.12M50.94 69.5h1.12M46.94 76.5h1.12M45.94 77.5h1.12M44.94 79.5h1.12M49.94 85.5h1.12M5.94 87.5h1.12M49.94 87.5h1.12M52.94 90.5h1.12M51.94 91.5h1.12"/>
<path stroke="#ddbd29" d="M47.94 8.5h1.12M51.94 17.5h1.12M48.94 18.5h1.12M47.94 27.5h1.12M48.94 31.5h1.12M48.94 32.5h1.12M49.94 42.5h1.12M35.94 43.5h1.12M48.94 43.5h1.12M50.94 45.5h1.12M51.94 47.5h1.12M51.94 51.5h1.12M53.94 53.5h1.12M52.94 54.5h1.12M55.94 64.5h1.12M52.94 67.5h1.12M50.94 70.5h1.12M49.94 73.5h1.12M45.94 82.5h1.12M46.94 83.5h1.12M47.94 84.5h1.12M51.94 90.5h1.12M51.94 92.5h1.12M51.94 94.5h1.12M49.94 95.5h1.12M49.94 99.5h1.12"/>
<path stroke="#f5ba3a" d="M46.94 .5h1.12M47.94 7.5h1.12M49.94 11.5h1.12M49.94 13.5h1.12M51.94 14.5h2.12M52.94 15.5h1.12M49.94 17.5h1.12M48.94 30.5h1.12M48.94 33.5h1.12M49.94 45.5h1.12M54.94 56.5h1.12M55.94 58.5h1.12M55.94 60.5h1.12M57.94 61.5h1.12M56.94 64.5h1.12M56.94 65.5h1.12M53.94 66.5h1.12M51.94 70.5h1.12M48.94 76.5h1.12M51.94 89.5h1.12M48.94 99.5h1.12"/>
<path stroke="#fec03b" d="M48.94 11.5h1.12M53.94 14.5h1.12M54.94 15.5h1.12M48.94 20.5h1.12M49.94 30.5h1.12M48.94 42.5h1.12M50.94 47.5h1.12M51.94 50.5h2.12M53.94 56.5h1.12M54.94 58.5h1.12M56.94 61.5h1.12M57.94 62.5h1.12M58.94 63.5h1.12M57.94 64.5h1.12M59.94 64.5h1.12M53.94 65.5h1.12M51.94 67.5h1.12M50.94 73.5h1.12M48.94 75.5h1.12M45.94 78.5h1.12M48.94 85.5h1.12M51.94 88.5h1.12M50.94 94.5h1.12M49.94 96.5h1.12"/>
<path stroke="#fdcb33" d="M47.94 .5h1.12M47.94 1.5h1.12M47.94 2.5h1.12M47.94 3.5h1.12M47.94 4.5h1.12M47.94 5.5h1.12M47.94 6.5h1.12M48.94 7.5h1.12M48.94 8.5h1.12M48.94 9.5h1.12M48.94 10.5h1.12M49.94 12.5h1.12M50.94 13.5h5.12M54.94 14.5h2.12M53.94 15.5h1.12M51.94 16.5h2.12M50.94 17.5h1.12M49.94 18.5h1.12M48.94 19.5h1.12M47.94 20.5h1.12M47.94 21.5h1.12M47.94 22.5h1.12M47.94 23.5h1.12M47.94 24.5h1.12M47.94 25.5h1.12M47.94 26.5h1.12M48.94 27.5h1.12M48.94 28.5h1.12M48.94 29.5h1.12M49.94 31.5h1.12M49.94 32.5h1.12M49.94 33.5h1.12M48.94 34.5h1.12M48.94 35.5h1.12M48.94 36.5h1.12M48.94 37.5h1.12M48.94 38.5h1.12M48.94 39.5h1.12M48.94 40.5h1.12M48.94 41.5h1.12M49.94 43.5h1.12M49.94 44.5h1.12M50.94 46.5h1.12M51.94 48.5h1.12M51.94 49.5h1.12M52.94 51.5h1.12M52.94 52.5h1.12M52.94 53.5h1.12M53.94 54.5h1.12M53.94 55.5h1.12M54.94 57.5h1.12M55.94 59.5h1.12M56.94 60.5h1.12M58.94 62.5h1.12M59.94 63.5h1.12M58.94 64.5h1.12M60.94 64.5h1.12M54.94 65.5h2.12M52.94 66.5h1.12M51.94 68.5h1.12M51.94 69.5h1.12M50.94 71.5h1.12M50.94 72.5h1.12M49.94 74.5h1.12M49.94 75.5h1.12M47.94 76.5h1.12M46.94 77.5h1.12M45.94 79.5h1.12M45.94 80.5h1.12M45.94 81.5h1.12M46.94 82.5h1.12M47.94 83.5h1.12M48.94 84.5h1.12M49.94 86.5h1.12M50.94 87.5h1.12M52.94 91.5h1.12M52.94 92.5h1.12M51.94 93.5h1.12M50.94 95.5h1.12M49.94 97.5h1.12M49.94 98.5h1.12"/>
</g>
<rect x="1217.6" y="592.4" width="29.4" height="495.8" fill="url(#par)" stroke="#1c1c1c" stroke-width="1.3"/>
<path d="M1247 989h-5M1247 889.9h-5M1247 790.7h-5M1247 691.6h-5" stroke="#262626" stroke-width="1" fill="none"/>
<text class="cb" x="1255.6" y="1095">0</text>
<text class="cb" x="1255.6" y="995.8">0.2</text>
<text class="cb" x="1255.6" y="896.7">0.4</text>
<text class="cb" x="1255.6" y="797.5">0.6</text>
<text class="cb" x="1255.6" y="698.4">0.8</text>
<text class="cb" x="1255.6" y="599.2">1</text>
<text class="cap" x="919.4" y="1154.2" text-anchor="middle">(d)</text>
<g class="hm" transform="translate(696.5 1192) scale(4.8240 4.8140)" stroke-width="1.06" fill="none" shape-rendering="crispEdges">
<rect x="0" y="0" width="100" height="100" fill="#412cbb"/>
<path stroke="#402ab5" d="M35.94 .5h1.12M23.94 1.5h1.12M30.94 1.5h1.12M32.94 1.5h1.12M24.94 2.5h1.12M31.94 4.5h1.12M43.94 4.5h1.12M28.94 5.5h1.12M31.94 5.5h1.12M33.94 5.5h1.12M22.94 6.5h1.12M46.94 6.5h1.12M30.94 8.5h1.12M34.94 8.5h1.12M38.94 8.5h1.12M40.94 8.5h1.12M44.94 8.5h1.12M27.94 9.5h1.12M25.94 10.5h1.12M30.94 10.5h1.12M38.94 10.5h1.12M43.94 10.5h1.12M47.94 10.5h1.12M25.94 11.5h1.12M29.94 11.5h1.12M33.94 12.5h1.12M39.94 12.5h1.12M31.94 13.5h1.12M35.94 13.5h1.12M47.94 13.5h2.12M45.94 14.5h1.12M48.94 14.5h1.12M30.94 15.5h1.12M32.94 15.5h1.12M27.94 18.5h1.12M33.94 18.5h1.12M36.94 18.5h1.12M45.94 18.5h1.12M32.94 19.5h1.12M40.94 19.5h1.12M37.94 21.5h1.12M26.94 22.5h1.12M36.94 22.5h1.12M28.94 23.5h1.12M34.94 23.5h1.12M45.94 23.5h1.12M46.94 24.5h1.12M25.94 25.5h1.12M41.94 25.5h1.12M42.94 26.5h1.12M45.94 26.5h1.12M47.94 26.5h1.12M28.94 27.5h1.12M39.94 27.5h1.12M26.94 28.5h1.12M33.94 28.5h1.12M37.94 28.5h1.12M41.94 28.5h1.12M43.94 28.5h1.12M31.94 29.5h2.12M38.94 29.5h1.12M47.94 29.5h1.12M26.94 30.5h1.12M32.94 30.5h1.12M36.94 30.5h1.12M38.94 30.5h1.12M35.94 31.5h1.12M40.94 31.5h1.12M45.94 31.5h1.12M23.94 32.5h1.12M34.94 32.5h2.12M31.94 33.5h1.12M26.94 34.5h1.12M46.94 35.5h1.12M26.94 37.5h1.12M35.94 37.5h1.12M37.94 37.5h1.12M41.94 37.5h1.12M43.94 38.5h1.12M40.94 39.5h1.12M48.94 39.5h1.12M43.94 40.5h1.12M25.94 41.5h1.12M43.94 41.5h1.12M47.94 41.5h1.12M23.94 42.5h1.12M37.94 42.5h1.12M24.94 44.5h2.12M36.94 44.5h1.12M49.94 45.5h1.12M40.94 46.5h1.12M26.94 47.5h1.12M29.94 47.5h1.12M38.94 47.5h1.12M41.94 48.5h1.12M23.94 49.5h1.12M38.94 50.5h1.12M49.94 50.5h1.12M42.94 51.5h1.12M33.94 52.5h1.12M38.94 52.5h1.12M52.94 52.5h1.12M34.94 53.5h1.12M47.94 53.5h1.12M50.94 53.5h1.12M46.94 54.5h1.12M29.94 55.5h1.12M25.94 56.5h2.12M40.94 56.5h1.12M42.94 56.5h1.12M52.94 56.5h1.12M23.94 57.5h2.12M41.94 57.5h1.12M23.94 58.5h1.12M30.94 58.5h1.12M29.94 59.5h1.12M35.94 59.5h1.12M48.94 59.5h1.12M16.94 60.5h1.12M18.94 60.5h1.12M22.94 60.5h1.12M26.94 60.5h1.12M30.94 60.5h1.12M34.94 60.5h1.12M40.94 60.5h2.12M43.94 60.5h1.12M23.94 61.5h1.12M35.94 61.5h1.12M39.94 61.5h1.12M11.94 62.5h1.12M13.94 62.5h1.12M43.94 62.5h2.12M56.94 62.5h2.12M55.94 63.5h1.12M14.94 64.5h1.12M25.94 64.5h1.12M28.94 64.5h1.12M31.94 64.5h1.12M35.94 64.5h1.12M59.94 64.5h1.12M11.94 65.5h1.12M51.94 65.5h1.12M16.94 66.5h1.12M35.94 66.5h1.12M42.94 66.5h1.12M30.94 67.5h1.12M33.94 67.5h1.12M39.94 67.5h1.12M48.94 67.5h1.12M14.94 68.5h1.12M17.94 68.5h1.12M20.94 68.5h1.12M26.94 68.5h1.12M31.94 68.5h1.12M37.94 68.5h1.12M42.94 68.5h1.12M17.94 69.5h1.12M23.94 69.5h1.12M25.94 69.5h1.12M42.94 69.5h1.12M50.94 69.5h2.12M28.94 70.5h1.12M30.94 70.5h1.12M39.94 70.5h1.12M10.94 71.5h1.12M24.94 71.5h1.12M29.94 71.5h1.12M36.94 71.5h1.12M9.94 72.5h1.12M12.94 72.5h3.12M17.94 72.5h1.12M24.94 72.5h1.12M28.94 72.5h1.12M41.94 72.5h1.12M24.94 73.5h1.12M38.94 73.5h1.12M21.94 74.5h1.12M30.94 74.5h1.12M33.94 74.5h1.12M40.94 74.5h1.12M23.94 75.5h1.12M29.94 76.5h1.12M38.94 76.5h1.12M6.94 77.5h1.12M8.94 77.5h1.12M11.94 77.5h1.12M14.94 77.5h1.12M42.94 77.5h1.12M6.94 78.5h1.12M30.94 78.5h3.12M35.94 79.5h1.12M38.94 79.5h1.12M42.94 79.5h1.12M9.94 80.5h1.12M14.94 80.5h1.12M30.94 80.5h1.12M32.94 80.5h1.12M39.94 80.5h1.12M5.94 81.5h1.12M9.94 81.5h1.12M12.94 81.5h1.12M18.94 81.5h1.12M22.94 81.5h1.12M24.94 81.5h2.12M44.94 81.5h2.12M29.94 82.5h1.12M7.94 83.5h1.12M26.94 83.5h1.12M32.94 83.5h1.12M12.94 84.5h1.12M14.94 84.5h1.12M25.94 84.5h1.12M28.94 84.5h1.12M14.94 85.5h1.12M21.94 85.5h2.12M25.94 85.5h1.12M27.94 85.5h2.12M33.94 85.5h1.12M39.94 85.5h1.12M15.94 86.5h1.12M35.94 86.5h2.12M36.94 87.5h1.12M45.94 87.5h1.12M25.94 88.5h1.12M29.94 88.5h1.12M33.94 88.5h1.12M48.94 89.5h1.12M17.94 90.5h1.12M41.94 90.5h1.12M48.94 90.5h1.12M21.94 91.5h1.12M31.94 91.5h1.12M37.94 91.5h1.12M44.94 91.5h1.12M16.94 92.5h1.12M34.94 92.5h1.12M44.94 92.5h1.12M48.94 92.5h1.12M18.94 93.5h1.12M20.94 93.5h1.12M24.94 93.5h1.12M30.94 93.5h2.12M34.94 93.5h1.12M25.94 94.5h1.12M41.94 94.5h1.12M29.94 95.5h1.12M32.94 95.5h1.12M34.94 95.5h1.12M37.94 95.5h2.12M22.94 96.5h1.12M34.94 96.5h1.12M36.94 96.5h1.12M49.94 96.5h1.12M22.94 97.5h1.12M22.94 98.5h1.12M30.94 98.5h1.12M32.94 98.5h1.12M24.94 99.5h3.12"/>
<path stroke="#412cbb" d="M20.94 .5h15.12M36.94 .5h12.12M17.94 99.5h7.12M27.94 99.5h22.12"/>
<path stroke="#4639da" d="M69.94 .5h1.12M72.94 .5h1.12M69.94 1.5h1.12M69.94 2.5h1.12M69.94 3.5h1.12M71.94 3.5h2.12M69.94 4.5h1.12M72.94 4.5h1.12M20.94 5.5h1.12M69.94 5.5h1.12M72.94 5.5h1.12M48.94 6.5h1.12M69.94 6.5h1.12M72.94 6.5h1.12M69.94 7.5h1.12M72.94 7.5h1.12M69.94 8.5h1.12M72.94 8.5h1.12M23.94 9.5h1.12M69.94 9.5h1.12M72.94 9.5h1.12M69.94 10.5h1.12M69.94 11.5h1.12M50.94 12.5h1.12M69.94 12.5h1.12M51.94 17.5h1.12M24.94 19.5h1.12M49.94 19.5h1.12M75.94 22.5h1.12M75.94 23.5h1.12M75.94 24.5h1.12M23.94 25.5h1.12M75.94 25.5h1.12M48.94 26.5h1.12M75.94 26.5h1.12M75.94 27.5h1.12M75.94 28.5h1.12M75.94 29.5h1.12M75.94 30.5h1.12M75.94 31.5h1.12M81.94 31.5h7.12M75.94 32.5h1.12M81.94 32.5h6.12M75.94 33.5h1.12M81.94 33.5h5.12M75.94 34.5h1.12M75.94 35.5h1.12M75.94 36.5h1.12M75.94 37.5h1.12M75.94 38.5h1.12M75.94 39.5h1.12M15.94 40.5h1.12M75.94 40.5h1.12M13.94 41.5h1.12M75.94 41.5h1.12M49.94 42.5h1.12M15.94 44.5h1.12M50.94 45.5h1.12M17.94 47.5h1.12M51.94 47.5h1.12M67.94 47.5h2.12M68.94 48.5h1.12M53.94 53.5h1.12M19.94 57.5h1.12M56.94 65.5h1.12M52.94 67.5h1.12M9.94 70.5h1.12M48.94 76.5h1.12M4.94 77.5h1.12M1.94 86.5h1.12M51.94 87.5h1.12M49.94 99.5h1.12"/>
<path stroke="#4747eb" d="M72.94 1.5h1.12M72.94 2.5h1.12M48.94 5.5h1.12M24.94 11.5h1.12M1.94 12.5h1.12M13.94 19.5h1.12M1.94 23.5h1.12M23.94 23.5h1.12M23.94 24.5h1.12M71.94 27.5h1.12M71.94 28.5h1.12M49.94 29.5h1.12M80.94 31.5h1.12M87.94 32.5h1.12M87.94 33.5h1.12M49.94 34.5h1.12M88.94 35.5h1.12M72.94 36.5h1.12M89.94 37.5h1.12M90.94 40.5h1.12M16.94 41.5h1.12M73.94 41.5h1.12M14.94 42.5h1.12M75.94 42.5h1.12M14.94 43.5h1.12M17.94 43.5h1.12M75.94 43.5h1.12M18.94 44.5h1.12M16.94 45.5h1.12M74.94 45.5h1.12M92.94 45.5h1.12M16.94 46.5h1.12M74.94 46.5h1.12M76.94 46.5h1.12M61.94 47.5h1.12M93.94 47.5h1.12M18.94 48.5h1.12M61.94 48.5h2.12M67.94 48.5h1.12M18.94 49.5h1.12M22.94 49.5h1.12M62.94 49.5h1.12M75.94 49.5h1.12M77.94 49.5h1.12M94.94 49.5h1.12M63.94 50.5h1.12M63.94 51.5h1.12M64.94 52.5h1.12M76.94 52.5h1.12M65.94 53.5h1.12M65.94 54.5h1.12M20.94 56.5h1.12M78.94 57.5h1.12M79.94 59.5h1.12M11.94 60.5h1.12M82.94 60.5h1.12M80.94 61.5h1.12M83.94 61.5h1.12M81.94 63.5h1.12M57.94 65.5h4.12M87.94 66.5h1.12M84.94 67.5h1.12M85.94 68.5h1.12M86.94 70.5h1.12M87.94 71.5h1.12M88.94 72.5h1.12M89.94 73.5h1.12M47.94 77.5h1.12M75.94 77.5h1.12M3.94 78.5h1.12M74.94 78.5h3.12M93.94 78.5h1.12M74.94 79.5h3.12M75.94 80.5h1.12M87.94 82.5h1.12M97.94 82.5h1.12M88.94 83.5h2.12M89.94 84.5h2.12M49.94 85.5h1.12M90.94 85.5h2.12M91.94 86.5h2.12M93.94 87.5h1.12M14.94 88.5h1.12M94.94 88.5h1.12M52.94 89.5h1.12M15.94 90.5h1.12M52.94 90.5h1.12M51.94 94.5h1.12"/>
<path stroke="#4854f5" d="M71.94 .5h1.12M71.94 1.5h1.12M48.94 4.5h1.12M.94 5.5h2.12M22.94 8.5h1.12M1.94 9.5h1.12M49.94 10.5h1.12M11.94 11.5h1.12M11.94 12.5h1.12M70.94 12.5h1.12M9.94 13.5h1.12M13.94 13.5h1.12M55.94 15.5h1.12M15.94 16.5h1.12M15.94 17.5h1.12M50.94 18.5h1.12M11.94 19.5h2.12M14.94 19.5h1.12M0 20.5h1.06M7.94 20.5h1.12M10.94 20.5h2.12M13.94 20.5h1.12M74.94 21.5h2.12M1.94 22.5h1.12M4.94 22.5h1.12M74.94 22.5h1.12M4.94 23.5h1.12M2.94 24.5h1.12M4.94 24.5h2.12M71.94 26.5h1.12M49.94 28.5h1.12M88.94 34.5h1.12M89.94 38.5h1.12M73.94 40.5h1.12M15.94 41.5h1.12M90.94 41.5h1.12M16.94 42.5h2.12M73.94 42.5h2.12M91.94 42.5h1.12M91.94 43.5h1.12M17.94 44.5h1.12M74.94 44.5h2.12M92.94 44.5h1.12M.94 45.5h1.12M15.94 45.5h1.12M18.94 45.5h2.12M76.94 45.5h1.12M17.94 46.5h1.12M19.94 46.5h1.12M75.94 48.5h1.12M62.94 50.5h1.12M77.94 50.5h1.12M64.94 51.5h1.12M78.94 52.5h1.12M64.94 53.5h1.12M76.94 53.5h1.12M79.94 54.5h1.12M77.94 55.5h1.12M80.94 56.5h1.12M78.94 58.5h1.12M81.94 58.5h1.12M16.94 59.5h1.12M79.94 60.5h1.12M10.94 62.5h1.12M80.94 62.5h1.12M10.94 63.5h1.12M10.94 64.5h1.12M82.94 64.5h1.12M61.94 65.5h1.12M86.94 65.5h1.12M83.94 66.5h1.12M88.94 67.5h1.12M89.94 68.5h1.12M9.94 69.5h1.12M86.94 69.5h1.12M51.94 71.5h1.12M92.94 72.5h1.12M7.94 73.5h1.12M93.94 73.5h1.12M90.94 74.5h1.12M94.94 74.5h1.12M91.94 75.5h1.12M95.94 75.5h1.12M96.94 76.5h1.12M82.94 77.5h2.12M97.94 77.5h1.12M0 78.5h1.06M82.94 78.5h2.12M98.94 78.5h1.06M2.94 79.5h1.12M94.94 79.5h1.12M95.94 80.5h1.12M87.94 81.5h1.12M96.94 81.5h1.12M86.94 82.5h1.12M88.94 82.5h1.12M98.94 83.5h1.06M92.94 87.5h1.12M52.94 88.5h1.12M93.94 88.5h1.12M10.94 89.5h2.12M10.94 90.5h2.12M10.94 91.5h2.12M16.94 93.5h1.12M2.94 94.5h1.12M.94 98.5h1.12"/>
<path stroke="#4562fc" d="M81.94 .5h1.12M48.94 3.5h1.12M70.94 3.5h1.12M78.94 3.5h1.12M.94 4.5h1.12M87.94 4.5h1.12M0 5.5h1.06M.94 6.5h2.12M0 7.5h2.06M90.94 7.5h1.12M0 8.5h2.06M2.94 9.5h1.12M4.94 10.5h1.12M10.94 10.5h2.12M0 11.5h1.06M4.94 11.5h1.12M9.94 11.5h1.12M70.94 11.5h1.12M0 12.5h2.06M2.94 12.5h2.12M24.94 12.5h1.12M0 13.5h2.06M5.94 13.5h1.12M70.94 13.5h1.12M0 14.5h1.06M9.94 14.5h3.12M13.94 14.5h4.12M70.94 14.5h1.12M94.94 14.5h1.12M0 15.5h2.06M8.94 15.5h2.12M13.94 15.5h3.12M0 16.5h2.06M4.94 16.5h1.12M14.94 16.5h1.12M53.94 16.5h1.12M0 17.5h3.06M3.94 17.5h2.12M12.94 17.5h1.12M14.94 17.5h1.12M.94 18.5h1.12M7.94 18.5h1.12M9.94 18.5h2.12M14.94 18.5h2.12M56.94 18.5h1.12M7.94 19.5h2.12M12.94 20.5h1.12M.94 21.5h3.12M6.94 21.5h1.12M23.94 21.5h1.12M0 22.5h2.06M3.94 22.5h1.12M5.94 22.5h1.12M71.94 22.5h1.12M0 23.5h2.06M3.94 23.5h1.12M5.94 23.5h1.12M13.94 23.5h1.12M71.94 23.5h1.12M1.94 24.5h1.12M3.94 24.5h1.12M11.94 24.5h1.12M58.94 24.5h1.12M1.94 25.5h2.12M71.94 25.5h1.12M2.94 26.5h1.12M71.94 29.5h1.12M71.94 30.5h1.12M84.94 30.5h2.12M80.94 32.5h1.12M86.94 33.5h1.12M72.94 34.5h1.12M49.94 35.5h1.12M72.94 35.5h1.12M49.94 36.5h1.12M88.94 36.5h1.12M49.94 37.5h1.12M72.94 37.5h1.12M90.94 39.5h1.12M13.94 40.5h2.12M13.94 42.5h1.12M73.94 43.5h1.12M0 44.5h3.06M14.94 44.5h1.12M16.94 44.5h1.12M53.94 44.5h1.12M75.94 45.5h1.12M1.94 46.5h1.12M12.94 46.5h1.12M68.94 46.5h1.12M73.94 46.5h1.12M0 47.5h1.06M16.94 47.5h1.12M74.94 47.5h3.12M17.94 48.5h1.12M22.94 48.5h1.12M93.94 48.5h1.12M19.94 49.5h1.12M52.94 49.5h1.12M67.94 49.5h2.12M10.94 50.5h3.12M18.94 50.5h1.12M75.94 50.5h1.12M0 51.5h1.06M76.94 51.5h1.12M0 52.5h2.06M66.94 54.5h1.12M54.94 55.5h1.12M65.94 55.5h1.12M80.94 57.5h1.12M56.94 59.5h1.12M10.94 61.5h1.12M81.94 62.5h1.12M84.94 62.5h1.12M0 63.5h1.06M85.94 63.5h1.12M0 64.5h2.06M61.94 64.5h1.12M85.94 64.5h1.12M82.94 65.5h2.12M84.94 66.5h1.12M85.94 69.5h1.12M90.94 69.5h1.12M0 70.5h1.06M87.94 70.5h1.12M0 71.5h1.06M91.94 71.5h1.12M1.94 72.5h1.12M62.94 72.5h1.12M50.94 74.5h1.12M.94 75.5h1.12M0 76.5h1.06M64.94 76.5h1.12M91.94 76.5h2.12M92.94 77.5h2.12M46.94 78.5h1.12M51.94 78.5h1.12M0 79.5h2.06M50.94 79.5h3.12M50.94 80.5h3.12M46.94 81.5h1.12M51.94 81.5h1.12M98.94 81.5h1.06M47.94 82.5h1.12M66.94 82.5h1.12M87.94 83.5h1.12M88.94 84.5h1.12M11.94 85.5h1.12M12.94 86.5h1.12M50.94 86.5h1.12M13.94 87.5h1.12M94.94 87.5h1.12M16.94 94.5h1.12M50.94 96.5h1.12M0 99.5h1.06"/>
<path stroke="#3e6fff" d="M19.94 .5h1.12M48.94 .5h1.12M68.94 .5h1.12M90.94 .5h2.12M97.94 .5h2.06M48.94 1.5h1.12M83.94 1.5h1.12M91.94 1.5h1.12M48.94 2.5h1.12M68.94 2.5h1.12M70.94 2.5h2.12M82.94 2.5h1.12M98.94 2.5h1.06M0 3.5h2.06M73.94 3.5h2.12M79.94 3.5h3.12M83.94 3.5h1.12M79.94 4.5h1.12M85.94 4.5h1.12M88.94 4.5h2.12M94.94 4.5h5.06M75.94 5.5h1.12M88.94 5.5h1.12M0 6.5h1.06M89.94 7.5h1.12M1.94 8.5h1.12M90.94 8.5h2.12M0 9.5h2.06M5.94 9.5h2.12M49.94 9.5h1.12M0 10.5h1.06M3.94 10.5h1.12M5.94 10.5h2.12M9.94 10.5h1.12M70.94 10.5h1.12M72.94 10.5h1.12M3.94 11.5h1.12M5.94 11.5h1.12M8.94 11.5h1.12M10.94 11.5h1.12M12.94 11.5h1.12M51.94 11.5h1.12M4.94 12.5h7.12M12.94 12.5h3.12M1.94 13.5h3.12M6.94 13.5h1.12M8.94 13.5h1.12M12.94 13.5h1.12M14.94 13.5h2.12M24.94 13.5h1.12M55.94 13.5h1.12M.94 14.5h2.12M3.94 14.5h1.12M5.94 14.5h1.12M8.94 14.5h1.12M1.94 15.5h5.12M7.94 15.5h1.12M11.94 15.5h1.12M56.94 15.5h1.12M70.94 15.5h1.12M2.94 16.5h2.12M5.94 16.5h2.12M9.94 16.5h1.12M11.94 16.5h3.12M16.94 16.5h1.12M55.94 16.5h1.12M90.94 16.5h1.12M5.94 17.5h2.12M9.94 17.5h2.12M13.94 17.5h1.12M16.94 17.5h1.12M0 18.5h1.06M2.94 18.5h2.12M5.94 18.5h2.12M11.94 18.5h3.12M24.94 18.5h1.12M55.94 18.5h1.12M.94 19.5h1.12M2.94 19.5h1.12M56.94 19.5h1.12M1.94 20.5h2.12M6.94 20.5h1.12M8.94 20.5h2.12M14.94 20.5h2.12M71.94 20.5h1.12M0 21.5h1.06M4.94 21.5h2.12M7.94 21.5h4.12M12.94 21.5h1.12M48.94 21.5h1.12M93.94 21.5h1.12M2.94 22.5h1.12M6.94 22.5h1.12M11.94 22.5h2.12M23.94 22.5h1.12M55.94 22.5h1.12M2.94 23.5h1.12M6.94 23.5h1.12M10.94 23.5h3.12M54.94 23.5h1.12M.94 24.5h1.12M6.94 24.5h1.12M9.94 24.5h2.12M54.94 24.5h3.12M71.94 24.5h1.12M0 25.5h1.06M3.94 25.5h1.12M5.94 25.5h2.12M58.94 25.5h1.12M.94 26.5h2.12M74.94 26.5h1.12M49.94 27.5h1.12M56.94 27.5h1.12M81.94 30.5h1.12M83.94 30.5h1.12M86.94 30.5h2.12M57.94 32.5h1.12M80.94 33.5h1.12M56.94 35.5h1.12M53.94 36.5h1.12M55.94 36.5h1.12M72.94 38.5h1.12M72.94 39.5h2.12M89.94 39.5h1.12M.94 40.5h1.12M16.94 40.5h1.12M18.94 40.5h1.12M.94 41.5h1.12M6.94 41.5h1.12M9.94 41.5h1.12M12.94 41.5h1.12M14.94 41.5h1.12M49.94 41.5h1.12M76.94 41.5h1.12M.94 43.5h1.12M2.94 43.5h1.12M15.94 43.5h1.12M18.94 43.5h1.12M74.94 43.5h1.12M2.94 44.5h1.12M9.94 44.5h1.12M76.94 44.5h1.12M0 45.5h1.06M1.94 45.5h1.12M11.94 45.5h2.12M14.94 45.5h1.12M17.94 45.5h1.12M0 46.5h2.06M11.94 46.5h1.12M60.94 46.5h1.12M67.94 46.5h1.12M92.94 46.5h2.12M12.94 47.5h1.12M20.94 47.5h1.12M60.94 47.5h1.12M5.94 48.5h1.12M12.94 48.5h3.12M77.94 48.5h1.12M2.94 49.5h1.12M11.94 49.5h3.12M61.94 49.5h1.12M1.94 50.5h1.12M8.94 50.5h2.12M8.94 51.5h2.12M11.94 51.5h2.12M77.94 51.5h1.12M1.94 52.5h1.12M4.94 52.5h1.12M53.94 52.5h1.12M63.94 52.5h1.12M0 53.5h1.06M21.94 53.5h1.12M77.94 53.5h2.12M76.94 54.5h2.12M66.94 55.5h1.12M79.94 55.5h1.12M65.94 56.5h2.12M77.94 56.5h1.12M66.94 57.5h2.12M81.94 59.5h1.12M80.94 60.5h1.12M0 61.5h2.06M81.94 61.5h1.12M0 62.5h1.06M.94 63.5h1.12M60.94 63.5h1.12M74.94 63.5h1.12M84.94 63.5h1.12M0 65.5h2.06M1.94 67.5h1.12M1.94 68.5h1.12M84.94 68.5h1.12M87.94 69.5h1.12M90.94 70.5h1.12M0 72.5h1.06M0 73.5h1.06M1.94 73.5h1.12M.94 74.5h2.12M63.94 74.5h1.12M0 75.5h1.06M90.94 75.5h1.12M.94 76.5h2.12M93.94 76.5h2.12M0 77.5h3.06M.94 78.5h2.12M94.94 78.5h1.12M98.94 79.5h1.06M1.94 80.5h1.12M74.94 80.5h1.12M76.94 80.5h1.12M98.94 80.5h1.06M86.94 81.5h1.12M48.94 83.5h1.12M61.94 84.5h1.12M.94 85.5h1.12M8.94 85.5h1.12M61.94 86.5h1.12M2.94 88.5h2.12M52.94 93.5h1.12M3.94 94.5h2.12M4.94 95.5h1.12M1.94 96.5h2.12M.94 97.5h1.12M0 98.5h1.06"/>
<path stroke="#317efb" d="M78.94 .5h1.12M80.94 .5h1.12M19.94 1.5h1.12M68.94 1.5h1.12M73.94 1.5h1.12M80.94 1.5h1.12M84.94 1.5h1.12M92.94 1.5h1.12M98.94 1.5h1.06M97.94 2.5h1.12M49.94 3.5h1.12M75.94 3.5h3.12M82.94 3.5h1.12M84.94 3.5h1.12M97.94 3.5h2.06M0 4.5h1.06M1.94 4.5h1.12M51.94 4.5h1.12M71.94 4.5h1.12M86.94 4.5h1.12M90.94 4.5h4.12M50.94 5.5h2.12M78.94 5.5h2.12M86.94 5.5h1.12M91.94 6.5h1.12M1.94 7.5h1.12M21.94 7.5h1.12M91.94 7.5h1.12M70.94 8.5h1.12M98.94 8.5h1.06M4.94 9.5h1.12M90.94 9.5h2.12M8.94 10.5h1.12M6.94 11.5h1.12M50.94 11.5h1.12M87.94 11.5h1.12M51.94 12.5h1.12M7.94 13.5h1.12M10.94 13.5h2.12M91.94 13.5h1.12M97.94 13.5h1.12M2.94 14.5h1.12M4.94 14.5h1.12M6.94 14.5h2.12M12.94 14.5h1.12M56.94 14.5h1.12M91.94 14.5h1.12M93.94 14.5h1.12M96.94 14.5h1.12M6.94 15.5h1.12M10.94 15.5h1.12M12.94 15.5h1.12M95.94 15.5h1.12M1.94 16.5h1.12M8.94 16.5h1.12M10.94 16.5h1.12M70.94 16.5h1.12M91.94 16.5h1.12M93.94 16.5h1.12M98.94 16.5h1.06M2.94 17.5h1.12M7.94 17.5h2.12M11.94 17.5h1.12M17.94 17.5h1.12M52.94 17.5h1.12M55.94 17.5h2.12M70.94 17.5h2.12M95.94 17.5h1.12M1.94 18.5h1.12M8.94 18.5h1.12M16.94 18.5h1.12M71.94 18.5h1.12M74.94 18.5h1.12M0 19.5h1.06M1.94 19.5h1.12M5.94 19.5h2.12M9.94 19.5h2.12M15.94 19.5h2.12M71.94 19.5h1.12M.94 20.5h1.12M3.94 20.5h1.12M16.94 20.5h1.12M49.94 20.5h1.12M70.94 20.5h1.12M3.94 21.5h1.12M11.94 21.5h1.12M13.94 21.5h4.12M71.94 21.5h1.12M95.94 21.5h1.12M7.94 22.5h4.12M13.94 22.5h2.12M48.94 22.5h1.12M8.94 23.5h2.12M48.94 23.5h1.12M53.94 23.5h1.12M58.94 23.5h1.12M74.94 23.5h1.12M0 24.5h1.06M7.94 24.5h1.12M12.94 24.5h2.12M53.94 24.5h1.12M74.94 24.5h1.12M.94 25.5h1.12M4.94 25.5h1.12M7.94 25.5h5.12M48.94 25.5h1.12M56.94 25.5h1.12M74.94 25.5h1.12M0 26.5h1.06M9.94 26.5h1.12M55.94 26.5h1.12M58.94 26.5h1.12M93.94 26.5h1.12M92.94 27.5h1.12M56.94 29.5h1.12M54.94 30.5h1.12M58.94 30.5h1.12M54.94 31.5h1.12M56.94 31.5h2.12M71.94 31.5h1.12M52.94 32.5h1.12M52.94 33.5h1.12M50.94 34.5h1.12M52.94 34.5h1.12M56.94 34.5h2.12M87.94 34.5h1.12M55.94 35.5h1.12M52.94 36.5h1.12M54.94 36.5h1.12M89.94 36.5h1.12M.94 37.5h1.12M54.94 37.5h1.12M56.94 37.5h2.12M49.94 38.5h1.12M57.94 38.5h1.12M.94 39.5h1.12M8.94 39.5h1.12M49.94 39.5h1.12M76.94 39.5h1.12M0 40.5h1.06M1.94 40.5h2.12M6.94 40.5h3.12M76.94 40.5h1.12M0 41.5h1.06M1.94 41.5h1.12M17.94 41.5h2.12M74.94 41.5h1.12M91.94 41.5h1.12M0 42.5h3.06M9.94 42.5h3.12M1.94 43.5h1.12M5.94 43.5h1.12M7.94 43.5h1.12M9.94 43.5h2.12M16.94 43.5h1.12M7.94 44.5h1.12M13.94 44.5h1.12M50.94 44.5h3.12M54.94 44.5h1.12M58.94 44.5h2.12M73.94 44.5h1.12M4.94 45.5h2.12M7.94 45.5h1.12M9.94 45.5h2.12M13.94 45.5h1.12M51.94 45.5h1.12M2.94 46.5h1.12M10.94 46.5h1.12M13.94 46.5h1.12M15.94 46.5h1.12M18.94 46.5h1.12M20.94 46.5h1.12M51.94 46.5h1.12M75.94 46.5h1.12M.94 47.5h1.12M10.94 47.5h2.12M13.94 47.5h1.12M18.94 47.5h1.12M22.94 47.5h1.12M1.94 48.5h2.12M16.94 48.5h1.12M76.94 48.5h1.12M5.94 49.5h2.12M63.94 49.5h1.12M76.94 49.5h1.12M.94 50.5h1.12M13.94 50.5h2.12M17.94 50.5h1.12M19.94 50.5h1.12M76.94 50.5h1.12M.94 51.5h1.12M3.94 51.5h1.12M6.94 51.5h1.12M62.94 51.5h1.12M2.94 52.5h2.12M7.94 52.5h1.12M21.94 52.5h1.12M65.94 52.5h1.12M.94 53.5h4.12M64.94 54.5h1.12M78.94 56.5h1.12M55.94 57.5h1.12M79.94 57.5h1.12M6.94 58.5h2.12M79.94 58.5h1.12M0 60.5h1.06M1.94 60.5h1.12M81.94 60.5h1.12M58.94 61.5h1.12M76.94 61.5h1.12M79.94 61.5h1.12M82.94 61.5h1.12M1.94 62.5h1.12M59.94 62.5h1.12M83.94 62.5h1.12M82.94 63.5h1.12M1.94 64.5h1.12M86.94 64.5h1.12M85.94 67.5h1.12M0 68.5h1.06M9.94 68.5h1.12M52.94 68.5h1.12M0 69.5h1.06M89.94 69.5h1.12M91.94 70.5h1.12M.94 71.5h1.12M88.94 71.5h1.12M.94 72.5h1.12M.94 73.5h1.12M62.94 73.5h1.12M0 74.5h1.06M6.94 74.5h1.12M89.94 74.5h1.12M1.94 75.5h1.12M63.94 75.5h1.12M92.94 75.5h2.12M74.94 77.5h1.12M76.94 77.5h1.12M95.94 77.5h1.12M60.94 78.5h1.12M96.94 78.5h2.12M97.94 79.5h1.12M97.94 80.5h1.12M0 81.5h1.06M50.94 81.5h1.12M52.94 81.5h1.12M65.94 81.5h1.12M97.94 81.5h1.12M98.94 82.5h1.06M55.94 83.5h1.12M.94 84.5h1.12M9.94 85.5h1.12M59.94 85.5h1.12M63.94 85.5h1.12M86.94 85.5h1.12M89.94 85.5h1.12M62.94 86.5h1.12M93.94 86.5h1.12M1.94 87.5h1.12M59.94 87.5h1.12M91.94 87.5h1.12M9.94 90.5h1.12M12.94 90.5h1.12M1.94 92.5h1.12M3.94 93.5h1.12M.94 94.5h2.12M.94 95.5h1.12M2.94 95.5h2.12M16.94 95.5h1.12M0 96.5h1.06M0 97.5h1.06M1.94 97.5h1.12M.94 99.5h1.12M7.94 99.5h1.12"/>
<path stroke="#2d8bf4" d="M82.94 .5h1.12M88.94 .5h2.12M49.94 1.5h1.12M70.94 1.5h1.12M75.94 1.5h2.12M78.94 1.5h2.12M90.94 1.5h1.12M97.94 1.5h1.12M19.94 2.5h1.12M50.94 2.5h1.12M73.94 2.5h2.12M83.94 2.5h2.12M87.94 2.5h1.12M1.94 3.5h1.12M88.94 3.5h1.12M90.94 3.5h1.12M96.94 3.5h1.12M49.94 4.5h2.12M77.94 4.5h2.12M80.94 4.5h1.12M74.94 5.5h1.12M76.94 5.5h2.12M80.94 5.5h1.12M82.94 5.5h1.12M85.94 5.5h1.12M87.94 5.5h1.12M89.94 5.5h1.12M91.94 5.5h1.12M70.94 6.5h1.12M87.94 6.5h1.12M89.94 6.5h2.12M92.94 6.5h2.12M49.94 7.5h2.12M70.94 7.5h1.12M49.94 8.5h1.12M89.94 8.5h1.12M3.94 9.5h1.12M7.94 9.5h3.12M51.94 9.5h1.12M70.94 9.5h1.12M73.94 9.5h1.12M89.94 9.5h1.12M92.94 9.5h1.12M7.94 10.5h1.12M23.94 10.5h1.12M91.94 10.5h1.12M7.94 11.5h1.12M15.94 12.5h1.12M93.94 12.5h3.12M97.94 12.5h1.12M4.94 13.5h1.12M71.94 13.5h1.12M94.94 13.5h2.12M98.94 13.5h1.06M89.94 14.5h1.12M92.94 14.5h1.12M98.94 14.5h1.06M16.94 15.5h1.12M91.94 15.5h1.12M93.94 15.5h1.12M98.94 15.5h1.06M7.94 16.5h1.12M54.94 16.5h1.12M71.94 16.5h1.12M89.94 16.5h1.12M94.94 16.5h1.12M96.94 16.5h1.12M54.94 17.5h1.12M89.94 17.5h3.12M93.94 17.5h1.12M96.94 17.5h1.12M4.94 18.5h1.12M23.94 18.5h1.12M57.94 18.5h1.12M70.94 18.5h1.12M3.94 19.5h2.12M17.94 19.5h1.12M57.94 19.5h1.12M70.94 19.5h1.12M4.94 20.5h2.12M17.94 20.5h1.12M57.94 20.5h1.12M95.94 20.5h1.12M17.94 21.5h1.12M51.94 21.5h1.12M54.94 21.5h1.12M96.94 21.5h1.12M56.94 22.5h2.12M96.94 22.5h1.12M7.94 23.5h1.12M14.94 23.5h1.12M55.94 23.5h1.12M48.94 24.5h1.12M57.94 24.5h1.12M55.94 25.5h1.12M57.94 25.5h1.12M59.94 25.5h1.12M95.94 25.5h1.12M3.94 26.5h2.12M6.94 26.5h3.12M10.94 26.5h1.12M92.94 26.5h1.12M9.94 27.5h1.12M55.94 27.5h1.12M58.94 27.5h1.12M91.94 27.5h1.12M58.94 28.5h1.12M55.94 29.5h1.12M57.94 29.5h2.12M53.94 30.5h1.12M55.94 30.5h2.12M82.94 30.5h1.12M53.94 31.5h1.12M55.94 31.5h1.12M58.94 31.5h1.12M56.94 32.5h1.12M71.94 32.5h2.12M56.94 33.5h2.12M88.94 33.5h1.12M53.94 34.5h1.12M53.94 35.5h1.12M57.94 35.5h1.12M0 37.5h1.06M55.94 37.5h1.12M76.94 37.5h1.12M0 38.5h1.06M4.94 38.5h1.12M52.94 38.5h2.12M73.94 38.5h1.12M76.94 38.5h1.12M90.94 38.5h1.12M0 39.5h1.06M2.94 39.5h1.12M5.94 39.5h2.12M51.94 39.5h1.12M3.94 40.5h2.12M9.94 40.5h2.12M12.94 40.5h1.12M17.94 40.5h1.12M3.94 41.5h1.12M7.94 41.5h2.12M11.94 41.5h1.12M19.94 41.5h1.12M2.94 42.5h1.12M5.94 42.5h3.12M12.94 42.5h1.12M18.94 42.5h1.12M0 43.5h1.06M3.94 43.5h1.12M11.94 43.5h1.12M13.94 43.5h1.12M55.94 43.5h1.12M4.94 44.5h1.12M6.94 44.5h1.12M8.94 44.5h1.12M10.94 44.5h3.12M55.94 44.5h1.12M72.94 44.5h1.12M91.94 44.5h1.12M2.94 45.5h2.12M6.94 45.5h1.12M52.94 45.5h2.12M59.94 45.5h1.12M93.94 45.5h1.12M3.94 46.5h1.12M5.94 46.5h2.12M61.94 46.5h1.12M1.94 47.5h1.12M6.94 47.5h1.12M19.94 47.5h1.12M72.94 47.5h1.12M77.94 47.5h1.12M0 48.5h1.06M3.94 48.5h2.12M6.94 48.5h3.12M10.94 48.5h2.12M15.94 48.5h1.12M20.94 48.5h1.12M52.94 48.5h1.12M60.94 48.5h1.12M72.94 48.5h1.12M74.94 48.5h1.12M0 49.5h2.06M3.94 49.5h1.12M7.94 49.5h4.12M14.94 49.5h4.12M73.94 49.5h1.12M0 50.5h1.06M6.94 50.5h2.12M15.94 50.5h2.12M94.94 50.5h1.12M1.94 51.5h2.12M4.94 51.5h1.12M10.94 51.5h1.12M75.94 51.5h1.12M78.94 51.5h1.12M5.94 52.5h1.12M62.94 52.5h1.12M77.94 52.5h1.12M4.94 53.5h2.12M63.94 53.5h1.12M0 54.5h2.06M80.94 55.5h1.12M67.94 58.5h1.12M77.94 58.5h1.12M80.94 58.5h1.12M12.94 59.5h1.12M78.94 59.5h1.12M.94 60.5h1.12M73.94 60.5h1.12M76.94 60.5h1.12M1.94 61.5h1.12M74.94 61.5h2.12M.94 62.5h1.12M82.94 62.5h1.12M75.94 63.5h1.12M81.94 64.5h1.12M1.94 65.5h1.12M.94 66.5h2.12M82.94 66.5h1.12M0 67.5h1.06M83.94 67.5h1.12M.94 68.5h1.12M86.94 68.5h2.12M.94 69.5h2.12M.94 70.5h1.12M85.94 70.5h1.12M88.94 70.5h1.12M1.94 71.5h1.12M92.94 71.5h1.12M2.94 73.5h1.12M63.94 73.5h1.12M91.94 73.5h1.12M91.94 74.5h2.12M2.94 75.5h1.12M5.94 75.5h1.12M2.94 77.5h1.12M94.94 77.5h1.12M96.94 77.5h1.12M50.94 78.5h1.12M52.94 78.5h1.12M1.94 79.5h1.12M53.94 79.5h1.12M73.94 79.5h1.12M96.94 79.5h1.12M0 80.5h2.06M51.94 82.5h1.12M67.94 82.5h2.12M.94 83.5h1.12M56.94 83.5h1.12M66.94 83.5h2.12M71.94 83.5h1.12M86.94 83.5h1.12M56.94 84.5h1.12M62.94 84.5h1.12M68.94 84.5h2.12M86.94 84.5h1.12M91.94 84.5h1.12M94.94 84.5h1.12M55.94 85.5h1.12M58.94 85.5h1.12M61.94 85.5h2.12M92.94 85.5h1.12M57.94 86.5h4.12M90.94 86.5h1.12M2.94 90.5h1.12M1.94 91.5h1.12M1.94 93.5h2.12M4.94 93.5h1.12M0 95.5h1.06M1.94 95.5h1.12M.94 96.5h1.12M3.94 96.5h1.12M2.94 97.5h1.12M50.94 97.5h1.12M80.94 97.5h1.12M1.94 98.5h1.12M15.94 98.5h2.12M1.94 99.5h3.12"/>
<path stroke="#2796eb" d="M70.94 .5h1.12M73.94 .5h1.12M77.94 .5h1.12M79.94 .5h1.12M83.94 .5h2.12M93.94 .5h1.12M95.94 .5h1.12M74.94 1.5h1.12M77.94 1.5h1.12M81.94 1.5h1.12M87.94 1.5h1.12M89.94 1.5h1.12M93.94 1.5h1.12M75.94 2.5h1.12M77.94 2.5h1.12M79.94 2.5h2.12M85.94 2.5h1.12M88.94 2.5h3.12M92.94 2.5h1.12M96.94 2.5h1.12M50.94 3.5h2.12M85.94 3.5h3.12M89.94 3.5h1.12M91.94 3.5h3.12M18.94 4.5h2.12M70.94 4.5h1.12M73.94 4.5h2.12M76.94 4.5h1.12M81.94 4.5h1.12M84.94 4.5h1.12M19.94 5.5h1.12M49.94 5.5h1.12M81.94 5.5h1.12M84.94 5.5h1.12M92.94 5.5h2.12M96.94 5.5h1.12M98.94 5.5h1.06M20.94 6.5h1.12M49.94 6.5h3.12M71.94 6.5h1.12M88.94 6.5h1.12M94.94 6.5h3.12M68.94 7.5h1.12M87.94 7.5h2.12M96.94 7.5h1.12M4.94 8.5h2.12M50.94 8.5h1.12M68.94 8.5h1.12M73.94 8.5h1.12M88.94 8.5h1.12M92.94 8.5h1.12M10.94 9.5h1.12M74.94 9.5h2.12M87.94 9.5h1.12M96.94 9.5h1.12M12.94 10.5h1.12M20.94 10.5h1.12M22.94 10.5h1.12M51.94 10.5h1.12M75.94 10.5h1.12M88.94 10.5h1.12M13.94 11.5h1.12M88.94 11.5h1.12M71.94 12.5h1.12M87.94 12.5h1.12M90.94 12.5h1.12M96.94 12.5h1.12M18.94 13.5h1.12M87.94 13.5h2.12M92.94 13.5h2.12M71.94 14.5h1.12M88.94 14.5h1.12M95.94 14.5h1.12M71.94 15.5h1.12M87.94 15.5h1.12M89.94 15.5h2.12M92.94 15.5h1.12M94.94 15.5h1.12M96.94 15.5h1.12M19.94 16.5h1.12M56.94 16.5h1.12M88.94 16.5h1.12M92.94 16.5h1.12M95.94 16.5h1.12M22.94 17.5h1.12M57.94 17.5h1.12M74.94 17.5h1.12M88.94 17.5h1.12M94.94 17.5h1.12M98.94 17.5h1.06M53.94 18.5h2.12M97.94 18.5h2.06M50.94 19.5h2.12M54.94 19.5h2.12M93.94 19.5h1.12M96.94 19.5h1.12M98.94 19.5h1.06M51.94 20.5h1.12M54.94 20.5h1.12M97.94 20.5h2.06M55.94 21.5h1.12M57.94 21.5h2.12M70.94 21.5h1.12M97.94 21.5h1.12M16.94 22.5h1.12M53.94 22.5h2.12M58.94 22.5h1.12M92.94 22.5h1.12M94.94 22.5h2.12M52.94 23.5h1.12M56.94 23.5h2.12M94.94 23.5h1.12M8.94 24.5h1.12M51.94 24.5h2.12M49.94 25.5h1.12M54.94 25.5h1.12M97.94 25.5h1.12M5.94 26.5h1.12M54.94 26.5h1.12M56.94 26.5h2.12M59.94 26.5h2.12M91.94 26.5h1.12M94.94 26.5h2.12M8.94 27.5h1.12M57.94 27.5h1.12M59.94 27.5h1.12M74.94 27.5h1.12M93.94 27.5h1.12M54.94 28.5h4.12M76.94 28.5h1.12M98.94 28.5h1.06M50.94 29.5h1.12M53.94 29.5h2.12M19.94 30.5h1.12M57.94 30.5h1.12M72.94 30.5h1.12M80.94 30.5h1.12M51.94 31.5h1.12M59.94 31.5h1.12M72.94 31.5h1.12M74.94 31.5h1.12M76.94 31.5h1.12M50.94 32.5h1.12M53.94 32.5h1.12M55.94 32.5h1.12M74.94 32.5h1.12M76.94 32.5h1.12M53.94 33.5h1.12M71.94 33.5h2.12M74.94 33.5h1.12M22.94 34.5h1.12M81.94 34.5h1.12M52.94 35.5h1.12M54.94 35.5h1.12M.94 36.5h2.12M56.94 36.5h2.12M74.94 36.5h1.12M1.94 37.5h1.12M51.94 37.5h3.12M83.94 37.5h1.12M88.94 37.5h1.12M.94 38.5h2.12M3.94 38.5h1.12M55.94 38.5h2.12M1.94 39.5h1.12M4.94 39.5h1.12M7.94 39.5h1.12M15.94 39.5h1.12M53.94 39.5h1.12M71.94 39.5h1.12M5.94 40.5h1.12M49.94 40.5h1.12M2.94 41.5h1.12M10.94 41.5h1.12M52.94 41.5h1.12M58.94 41.5h1.12M3.94 42.5h2.12M8.94 42.5h1.12M15.94 42.5h1.12M19.94 42.5h1.12M53.94 42.5h2.12M59.94 42.5h1.12M76.94 42.5h1.12M4.94 43.5h1.12M6.94 43.5h1.12M8.94 43.5h1.12M12.94 43.5h1.12M50.94 43.5h1.12M54.94 43.5h1.12M57.94 43.5h3.12M92.94 43.5h1.12M3.94 44.5h1.12M5.94 44.5h1.12M56.94 44.5h1.12M8.94 45.5h1.12M54.94 45.5h1.12M73.94 45.5h1.12M9.94 46.5h1.12M14.94 46.5h1.12M53.94 46.5h1.12M59.94 46.5h1.12M3.94 47.5h2.12M8.94 47.5h2.12M14.94 47.5h2.12M62.94 47.5h1.12M.94 48.5h1.12M9.94 48.5h1.12M94.94 48.5h1.12M1.94 49.5h1.12M4.94 49.5h1.12M72.94 49.5h1.12M3.94 50.5h3.12M20.94 50.5h1.12M64.94 50.5h1.12M74.94 50.5h1.12M5.94 51.5h1.12M7.94 51.5h1.12M13.94 51.5h2.12M6.94 52.5h1.12M8.94 52.5h1.12M75.94 52.5h1.12M66.94 53.5h1.12M79.94 53.5h1.12M1.94 54.5h2.12M0 55.5h1.06M4.94 55.5h1.12M4.94 56.5h2.12M67.94 56.5h1.12M79.94 56.5h1.12M4.94 57.5h1.12M6.94 57.5h1.12M81.94 57.5h1.12M8.94 58.5h1.12M17.94 58.5h1.12M66.94 58.5h1.12M.94 59.5h1.12M13.94 59.5h1.12M76.94 59.5h1.12M80.94 59.5h1.12M82.94 59.5h1.12M78.94 60.5h1.12M83.94 60.5h1.12M84.94 61.5h1.12M73.94 62.5h1.12M77.94 62.5h1.12M83.94 63.5h1.12M83.94 64.5h1.12M62.94 65.5h1.12M70.94 65.5h1.12M84.94 65.5h1.12M87.94 65.5h1.12M0 66.5h1.06M60.94 66.5h1.12M71.94 66.5h1.12M85.94 66.5h1.12M76.94 68.5h1.12M88.94 68.5h1.12M52.94 69.5h2.12M88.94 69.5h1.12M4.94 70.5h1.12M71.94 70.5h1.12M84.94 70.5h1.12M2.94 71.5h1.12M70.94 71.5h3.12M89.94 71.5h1.12M76.94 72.5h1.12M72.94 73.5h1.12M88.94 73.5h1.12M90.94 73.5h1.12M61.94 75.5h1.12M64.94 75.5h1.12M84.94 75.5h1.12M94.94 75.5h1.12M2.94 76.5h1.12M4.94 76.5h1.12M59.94 76.5h1.12M63.94 76.5h1.12M83.94 76.5h2.12M3.94 77.5h1.12M59.94 77.5h2.12M64.94 77.5h1.12M71.94 77.5h1.12M79.94 77.5h1.12M85.94 77.5h1.12M68.94 78.5h1.12M71.94 78.5h1.12M78.94 78.5h2.12M95.94 78.5h1.12M58.94 79.5h1.12M71.94 79.5h1.12M95.94 79.5h1.12M64.94 80.5h1.12M96.94 80.5h1.12M49.94 81.5h1.12M60.94 81.5h1.12M62.94 81.5h2.12M66.94 81.5h1.12M68.94 81.5h1.12M72.94 83.5h1.12M90.94 83.5h1.12M97.94 83.5h1.12M58.94 84.5h1.12M67.94 84.5h1.12M71.94 84.5h1.12M98.94 84.5h1.06M56.94 85.5h1.12M60.94 85.5h1.12M64.94 85.5h1.12M85.94 85.5h1.12M87.94 85.5h1.12M94.94 85.5h1.12M7.94 86.5h1.12M63.94 86.5h1.12M68.94 86.5h1.12M53.94 87.5h1.12M58.94 87.5h1.12M60.94 87.5h1.12M88.94 87.5h2.12M2.94 89.5h1.12M3.94 90.5h1.12M81.94 90.5h1.12M2.94 91.5h1.12M2.94 92.5h2.12M10.94 92.5h1.12M.94 93.5h1.12M11.94 95.5h1.12M16.94 96.5h1.12M14.94 97.5h1.12M16.94 97.5h1.12M64.94 97.5h1.12M74.94 97.5h1.12M79.94 97.5h1.12M2.94 98.5h1.12M63.94 98.5h1.12M68.94 98.5h1.12M74.94 98.5h1.12M80.94 98.5h1.12M16.94 99.5h1.12"/>
<path stroke="#22a2e4" d="M0 .5h1.06M4.94 .5h1.12M49.94 .5h1.12M85.94 .5h3.12M92.94 .5h1.12M94.94 .5h1.12M.94 1.5h1.12M82.94 1.5h1.12M85.94 1.5h2.12M88.94 1.5h1.12M95.94 1.5h2.12M.94 2.5h3.12M6.94 2.5h1.12M49.94 2.5h1.12M76.94 2.5h1.12M78.94 2.5h1.12M81.94 2.5h1.12M91.94 2.5h1.12M19.94 3.5h1.12M95.94 3.5h1.12M52.94 4.5h1.12M75.94 4.5h1.12M82.94 4.5h1.12M2.94 5.5h1.12M52.94 5.5h1.12M68.94 5.5h1.12M70.94 5.5h2.12M73.94 5.5h1.12M83.94 5.5h1.12M90.94 5.5h1.12M94.94 5.5h2.12M68.94 6.5h1.12M83.94 6.5h1.12M98.94 6.5h1.06M51.94 7.5h1.12M71.94 7.5h1.12M79.94 7.5h1.12M92.94 7.5h1.12M97.94 7.5h2.06M51.94 8.5h1.12M87.94 8.5h1.12M96.94 8.5h2.12M20.94 9.5h1.12M22.94 9.5h1.12M50.94 9.5h1.12M77.94 9.5h1.12M93.94 9.5h1.12M97.94 9.5h2.06M19.94 10.5h1.12M50.94 10.5h1.12M76.94 10.5h1.12M90.94 10.5h1.12M92.94 10.5h1.12M71.94 11.5h1.12M90.94 11.5h2.12M94.94 11.5h1.12M96.94 11.5h1.12M52.94 12.5h1.12M88.94 12.5h1.12M92.94 12.5h1.12M98.94 12.5h1.06M16.94 13.5h2.12M58.94 13.5h1.12M89.94 13.5h2.12M21.94 14.5h1.12M24.94 14.5h1.12M72.94 14.5h1.12M90.94 14.5h1.12M97.94 14.5h1.12M17.94 15.5h1.12M19.94 15.5h2.12M22.94 15.5h1.12M24.94 15.5h1.12M88.94 15.5h1.12M97.94 15.5h1.12M20.94 16.5h4.12M61.94 16.5h1.12M97.94 16.5h1.12M24.94 17.5h1.12M53.94 17.5h1.12M69.94 17.5h1.12M75.94 17.5h1.12M92.94 17.5h1.12M17.94 18.5h1.12M19.94 18.5h1.12M51.94 18.5h1.12M72.94 18.5h2.12M75.94 18.5h1.12M89.94 18.5h1.12M92.94 18.5h2.12M95.94 18.5h2.12M20.94 19.5h1.12M23.94 19.5h1.12M73.94 19.5h1.12M90.94 19.5h2.12M95.94 19.5h1.12M18.94 20.5h1.12M23.94 20.5h1.12M56.94 20.5h1.12M77.94 20.5h1.12M92.94 20.5h2.12M96.94 20.5h1.12M18.94 21.5h1.12M49.94 21.5h2.12M52.94 21.5h1.12M56.94 21.5h1.12M91.94 21.5h2.12M94.94 21.5h1.12M98.94 21.5h1.06M15.94 22.5h1.12M51.94 22.5h2.12M70.94 22.5h1.12M97.94 22.5h1.12M51.94 23.5h1.12M92.94 23.5h1.12M98.94 23.5h1.06M49.94 24.5h2.12M59.94 24.5h1.12M12.94 25.5h1.12M53.94 25.5h1.12M68.94 25.5h1.12M70.94 25.5h1.12M91.94 25.5h2.12M94.94 25.5h1.12M49.94 26.5h1.12M0 27.5h2.06M2.94 27.5h1.12M54.94 27.5h1.12M90.94 27.5h1.12M74.94 28.5h1.12M22.94 29.5h1.12M74.94 29.5h1.12M76.94 29.5h1.12M22.94 30.5h1.12M52.94 30.5h1.12M74.94 30.5h1.12M76.94 30.5h1.12M22.94 31.5h1.12M50.94 31.5h1.12M52.94 31.5h1.12M51.94 32.5h1.12M54.94 32.5h1.12M58.94 32.5h1.12M21.94 33.5h1.12M51.94 33.5h1.12M76.94 33.5h1.12M0 34.5h1.06M51.94 34.5h1.12M55.94 34.5h1.12M58.94 34.5h1.12M71.94 34.5h1.12M74.94 34.5h1.12M80.94 34.5h1.12M82.94 34.5h1.12M.94 35.5h1.12M20.94 35.5h1.12M50.94 35.5h1.12M71.94 35.5h1.12M74.94 35.5h1.12M0 36.5h1.06M76.94 36.5h1.12M2.94 37.5h1.12M50.94 37.5h1.12M73.94 37.5h1.12M2.94 38.5h1.12M5.94 38.5h2.12M50.94 38.5h2.12M54.94 38.5h1.12M9.94 39.5h1.12M50.94 39.5h1.12M58.94 39.5h1.12M20.94 40.5h1.12M22.94 40.5h1.12M54.94 40.5h1.12M56.94 40.5h1.12M72.94 40.5h1.12M89.94 40.5h1.12M4.94 41.5h2.12M50.94 41.5h1.12M54.94 41.5h2.12M58.94 42.5h1.12M90.94 42.5h1.12M19.94 43.5h1.12M51.94 43.5h2.12M65.94 43.5h1.12M72.94 43.5h1.12M22.94 44.5h1.12M60.94 44.5h1.12M98.94 44.5h1.06M56.94 45.5h1.12M60.94 45.5h1.12M72.94 45.5h1.12M4.94 46.5h1.12M7.94 46.5h1.12M21.94 46.5h2.12M52.94 46.5h1.12M72.94 46.5h1.12M77.94 46.5h1.12M2.94 47.5h1.12M5.94 47.5h1.12M7.94 47.5h1.12M73.94 47.5h1.12M21.94 48.5h1.12M71.94 49.5h1.12M74.94 49.5h1.12M93.94 49.5h1.12M2.94 50.5h1.12M21.94 51.5h1.12M9.94 52.5h1.12M68.94 53.5h1.12M3.94 54.5h3.12M67.94 54.5h2.12M5.94 55.5h1.12M67.94 55.5h2.12M78.94 55.5h1.12M68.94 56.5h1.12M70.94 56.5h1.12M72.94 56.5h1.12M58.94 57.5h1.12M69.94 57.5h2.12M77.94 57.5h1.12M2.94 58.5h1.12M4.94 58.5h1.12M9.94 58.5h1.12M60.94 58.5h1.12M1.94 59.5h3.12M6.94 59.5h1.12M73.94 59.5h1.12M72.94 60.5h1.12M2.94 61.5h1.12M77.94 61.5h1.12M9.94 62.5h1.12M74.94 62.5h2.12M78.94 62.5h1.12M1.94 63.5h2.12M71.94 63.5h1.12M73.94 63.5h1.12M76.94 63.5h1.12M79.94 63.5h1.12M70.94 64.5h3.12M74.94 64.5h1.12M76.94 64.5h1.12M2.94 65.5h2.12M71.94 65.5h1.12M73.94 65.5h1.12M54.94 66.5h1.12M74.94 66.5h1.12M86.94 66.5h1.12M.94 67.5h1.12M9.94 67.5h1.12M70.94 67.5h1.12M79.94 67.5h2.12M82.94 67.5h1.12M86.94 67.5h2.12M62.94 68.5h1.12M69.94 68.5h1.12M74.94 68.5h1.12M77.94 68.5h1.12M83.94 68.5h1.12M72.94 69.5h1.12M1.94 70.5h3.12M70.94 70.5h1.12M72.94 70.5h1.12M79.94 70.5h1.12M83.94 70.5h1.12M8.94 71.5h1.12M62.94 71.5h1.12M73.94 71.5h1.12M86.94 71.5h1.12M51.94 72.5h1.12M71.94 72.5h2.12M78.94 72.5h1.12M87.94 72.5h1.12M89.94 72.5h2.12M52.94 73.5h2.12M69.94 73.5h1.12M77.94 73.5h1.12M83.94 73.5h1.12M92.94 73.5h1.12M2.94 74.5h2.12M52.94 74.5h1.12M61.94 74.5h1.12M76.94 74.5h1.12M83.94 74.5h1.12M3.94 75.5h1.12M50.94 75.5h1.12M60.94 75.5h1.12M62.94 75.5h1.12M71.94 75.5h1.12M74.94 75.5h2.12M83.94 75.5h1.12M85.94 75.5h1.12M88.94 75.5h1.12M49.94 76.5h1.12M61.94 76.5h1.12M58.94 77.5h1.12M61.94 77.5h1.12M65.94 77.5h1.12M84.94 77.5h1.12M2.94 78.5h1.12M53.94 78.5h1.12M59.94 78.5h1.12M65.94 78.5h1.12M73.94 78.5h1.12M47.94 79.5h1.12M60.94 79.5h1.12M72.94 79.5h1.12M77.94 79.5h1.12M93.94 79.5h1.12M49.94 80.5h1.12M53.94 80.5h2.12M59.94 80.5h1.12M77.94 80.5h1.12M94.94 80.5h1.12M.94 81.5h1.12M58.94 81.5h1.12M64.94 81.5h1.12M67.94 81.5h1.12M69.94 81.5h1.12M81.94 81.5h1.12M.94 82.5h1.12M50.94 82.5h1.12M53.94 82.5h2.12M65.94 82.5h1.12M69.94 82.5h1.12M79.94 82.5h1.12M92.94 82.5h2.12M0 83.5h1.06M49.94 83.5h1.12M54.94 83.5h1.12M57.94 83.5h1.12M65.94 83.5h1.12M69.94 83.5h2.12M91.94 83.5h1.12M0 84.5h1.06M49.94 84.5h1.12M55.94 84.5h1.12M59.94 84.5h2.12M63.94 84.5h2.12M66.94 84.5h1.12M72.94 84.5h2.12M85.94 84.5h1.12M87.94 84.5h1.12M95.94 84.5h1.12M54.94 85.5h1.12M57.94 85.5h1.12M67.94 85.5h1.12M72.94 85.5h1.12M88.94 85.5h1.12M96.94 85.5h1.12M54.94 86.5h3.12M86.94 86.5h2.12M96.94 86.5h2.12M54.94 87.5h2.12M61.94 87.5h2.12M70.94 87.5h1.12M90.94 87.5h1.12M97.94 87.5h1.12M55.94 88.5h1.12M70.94 88.5h1.12M89.94 88.5h1.12M3.94 89.5h1.12M12.94 89.5h1.12M14.94 89.5h1.12M53.94 89.5h1.12M83.94 89.5h1.12M0 90.5h3.06M3.94 91.5h2.12M9.94 91.5h1.12M12.94 91.5h1.12M.94 92.5h1.12M60.94 92.5h1.12M64.94 92.5h2.12M10.94 93.5h1.12M68.94 93.5h1.12M0 94.5h1.06M11.94 94.5h1.12M58.94 94.5h1.12M10.94 95.5h1.12M59.94 95.5h1.12M4.94 96.5h1.12M11.94 96.5h2.12M64.94 96.5h1.12M79.94 96.5h1.12M3.94 97.5h2.12M7.94 97.5h1.12M10.94 97.5h1.12M12.94 97.5h1.12M62.94 97.5h1.12M65.94 97.5h1.12M3.94 98.5h2.12M8.94 98.5h1.12M50.94 98.5h1.12M60.94 98.5h1.12M62.94 98.5h1.12M64.94 98.5h1.12M76.94 98.5h1.12M8.94 99.5h1.12M62.94 99.5h1.12M75.94 99.5h1.12"/>
<path stroke="#1aacdd" d="M.94 .5h1.12M2.94 .5h1.12M8.94 .5h1.12M14.94 .5h1.12M50.94 .5h2.12M74.94 .5h3.12M96.94 .5h1.12M1.94 1.5h1.12M5.94 1.5h1.12M7.94 1.5h3.12M12.94 1.5h1.12M14.94 1.5h1.12M50.94 1.5h1.12M94.94 1.5h1.12M5.94 2.5h1.12M10.94 2.5h1.12M16.94 2.5h1.12M51.94 2.5h1.12M86.94 2.5h1.12M93.94 2.5h2.12M2.94 3.5h1.12M12.94 3.5h2.12M52.94 3.5h1.12M68.94 3.5h1.12M94.94 3.5h1.12M3.94 4.5h1.12M11.94 4.5h1.12M13.94 4.5h1.12M68.94 4.5h1.12M83.94 4.5h1.12M18.94 5.5h1.12M97.94 5.5h1.12M2.94 6.5h1.12M74.94 6.5h2.12M78.94 6.5h1.12M80.94 6.5h1.12M82.94 6.5h1.12M86.94 6.5h1.12M97.94 6.5h1.12M6.94 7.5h1.12M73.94 7.5h1.12M75.94 7.5h1.12M86.94 7.5h1.12M93.94 7.5h1.12M95.94 7.5h1.12M6.94 8.5h1.12M20.94 8.5h1.12M71.94 8.5h1.12M74.94 8.5h2.12M85.94 8.5h2.12M93.94 8.5h1.12M21.94 9.5h1.12M68.94 9.5h1.12M71.94 9.5h1.12M76.94 9.5h1.12M86.94 9.5h1.12M88.94 9.5h1.12M95.94 9.5h1.12M18.94 10.5h1.12M21.94 10.5h1.12M74.94 10.5h1.12M77.94 10.5h1.12M89.94 10.5h1.12M93.94 10.5h1.12M98.94 10.5h1.06M19.94 11.5h1.12M52.94 11.5h1.12M72.94 11.5h1.12M75.94 11.5h2.12M89.94 11.5h1.12M92.94 11.5h2.12M17.94 12.5h2.12M75.94 12.5h1.12M82.94 12.5h1.12M84.94 12.5h1.12M89.94 12.5h1.12M19.94 13.5h1.12M57.94 13.5h1.12M72.94 13.5h1.12M77.94 13.5h1.12M96.94 13.5h1.12M17.94 14.5h1.12M20.94 14.5h1.12M69.94 14.5h1.12M74.94 14.5h2.12M81.94 14.5h1.12M21.94 15.5h1.12M60.94 15.5h1.12M65.94 15.5h1.12M74.94 15.5h1.12M82.94 15.5h1.12M17.94 16.5h1.12M57.94 16.5h1.12M62.94 16.5h2.12M68.94 16.5h1.12M75.94 16.5h1.12M86.94 16.5h1.12M19.94 17.5h2.12M23.94 17.5h1.12M58.94 17.5h1.12M63.94 17.5h2.12M68.94 17.5h1.12M72.94 17.5h1.12M87.94 17.5h1.12M97.94 17.5h1.12M18.94 18.5h1.12M22.94 18.5h1.12M52.94 18.5h1.12M58.94 18.5h1.12M62.94 18.5h1.12M76.94 18.5h1.12M88.94 18.5h1.12M90.94 18.5h2.12M94.94 18.5h1.12M18.94 19.5h2.12M52.94 19.5h1.12M58.94 19.5h1.12M63.94 19.5h1.12M72.94 19.5h1.12M92.94 19.5h1.12M97.94 19.5h1.12M19.94 20.5h1.12M22.94 20.5h1.12M50.94 20.5h1.12M55.94 20.5h1.12M65.94 20.5h1.12M73.94 20.5h1.12M91.94 20.5h1.12M94.94 20.5h1.12M53.94 21.5h1.12M73.94 21.5h1.12M76.94 21.5h1.12M17.94 22.5h1.12M50.94 22.5h1.12M64.94 22.5h1.12M93.94 22.5h1.12M98.94 22.5h1.06M63.94 23.5h3.12M70.94 23.5h1.12M93.94 23.5h1.12M96.94 23.5h2.12M63.94 24.5h2.12M70.94 24.5h1.12M92.94 24.5h1.12M94.94 24.5h1.12M98.94 24.5h1.06M50.94 25.5h3.12M60.94 25.5h1.12M64.94 25.5h1.12M93.94 25.5h1.12M96.94 25.5h1.12M98.94 25.5h1.06M16.94 26.5h1.12M67.94 26.5h1.12M69.94 26.5h1.12M73.94 26.5h1.12M97.94 26.5h2.06M1.94 27.5h1.12M7.94 27.5h1.12M16.94 27.5h1.12M53.94 27.5h1.12M62.94 27.5h1.12M94.94 27.5h2.12M97.94 27.5h2.06M20.94 28.5h1.12M22.94 28.5h1.12M59.94 28.5h1.12M72.94 28.5h1.12M93.94 28.5h3.12M97.94 28.5h1.12M59.94 29.5h1.12M72.94 29.5h2.12M96.94 29.5h3.06M50.94 30.5h1.12M96.94 30.5h2.12M3.94 31.5h1.12M18.94 31.5h1.12M70.94 31.5h1.12M4.94 32.5h1.12M19.94 32.5h1.12M21.94 32.5h2.12M60.94 32.5h1.12M73.94 32.5h1.12M0 33.5h1.06M22.94 33.5h1.12M50.94 33.5h1.12M54.94 33.5h2.12M58.94 33.5h2.12M19.94 34.5h1.12M21.94 34.5h1.12M60.94 34.5h1.12M76.94 34.5h1.12M83.94 34.5h1.12M89.94 34.5h1.12M96.94 34.5h1.12M0 35.5h1.06M1.94 35.5h1.12M19.94 35.5h1.12M22.94 35.5h1.12M51.94 35.5h1.12M58.94 35.5h3.12M79.94 35.5h1.12M85.94 35.5h1.12M89.94 35.5h1.12M15.94 36.5h1.12M21.94 36.5h1.12M50.94 36.5h1.12M81.94 36.5h2.12M84.94 36.5h1.12M14.94 37.5h1.12M7.94 38.5h1.12M22.94 38.5h1.12M62.94 38.5h1.12M82.94 38.5h1.12M88.94 38.5h1.12M14.94 39.5h1.12M22.94 39.5h1.12M52.94 39.5h1.12M56.94 39.5h2.12M63.94 39.5h1.12M97.94 39.5h1.12M11.94 40.5h1.12M19.94 40.5h1.12M51.94 40.5h2.12M57.94 40.5h1.12M64.94 40.5h1.12M70.94 40.5h1.12M74.94 40.5h1.12M91.94 40.5h1.12M20.94 41.5h1.12M22.94 41.5h1.12M53.94 41.5h1.12M56.94 41.5h1.12M64.94 41.5h2.12M50.94 42.5h3.12M55.94 42.5h1.12M67.94 42.5h1.12M72.94 42.5h1.12M53.94 43.5h1.12M56.94 43.5h1.12M60.94 43.5h1.12M66.94 43.5h1.12M76.94 43.5h1.12M19.94 44.5h1.12M61.94 44.5h1.12M88.94 44.5h1.12M93.94 44.5h1.12M96.94 44.5h2.12M22.94 45.5h1.12M58.94 45.5h1.12M66.94 45.5h1.12M70.94 45.5h2.12M8.94 46.5h1.12M71.94 46.5h1.12M88.94 46.5h2.12M21.94 47.5h1.12M52.94 47.5h1.12M90.94 47.5h1.12M92.94 47.5h1.12M73.94 48.5h1.12M81.94 48.5h1.12M20.94 49.5h2.12M64.94 49.5h1.12M61.94 50.5h1.12M72.94 50.5h1.12M17.94 51.5h1.12M53.94 51.5h1.12M73.94 51.5h1.12M67.94 52.5h2.12M59.94 53.5h1.12M62.94 53.5h1.12M67.94 53.5h1.12M75.94 53.5h1.12M54.94 54.5h1.12M78.94 54.5h1.12M2.94 55.5h1.12M20.94 55.5h1.12M57.94 55.5h1.12M69.94 55.5h1.12M73.94 55.5h1.12M0 56.5h1.06M3.94 56.5h1.12M58.94 56.5h1.12M69.94 56.5h1.12M71.94 56.5h1.12M0 57.5h1.06M1.94 57.5h1.12M5.94 57.5h1.12M7.94 57.5h1.12M59.94 57.5h1.12M65.94 57.5h1.12M68.94 57.5h1.12M71.94 57.5h3.12M1.94 58.5h1.12M3.94 58.5h1.12M5.94 58.5h1.12M11.94 58.5h1.12M58.94 58.5h1.12M70.94 58.5h1.12M73.94 58.5h1.12M0 59.5h1.06M7.94 59.5h5.12M15.94 59.5h1.12M60.94 59.5h1.12M72.94 59.5h1.12M77.94 59.5h1.12M2.94 60.5h1.12M9.94 60.5h2.12M57.94 60.5h1.12M59.94 60.5h2.12M74.94 60.5h2.12M77.94 60.5h1.12M84.94 60.5h1.12M59.94 61.5h1.12M71.94 61.5h1.12M73.94 61.5h1.12M78.94 61.5h1.12M2.94 62.5h1.12M71.94 62.5h2.12M76.94 62.5h1.12M79.94 62.5h1.12M9.94 63.5h1.12M72.94 63.5h1.12M78.94 63.5h1.12M80.94 63.5h1.12M87.94 63.5h1.12M98.94 63.5h1.06M3.94 64.5h1.12M9.94 64.5h1.12M75.94 64.5h1.12M79.94 64.5h1.12M84.94 64.5h1.12M4.94 65.5h2.12M9.94 65.5h1.12M74.94 65.5h2.12M78.94 65.5h2.12M85.94 65.5h1.12M3.94 66.5h2.12M70.94 66.5h1.12M79.94 66.5h2.12M95.94 66.5h1.12M53.94 67.5h1.12M69.94 67.5h1.12M71.94 67.5h1.12M95.94 67.5h1.12M2.94 68.5h1.12M53.94 68.5h1.12M70.94 68.5h2.12M2.94 69.5h1.12M55.94 69.5h1.12M69.94 69.5h1.12M71.94 69.5h1.12M82.94 69.5h1.12M53.94 70.5h1.12M73.94 70.5h1.12M89.94 70.5h1.12M3.94 71.5h2.12M53.94 71.5h2.12M61.94 71.5h1.12M63.94 71.5h1.12M77.94 71.5h1.12M79.94 71.5h3.12M83.94 71.5h3.12M90.94 71.5h1.12M3.94 72.5h1.12M5.94 72.5h1.12M7.94 72.5h1.12M61.94 72.5h1.12M73.94 72.5h2.12M83.94 72.5h1.12M91.94 72.5h1.12M3.94 73.5h1.12M61.94 73.5h1.12M70.94 73.5h1.12M73.94 73.5h1.12M75.94 73.5h1.12M78.94 73.5h1.12M80.94 73.5h3.12M84.94 73.5h1.12M4.94 74.5h1.12M62.94 74.5h1.12M71.94 74.5h3.12M93.94 74.5h1.12M4.94 75.5h1.12M73.94 75.5h1.12M87.94 75.5h1.12M3.94 76.5h1.12M58.94 76.5h1.12M60.94 76.5h1.12M62.94 76.5h1.12M69.94 76.5h1.12M72.94 76.5h1.12M75.94 76.5h1.12M85.94 76.5h3.12M89.94 76.5h1.12M95.94 76.5h1.12M52.94 77.5h1.12M73.94 77.5h1.12M77.94 77.5h1.12M80.94 77.5h1.12M87.94 77.5h1.12M47.94 78.5h1.12M49.94 78.5h1.12M54.94 78.5h1.12M56.94 78.5h2.12M61.94 78.5h1.12M69.94 78.5h1.12M72.94 78.5h1.12M77.94 78.5h1.12M86.94 78.5h1.12M46.94 79.5h1.12M54.94 79.5h3.12M59.94 79.5h1.12M61.94 79.5h1.12M80.94 79.5h2.12M92.94 79.5h1.12M46.94 80.5h1.12M55.94 80.5h4.12M60.94 80.5h4.12M70.94 80.5h1.12M78.94 80.5h1.12M82.94 80.5h1.12M53.94 81.5h1.12M57.94 81.5h1.12M70.94 81.5h1.12M75.94 81.5h1.12M77.94 81.5h1.12M88.94 81.5h1.12M92.94 81.5h2.12M0 82.5h1.06M52.94 82.5h1.12M55.94 82.5h3.12M59.94 82.5h1.12M64.94 82.5h1.12M70.94 82.5h1.12M72.94 82.5h1.12M78.94 82.5h1.12M82.94 82.5h1.12M89.94 82.5h2.12M96.94 82.5h1.12M51.94 83.5h1.12M61.94 83.5h1.12M64.94 83.5h1.12M68.94 83.5h1.12M94.94 83.5h1.12M51.94 84.5h3.12M57.94 84.5h1.12M65.94 84.5h1.12M70.94 84.5h1.12M78.94 84.5h1.12M84.94 84.5h1.12M93.94 84.5h1.12M0 85.5h1.06M10.94 85.5h1.12M53.94 85.5h1.12M68.94 85.5h3.12M81.94 85.5h1.12M83.94 85.5h2.12M0 86.5h1.06M53.94 86.5h1.12M64.94 86.5h1.12M71.94 86.5h2.12M82.94 86.5h1.12M85.94 86.5h1.12M88.94 86.5h2.12M98.94 86.5h1.06M0 87.5h2.06M12.94 87.5h1.12M52.94 87.5h1.12M57.94 87.5h1.12M63.94 87.5h1.12M98.94 87.5h1.06M1.94 88.5h1.12M54.94 88.5h1.12M59.94 88.5h1.12M83.94 88.5h1.12M88.94 88.5h1.12M1.94 89.5h1.12M63.94 89.5h1.12M65.94 89.5h1.12M80.94 89.5h2.12M4.94 90.5h1.12M63.94 90.5h1.12M68.94 90.5h1.12M80.94 90.5h1.12M.94 91.5h1.12M14.94 91.5h2.12M65.94 91.5h2.12M80.94 91.5h2.12M5.94 92.5h1.12M8.94 92.5h1.12M11.94 92.5h1.12M79.94 92.5h2.12M0 93.5h1.06M11.94 93.5h1.12M57.94 93.5h1.12M59.94 93.5h1.12M67.94 93.5h1.12M5.94 94.5h1.12M12.94 94.5h2.12M57.94 94.5h1.12M60.94 94.5h1.12M78.94 94.5h1.12M82.94 94.5h1.12M12.94 95.5h1.12M14.94 95.5h1.12M57.94 95.5h2.12M80.94 95.5h1.12M5.94 96.5h1.12M9.94 96.5h2.12M13.94 96.5h1.12M58.94 96.5h2.12M70.94 96.5h1.12M75.94 96.5h1.12M83.94 96.5h1.12M6.94 97.5h1.12M9.94 97.5h1.12M11.94 97.5h1.12M57.94 97.5h1.12M60.94 97.5h1.12M63.94 97.5h1.12M67.94 97.5h1.12M71.94 97.5h1.12M73.94 97.5h1.12M75.94 97.5h3.12M83.94 97.5h1.12M6.94 98.5h2.12M14.94 98.5h1.12M58.94 98.5h1.12M61.94 98.5h1.12M73.94 98.5h1.12M75.94 98.5h1.12M77.94 98.5h1.12M79.94 98.5h1.12M81.94 98.5h1.12M6.94 99.5h1.12M61.94 99.5h1.12M63.94 99.5h1.12M77.94 99.5h5.12"/>
<path stroke="#07b5d0" d="M3.94 .5h1.12M5.94 .5h2.12M9.94 .5h1.12M12.94 .5h1.12M17.94 .5h1.12M0 1.5h1.06M2.94 1.5h1.12M11.94 1.5h1.12M13.94 1.5h1.12M15.94 1.5h1.12M11.94 2.5h2.12M95.94 2.5h1.12M3.94 3.5h1.12M7.94 3.5h1.12M10.94 3.5h2.12M15.94 3.5h1.12M17.94 3.5h1.12M59.94 3.5h1.12M2.94 4.5h1.12M12.94 4.5h1.12M15.94 4.5h1.12M17.94 4.5h1.12M59.94 4.5h1.12M5.94 5.5h2.12M12.94 5.5h1.12M16.94 5.5h2.12M5.94 6.5h2.12M18.94 6.5h1.12M52.94 6.5h1.12M64.94 6.5h1.12M73.94 6.5h1.12M2.94 7.5h1.12M5.94 7.5h1.12M20.94 7.5h1.12M94.94 7.5h1.12M2.94 8.5h1.12M7.94 8.5h1.12M21.94 8.5h1.12M65.94 8.5h1.12M76.94 8.5h1.12M78.94 8.5h2.12M94.94 8.5h1.12M11.94 9.5h1.12M78.94 9.5h1.12M52.94 10.5h1.12M71.94 10.5h1.12M73.94 10.5h1.12M78.94 10.5h1.12M94.94 10.5h1.12M96.94 10.5h2.12M14.94 11.5h1.12M18.94 11.5h1.12M20.94 11.5h1.12M68.94 11.5h1.12M95.94 11.5h1.12M97.94 11.5h2.06M20.94 12.5h1.12M68.94 12.5h1.12M72.94 12.5h2.12M85.94 12.5h1.12M91.94 12.5h1.12M20.94 13.5h1.12M22.94 13.5h2.12M69.94 13.5h1.12M73.94 13.5h1.12M78.94 13.5h1.12M81.94 13.5h1.12M83.94 13.5h1.12M19.94 14.5h1.12M22.94 14.5h1.12M57.94 14.5h1.12M73.94 14.5h1.12M76.94 14.5h2.12M82.94 14.5h1.12M86.94 14.5h2.12M23.94 15.5h1.12M57.94 15.5h1.12M64.94 15.5h1.12M68.94 15.5h2.12M72.94 15.5h2.12M75.94 15.5h1.12M59.94 16.5h2.12M69.94 16.5h1.12M76.94 16.5h1.12M84.94 16.5h1.12M21.94 17.5h1.12M61.94 17.5h2.12M20.94 18.5h1.12M59.94 18.5h3.12M63.94 18.5h2.12M69.94 18.5h1.12M77.94 18.5h1.12M22.94 19.5h1.12M74.94 19.5h1.12M94.94 19.5h1.12M58.94 20.5h1.12M60.94 20.5h1.12M64.94 20.5h1.12M66.94 20.5h1.12M72.94 20.5h1.12M74.94 20.5h1.12M76.94 20.5h1.12M90.94 20.5h1.12M62.94 21.5h1.12M77.94 21.5h2.12M18.94 22.5h1.12M20.94 22.5h1.12M62.94 22.5h2.12M76.94 22.5h1.12M91.94 22.5h1.12M18.94 23.5h1.12M50.94 23.5h1.12M60.94 23.5h1.12M69.94 23.5h1.12M76.94 23.5h2.12M91.94 23.5h1.12M95.94 23.5h1.12M60.94 24.5h1.12M66.94 24.5h2.12M69.94 24.5h1.12M96.94 24.5h1.12M16.94 25.5h1.12M22.94 25.5h1.12M63.94 25.5h1.12M65.94 25.5h1.12M67.94 25.5h1.12M76.94 25.5h1.12M17.94 26.5h1.12M19.94 26.5h1.12M21.94 26.5h1.12M50.94 26.5h1.12M53.94 26.5h1.12M61.94 26.5h2.12M70.94 26.5h1.12M76.94 26.5h1.12M80.94 26.5h1.12M90.94 26.5h1.12M96.94 26.5h1.12M5.94 27.5h2.12M21.94 27.5h2.12M60.94 27.5h1.12M76.94 27.5h1.12M78.94 27.5h2.12M96.94 27.5h1.12M0 28.5h1.06M19.94 28.5h1.12M50.94 28.5h1.12M79.94 28.5h1.12M82.94 28.5h1.12M91.94 28.5h1.12M96.94 28.5h1.12M9.94 29.5h1.12M15.94 29.5h1.12M51.94 29.5h1.12M81.94 29.5h2.12M87.94 29.5h1.12M8.94 30.5h1.12M17.94 30.5h1.12M51.94 30.5h1.12M70.94 30.5h1.12M6.94 31.5h1.12M17.94 31.5h1.12M20.94 31.5h1.12M60.94 31.5h2.12M73.94 31.5h1.12M95.94 31.5h2.12M98.94 31.5h1.06M9.94 32.5h2.12M59.94 32.5h1.12M89.94 32.5h1.12M94.94 32.5h1.12M19.94 33.5h1.12M61.94 33.5h1.12M70.94 33.5h1.12M79.94 33.5h1.12M89.94 33.5h1.12M95.94 33.5h1.12M.94 34.5h2.12M20.94 34.5h1.12M54.94 34.5h1.12M79.94 34.5h1.12M94.94 34.5h1.12M17.94 35.5h2.12M21.94 35.5h1.12M69.94 35.5h1.12M84.94 35.5h1.12M86.94 35.5h1.12M95.94 35.5h1.12M16.94 36.5h1.12M18.94 36.5h1.12M20.94 36.5h1.12M22.94 36.5h1.12M51.94 36.5h1.12M78.94 36.5h1.12M80.94 36.5h1.12M86.94 36.5h1.12M3.94 37.5h1.12M18.94 37.5h2.12M74.94 37.5h1.12M84.94 37.5h1.12M86.94 37.5h1.12M94.94 37.5h2.12M15.94 38.5h1.12M20.94 38.5h1.12M61.94 38.5h1.12M83.94 38.5h2.12M87.94 38.5h1.12M95.94 38.5h2.12M3.94 39.5h1.12M21.94 39.5h1.12M54.94 39.5h1.12M74.94 39.5h1.12M88.94 39.5h1.12M91.94 39.5h1.12M95.94 39.5h1.12M21.94 40.5h1.12M50.94 40.5h1.12M53.94 40.5h1.12M55.94 40.5h1.12M58.94 40.5h1.12M62.94 40.5h1.12M71.94 40.5h1.12M84.94 40.5h1.12M87.94 40.5h1.12M93.94 40.5h1.12M21.94 41.5h1.12M51.94 41.5h1.12M59.94 41.5h1.12M72.94 41.5h1.12M83.94 41.5h1.12M21.94 42.5h2.12M60.94 42.5h1.12M69.94 42.5h1.12M92.94 42.5h1.12M61.94 43.5h1.12M64.94 43.5h1.12M69.94 43.5h1.12M83.94 43.5h1.12M90.94 43.5h1.12M97.94 43.5h2.06M20.94 44.5h1.12M57.94 44.5h1.12M63.94 44.5h5.12M71.94 44.5h1.12M87.94 44.5h1.12M55.94 45.5h1.12M61.94 45.5h2.12M64.94 45.5h2.12M69.94 45.5h1.12M87.94 45.5h1.12M91.94 45.5h1.12M64.94 46.5h1.12M66.94 46.5h1.12M53.94 47.5h1.12M58.94 47.5h1.12M64.94 47.5h1.12M66.94 47.5h1.12M71.94 47.5h1.12M87.94 47.5h1.12M91.94 47.5h1.12M98.94 47.5h1.06M19.94 48.5h1.12M63.94 48.5h1.12M71.94 48.5h1.12M88.94 48.5h1.12M98.94 48.5h1.06M60.94 49.5h1.12M70.94 49.5h1.12M82.94 49.5h1.12M21.94 50.5h1.12M53.94 50.5h1.12M59.94 50.5h1.12M73.94 50.5h1.12M16.94 51.5h1.12M19.94 51.5h1.12M61.94 51.5h1.12M71.94 51.5h1.12M74.94 51.5h1.12M11.94 52.5h1.12M13.94 52.5h1.12M19.94 52.5h2.12M58.94 52.5h1.12M61.94 52.5h1.12M69.94 52.5h1.12M72.94 52.5h2.12M87.94 52.5h1.12M61.94 53.5h1.12M69.94 53.5h1.12M72.94 53.5h1.12M74.94 53.5h1.12M57.94 54.5h5.12M69.94 54.5h1.12M73.94 54.5h1.12M.94 55.5h1.12M3.94 55.5h1.12M58.94 55.5h1.12M64.94 55.5h1.12M71.94 55.5h2.12M76.94 55.5h1.12M6.94 56.5h1.12M57.94 56.5h1.12M61.94 56.5h1.12M73.94 56.5h1.12M3.94 57.5h1.12M74.94 57.5h1.12M0 58.5h2.06M65.94 58.5h1.12M68.94 58.5h1.12M71.94 58.5h1.12M4.94 59.5h2.12M67.94 59.5h1.12M70.94 59.5h2.12M74.94 59.5h2.12M64.94 60.5h1.12M70.94 60.5h1.12M3.94 61.5h1.12M9.94 61.5h1.12M70.94 61.5h1.12M70.94 62.5h1.12M85.94 62.5h1.12M4.94 63.5h1.12M69.94 63.5h1.12M96.94 63.5h1.12M4.94 64.5h1.12M73.94 64.5h1.12M87.94 64.5h1.12M72.94 65.5h1.12M2.94 66.5h1.12M55.94 66.5h1.12M57.94 66.5h1.12M59.94 66.5h1.12M72.94 66.5h2.12M75.94 66.5h1.12M78.94 66.5h1.12M88.94 66.5h1.12M94.94 66.5h1.12M2.94 67.5h2.12M60.94 67.5h1.12M72.94 67.5h2.12M76.94 67.5h3.12M94.94 67.5h1.12M72.94 68.5h1.12M75.94 68.5h1.12M78.94 68.5h1.12M80.94 68.5h1.12M73.94 69.5h5.12M80.94 69.5h1.12M83.94 69.5h2.12M54.94 70.5h1.12M74.94 70.5h2.12M78.94 70.5h1.12M82.94 70.5h1.12M69.94 71.5h1.12M74.94 71.5h1.12M78.94 71.5h1.12M82.94 71.5h1.12M2.94 72.5h1.12M52.94 72.5h2.12M63.94 72.5h1.12M69.94 72.5h2.12M77.94 72.5h1.12M79.94 72.5h4.12M84.94 72.5h1.12M4.94 73.5h1.12M54.94 73.5h1.12M71.94 73.5h1.12M76.94 73.5h1.12M79.94 73.5h1.12M85.94 73.5h1.12M51.94 74.5h1.12M53.94 74.5h2.12M60.94 74.5h1.12M67.94 74.5h2.12M70.94 74.5h1.12M75.94 74.5h1.12M77.94 74.5h1.12M82.94 74.5h1.12M84.94 74.5h1.12M86.94 74.5h3.12M52.94 75.5h1.12M59.94 75.5h1.12M65.94 75.5h1.12M67.94 75.5h3.12M72.94 75.5h1.12M77.94 75.5h2.12M86.94 75.5h1.12M50.94 76.5h1.12M52.94 76.5h1.12M57.94 76.5h1.12M68.94 76.5h1.12M70.94 76.5h2.12M74.94 76.5h1.12M76.94 76.5h1.12M78.94 76.5h1.12M80.94 76.5h1.12M82.94 76.5h1.12M88.94 76.5h1.12M90.94 76.5h1.12M48.94 77.5h1.12M57.94 77.5h1.12M63.94 77.5h1.12M66.94 77.5h3.12M70.94 77.5h1.12M78.94 77.5h1.12M86.94 77.5h1.12M91.94 77.5h1.12M55.94 78.5h1.12M58.94 78.5h1.12M62.94 78.5h1.12M64.94 78.5h1.12M70.94 78.5h1.12M84.94 78.5h2.12M91.94 78.5h2.12M48.94 79.5h2.12M57.94 79.5h1.12M63.94 79.5h1.12M68.94 79.5h2.12M79.94 79.5h1.12M82.94 79.5h2.12M47.94 80.5h1.12M67.94 80.5h1.12M69.94 80.5h1.12M72.94 80.5h2.12M80.94 80.5h1.12M48.94 81.5h1.12M54.94 81.5h1.12M56.94 81.5h1.12M73.94 81.5h2.12M78.94 81.5h3.12M82.94 81.5h1.12M91.94 81.5h1.12M95.94 81.5h1.12M48.94 82.5h1.12M58.94 82.5h1.12M60.94 82.5h2.12M71.94 82.5h1.12M73.94 82.5h1.12M80.94 82.5h2.12M83.94 82.5h3.12M91.94 82.5h1.12M95.94 82.5h1.12M50.94 83.5h1.12M52.94 83.5h2.12M58.94 83.5h1.12M60.94 83.5h1.12M63.94 83.5h1.12M81.94 83.5h1.12M83.94 83.5h1.12M93.94 83.5h1.12M95.94 83.5h1.12M50.94 84.5h1.12M54.94 84.5h1.12M75.94 84.5h1.12M82.94 84.5h2.12M52.94 85.5h1.12M65.94 85.5h1.12M71.94 85.5h1.12M75.94 85.5h1.12M80.94 85.5h1.12M82.94 85.5h1.12M93.94 85.5h1.12M95.94 85.5h1.12M98.94 85.5h1.06M8.94 86.5h2.12M65.94 86.5h1.12M67.94 86.5h1.12M69.94 86.5h2.12M84.94 86.5h1.12M95.94 86.5h1.12M6.94 87.5h1.12M10.94 87.5h2.12M69.94 87.5h1.12M96.94 87.5h1.12M.94 88.5h1.12M4.94 88.5h1.12M11.94 88.5h3.12M53.94 88.5h1.12M61.94 88.5h1.12M66.94 88.5h1.12M69.94 88.5h1.12M82.94 88.5h1.12M84.94 88.5h1.12M87.94 88.5h1.12M90.94 88.5h3.12M9.94 89.5h1.12M58.94 89.5h1.12M60.94 89.5h1.12M64.94 89.5h1.12M82.94 89.5h1.12M84.94 89.5h1.12M91.94 89.5h1.12M96.94 89.5h1.12M5.94 90.5h1.12M14.94 90.5h1.12M58.94 90.5h3.12M64.94 90.5h2.12M69.94 90.5h1.12M96.94 90.5h1.12M0 91.5h1.06M5.94 91.5h1.12M62.94 91.5h3.12M68.94 91.5h2.12M79.94 91.5h1.12M0 92.5h1.06M4.94 92.5h1.12M13.94 92.5h1.12M57.94 92.5h1.12M66.94 92.5h1.12M68.94 92.5h1.12M5.94 93.5h2.12M12.94 93.5h1.12M65.94 93.5h1.12M69.94 93.5h1.12M79.94 93.5h2.12M59.94 94.5h1.12M69.94 94.5h1.12M79.94 94.5h2.12M85.94 94.5h1.12M5.94 95.5h1.12M7.94 95.5h1.12M60.94 95.5h1.12M78.94 95.5h2.12M83.94 95.5h1.12M6.94 96.5h1.12M15.94 96.5h1.12M61.94 96.5h1.12M66.94 96.5h1.12M74.94 96.5h1.12M76.94 96.5h1.12M78.94 96.5h1.12M80.94 96.5h1.12M82.94 96.5h1.12M84.94 96.5h1.12M5.94 97.5h1.12M15.94 97.5h1.12M51.94 97.5h1.12M59.94 97.5h1.12M61.94 97.5h1.12M68.94 97.5h3.12M78.94 97.5h1.12M81.94 97.5h1.12M9.94 98.5h2.12M12.94 98.5h2.12M66.94 98.5h2.12M4.94 99.5h2.12M14.94 99.5h2.12M59.94 99.5h2.12M67.94 99.5h1.12M70.94 99.5h1.12M76.94 99.5h1.12M98.94 99.5h1.06"/>
<path stroke="#05bbc1" d="M1.94 .5h1.12M7.94 .5h1.12M13.94 .5h1.12M15.94 .5h1.12M18.94 .5h1.12M53.94 .5h1.12M3.94 1.5h2.12M6.94 1.5h1.12M10.94 1.5h1.12M16.94 1.5h3.12M51.94 1.5h1.12M58.94 1.5h1.12M0 2.5h1.06M3.94 2.5h2.12M8.94 2.5h2.12M14.94 2.5h2.12M17.94 2.5h1.12M53.94 2.5h1.12M59.94 2.5h1.12M4.94 3.5h3.12M8.94 3.5h1.12M14.94 3.5h1.12M6.94 4.5h1.12M10.94 4.5h1.12M14.94 4.5h1.12M4.94 5.5h1.12M13.94 5.5h1.12M59.94 5.5h1.12M4.94 6.5h1.12M7.94 6.5h1.12M12.94 6.5h1.12M60.94 6.5h2.12M63.94 6.5h1.12M77.94 6.5h1.12M79.94 6.5h1.12M4.94 7.5h1.12M7.94 7.5h1.12M60.94 7.5h1.12M74.94 7.5h1.12M77.94 7.5h2.12M80.94 7.5h1.12M82.94 7.5h2.12M85.94 7.5h1.12M3.94 8.5h1.12M83.94 8.5h1.12M95.94 8.5h1.12M19.94 9.5h1.12M59.94 9.5h2.12M85.94 9.5h1.12M68.94 10.5h1.12M79.94 10.5h1.12M87.94 10.5h1.12M95.94 10.5h1.12M15.94 11.5h1.12M17.94 11.5h1.12M21.94 11.5h1.12M23.94 11.5h1.12M73.94 11.5h1.12M77.94 11.5h2.12M86.94 11.5h1.12M16.94 12.5h1.12M19.94 12.5h1.12M53.94 12.5h1.12M58.94 12.5h1.12M74.94 12.5h1.12M76.94 12.5h3.12M56.94 13.5h1.12M80.94 13.5h1.12M82.94 13.5h1.12M84.94 13.5h3.12M58.94 14.5h2.12M78.94 14.5h1.12M80.94 14.5h1.12M84.94 14.5h2.12M18.94 15.5h1.12M61.94 15.5h1.12M63.94 15.5h1.12M66.94 15.5h2.12M83.94 15.5h1.12M86.94 15.5h1.12M24.94 16.5h1.12M74.94 16.5h1.12M81.94 16.5h1.12M85.94 16.5h1.12M87.94 16.5h1.12M18.94 17.5h1.12M60.94 17.5h1.12M67.94 17.5h1.12M73.94 17.5h1.12M21.94 18.5h1.12M65.94 18.5h2.12M68.94 18.5h1.12M21.94 19.5h1.12M61.94 19.5h2.12M64.94 19.5h3.12M69.94 19.5h1.12M75.94 19.5h4.12M80.94 19.5h1.12M21.94 20.5h1.12M52.94 20.5h2.12M63.94 20.5h1.12M75.94 20.5h1.12M78.94 20.5h1.12M80.94 20.5h1.12M19.94 21.5h1.12M21.94 21.5h1.12M60.94 21.5h1.12M63.94 21.5h4.12M72.94 21.5h1.12M79.94 21.5h1.12M19.94 22.5h1.12M21.94 22.5h1.12M49.94 22.5h1.12M59.94 22.5h1.12M65.94 22.5h2.12M69.94 22.5h1.12M77.94 22.5h2.12M17.94 23.5h1.12M19.94 23.5h1.12M22.94 23.5h1.12M49.94 23.5h1.12M61.94 23.5h1.12M66.94 23.5h1.12M68.94 23.5h1.12M78.94 23.5h1.12M14.94 24.5h1.12M22.94 24.5h1.12M61.94 24.5h2.12M68.94 24.5h1.12M76.94 24.5h5.12M93.94 24.5h1.12M95.94 24.5h1.12M97.94 24.5h1.12M17.94 25.5h1.12M61.94 25.5h1.12M66.94 25.5h1.12M69.94 25.5h1.12M78.94 25.5h2.12M11.94 26.5h1.12M18.94 26.5h1.12M20.94 26.5h1.12M22.94 26.5h1.12M65.94 26.5h2.12M68.94 26.5h1.12M77.94 26.5h3.12M17.94 27.5h3.12M50.94 27.5h1.12M61.94 27.5h1.12M69.94 27.5h2.12M72.94 27.5h2.12M80.94 27.5h2.12M88.94 27.5h1.12M1.94 28.5h2.12M9.94 28.5h1.12M17.94 28.5h1.12M21.94 28.5h1.12M53.94 28.5h1.12M60.94 28.5h1.12M70.94 28.5h1.12M73.94 28.5h1.12M77.94 28.5h1.12M81.94 28.5h1.12M92.94 28.5h1.12M0 29.5h1.06M1.94 29.5h1.12M8.94 29.5h1.12M16.94 29.5h5.12M52.94 29.5h1.12M60.94 29.5h1.12M70.94 29.5h1.12M83.94 29.5h2.12M86.94 29.5h1.12M0 30.5h1.06M2.94 30.5h1.12M7.94 30.5h1.12M10.94 30.5h1.12M18.94 30.5h1.12M69.94 30.5h1.12M73.94 30.5h1.12M77.94 30.5h1.12M95.94 30.5h1.12M98.94 30.5h1.06M4.94 31.5h1.12M9.94 31.5h1.12M11.94 31.5h2.12M19.94 31.5h1.12M89.94 31.5h3.12M5.94 32.5h1.12M7.94 32.5h1.12M11.94 32.5h1.12M17.94 32.5h2.12M20.94 32.5h1.12M70.94 32.5h1.12M77.94 32.5h2.12M88.94 32.5h1.12M96.94 32.5h1.12M5.94 33.5h3.12M18.94 33.5h1.12M20.94 33.5h1.12M73.94 33.5h1.12M78.94 33.5h1.12M91.94 33.5h1.12M94.94 33.5h1.12M4.94 34.5h1.12M18.94 34.5h1.12M61.94 34.5h1.12M69.94 34.5h2.12M84.94 34.5h1.12M86.94 34.5h1.12M90.94 34.5h3.12M97.94 34.5h1.12M3.94 35.5h1.12M73.94 35.5h1.12M76.94 35.5h1.12M80.94 35.5h2.12M87.94 35.5h1.12M90.94 35.5h1.12M93.94 35.5h1.12M96.94 35.5h1.12M2.94 36.5h1.12M17.94 36.5h1.12M19.94 36.5h1.12M58.94 36.5h1.12M60.94 36.5h2.12M73.94 36.5h1.12M95.94 36.5h2.12M4.94 37.5h1.12M10.94 37.5h1.12M15.94 37.5h1.12M17.94 37.5h1.12M20.94 37.5h1.12M60.94 37.5h1.12M62.94 37.5h1.12M78.94 37.5h1.12M82.94 37.5h1.12M85.94 37.5h1.12M92.94 37.5h1.12M96.94 37.5h2.12M16.94 38.5h1.12M19.94 38.5h1.12M58.94 38.5h3.12M69.94 38.5h3.12M91.94 38.5h1.12M11.94 39.5h1.12M13.94 39.5h1.12M16.94 39.5h1.12M19.94 39.5h2.12M55.94 39.5h1.12M59.94 39.5h2.12M70.94 39.5h1.12M77.94 39.5h1.12M86.94 39.5h1.12M96.94 39.5h1.12M60.94 40.5h1.12M63.94 40.5h1.12M65.94 40.5h1.12M69.94 40.5h1.12M77.94 40.5h1.12M85.94 40.5h1.12M92.94 40.5h1.12M95.94 40.5h1.12M60.94 41.5h2.12M69.94 41.5h2.12M85.94 41.5h1.12M92.94 41.5h1.12M20.94 42.5h1.12M56.94 42.5h1.12M62.94 42.5h2.12M65.94 42.5h2.12M83.94 42.5h2.12M89.94 42.5h1.12M98.94 42.5h1.06M21.94 43.5h1.12M63.94 43.5h1.12M67.94 43.5h2.12M70.94 43.5h1.12M96.94 43.5h1.12M62.94 44.5h1.12M86.94 44.5h1.12M20.94 45.5h2.12M63.94 45.5h1.12M82.94 45.5h1.12M94.94 45.5h1.12M58.94 46.5h1.12M62.94 46.5h2.12M65.94 46.5h1.12M85.94 46.5h1.12M87.94 46.5h1.12M96.94 46.5h1.12M59.94 47.5h1.12M65.94 47.5h1.12M82.94 47.5h2.12M88.94 47.5h1.12M53.94 48.5h1.12M55.94 48.5h1.12M59.94 48.5h1.12M87.94 48.5h1.12M89.94 48.5h1.12M91.94 48.5h2.12M65.94 49.5h1.12M69.94 49.5h1.12M81.94 49.5h1.12M85.94 49.5h1.12M88.94 49.5h1.12M98.94 49.5h1.06M60.94 50.5h1.12M65.94 50.5h1.12M69.94 50.5h3.12M81.94 50.5h1.12M84.94 50.5h1.12M93.94 50.5h1.12M15.94 51.5h1.12M18.94 51.5h1.12M20.94 51.5h1.12M69.94 51.5h1.12M83.94 51.5h1.12M86.94 51.5h1.12M12.94 52.5h1.12M60.94 52.5h1.12M74.94 52.5h1.12M85.94 52.5h1.12M12.94 53.5h1.12M70.94 53.5h2.12M73.94 53.5h1.12M80.94 53.5h1.12M86.94 53.5h3.12M6.94 54.5h1.12M62.94 54.5h2.12M71.94 54.5h2.12M56.94 55.5h1.12M59.94 55.5h3.12M70.94 55.5h1.12M.94 56.5h1.12M55.94 56.5h1.12M59.94 56.5h1.12M64.94 56.5h1.12M74.94 56.5h1.12M76.94 56.5h1.12M90.94 56.5h1.12M98.94 56.5h1.06M.94 57.5h1.12M2.94 57.5h1.12M60.94 57.5h1.12M64.94 57.5h1.12M10.94 58.5h1.12M12.94 58.5h1.12M56.94 58.5h2.12M59.94 58.5h1.12M64.94 58.5h1.12M69.94 58.5h1.12M72.94 58.5h1.12M84.94 58.5h1.12M57.94 59.5h3.12M61.94 59.5h1.12M66.94 59.5h1.12M68.94 59.5h1.12M3.94 60.5h1.12M7.94 60.5h2.12M61.94 60.5h1.12M65.94 60.5h1.12M67.94 60.5h1.12M69.94 60.5h1.12M60.94 61.5h1.12M62.94 61.5h1.12M65.94 61.5h1.12M72.94 61.5h1.12M93.94 61.5h1.12M3.94 62.5h2.12M8.94 62.5h1.12M61.94 62.5h1.12M65.94 62.5h2.12M69.94 62.5h1.12M87.94 62.5h1.12M95.94 62.5h1.12M3.94 63.5h1.12M6.94 63.5h1.12M8.94 63.5h1.12M61.94 63.5h1.12M65.94 63.5h1.12M70.94 63.5h1.12M77.94 63.5h1.12M86.94 63.5h1.12M97.94 63.5h1.12M2.94 64.5h1.12M80.94 64.5h1.12M80.94 65.5h2.12M94.94 65.5h1.12M96.94 65.5h1.12M5.94 66.5h1.12M9.94 66.5h1.12M56.94 66.5h1.12M58.94 66.5h1.12M61.94 66.5h1.12M69.94 66.5h1.12M5.94 67.5h1.12M54.94 67.5h1.12M56.94 67.5h2.12M59.94 67.5h1.12M61.94 67.5h1.12M75.94 67.5h1.12M96.94 67.5h1.12M8.94 68.5h1.12M54.94 68.5h1.12M59.94 68.5h2.12M68.94 68.5h1.12M73.94 68.5h1.12M79.94 68.5h1.12M81.94 68.5h2.12M54.94 69.5h1.12M68.94 69.5h1.12M70.94 69.5h1.12M79.94 69.5h1.12M81.94 69.5h1.12M95.94 69.5h1.12M8.94 70.5h1.12M61.94 70.5h3.12M68.94 70.5h2.12M80.94 70.5h1.12M5.94 71.5h1.12M52.94 71.5h1.12M68.94 71.5h1.12M75.94 71.5h1.12M4.94 72.5h1.12M54.94 72.5h1.12M68.94 72.5h1.12M75.94 72.5h1.12M93.94 72.5h1.12M6.94 73.5h1.12M74.94 73.5h1.12M5.94 74.5h1.12M55.94 74.5h1.12M64.94 74.5h1.12M69.94 74.5h1.12M74.94 74.5h1.12M78.94 74.5h4.12M85.94 74.5h1.12M51.94 75.5h1.12M53.94 75.5h1.12M55.94 75.5h1.12M70.94 75.5h1.12M76.94 75.5h1.12M79.94 75.5h4.12M89.94 75.5h1.12M51.94 76.5h1.12M67.94 76.5h1.12M73.94 76.5h1.12M79.94 76.5h1.12M81.94 76.5h1.12M97.94 76.5h1.12M50.94 77.5h2.12M54.94 77.5h1.12M56.94 77.5h1.12M62.94 77.5h1.12M69.94 77.5h1.12M98.94 77.5h1.06M48.94 78.5h1.12M63.94 78.5h1.12M80.94 78.5h1.12M62.94 79.5h1.12M67.94 79.5h1.12M78.94 79.5h1.12M84.94 79.5h1.12M88.94 79.5h1.12M90.94 79.5h1.12M48.94 80.5h1.12M65.94 80.5h1.12M68.94 80.5h1.12M71.94 80.5h1.12M79.94 80.5h1.12M86.94 80.5h2.12M89.94 80.5h1.12M92.94 80.5h2.12M61.94 81.5h1.12M71.94 81.5h2.12M83.94 81.5h3.12M89.94 81.5h1.12M94.94 81.5h1.12M49.94 82.5h1.12M62.94 82.5h2.12M74.94 82.5h1.12M76.94 82.5h1.12M94.94 82.5h1.12M59.94 83.5h1.12M62.94 83.5h1.12M74.94 83.5h1.12M78.94 83.5h3.12M82.94 83.5h1.12M84.94 83.5h2.12M92.94 83.5h1.12M74.94 84.5h1.12M76.94 84.5h1.12M92.94 84.5h1.12M97.94 84.5h1.12M50.94 85.5h2.12M66.94 85.5h1.12M74.94 85.5h1.12M77.94 85.5h1.12M97.94 85.5h1.12M.94 86.5h1.12M10.94 86.5h1.12M51.94 86.5h2.12M66.94 86.5h1.12M80.94 86.5h2.12M83.94 86.5h1.12M94.94 86.5h1.12M56.94 87.5h1.12M68.94 87.5h1.12M71.94 87.5h1.12M82.94 87.5h1.12M84.94 87.5h1.12M86.94 87.5h2.12M95.94 87.5h1.12M0 88.5h1.06M57.94 88.5h2.12M85.94 88.5h2.12M95.94 88.5h2.12M0 89.5h2.06M54.94 89.5h2.12M59.94 89.5h1.12M62.94 89.5h1.12M66.94 89.5h2.12M69.94 89.5h1.12M85.94 89.5h1.12M87.94 89.5h1.12M89.94 89.5h1.12M93.94 89.5h2.12M97.94 89.5h1.12M6.94 90.5h1.12M53.94 90.5h1.12M57.94 90.5h1.12M62.94 90.5h1.12M66.94 90.5h1.12M83.94 90.5h2.12M98.94 90.5h1.06M6.94 91.5h1.12M8.94 91.5h1.12M57.94 91.5h1.12M59.94 91.5h1.12M83.94 91.5h1.12M86.94 91.5h1.12M96.94 91.5h1.12M6.94 92.5h1.12M9.94 92.5h1.12M15.94 92.5h1.12M58.94 92.5h1.12M69.94 92.5h1.12M81.94 92.5h1.12M96.94 92.5h1.12M7.94 93.5h2.12M15.94 93.5h1.12M60.94 93.5h1.12M64.94 93.5h1.12M66.94 93.5h1.12M78.94 93.5h1.12M81.94 93.5h1.12M83.94 93.5h1.12M6.94 94.5h2.12M9.94 94.5h2.12M61.94 94.5h1.12M64.94 94.5h1.12M66.94 94.5h3.12M81.94 94.5h1.12M84.94 94.5h1.12M86.94 94.5h1.12M88.94 94.5h2.12M6.94 95.5h1.12M8.94 95.5h1.12M65.94 95.5h1.12M69.94 95.5h3.12M76.94 95.5h2.12M81.94 95.5h1.12M84.94 95.5h1.12M7.94 96.5h2.12M57.94 96.5h1.12M60.94 96.5h1.12M63.94 96.5h1.12M65.94 96.5h1.12M67.94 96.5h1.12M69.94 96.5h1.12M73.94 96.5h1.12M77.94 96.5h1.12M81.94 96.5h1.12M89.94 96.5h1.12M13.94 97.5h1.12M52.94 97.5h1.12M58.94 97.5h1.12M66.94 97.5h1.12M82.94 97.5h1.12M85.94 97.5h1.12M5.94 98.5h1.12M11.94 98.5h1.12M59.94 98.5h1.12M65.94 98.5h1.12M71.94 98.5h1.12M78.94 98.5h1.12M82.94 98.5h2.12M92.94 98.5h1.12M9.94 99.5h4.12M57.94 99.5h1.12M64.94 99.5h2.12M82.94 99.5h1.12M97.94 99.5h1.12"/>
<path stroke="#20c1b1" d="M16.94 .5h1.12M52.94 .5h1.12M55.94 .5h1.12M57.94 .5h1.12M60.94 .5h1.12M59.94 1.5h2.12M13.94 2.5h1.12M18.94 2.5h1.12M60.94 2.5h1.12M67.94 2.5h1.12M9.94 3.5h1.12M16.94 3.5h1.12M18.94 3.5h1.12M58.94 3.5h1.12M4.94 4.5h2.12M7.94 4.5h1.12M9.94 4.5h1.12M60.94 4.5h1.12M10.94 5.5h2.12M14.94 5.5h1.12M60.94 5.5h1.12M63.94 5.5h1.12M3.94 6.5h1.12M13.94 6.5h1.12M17.94 6.5h1.12M19.94 6.5h1.12M62.94 6.5h1.12M67.94 6.5h1.12M76.94 6.5h1.12M81.94 6.5h1.12M84.94 6.5h2.12M18.94 7.5h2.12M76.94 7.5h1.12M81.94 7.5h1.12M84.94 7.5h1.12M8.94 8.5h1.12M13.94 8.5h1.12M19.94 8.5h1.12M60.94 8.5h2.12M77.94 8.5h1.12M84.94 8.5h1.12M52.94 9.5h1.12M61.94 9.5h1.12M84.94 9.5h1.12M94.94 9.5h1.12M60.94 10.5h2.12M80.94 10.5h1.12M86.94 10.5h1.12M22.94 11.5h1.12M58.94 11.5h1.12M60.94 11.5h1.12M74.94 11.5h1.12M79.94 11.5h1.12M83.94 11.5h1.12M85.94 11.5h1.12M22.94 12.5h2.12M57.94 12.5h1.12M59.94 12.5h1.12M79.94 12.5h1.12M86.94 12.5h1.12M21.94 13.5h1.12M60.94 13.5h1.12M74.94 13.5h3.12M79.94 13.5h1.12M18.94 14.5h1.12M61.94 14.5h2.12M64.94 14.5h1.12M79.94 14.5h1.12M83.94 14.5h1.12M62.94 15.5h1.12M76.94 15.5h2.12M79.94 15.5h1.12M81.94 15.5h1.12M84.94 15.5h1.12M18.94 16.5h1.12M58.94 16.5h1.12M65.94 16.5h1.12M67.94 16.5h1.12M72.94 16.5h2.12M83.94 16.5h1.12M59.94 17.5h1.12M65.94 17.5h1.12M76.94 17.5h3.12M81.94 17.5h2.12M84.94 17.5h1.12M86.94 17.5h1.12M80.94 18.5h2.12M53.94 19.5h1.12M59.94 19.5h2.12M67.94 19.5h1.12M79.94 19.5h1.12M89.94 19.5h1.12M20.94 20.5h1.12M59.94 20.5h1.12M61.94 20.5h2.12M67.94 20.5h3.12M79.94 20.5h1.12M20.94 21.5h1.12M22.94 21.5h1.12M61.94 21.5h1.12M67.94 21.5h3.12M80.94 21.5h1.12M90.94 21.5h1.12M60.94 22.5h1.12M68.94 22.5h1.12M72.94 22.5h1.12M16.94 23.5h1.12M21.94 23.5h1.12M59.94 23.5h1.12M62.94 23.5h1.12M67.94 23.5h1.12M79.94 23.5h1.12M17.94 24.5h3.12M21.94 24.5h1.12M65.94 24.5h1.12M90.94 24.5h2.12M18.94 25.5h3.12M62.94 25.5h1.12M72.94 25.5h2.12M80.94 25.5h1.12M90.94 25.5h1.12M15.94 26.5h1.12M63.94 26.5h2.12M81.94 26.5h1.12M3.94 27.5h2.12M15.94 27.5h1.12M20.94 27.5h1.12M67.94 27.5h2.12M77.94 27.5h1.12M82.94 27.5h1.12M8.94 28.5h1.12M15.94 28.5h2.12M18.94 28.5h1.12M61.94 28.5h2.12M80.94 28.5h1.12M87.94 28.5h1.12M89.94 28.5h1.12M.94 29.5h1.12M5.94 29.5h2.12M14.94 29.5h1.12M21.94 29.5h1.12M61.94 29.5h1.12M77.94 29.5h2.12M85.94 29.5h1.12M91.94 29.5h1.12M93.94 29.5h1.12M95.94 29.5h1.12M1.94 30.5h1.12M5.94 30.5h1.12M9.94 30.5h1.12M12.94 30.5h1.12M16.94 30.5h1.12M20.94 30.5h1.12M59.94 30.5h2.12M79.94 30.5h1.12M88.94 30.5h1.12M90.94 30.5h1.12M93.94 30.5h2.12M7.94 31.5h2.12M10.94 31.5h1.12M13.94 31.5h1.12M62.94 31.5h1.12M69.94 31.5h1.12M77.94 31.5h3.12M88.94 31.5h1.12M93.94 31.5h2.12M97.94 31.5h1.12M0 32.5h1.06M2.94 32.5h1.12M6.94 32.5h1.12M8.94 32.5h1.12M12.94 32.5h1.12M61.94 32.5h2.12M66.94 32.5h4.12M92.94 32.5h1.12M95.94 32.5h1.12M97.94 32.5h1.12M.94 33.5h1.12M3.94 33.5h2.12M8.94 33.5h2.12M11.94 33.5h1.12M17.94 33.5h1.12M60.94 33.5h1.12M62.94 33.5h1.12M64.94 33.5h2.12M67.94 33.5h1.12M77.94 33.5h1.12M96.94 33.5h2.12M2.94 34.5h2.12M6.94 34.5h1.12M12.94 34.5h1.12M17.94 34.5h1.12M59.94 34.5h1.12M67.94 34.5h2.12M73.94 34.5h1.12M77.94 34.5h1.12M85.94 34.5h1.12M93.94 34.5h1.12M98.94 34.5h1.06M2.94 35.5h1.12M4.94 35.5h1.12M8.94 35.5h1.12M12.94 35.5h2.12M61.94 35.5h1.12M68.94 35.5h1.12M70.94 35.5h1.12M78.94 35.5h1.12M82.94 35.5h2.12M92.94 35.5h1.12M94.94 35.5h1.12M8.94 36.5h1.12M14.94 36.5h1.12M68.94 36.5h2.12M71.94 36.5h1.12M79.94 36.5h1.12M83.94 36.5h1.12M85.94 36.5h1.12M87.94 36.5h1.12M90.94 36.5h1.12M97.94 36.5h1.12M12.94 37.5h2.12M16.94 37.5h1.12M22.94 37.5h1.12M58.94 37.5h1.12M61.94 37.5h1.12M63.94 37.5h1.12M70.94 37.5h2.12M81.94 37.5h1.12M87.94 37.5h1.12M90.94 37.5h1.12M8.94 38.5h3.12M13.94 38.5h2.12M18.94 38.5h1.12M21.94 38.5h1.12M68.94 38.5h1.12M74.94 38.5h1.12M85.94 38.5h2.12M94.94 38.5h1.12M10.94 39.5h1.12M12.94 39.5h1.12M17.94 39.5h2.12M61.94 39.5h2.12M64.94 39.5h1.12M69.94 39.5h1.12M92.94 39.5h1.12M94.94 39.5h1.12M59.94 40.5h1.12M61.94 40.5h1.12M83.94 40.5h1.12M86.94 40.5h1.12M88.94 40.5h1.12M94.94 40.5h1.12M98.94 40.5h1.06M62.94 41.5h2.12M71.94 41.5h1.12M84.94 41.5h1.12M86.94 41.5h2.12M94.94 41.5h1.12M96.94 41.5h1.12M98.94 41.5h1.06M57.94 42.5h1.12M61.94 42.5h1.12M64.94 42.5h1.12M70.94 42.5h2.12M87.94 42.5h2.12M97.94 42.5h1.12M62.94 43.5h1.12M85.94 43.5h2.12M88.94 43.5h1.12M93.94 43.5h1.12M95.94 43.5h1.12M21.94 44.5h1.12M68.94 44.5h1.12M70.94 44.5h1.12M83.94 44.5h1.12M89.94 44.5h2.12M94.94 44.5h1.12M57.94 45.5h1.12M67.94 45.5h1.12M77.94 45.5h1.12M83.94 45.5h2.12M88.94 45.5h3.12M96.94 45.5h1.12M98.94 45.5h1.06M54.94 46.5h2.12M81.94 46.5h1.12M83.94 46.5h2.12M91.94 46.5h1.12M94.94 46.5h1.12M57.94 47.5h1.12M63.94 47.5h1.12M70.94 47.5h1.12M78.94 47.5h1.12M81.94 47.5h1.12M84.94 47.5h1.12M89.94 47.5h1.12M94.94 47.5h2.12M64.94 48.5h3.12M69.94 48.5h2.12M82.94 48.5h1.12M86.94 48.5h1.12M90.94 48.5h1.12M53.94 49.5h1.12M87.94 49.5h1.12M90.94 49.5h2.12M66.94 50.5h1.12M68.94 50.5h1.12M78.94 50.5h1.12M82.94 50.5h2.12M88.94 50.5h1.12M98.94 50.5h1.06M54.94 51.5h1.12M59.94 51.5h2.12M65.94 51.5h4.12M72.94 51.5h1.12M84.94 51.5h1.12M88.94 51.5h1.12M94.94 51.5h1.12M14.94 52.5h1.12M54.94 52.5h1.12M59.94 52.5h1.12M66.94 52.5h1.12M88.94 52.5h2.12M94.94 52.5h2.12M6.94 53.5h2.12M13.94 53.5h1.12M20.94 53.5h1.12M58.94 53.5h1.12M60.94 53.5h1.12M85.94 53.5h1.12M94.94 53.5h1.12M17.94 54.5h1.12M56.94 54.5h1.12M70.94 54.5h1.12M74.94 54.5h2.12M81.94 54.5h1.12M89.94 54.5h1.12M94.94 54.5h1.12M1.94 55.5h1.12M55.94 55.5h1.12M62.94 55.5h1.12M89.94 55.5h1.12M91.94 55.5h2.12M97.94 55.5h1.12M1.94 56.5h2.12M15.94 56.5h1.12M19.94 56.5h1.12M60.94 56.5h1.12M75.94 56.5h1.12M87.94 56.5h2.12M91.94 56.5h2.12M94.94 56.5h4.12M9.94 57.5h1.12M57.94 57.5h1.12M75.94 57.5h2.12M88.94 57.5h1.12M90.94 57.5h2.12M98.94 57.5h1.06M15.94 58.5h1.12M61.94 58.5h1.12M74.94 58.5h3.12M83.94 58.5h1.12M95.94 58.5h1.12M14.94 59.5h1.12M62.94 59.5h4.12M69.94 59.5h1.12M83.94 59.5h3.12M93.94 59.5h1.12M4.94 60.5h1.12M63.94 60.5h1.12M66.94 60.5h1.12M68.94 60.5h1.12M71.94 60.5h1.12M8.94 61.5h1.12M61.94 61.5h1.12M69.94 61.5h1.12M86.94 61.5h1.12M95.94 61.5h1.12M7.94 62.5h1.12M68.94 62.5h1.12M90.94 62.5h1.12M94.94 62.5h1.12M96.94 62.5h1.12M98.94 62.5h1.06M62.94 63.5h1.12M95.94 63.5h1.12M8.94 64.5h1.12M64.94 64.5h1.12M69.94 64.5h1.12M77.94 64.5h2.12M88.94 64.5h1.12M91.94 64.5h1.12M94.94 64.5h3.12M69.94 65.5h1.12M77.94 65.5h1.12M88.94 65.5h1.12M95.94 65.5h1.12M62.94 66.5h1.12M76.94 66.5h2.12M81.94 66.5h1.12M92.94 66.5h2.12M96.94 66.5h3.06M8.94 67.5h1.12M58.94 67.5h1.12M62.94 67.5h1.12M74.94 67.5h1.12M81.94 67.5h1.12M97.94 67.5h2.06M3.94 68.5h1.12M55.94 68.5h1.12M61.94 68.5h1.12M95.94 68.5h2.12M3.94 69.5h2.12M56.94 69.5h1.12M78.94 69.5h1.12M91.94 69.5h1.12M5.94 70.5h1.12M52.94 70.5h1.12M77.94 70.5h1.12M81.94 70.5h1.12M76.94 71.5h1.12M6.94 72.5h1.12M55.94 72.5h1.12M59.94 72.5h1.12M86.94 72.5h1.12M5.94 73.5h1.12M51.94 73.5h1.12M64.94 73.5h1.12M68.94 73.5h1.12M87.94 73.5h1.12M66.94 74.5h1.12M57.94 75.5h2.12M53.94 76.5h2.12M77.94 76.5h1.12M98.94 76.5h1.06M49.94 77.5h1.12M53.94 77.5h1.12M72.94 77.5h1.12M81.94 77.5h1.12M88.94 77.5h3.12M66.94 78.5h2.12M89.94 78.5h2.12M70.94 79.5h1.12M85.94 79.5h3.12M89.94 79.5h1.12M81.94 80.5h1.12M83.94 80.5h3.12M88.94 80.5h1.12M91.94 80.5h1.12M47.94 81.5h1.12M55.94 81.5h1.12M59.94 81.5h1.12M90.94 81.5h1.12M75.94 82.5h1.12M77.94 82.5h1.12M73.94 83.5h1.12M75.94 83.5h2.12M96.94 83.5h1.12M77.94 84.5h1.12M80.94 84.5h2.12M96.94 84.5h1.12M73.94 85.5h1.12M76.94 85.5h1.12M79.94 85.5h1.12M78.94 86.5h2.12M64.94 87.5h4.12M83.94 87.5h1.12M85.94 87.5h1.12M5.94 88.5h1.12M10.94 88.5h1.12M56.94 88.5h1.12M60.94 88.5h1.12M64.94 88.5h2.12M67.94 88.5h2.12M71.94 88.5h1.12M81.94 88.5h1.12M97.94 88.5h2.06M4.94 89.5h1.12M13.94 89.5h1.12M70.94 89.5h1.12M72.94 89.5h1.12M86.94 89.5h1.12M88.94 89.5h1.12M90.94 89.5h1.12M8.94 90.5h1.12M13.94 90.5h1.12M61.94 90.5h1.12M67.94 90.5h1.12M70.94 90.5h1.12M82.94 90.5h1.12M85.94 90.5h1.12M97.94 90.5h1.12M56.94 91.5h1.12M58.94 91.5h1.12M60.94 91.5h2.12M67.94 91.5h1.12M70.94 91.5h1.12M82.94 91.5h1.12M84.94 91.5h1.12M95.94 91.5h1.12M7.94 92.5h1.12M12.94 92.5h1.12M14.94 92.5h1.12M56.94 92.5h1.12M62.94 92.5h2.12M67.94 92.5h1.12M82.94 92.5h1.12M84.94 92.5h2.12M87.94 92.5h1.12M9.94 93.5h1.12M13.94 93.5h2.12M58.94 93.5h1.12M61.94 93.5h1.12M70.94 93.5h1.12M82.94 93.5h1.12M85.94 93.5h1.12M94.94 93.5h1.12M97.94 93.5h1.12M8.94 94.5h1.12M14.94 94.5h1.12M62.94 94.5h1.12M70.94 94.5h1.12M90.94 94.5h1.12M9.94 95.5h1.12M13.94 95.5h1.12M51.94 95.5h1.12M61.94 95.5h1.12M66.94 95.5h3.12M82.94 95.5h1.12M90.94 95.5h1.12M95.94 95.5h1.12M62.94 96.5h1.12M71.94 96.5h2.12M86.94 96.5h1.12M91.94 96.5h1.12M8.94 97.5h1.12M53.94 97.5h1.12M72.94 97.5h1.12M84.94 97.5h1.12M86.94 97.5h1.12M98.94 97.5h1.06M52.94 98.5h2.12M56.94 98.5h2.12M72.94 98.5h1.12M84.94 98.5h2.12M96.94 98.5h1.12M98.94 98.5h1.06M13.94 99.5h1.12M50.94 99.5h2.12M56.94 99.5h1.12M58.94 99.5h1.12M66.94 99.5h1.12M68.94 99.5h1.12M71.94 99.5h1.12M73.94 99.5h2.12M83.94 99.5h1.12M85.94 99.5h1.12M92.94 99.5h1.12"/>
<path stroke="#31c6a0" d="M10.94 .5h2.12M54.94 .5h1.12M59.94 .5h1.12M53.94 1.5h1.12M56.94 1.5h1.12M67.94 1.5h1.12M7.94 2.5h1.12M52.94 2.5h1.12M58.94 2.5h1.12M66.94 2.5h1.12M53.94 3.5h1.12M65.94 3.5h3.12M8.94 4.5h1.12M16.94 4.5h1.12M58.94 4.5h1.12M7.94 5.5h3.12M61.94 5.5h1.12M65.94 5.5h1.12M67.94 5.5h1.12M16.94 6.5h1.12M59.94 6.5h1.12M15.94 7.5h3.12M61.94 7.5h1.12M63.94 7.5h3.12M9.94 8.5h1.12M11.94 8.5h1.12M67.94 8.5h1.12M80.94 8.5h1.12M79.94 9.5h1.12M83.94 9.5h1.12M13.94 10.5h1.12M17.94 10.5h1.12M62.94 10.5h1.12M85.94 10.5h1.12M53.94 11.5h1.12M57.94 11.5h1.12M61.94 11.5h1.12M63.94 11.5h1.12M80.94 11.5h1.12M82.94 11.5h1.12M84.94 11.5h1.12M21.94 12.5h1.12M60.94 12.5h1.12M63.94 12.5h3.12M80.94 12.5h2.12M23.94 14.5h1.12M60.94 14.5h1.12M68.94 14.5h1.12M58.94 15.5h2.12M78.94 15.5h1.12M80.94 15.5h1.12M64.94 16.5h1.12M80.94 16.5h1.12M82.94 16.5h1.12M66.94 17.5h1.12M67.94 18.5h1.12M78.94 18.5h1.12M82.94 18.5h1.12M81.94 19.5h1.12M87.94 19.5h2.12M81.94 20.5h1.12M87.94 20.5h1.12M89.94 20.5h1.12M59.94 21.5h1.12M86.94 21.5h1.12M22.94 22.5h1.12M61.94 22.5h1.12M67.94 22.5h1.12M79.94 22.5h1.12M82.94 22.5h1.12M85.94 22.5h1.12M15.94 23.5h1.12M20.94 23.5h1.12M72.94 23.5h1.12M80.94 23.5h1.12M84.94 23.5h1.12M13.94 25.5h1.12M21.94 25.5h1.12M77.94 25.5h1.12M86.94 25.5h1.12M51.94 26.5h2.12M72.94 26.5h1.12M82.94 26.5h1.12M87.94 26.5h3.12M63.94 27.5h2.12M66.94 27.5h1.12M89.94 27.5h1.12M.94 28.5h1.12M5.94 28.5h2.12M10.94 28.5h1.12M13.94 28.5h1.12M51.94 28.5h2.12M66.94 28.5h3.12M78.94 28.5h1.12M83.94 28.5h4.12M90.94 28.5h1.12M10.94 29.5h1.12M62.94 29.5h1.12M79.94 29.5h2.12M88.94 29.5h2.12M.94 30.5h1.12M4.94 30.5h1.12M6.94 30.5h1.12M11.94 30.5h1.12M13.94 30.5h1.12M21.94 30.5h1.12M61.94 30.5h1.12M63.94 30.5h1.12M78.94 30.5h1.12M89.94 30.5h1.12M91.94 30.5h2.12M.94 31.5h3.12M14.94 31.5h1.12M21.94 31.5h1.12M65.94 31.5h1.12M68.94 31.5h1.12M92.94 31.5h1.12M1.94 32.5h1.12M3.94 32.5h1.12M13.94 32.5h2.12M16.94 32.5h1.12M65.94 32.5h1.12M79.94 32.5h1.12M90.94 32.5h2.12M93.94 32.5h1.12M98.94 32.5h1.06M1.94 33.5h2.12M10.94 33.5h1.12M13.94 33.5h4.12M63.94 33.5h1.12M66.94 33.5h1.12M68.94 33.5h2.12M90.94 33.5h1.12M92.94 33.5h2.12M98.94 33.5h1.06M5.94 34.5h1.12M7.94 34.5h1.12M9.94 34.5h1.12M15.94 34.5h1.12M64.94 34.5h1.12M78.94 34.5h1.12M95.94 34.5h1.12M9.94 35.5h1.12M15.94 35.5h2.12M63.94 35.5h1.12M66.94 35.5h2.12M91.94 35.5h1.12M97.94 35.5h1.12M3.94 36.5h1.12M10.94 36.5h1.12M13.94 36.5h1.12M59.94 36.5h1.12M64.94 36.5h1.12M70.94 36.5h1.12M77.94 36.5h1.12M93.94 36.5h2.12M98.94 36.5h1.06M5.94 37.5h1.12M7.94 37.5h1.12M9.94 37.5h1.12M11.94 37.5h1.12M21.94 37.5h1.12M64.94 37.5h1.12M68.94 37.5h2.12M79.94 37.5h2.12M93.94 37.5h1.12M63.94 38.5h2.12M77.94 38.5h1.12M93.94 38.5h1.12M98.94 38.5h1.06M65.94 39.5h1.12M68.94 39.5h1.12M83.94 39.5h3.12M87.94 39.5h1.12M93.94 39.5h1.12M98.94 39.5h1.06M57.94 41.5h1.12M66.94 41.5h1.12M77.94 41.5h1.12M82.94 41.5h1.12M88.94 41.5h1.12M93.94 41.5h1.12M68.94 42.5h1.12M77.94 42.5h1.12M85.94 42.5h1.12M95.94 42.5h2.12M22.94 43.5h1.12M71.94 43.5h1.12M77.94 43.5h1.12M84.94 43.5h1.12M87.94 43.5h1.12M89.94 43.5h1.12M69.94 44.5h1.12M84.94 44.5h2.12M68.94 45.5h1.12M86.94 45.5h1.12M95.94 45.5h1.12M97.94 45.5h1.12M56.94 46.5h1.12M70.94 46.5h1.12M78.94 46.5h1.12M82.94 46.5h1.12M86.94 46.5h1.12M54.94 47.5h2.12M80.94 47.5h1.12M96.94 47.5h1.12M57.94 48.5h1.12M78.94 48.5h1.12M80.94 48.5h1.12M83.94 48.5h3.12M95.94 48.5h1.12M97.94 48.5h1.12M54.94 49.5h1.12M56.94 49.5h1.12M58.94 49.5h2.12M66.94 49.5h1.12M83.94 49.5h2.12M86.94 49.5h1.12M95.94 49.5h1.12M97.94 49.5h1.12M67.94 50.5h1.12M85.94 50.5h2.12M90.94 50.5h2.12M70.94 51.5h1.12M80.94 51.5h2.12M85.94 51.5h1.12M89.94 51.5h5.12M97.94 51.5h1.12M16.94 52.5h1.12M18.94 52.5h1.12M56.94 52.5h1.12M70.94 52.5h2.12M79.94 52.5h1.12M86.94 52.5h1.12M93.94 52.5h1.12M96.94 52.5h3.06M17.94 53.5h2.12M54.94 53.5h2.12M89.94 53.5h3.12M93.94 53.5h1.12M16.94 54.5h1.12M18.94 54.5h2.12M80.94 54.5h1.12M86.94 54.5h1.12M88.94 54.5h1.12M92.94 54.5h1.12M96.94 54.5h1.12M6.94 55.5h1.12M15.94 55.5h1.12M81.94 55.5h1.12M88.94 55.5h1.12M90.94 55.5h1.12M93.94 55.5h1.12M96.94 55.5h1.12M11.94 56.5h1.12M56.94 56.5h1.12M62.94 56.5h1.12M83.94 56.5h4.12M93.94 56.5h1.12M8.94 57.5h1.12M10.94 57.5h1.12M12.94 57.5h1.12M18.94 57.5h1.12M61.94 57.5h3.12M82.94 57.5h2.12M85.94 57.5h1.12M87.94 57.5h1.12M92.94 57.5h2.12M95.94 57.5h1.12M62.94 58.5h1.12M94.94 58.5h1.12M97.94 58.5h1.12M87.94 59.5h1.12M94.94 59.5h1.12M6.94 60.5h1.12M58.94 60.5h1.12M62.94 60.5h1.12M86.94 60.5h2.12M92.94 60.5h1.12M95.94 60.5h1.12M4.94 61.5h2.12M7.94 61.5h1.12M64.94 61.5h1.12M66.94 61.5h2.12M85.94 61.5h1.12M87.94 61.5h1.12M89.94 61.5h1.12M96.94 61.5h3.06M60.94 62.5h1.12M64.94 62.5h1.12M67.94 62.5h1.12M86.94 62.5h1.12M93.94 62.5h1.12M97.94 62.5h1.12M5.94 63.5h1.12M7.94 63.5h1.12M64.94 63.5h1.12M88.94 63.5h4.12M94.94 63.5h1.12M5.94 64.5h1.12M63.94 64.5h1.12M97.94 64.5h1.12M8.94 65.5h1.12M63.94 65.5h1.12M97.94 65.5h1.12M7.94 66.5h1.12M63.94 66.5h1.12M4.94 67.5h1.12M6.94 67.5h1.12M55.94 67.5h1.12M63.94 67.5h1.12M92.94 67.5h2.12M4.94 68.5h3.12M57.94 68.5h1.12M63.94 68.5h1.12M92.94 68.5h2.12M97.94 68.5h1.12M6.94 69.5h1.12M8.94 69.5h1.12M61.94 69.5h2.12M92.94 69.5h1.12M94.94 69.5h1.12M7.94 70.5h1.12M55.94 70.5h2.12M76.94 70.5h1.12M56.94 72.5h1.12M60.94 72.5h1.12M85.94 72.5h1.12M57.94 73.5h2.12M58.94 74.5h2.12M65.94 74.5h1.12M95.94 74.5h1.12M54.94 75.5h1.12M96.94 75.5h1.12M55.94 76.5h2.12M65.94 76.5h2.12M55.94 77.5h1.12M81.94 78.5h1.12M87.94 78.5h2.12M64.94 79.5h2.12M91.94 79.5h1.12M66.94 80.5h1.12M90.94 80.5h1.12M76.94 81.5h1.12M79.94 84.5h1.12M78.94 85.5h1.12M11.94 86.5h1.12M77.94 86.5h1.12M9.94 87.5h1.12M79.94 87.5h3.12M63.94 88.5h1.12M79.94 88.5h1.12M5.94 89.5h1.12M56.94 89.5h2.12M61.94 89.5h1.12M68.94 89.5h1.12M71.94 89.5h1.12M95.94 89.5h1.12M98.94 89.5h1.06M55.94 90.5h2.12M71.94 90.5h1.12M79.94 90.5h1.12M86.94 90.5h7.12M13.94 91.5h1.12M85.94 91.5h1.12M88.94 91.5h2.12M55.94 92.5h1.12M59.94 92.5h1.12M61.94 92.5h1.12M77.94 92.5h2.12M83.94 92.5h1.12M86.94 92.5h1.12M94.94 92.5h2.12M74.94 93.5h1.12M84.94 93.5h1.12M86.94 93.5h3.12M15.94 94.5h1.12M63.94 94.5h1.12M65.94 94.5h1.12M71.94 94.5h1.12M75.94 94.5h1.12M77.94 94.5h1.12M83.94 94.5h1.12M91.94 94.5h1.12M97.94 94.5h1.12M15.94 95.5h1.12M63.94 95.5h2.12M73.94 95.5h3.12M87.94 95.5h3.12M92.94 95.5h2.12M51.94 96.5h1.12M68.94 96.5h1.12M90.94 96.5h1.12M92.94 96.5h3.12M56.94 97.5h1.12M89.94 97.5h1.12M97.94 97.5h1.12M69.94 98.5h2.12M86.94 98.5h1.12M91.94 98.5h1.12M69.94 99.5h1.12M72.94 99.5h1.12M84.94 99.5h1.12M90.94 99.5h1.12M93.94 99.5h1.12M95.94 99.5h2.12"/>
<path stroke="#42ca8c" d="M56.94 .5h1.12M58.94 .5h1.12M61.94 .5h1.12M54.94 1.5h1.12M61.94 1.5h1.12M65.94 2.5h1.12M60.94 3.5h2.12M61.94 4.5h1.12M3.94 5.5h1.12M15.94 5.5h1.12M58.94 5.5h1.12M62.94 5.5h1.12M64.94 5.5h1.12M8.94 6.5h3.12M14.94 6.5h1.12M65.94 6.5h1.12M3.94 7.5h1.12M8.94 7.5h1.12M12.94 7.5h1.12M14.94 7.5h1.12M56.94 7.5h1.12M59.94 7.5h1.12M62.94 7.5h1.12M67.94 7.5h1.12M10.94 8.5h1.12M16.94 8.5h1.12M52.94 8.5h1.12M55.94 8.5h1.12M59.94 8.5h1.12M63.94 8.5h1.12M66.94 8.5h1.12M82.94 8.5h1.12M12.94 9.5h1.12M17.94 9.5h2.12M64.94 9.5h2.12M14.94 10.5h1.12M58.94 10.5h2.12M63.94 10.5h1.12M65.94 10.5h1.12M81.94 10.5h1.12M16.94 11.5h1.12M59.94 11.5h1.12M62.94 11.5h1.12M64.94 11.5h1.12M81.94 11.5h1.12M83.94 12.5h1.12M59.94 13.5h1.12M61.94 13.5h1.12M64.94 13.5h2.12M65.94 14.5h2.12M85.94 15.5h1.12M66.94 16.5h1.12M77.94 16.5h2.12M79.94 17.5h2.12M83.94 17.5h1.12M85.94 17.5h1.12M79.94 18.5h1.12M85.94 18.5h1.12M87.94 18.5h1.12M68.94 19.5h1.12M82.94 20.5h1.12M86.94 20.5h1.12M82.94 21.5h3.12M80.94 22.5h2.12M83.94 22.5h2.12M86.94 22.5h1.12M73.94 23.5h1.12M16.94 24.5h1.12M20.94 24.5h1.12M72.94 24.5h2.12M81.94 25.5h1.12M85.94 25.5h1.12M88.94 25.5h2.12M85.94 26.5h1.12M10.94 27.5h1.12M14.94 27.5h1.12M51.94 27.5h1.12M83.94 27.5h1.12M87.94 27.5h1.12M3.94 28.5h2.12M14.94 28.5h1.12M63.94 28.5h1.12M65.94 28.5h1.12M69.94 28.5h1.12M88.94 28.5h1.12M7.94 29.5h1.12M12.94 29.5h2.12M68.94 29.5h2.12M90.94 29.5h1.12M92.94 29.5h1.12M94.94 29.5h1.12M14.94 30.5h1.12M62.94 30.5h1.12M64.94 30.5h1.12M68.94 30.5h1.12M0 31.5h1.06M5.94 31.5h1.12M16.94 31.5h1.12M63.94 31.5h2.12M66.94 31.5h1.12M.94 32.5h1.12M15.94 32.5h1.12M64.94 32.5h1.12M12.94 33.5h1.12M8.94 34.5h1.12M10.94 34.5h1.12M13.94 34.5h2.12M62.94 34.5h2.12M65.94 34.5h1.12M5.94 35.5h2.12M10.94 35.5h1.12M14.94 35.5h1.12M77.94 35.5h1.12M98.94 35.5h1.06M5.94 36.5h2.12M9.94 36.5h1.12M62.94 36.5h2.12M65.94 36.5h1.12M91.94 36.5h2.12M59.94 37.5h1.12M65.94 37.5h1.12M67.94 37.5h1.12M77.94 37.5h1.12M91.94 37.5h1.12M98.94 37.5h1.06M11.94 38.5h2.12M17.94 38.5h1.12M78.94 38.5h1.12M92.94 38.5h1.12M97.94 38.5h1.12M82.94 39.5h1.12M96.94 40.5h2.12M67.94 41.5h1.12M97.94 41.5h1.12M86.94 42.5h1.12M93.94 42.5h2.12M20.94 43.5h1.12M82.94 43.5h1.12M94.94 43.5h1.12M82.94 44.5h1.12M95.94 44.5h1.12M81.94 45.5h1.12M57.94 46.5h1.12M69.94 46.5h1.12M79.94 46.5h2.12M90.94 46.5h1.12M95.94 46.5h1.12M97.94 46.5h2.06M69.94 47.5h1.12M85.94 47.5h2.12M97.94 47.5h1.12M54.94 48.5h1.12M56.94 48.5h1.12M58.94 48.5h1.12M89.94 49.5h1.12M92.94 49.5h1.12M54.94 50.5h1.12M87.94 50.5h1.12M89.94 50.5h1.12M56.94 51.5h1.12M58.94 51.5h1.12M82.94 51.5h1.12M87.94 51.5h1.12M10.94 52.5h1.12M15.94 52.5h1.12M55.94 52.5h1.12M80.94 52.5h2.12M90.94 52.5h1.12M92.94 52.5h1.12M9.94 53.5h1.12M11.94 53.5h1.12M82.94 53.5h1.12M95.94 53.5h2.12M98.94 53.5h1.06M8.94 54.5h1.12M12.94 54.5h1.12M20.94 54.5h1.12M55.94 54.5h1.12M82.94 54.5h2.12M85.94 54.5h1.12M87.94 54.5h1.12M90.94 54.5h1.12M95.94 54.5h1.12M97.94 54.5h2.06M16.94 55.5h4.12M63.94 55.5h1.12M74.94 55.5h2.12M82.94 55.5h1.12M84.94 55.5h1.12M86.94 55.5h1.12M98.94 55.5h1.06M12.94 56.5h1.12M16.94 56.5h1.12M81.94 56.5h2.12M89.94 56.5h1.12M11.94 57.5h1.12M14.94 57.5h4.12M56.94 57.5h1.12M86.94 57.5h1.12M89.94 57.5h1.12M94.94 57.5h1.12M96.94 57.5h2.12M13.94 58.5h2.12M16.94 58.5h1.12M85.94 58.5h3.12M90.94 58.5h2.12M93.94 58.5h1.12M98.94 58.5h1.06M86.94 59.5h1.12M90.94 59.5h1.12M96.94 59.5h3.06M85.94 60.5h1.12M88.94 60.5h2.12M93.94 60.5h2.12M68.94 61.5h1.12M88.94 61.5h1.12M92.94 61.5h1.12M63.94 62.5h1.12M88.94 62.5h2.12M92.94 62.5h1.12M63.94 63.5h1.12M66.94 63.5h1.12M92.94 63.5h1.12M6.94 64.5h2.12M89.94 64.5h1.12M98.94 64.5h1.06M7.94 65.5h1.12M64.94 65.5h1.12M76.94 65.5h1.12M90.94 65.5h1.12M93.94 65.5h1.12M98.94 65.5h1.06M6.94 66.5h1.12M8.94 66.5h1.12M7.94 67.5h1.12M68.94 67.5h1.12M91.94 67.5h1.12M58.94 68.5h1.12M94.94 68.5h1.12M5.94 69.5h1.12M7.94 69.5h1.12M57.94 69.5h1.12M60.94 69.5h1.12M63.94 69.5h1.12M93.94 69.5h1.12M96.94 69.5h1.12M6.94 70.5h1.12M57.94 70.5h1.12M60.94 70.5h1.12M93.94 70.5h2.12M96.94 70.5h1.12M7.94 71.5h1.12M55.94 71.5h5.12M57.94 72.5h2.12M64.94 72.5h1.12M97.94 72.5h1.12M55.94 73.5h2.12M59.94 73.5h2.12M67.94 73.5h1.12M86.94 73.5h1.12M56.94 74.5h2.12M97.94 74.5h1.12M56.94 75.5h1.12M66.94 75.5h1.12M66.94 79.5h1.12M77.94 83.5h1.12M72.94 87.5h1.12M62.94 88.5h1.12M7.94 89.5h1.12M79.94 89.5h1.12M92.94 89.5h1.12M93.94 90.5h1.12M95.94 90.5h1.12M7.94 91.5h1.12M71.94 91.5h1.12M78.94 91.5h1.12M90.94 91.5h1.12M94.94 91.5h1.12M98.94 91.5h1.06M70.94 92.5h1.12M73.94 92.5h1.12M88.94 92.5h1.12M90.94 92.5h1.12M92.94 92.5h2.12M97.94 92.5h1.12M56.94 93.5h1.12M62.94 93.5h2.12M73.94 93.5h1.12M75.94 93.5h3.12M89.94 93.5h2.12M95.94 93.5h2.12M52.94 94.5h1.12M56.94 94.5h1.12M73.94 94.5h1.12M87.94 94.5h1.12M95.94 94.5h1.12M72.94 95.5h1.12M85.94 95.5h1.12M91.94 95.5h1.12M94.94 95.5h1.12M96.94 95.5h1.12M98.94 95.5h1.06M14.94 96.5h1.12M53.94 96.5h1.12M56.94 96.5h1.12M85.94 96.5h1.12M88.94 96.5h1.12M96.94 96.5h3.06M54.94 97.5h1.12M88.94 97.5h1.12M92.94 97.5h1.12M94.94 97.5h1.12M96.94 97.5h1.12M51.94 98.5h1.12M90.94 98.5h1.12M94.94 98.5h2.12M52.94 99.5h1.12M54.94 99.5h2.12M86.94 99.5h1.12M88.94 99.5h1.12M91.94 99.5h1.12"/>
<path stroke="#5ecc74" d="M62.94 .5h2.12M67.94 .5h1.12M57.94 1.5h1.12M65.94 1.5h2.12M57.94 2.5h1.12M61.94 2.5h1.12M57.94 3.5h1.12M67.94 4.5h1.12M53.94 5.5h1.12M57.94 5.5h1.12M66.94 5.5h1.12M11.94 6.5h1.12M58.94 6.5h1.12M66.94 6.5h1.12M9.94 7.5h1.12M52.94 7.5h1.12M55.94 7.5h1.12M66.94 7.5h1.12M12.94 8.5h1.12M15.94 8.5h1.12M17.94 8.5h2.12M56.94 8.5h1.12M62.94 8.5h1.12M64.94 8.5h1.12M81.94 8.5h1.12M13.94 9.5h1.12M55.94 9.5h2.12M62.94 9.5h1.12M67.94 9.5h1.12M80.94 9.5h1.12M82.94 9.5h1.12M54.94 10.5h2.12M57.94 10.5h1.12M64.94 10.5h1.12M82.94 10.5h3.12M66.94 11.5h1.12M56.94 12.5h1.12M61.94 12.5h2.12M62.94 13.5h1.12M66.94 13.5h1.12M63.94 14.5h1.12M83.94 18.5h1.12M86.94 18.5h1.12M83.94 19.5h2.12M84.94 20.5h2.12M81.94 21.5h1.12M88.94 21.5h1.12M73.94 22.5h1.12M90.94 22.5h1.12M82.94 23.5h2.12M86.94 23.5h1.12M81.94 24.5h3.12M85.94 24.5h1.12M88.94 24.5h1.12M15.94 25.5h1.12M84.94 25.5h1.12M87.94 25.5h1.12M12.94 26.5h1.12M11.94 27.5h1.12M52.94 27.5h1.12M65.94 27.5h1.12M84.94 27.5h1.12M7.94 28.5h1.12M12.94 28.5h1.12M64.94 28.5h1.12M2.94 29.5h1.12M4.94 29.5h1.12M11.94 29.5h1.12M63.94 29.5h5.12M15.94 30.5h1.12M67.94 30.5h1.12M15.94 31.5h1.12M67.94 31.5h1.12M63.94 32.5h1.12M11.94 34.5h1.12M16.94 34.5h1.12M66.94 34.5h1.12M7.94 35.5h1.12M62.94 35.5h1.12M64.94 35.5h2.12M4.94 36.5h1.12M67.94 36.5h1.12M6.94 37.5h1.12M8.94 37.5h1.12M67.94 38.5h1.12M81.94 38.5h1.12M66.94 40.5h1.12M68.94 40.5h1.12M82.94 40.5h1.12M68.94 41.5h1.12M89.94 41.5h1.12M95.94 41.5h1.12M82.94 42.5h1.12M77.94 44.5h1.12M85.94 45.5h1.12M56.94 47.5h1.12M79.94 47.5h1.12M96.94 48.5h1.12M57.94 49.5h1.12M55.94 50.5h1.12M57.94 50.5h2.12M92.94 50.5h1.12M95.94 50.5h1.12M97.94 50.5h1.12M55.94 51.5h1.12M57.94 51.5h1.12M95.94 51.5h2.12M98.94 51.5h1.06M17.94 52.5h1.12M57.94 52.5h1.12M83.94 52.5h2.12M91.94 52.5h1.12M8.94 53.5h1.12M15.94 53.5h2.12M57.94 53.5h1.12M81.94 53.5h1.12M83.94 53.5h2.12M97.94 53.5h1.12M7.94 54.5h1.12M9.94 54.5h2.12M13.94 54.5h2.12M84.94 54.5h1.12M91.94 54.5h1.12M8.94 55.5h1.12M12.94 55.5h1.12M83.94 55.5h1.12M85.94 55.5h1.12M87.94 55.5h1.12M94.94 55.5h2.12M7.94 56.5h3.12M18.94 56.5h1.12M63.94 56.5h1.12M84.94 57.5h1.12M63.94 58.5h1.12M82.94 58.5h1.12M88.94 58.5h2.12M92.94 58.5h1.12M96.94 58.5h1.12M88.94 59.5h2.12M91.94 59.5h1.12M5.94 60.5h1.12M90.94 60.5h1.12M96.94 60.5h2.12M63.94 61.5h1.12M90.94 61.5h2.12M6.94 62.5h1.12M62.94 62.5h1.12M91.94 62.5h1.12M93.94 63.5h1.12M62.94 64.5h1.12M90.94 64.5h1.12M92.94 64.5h2.12M6.94 65.5h1.12M89.94 65.5h1.12M89.94 66.5h3.12M89.94 67.5h2.12M7.94 68.5h1.12M56.94 68.5h1.12M90.94 68.5h2.12M58.94 69.5h2.12M58.94 70.5h1.12M92.94 70.5h1.12M95.94 70.5h1.12M67.94 72.5h1.12M95.94 72.5h2.12M98.94 72.5h1.06M97.94 75.5h1.12M75.94 86.5h1.12M7.94 87.5h2.12M73.94 87.5h1.12M78.94 87.5h1.12M9.94 88.5h1.12M72.94 88.5h2.12M76.94 88.5h1.12M75.94 89.5h1.12M7.94 90.5h1.12M72.94 90.5h1.12M78.94 90.5h1.12M94.94 90.5h1.12M53.94 91.5h3.12M73.94 91.5h2.12M77.94 91.5h1.12M87.94 91.5h1.12M91.94 91.5h3.12M97.94 91.5h1.12M53.94 92.5h1.12M89.94 92.5h1.12M55.94 93.5h1.12M72.94 93.5h1.12M91.94 93.5h3.12M54.94 94.5h2.12M72.94 94.5h1.12M74.94 94.5h1.12M76.94 94.5h1.12M92.94 94.5h3.12M98.94 94.5h1.06M53.94 95.5h1.12M56.94 95.5h1.12M62.94 95.5h1.12M86.94 95.5h1.12M52.94 96.5h1.12M55.94 96.5h1.12M87.94 96.5h1.12M95.94 96.5h1.12M55.94 97.5h1.12M90.94 97.5h2.12M95.94 97.5h1.12M87.94 98.5h3.12M97.94 98.5h1.12M53.94 99.5h1.12M87.94 99.5h1.12M89.94 99.5h1.12M94.94 99.5h1.12"/>
<path stroke="#7ecc5b" d="M65.94 .5h2.12M52.94 1.5h1.12M55.94 1.5h1.12M63.94 1.5h2.12M54.94 2.5h1.12M64.94 2.5h1.12M56.94 3.5h1.12M62.94 3.5h1.12M64.94 3.5h1.12M64.94 4.5h2.12M15.94 6.5h1.12M55.94 6.5h1.12M10.94 7.5h1.12M13.94 7.5h1.12M58.94 7.5h1.12M14.94 8.5h1.12M54.94 8.5h1.12M54.94 9.5h1.12M57.94 9.5h1.12M63.94 9.5h1.12M81.94 9.5h1.12M66.94 10.5h2.12M65.94 11.5h1.12M67.94 11.5h1.12M55.94 12.5h1.12M66.94 12.5h2.12M67.94 14.5h1.12M82.94 19.5h1.12M86.94 19.5h1.12M83.94 20.5h1.12M89.94 21.5h1.12M87.94 22.5h2.12M81.94 23.5h1.12M85.94 23.5h1.12M15.94 24.5h1.12M14.94 25.5h1.12M82.94 25.5h2.12M13.94 26.5h1.12M84.94 26.5h1.12M86.94 26.5h1.12M85.94 27.5h1.12M3.94 30.5h1.12M65.94 30.5h2.12M11.94 35.5h1.12M7.94 36.5h1.12M11.94 36.5h2.12M66.94 36.5h1.12M65.94 38.5h2.12M66.94 39.5h2.12M67.94 40.5h1.12M78.94 41.5h1.12M81.94 44.5h1.12M79.94 48.5h1.12M78.94 49.5h1.12M80.94 49.5h1.12M96.94 49.5h1.12M56.94 50.5h1.12M96.94 50.5h1.12M82.94 52.5h1.12M10.94 53.5h1.12M14.94 53.5h1.12M19.94 53.5h1.12M56.94 53.5h1.12M15.94 54.5h1.12M93.94 54.5h1.12M7.94 55.5h1.12M9.94 55.5h3.12M13.94 55.5h2.12M10.94 56.5h1.12M14.94 56.5h1.12M17.94 56.5h1.12M13.94 57.5h1.12M95.94 59.5h1.12M98.94 60.5h1.06M6.94 61.5h1.12M94.94 61.5h1.12M5.94 62.5h1.12M91.94 65.5h2.12M98.94 68.5h1.06M97.94 69.5h2.06M59.94 70.5h1.12M98.94 70.5h1.06M6.94 71.5h1.12M60.94 71.5h1.12M67.94 71.5h1.12M95.94 71.5h1.12M97.94 71.5h1.12M94.94 72.5h1.12M94.94 73.5h2.12M73.94 86.5h2.12M76.94 86.5h1.12M76.94 87.5h1.12M6.94 88.5h1.12M8.94 88.5h1.12M80.94 88.5h1.12M6.94 89.5h1.12M73.94 89.5h1.12M76.94 89.5h1.12M54.94 90.5h1.12M74.94 90.5h1.12M77.94 90.5h1.12M72.94 91.5h1.12M72.94 92.5h1.12M74.94 92.5h2.12M91.94 92.5h1.12M54.94 93.5h1.12M71.94 93.5h1.12M96.94 94.5h1.12M52.94 95.5h1.12M97.94 95.5h1.12M54.94 96.5h1.12M93.94 97.5h1.12M54.94 98.5h2.12M93.94 98.5h1.12"/>
<path stroke="#9fc941" d="M64.94 .5h1.12M56.94 2.5h1.12M63.94 3.5h1.12M53.94 4.5h2.12M56.94 4.5h2.12M62.94 4.5h1.12M66.94 4.5h1.12M55.94 5.5h1.12M53.94 6.5h2.12M56.94 6.5h1.12M11.94 7.5h1.12M54.94 7.5h1.12M57.94 7.5h1.12M57.94 8.5h1.12M14.94 9.5h1.12M16.94 9.5h1.12M53.94 9.5h1.12M66.94 9.5h1.12M15.94 10.5h1.12M53.94 10.5h1.12M56.94 10.5h1.12M54.94 11.5h1.12M54.94 12.5h1.12M63.94 13.5h1.12M67.94 13.5h2.12M79.94 16.5h1.12M84.94 18.5h1.12M88.94 20.5h1.12M87.94 21.5h1.12M89.94 23.5h2.12M86.94 24.5h1.12M89.94 24.5h1.12M14.94 26.5h1.12M83.94 26.5h1.12M13.94 27.5h1.12M86.94 27.5h1.12M3.94 29.5h1.12M78.94 39.5h1.12M79.94 40.5h1.12M78.94 42.5h1.12M78.94 45.5h1.12M55.94 49.5h1.12M80.94 50.5h1.12M92.94 53.5h1.12M11.94 54.5h1.12M92.94 59.5h1.12M91.94 60.5h1.12M67.94 63.5h1.12M68.94 66.5h1.12M64.94 71.5h1.12M93.94 71.5h2.12M96.94 71.5h1.12M98.94 71.5h1.06M96.94 73.5h1.12M98.94 73.5h1.06M98.94 74.5h1.06M98.94 75.5h1.06M7.94 88.5h1.12M74.94 88.5h2.12M77.94 88.5h1.12M8.94 89.5h1.12M77.94 89.5h1.12M73.94 90.5h1.12M76.94 91.5h1.12M54.94 92.5h1.12M71.94 92.5h1.12M76.94 92.5h1.12M98.94 92.5h1.06M98.94 93.5h1.06M53.94 94.5h1.12M55.94 95.5h1.12M87.94 97.5h1.12"/>
<path stroke="#bec32e" d="M62.94 1.5h1.12M62.94 2.5h2.12M55.94 3.5h1.12M55.94 4.5h1.12M63.94 4.5h1.12M54.94 5.5h1.12M56.94 5.5h1.12M53.94 7.5h1.12M58.94 8.5h1.12M58.94 9.5h1.12M55.94 11.5h2.12M85.94 19.5h1.12M87.94 23.5h1.12M84.94 24.5h1.12M87.94 24.5h1.12M11.94 28.5h1.12M66.94 37.5h1.12M80.94 38.5h1.12M81.94 39.5h1.12M81.94 43.5h1.12M80.94 45.5h1.12M79.94 50.5h1.12M79.94 51.5h1.12M13.94 56.5h1.12M68.94 63.5h1.12M65.94 64.5h1.12M67.94 69.5h1.12M67.94 70.5h1.12M97.94 70.5h1.12M97.94 73.5h1.12M96.94 74.5h1.12M74.94 87.5h2.12M77.94 87.5h1.12M78.94 88.5h1.12M74.94 89.5h1.12M78.94 89.5h1.12M75.94 90.5h1.12M53.94 93.5h1.12M54.94 95.5h1.12"/>
<path stroke="#dbbd29" d="M55.94 2.5h1.12M54.94 3.5h1.12M57.94 6.5h1.12M53.94 8.5h1.12M15.94 9.5h1.12M16.94 10.5h1.12M85.94 21.5h1.12M89.94 22.5h1.12M88.94 23.5h1.12M12.94 27.5h1.12M79.94 38.5h1.12M81.94 40.5h1.12M81.94 41.5h1.12M78.94 44.5h1.12M79.94 49.5h1.12M64.94 66.5h1.12M64.94 70.5h1.12M76.94 90.5h1.12M75.94 91.5h1.12"/>
<path stroke="#f3ba39" d="M79.94 39.5h1.12M79.94 41.5h1.12M79.94 42.5h1.12M81.94 42.5h1.12M78.94 43.5h1.12M80.94 43.5h1.12M80.94 44.5h1.12M79.94 45.5h1.12M67.94 68.5h1.12M64.94 69.5h1.12M66.94 73.5h1.12"/>
<path stroke="#fec239" d="M80.94 39.5h1.12M78.94 40.5h1.12M80.94 40.5h1.12M80.94 41.5h1.12M80.94 42.5h1.12M79.94 43.5h1.12M79.94 44.5h1.12M68.94 65.5h1.12M65.94 73.5h1.12"/>
<path stroke="#fcd030" d="M66.94 64.5h1.12M68.94 64.5h1.12M65.94 65.5h1.12M64.94 67.5h1.12M67.94 67.5h1.12M64.94 68.5h1.12"/>
<path stroke="#f6df29" d="M67.94 64.5h1.12M67.94 65.5h1.12M65.94 66.5h1.12M67.94 66.5h1.12M66.94 68.5h1.12M65.94 69.5h2.12M65.94 70.5h2.12M65.94 71.5h2.12M65.94 72.5h2.12"/>
<path stroke="#f5e725" d="M66.94 65.5h1.12M66.94 66.5h1.12M65.94 67.5h2.12M65.94 68.5h1.12"/>
</g>
<rect x="1210.5" y="1190.5" width="28.5" height="482.7" fill="url(#par)" stroke="#1c1c1c" stroke-width="1.2"/>
<path d="M1239 1576.7h-5M1239 1480.1h-5M1239 1383.6h-5M1239 1287h-5" stroke="#262626" stroke-width="1" fill="none"/>
<text class="cb" x="1247.6" y="1680">0</text>
<text class="cb" x="1247.6" y="1583.5">0.2</text>
<text class="cb" x="1247.6" y="1486.9">0.4</text>
<text class="cb" x="1247.6" y="1390.4">0.6</text>
<text class="cb" x="1247.6" y="1293.8">0.8</text>
<text class="cb" x="1247.6" y="1197.3">1</text>
<text class="cap" x="919.9" y="1746.7" text-anchor="middle">(f)</text>
<g class="hm" transform="translate(698.7 1775.6) scale(4.8660 4.8800)" stroke-width="1.06" fill="none" shape-rendering="crispEdges">
<rect x="0" y="0" width="100" height="100" fill="#3e27ab"/>
<path stroke="#3e27ab" d="M0 .5h20.06M21.94 .5h27.12M50.94 .5h7.12M60.94 .5h6.12M74.94 .5h25.06M0 99.5h16.06M17.94 99.5h31.12M50.94 99.5h6.12M59.94 99.5h40.06"/>
<path stroke="#4230c3" d="M57.94 .5h1.12M82.94 1.5h1.12M18.94 2.5h1.12M50.94 2.5h1.12M60.94 2.5h1.12M58.94 3.5h1.12M77.94 3.5h1.12M59.94 6.5h1.12M79.94 6.5h1.12M77.94 7.5h1.12M81.94 7.5h1.12M51.94 8.5h1.12M75.94 8.5h1.12M79.94 8.5h1.12M60.94 9.5h1.12M77.94 9.5h1.12M75.94 10.5h1.12M65.94 11.5h1.12M50.94 12.5h1.12M61.94 12.5h1.12M62.94 16.5h1.12M50.94 18.5h2.12M76.94 18.5h1.12M67.94 19.5h1.12M48.94 20.5h1.12M51.94 20.5h1.12M63.94 21.5h1.12M66.94 21.5h1.12M62.94 23.5h1.12M61.94 25.5h1.12M58.94 26.5h1.12M60.94 27.5h1.12M51.94 28.5h1.12M56.94 30.5h1.12M1.94 32.5h1.12M4.94 32.5h1.12M1.94 33.5h1.12M4.94 33.5h1.12M55.94 34.5h1.12M57.94 34.5h1.12M70.94 37.5h1.12M55.94 38.5h1.12M57.94 38.5h1.12M58.94 42.5h1.12M15.94 43.5h2.12M15.94 44.5h1.12M60.94 45.5h1.12M18.94 46.5h1.12M58.94 46.5h1.12M17.94 47.5h1.12M19.94 47.5h1.12M80.94 47.5h1.12M19.94 50.5h1.12M23.94 50.5h1.12M53.94 53.5h1.12M83.94 53.5h1.12M19.94 55.5h1.12M21.94 55.5h1.12M54.94 55.5h1.12M3.94 56.5h3.12M7.94 56.5h1.12M67.94 56.5h1.12M88.94 56.5h1.12M20.94 57.5h1.12M55.94 57.5h1.12M15.94 58.5h1.12M68.94 58.5h1.12M1.94 59.5h1.12M10.94 59.5h1.12M1.94 60.5h1.12M15.94 60.5h2.12M61.94 60.5h1.12M.94 61.5h1.12M71.94 61.5h1.12M86.94 61.5h1.12M1.94 62.5h1.12M11.94 62.5h1.12M92.94 62.5h1.12M.94 63.5h1.12M3.94 63.5h1.12M10.94 63.5h1.12M91.94 63.5h1.12M96.94 63.5h1.12M1.94 64.5h2.12M4.94 64.5h1.12M77.94 64.5h1.12M8.94 65.5h1.12M10.94 65.5h2.12M81.94 65.5h1.12M97.94 65.5h1.12M3.94 66.5h1.12M11.94 66.5h1.12M11.94 67.5h1.12M69.94 67.5h1.12M4.94 68.5h1.12M9.94 68.5h1.12M54.94 68.5h1.12M83.94 68.5h1.12M96.94 68.5h1.12M7.94 69.5h1.12M11.94 69.5h1.12M52.94 69.5h1.12M4.94 70.5h2.12M11.94 70.5h1.12M6.94 71.5h1.12M3.94 72.5h1.12M5.94 72.5h1.12M11.94 72.5h1.12M51.94 72.5h1.12M70.94 72.5h1.12M86.94 72.5h1.12M11.94 73.5h1.12M67.94 73.5h1.12M2.94 74.5h2.12M5.94 74.5h1.12M7.94 74.5h1.12M69.94 74.5h1.12M96.94 74.5h1.12M3.94 75.5h1.12M88.94 75.5h1.12M0 76.5h2.06M3.94 76.5h1.12M6.94 76.5h1.12M8.94 76.5h1.12M65.94 76.5h1.12M.94 77.5h1.12M6.94 77.5h1.12M45.94 77.5h3.12M50.94 77.5h1.12M67.94 77.5h1.12M.94 78.5h1.12M6.94 78.5h1.12M44.94 78.5h1.12M46.94 78.5h1.12M46.94 79.5h1.12M48.94 79.5h1.12M.94 80.5h1.12M2.94 80.5h4.12M44.94 80.5h1.12M46.94 80.5h1.12M62.94 80.5h1.12M.94 81.5h1.12M6.94 81.5h1.12M64.94 81.5h1.12M3.94 82.5h1.12M6.94 82.5h1.12M45.94 82.5h1.12M50.94 82.5h1.12M44.94 83.5h2.12M94.94 83.5h1.12M5.94 84.5h1.12M8.94 84.5h1.12M49.94 84.5h1.12M96.94 84.5h1.12M2.94 85.5h1.12M4.94 85.5h1.12M8.94 85.5h1.12M12.94 85.5h1.12M61.94 85.5h1.12M97.94 85.5h1.12M0 86.5h1.06M3.94 86.5h1.12M9.94 86.5h1.12M1.94 87.5h1.12M3.94 87.5h1.12M51.94 87.5h1.12M53.94 87.5h1.12M60.94 87.5h1.12M2.94 88.5h1.12M12.94 88.5h1.12M15.94 88.5h1.12M3.94 89.5h1.12M1.94 90.5h1.12M53.94 91.5h1.12M59.94 91.5h1.12M51.94 92.5h1.12M52.94 94.5h1.12M50.94 97.5h1.12M56.94 99.5h1.12"/>
<path stroke="#463adc" d="M86.94 1.5h2.12M20.94 2.5h1.12M66.94 2.5h1.12M50.94 3.5h1.12M66.94 3.5h1.12M20.94 4.5h1.12M19.94 6.5h1.12M49.94 6.5h1.12M82.94 6.5h1.12M22.94 7.5h1.12M21.94 8.5h1.12M23.94 8.5h1.12M22.94 9.5h1.12M24.94 9.5h1.12M51.94 9.5h1.12M64.94 9.5h1.12M66.94 9.5h1.12M75.94 11.5h1.12M67.94 12.5h1.12M75.94 12.5h1.12M53.94 13.5h1.12M67.94 13.5h1.12M64.94 14.5h1.12M64.94 15.5h1.12M22.94 17.5h1.12M62.94 17.5h1.12M65.94 17.5h1.12M62.94 18.5h1.12M64.94 18.5h1.12M66.94 18.5h1.12M65.94 19.5h1.12M76.94 19.5h1.12M23.94 20.5h1.12M68.94 20.5h1.12M48.94 21.5h1.12M61.94 21.5h1.12M60.94 23.5h1.12M47.94 25.5h2.12M47.94 26.5h1.12M77.94 26.5h1.12M69.94 27.5h1.12M77.94 27.5h1.12M48.94 28.5h2.12M57.94 28.5h1.12M69.94 28.5h1.12M11.94 30.5h1.12M58.94 30.5h1.12M50.94 32.5h1.12M11.94 35.5h1.12M49.94 37.5h1.12M55.94 37.5h1.12M21.94 38.5h1.12M69.94 38.5h1.12M57.94 39.5h1.12M49.94 41.5h1.12M67.94 43.5h1.12M69.94 43.5h1.12M57.94 44.5h1.12M52.94 45.5h1.12M65.94 45.5h1.12M68.94 45.5h1.12M51.94 46.5h1.12M65.94 46.5h1.12M68.94 46.5h1.12M61.94 47.5h1.12M65.94 47.5h1.12M68.94 47.5h1.12M77.94 47.5h1.12M60.94 48.5h1.12M62.94 48.5h1.12M65.94 48.5h1.12M68.94 48.5h1.12M61.94 49.5h1.12M63.94 49.5h1.12M70.94 49.5h1.12M53.94 50.5h1.12M62.94 50.5h1.12M64.94 50.5h1.12M63.94 51.5h1.12M65.94 51.5h1.12M20.94 52.5h1.12M53.94 52.5h1.12M64.94 52.5h1.12M66.94 52.5h1.12M65.94 53.5h1.12M67.94 53.5h1.12M71.94 53.5h1.12M86.94 53.5h1.12M68.94 54.5h1.12M87.94 54.5h1.12M72.94 55.5h1.12M7.94 57.5h1.12M17.94 57.5h1.12M57.94 57.5h1.12M73.94 57.5h1.12M56.94 58.5h1.12M58.94 58.5h1.12M70.94 58.5h1.12M87.94 58.5h1.12M7.94 59.5h1.12M17.94 59.5h1.12M57.94 59.5h1.12M59.94 59.5h1.12M74.94 59.5h1.12M86.94 59.5h1.12M10.94 60.5h1.12M58.94 60.5h1.12M75.94 61.5h1.12M4.94 62.5h1.12M9.94 62.5h1.12M71.94 62.5h1.12M95.94 62.5h1.12M1.94 63.5h1.12M4.94 63.5h1.12M71.94 63.5h1.12M80.94 63.5h1.12M10.94 64.5h1.12M71.94 64.5h1.12M78.94 64.5h1.12M88.94 64.5h1.12M2.94 65.5h1.12M5.94 65.5h1.12M9.94 65.5h1.12M53.94 65.5h1.12M71.94 65.5h1.12M5.94 66.5h1.12M10.94 66.5h1.12M71.94 66.5h1.12M5.94 67.5h1.12M10.94 67.5h1.12M71.94 67.5h1.12M69.94 68.5h1.12M9.94 69.5h1.12M92.94 69.5h1.12M95.94 69.5h1.12M3.94 70.5h1.12M3.94 71.5h1.12M10.94 71.5h1.12M4.94 72.5h1.12M10.94 72.5h1.12M4.94 73.5h1.12M8.94 73.5h2.12M95.94 73.5h1.12M8.94 74.5h1.12M10.94 74.5h1.12M1.94 75.5h1.12M6.94 75.5h1.12M8.94 75.5h2.12M50.94 75.5h1.12M66.94 75.5h1.12M1.94 76.5h1.12M5.94 76.5h1.12M7.94 76.5h1.12M1.94 77.5h1.12M4.94 77.5h1.12M1.94 78.5h1.12M66.94 78.5h1.12M2.94 79.5h1.12M4.94 79.5h2.12M63.94 79.5h1.12M48.94 80.5h1.12M49.94 81.5h1.12M1.94 82.5h1.12M4.94 82.5h2.12M63.94 82.5h1.12M5.94 83.5h1.12M60.94 83.5h1.12M.94 84.5h1.12M4.94 84.5h1.12M10.94 84.5h1.12M0 85.5h1.06M50.94 85.5h1.12M52.94 85.5h1.12M59.94 85.5h1.12M.94 86.5h3.12M11.94 87.5h1.12M58.94 87.5h1.12M0 89.5h1.06M2.94 89.5h1.12M53.94 90.5h1.12M59.94 90.5h1.12M14.94 91.5h1.12M57.94 91.5h1.12M50.94 94.5h1.12M48.94 98.5h1.12M58.94 99.5h1.12"/>
<path stroke="#4747eb" d="M58.94 2.5h1.12M60.94 3.5h1.12M74.94 3.5h1.12M49.94 5.5h1.12M61.94 6.5h1.12M62.94 9.5h1.12M50.94 11.5h1.12M67.94 11.5h1.12M55.94 12.5h1.12M55.94 13.5h1.12M75.94 13.5h1.12M62.94 14.5h1.12M76.94 20.5h1.12M21.94 21.5h1.12M67.94 22.5h1.12M68.94 24.5h1.12M22.94 26.5h1.12M69.94 26.5h1.12M22.94 27.5h1.12M49.94 27.5h1.12M77.94 28.5h1.12M51.94 29.5h1.12M12.94 30.5h1.12M50.94 31.5h1.12M56.94 31.5h1.12M2.94 32.5h2.12M2.94 33.5h2.12M50.94 33.5h1.12M50.94 34.5h1.12M12.94 35.5h1.12M55.94 35.5h1.12M51.94 36.5h1.12M78.94 36.5h1.12M21.94 37.5h1.12M49.94 38.5h1.12M23.94 39.5h1.12M23.94 40.5h1.12M50.94 41.5h1.12M49.94 42.5h1.12M56.94 42.5h1.12M69.94 42.5h1.12M65.94 43.5h1.12M59.94 44.5h1.12M79.94 44.5h1.12M16.94 45.5h2.12M59.94 47.5h1.12M18.94 48.5h2.12M70.94 48.5h1.12M23.94 49.5h1.12M54.94 50.5h1.12M20.94 51.5h1.12M53.94 51.5h1.12M81.94 51.5h1.12M20.94 53.5h1.12M84.94 53.5h2.12M55.94 54.5h1.12M56.94 56.5h1.12M3.94 57.5h1.12M6.94 59.5h1.12M1.94 61.5h1.12M5.94 61.5h1.12M9.94 61.5h1.12M60.94 61.5h1.12M63.94 61.5h1.12M69.94 61.5h1.12M62.94 62.5h1.12M93.94 62.5h2.12M2.94 63.5h1.12M76.94 63.5h1.12M5.94 64.5h1.12M3.94 65.5h1.12M54.94 65.5h1.12M9.94 66.5h1.12M54.94 67.5h1.12M90.94 67.5h1.12M10.94 68.5h1.12M91.94 68.5h1.12M4.94 69.5h2.12M10.94 69.5h1.12M84.94 69.5h1.12M93.94 69.5h2.12M6.94 70.5h1.12M4.94 71.5h1.12M53.94 71.5h1.12M9.94 72.5h1.12M94.94 72.5h1.12M10.94 73.5h1.12M6.94 74.5h1.12M52.94 74.5h1.12M68.94 75.5h1.12M51.94 76.5h1.12M89.94 76.5h1.12M5.94 77.5h1.12M5.94 78.5h1.12M.94 79.5h2.12M3.94 79.5h1.12M43.94 79.5h1.12M2.94 81.5h1.12M43.94 81.5h2.12M47.94 81.5h1.12M1.94 83.5h1.12M4.94 83.5h1.12M1.94 84.5h1.12M3.94 84.5h1.12M.94 85.5h2.12M.94 87.5h1.12M52.94 87.5h1.12M52.94 88.5h1.12M.94 89.5h1.12M52.94 89.5h2.12M51.94 95.5h1.12M49.94 96.5h1.12M58.94 98.5h1.12M49.94 99.5h1.12"/>
<path stroke="#4855f6" d="M48.94 .5h1.12M59.94 .5h1.12M20.94 1.5h1.12M66.94 1.5h1.12M81.94 1.5h1.12M18.94 3.5h1.12M78.94 3.5h4.12M84.94 3.5h1.12M18.94 4.5h1.12M49.94 4.5h2.12M59.94 5.5h1.12M20.94 7.5h1.12M66.94 7.5h1.12M60.94 8.5h1.12M65.94 8.5h1.12M67.94 9.5h1.12M.94 10.5h2.12M50.94 10.5h2.12M65.94 10.5h1.12M67.94 10.5h1.12M.94 11.5h2.12M61.94 11.5h1.12M54.94 12.5h1.12M64.94 13.5h1.12M75.94 14.5h1.12M64.94 16.5h1.12M24.94 17.5h1.12M68.94 18.5h1.12M51.94 19.5h1.12M68.94 19.5h1.12M66.94 20.5h1.12M49.94 21.5h1.12M68.94 21.5h1.12M76.94 21.5h1.12M21.94 22.5h1.12M22.94 25.5h1.12M59.94 25.5h1.12M69.94 25.5h1.12M22.94 28.5h1.12M50.94 28.5h1.12M59.94 28.5h1.12M77.94 29.5h1.12M50.94 30.5h1.12M77.94 30.5h1.12M11.94 31.5h2.12M11.94 32.5h2.12M11.94 33.5h2.12M57.94 33.5h1.12M11.94 34.5h2.12M50.94 35.5h1.12M21.94 36.5h1.12M55.94 36.5h1.12M70.94 36.5h1.12M78.94 37.5h1.12M23.94 41.5h1.12M69.94 41.5h1.12M51.94 43.5h1.12M50.94 44.5h1.12M65.94 44.5h1.12M67.94 44.5h1.12M67.94 45.5h1.12M17.94 46.5h1.12M70.94 47.5h1.12M19.94 49.5h2.12M66.94 50.5h1.12M66.94 54.5h1.12M82.94 54.5h1.12M4.94 57.5h1.12M3.94 58.5h1.12M5.94 58.5h1.12M7.94 58.5h1.12M9.94 58.5h1.12M16.94 58.5h1.12M18.94 58.5h1.12M85.94 59.5h1.12M2.94 60.5h1.12M5.94 60.5h2.12M8.94 60.5h1.12M85.94 60.5h1.12M63.94 62.5h1.12M9.94 64.5h1.12M91.94 64.5h1.12M6.94 66.5h2.12M53.94 66.5h1.12M9.94 67.5h1.12M6.94 68.5h1.12M6.94 69.5h1.12M52.94 70.5h1.12M7.94 71.5h1.12M70.94 71.5h1.12M68.94 72.5h1.12M51.94 73.5h1.12M9.94 74.5h1.12M2.94 75.5h1.12M7.94 75.5h1.12M49.94 76.5h1.12M3.94 77.5h1.12M2.94 78.5h1.12M4.94 78.5h1.12M45.94 78.5h1.12M64.94 78.5h1.12M44.94 79.5h1.12M65.94 79.5h1.12M1.94 80.5h1.12M43.94 80.5h1.12M1.94 81.5h1.12M4.94 81.5h1.12M44.94 82.5h1.12M48.94 82.5h1.12M61.94 82.5h1.12M2.94 83.5h1.12M62.94 83.5h1.12M95.94 83.5h1.12M2.94 84.5h1.12M51.94 84.5h1.12M13.94 86.5h1.12M13.94 89.5h1.12M16.94 90.5h1.12M57.94 92.5h1.12M51.94 93.5h2.12"/>
<path stroke="#4561fc" d="M74.94 1.5h1.12M77.94 1.5h4.12M75.94 4.5h3.12M79.94 4.5h1.12M50.94 5.5h1.12M78.94 7.5h1.12M80.94 7.5h1.12M76.94 8.5h1.12M78.94 8.5h1.12M76.94 9.5h1.12M64.94 10.5h1.12M51.94 11.5h1.12M53.94 12.5h1.12M63.94 12.5h1.12M54.94 13.5h1.12M75.94 15.5h1.12M22.94 18.5h1.12M50.94 19.5h1.12M62.94 19.5h1.12M60.94 26.5h1.12M48.94 27.5h1.12M58.94 27.5h1.12M56.94 32.5h1.12M50.94 38.5h1.12M57.94 40.5h1.12M56.94 41.5h1.12M66.94 43.5h1.12M16.94 44.5h1.12M60.94 46.5h1.12M67.94 46.5h1.12M18.94 47.5h1.12M23.94 48.5h1.12M80.94 48.5h1.12M21.94 49.5h1.12M20.94 50.5h1.12M71.94 52.5h1.12M20.94 54.5h2.12M54.94 54.5h1.12M87.94 55.5h1.12M20.94 56.5h1.12M55.94 56.5h1.12M69.94 56.5h1.12M68.94 57.5h1.12M87.94 57.5h1.12M70.94 59.5h1.12M4.94 60.5h1.12M60.94 60.5h1.12M69.94 60.5h1.12M4.94 61.5h1.12M62.94 61.5h1.12M2.94 62.5h1.12M79.94 63.5h1.12M87.94 63.5h1.12M95.94 63.5h1.12M3.94 64.5h1.12M7.94 64.5h2.12M96.94 64.5h1.12M7.94 67.5h1.12M53.94 67.5h1.12M91.94 67.5h1.12M96.94 67.5h1.12M7.94 68.5h1.12M92.94 68.5h1.12M69.94 69.5h1.12M7.94 70.5h1.12M70.94 70.5h1.12M8.94 71.5h2.12M7.94 72.5h1.12M69.94 73.5h1.12M87.94 73.5h1.12M91.94 73.5h1.12M92.94 75.5h1.12M3.94 78.5h1.12M47.94 78.5h2.12M91.94 79.5h1.12M96.94 79.5h1.12M5.94 81.5h1.12M98.94 81.5h1.06M3.94 83.5h1.12M51.94 86.5h1.12M14.94 87.5h1.12M.94 88.5h2.12M53.94 88.5h1.12M58.94 88.5h1.12M59.94 89.5h1.12M52.94 90.5h1.12M57.94 93.5h1.12M57.94 94.5h1.12M58.94 95.5h1.12M50.94 96.5h1.12M58.94 96.5h1.12M58.94 97.5h1.12M48.94 99.5h1.12"/>
<path stroke="#3f6efe" d="M66.94 .5h1.12M58.94 1.5h2.12M75.94 1.5h2.12M49.94 3.5h1.12M82.94 3.5h2.12M60.94 4.5h1.12M78.94 4.5h1.12M80.94 4.5h2.12M21.94 6.5h1.12M74.94 6.5h1.12M80.94 6.5h2.12M83.94 6.5h15.12M61.94 7.5h1.12M74.94 7.5h1.12M50.94 9.5h1.12M23.94 10.5h1.12M62.94 10.5h1.12M23.94 11.5h1.12M23.94 12.5h1.12M23.94 13.5h1.12M62.94 13.5h1.12M23.94 14.5h1.12M23.94 15.5h1.12M68.94 17.5h1.12M23.94 19.5h1.12M49.94 20.5h2.12M63.94 20.5h1.12M67.94 20.5h1.12M62.94 22.5h1.12M76.94 22.5h1.12M21.94 23.5h1.12M68.94 23.5h1.12M22.94 24.5h1.12M61.94 24.5h1.12M22.94 29.5h1.12M22.94 30.5h1.12M22.94 31.5h1.12M77.94 31.5h1.12M22.94 32.5h1.12M57.94 32.5h1.12M70.94 32.5h1.12M21.94 33.5h1.12M21.94 34.5h1.12M70.94 34.5h1.12M21.94 35.5h1.12M70.94 35.5h1.12M70.94 38.5h1.12M57.94 41.5h1.12M23.94 42.5h1.12M23.94 43.5h1.12M22.94 44.5h1.12M22.94 45.5h1.12M58.94 45.5h1.12M23.94 46.5h1.12M70.94 46.5h1.12M77.94 46.5h1.12M23.94 47.5h1.12M67.94 47.5h1.12M75.94 51.5h1.12M72.94 54.5h1.12M83.94 54.5h4.12M83.94 55.5h4.12M19.94 56.5h1.12M73.94 56.5h1.12M84.94 56.5h4.12M19.94 57.5h1.12M84.94 57.5h3.12M74.94 58.5h1.12M85.94 58.5h2.12M2.94 59.5h1.12M5.94 59.5h1.12M15.94 59.5h1.12M9.94 60.5h1.12M75.94 60.5h1.12M82.94 60.5h1.12M2.94 61.5h1.12M6.94 61.5h1.12M82.94 61.5h1.12M83.94 62.5h1.12M84.94 63.5h1.12M92.94 63.5h3.12M84.94 64.5h1.12M92.94 64.5h4.12M85.94 65.5h1.12M91.94 65.5h6.12M54.94 66.5h1.12M82.94 66.5h1.12M85.94 66.5h2.12M91.94 66.5h6.12M6.94 67.5h1.12M86.94 67.5h2.12M92.94 67.5h4.12M87.94 68.5h1.12M93.94 68.5h3.12M88.94 69.5h1.12M8.94 70.5h1.12M10.94 70.5h1.12M53.94 70.5h1.12M69.94 70.5h1.12M88.94 70.5h2.12M89.94 71.5h1.12M93.94 71.5h1.12M8.94 72.5h1.12M90.94 72.5h1.12M52.94 73.5h1.12M90.94 73.5h1.12M67.94 74.5h1.12M91.94 74.5h2.12M93.94 75.5h1.12M2.94 76.5h1.12M67.94 76.5h1.12M93.94 76.5h2.12M2.94 77.5h1.12M49.94 77.5h1.12M65.94 77.5h1.12M94.94 77.5h1.12M90.94 78.5h1.12M95.94 78.5h1.12M95.94 79.5h1.12M64.94 80.5h1.12M96.94 80.5h2.12M62.94 81.5h1.12M97.94 81.5h1.12M98.94 82.5h1.06M49.94 83.5h2.12M61.94 84.5h1.12M52.94 86.5h1.12M60.94 86.5h1.12M59.94 88.5h1.12M1.94 89.5h1.12M52.94 91.5h1.12M52.94 92.5h1.12M51.94 94.5h1.12M58.94 94.5h1.12M50.94 95.5h1.12M49.94 97.5h1.12M49.94 98.5h1.12"/>
<path stroke="#317efb" d="M20.94 .5h1.12M49.94 .5h1.12M49.94 2.5h1.12M59.94 4.5h1.12M74.94 4.5h1.12M50.94 6.5h1.12M67.94 6.5h1.12M60.94 7.5h1.12M67.94 7.5h1.12M50.94 8.5h1.12M66.94 8.5h2.12M74.94 8.5h1.12M65.94 9.5h1.12M61.94 10.5h1.12M64.94 11.5h1.12M51.94 12.5h2.12M64.94 12.5h1.12M68.94 16.5h1.12M75.94 16.5h1.12M64.94 17.5h1.12M65.94 18.5h1.12M63.94 19.5h1.12M62.94 20.5h1.12M67.94 21.5h1.12M61.94 22.5h1.12M68.94 22.5h1.12M76.94 23.5h1.12M60.94 24.5h1.12M69.94 24.5h1.12M48.94 26.5h1.12M57.94 29.5h2.12M70.94 31.5h1.12M51.94 32.5h1.12M51.94 33.5h1.12M56.94 33.5h1.12M70.94 33.5h1.12M56.94 36.5h1.12M71.94 37.5h1.12M78.94 38.5h1.12M69.94 39.5h1.12M78.94 39.5h1.12M56.94 40.5h1.12M69.94 40.5h1.12M70.94 41.5h1.12M50.94 43.5h1.12M57.94 43.5h2.12M70.94 44.5h1.12M70.94 45.5h1.12M79.94 45.5h1.12M22.94 46.5h1.12M72.94 48.5h1.12M74.94 48.5h1.12M66.94 49.5h1.12M74.94 49.5h1.12M22.94 50.5h1.12M67.94 50.5h1.12M71.94 50.5h2.12M78.94 50.5h1.12M21.94 51.5h1.12M71.94 51.5h1.12M78.94 51.5h1.12M21.94 52.5h1.12M72.94 52.5h1.12M75.94 52.5h1.12M21.94 53.5h1.12M54.94 53.5h1.12M72.94 53.5h4.12M76.94 54.5h1.12M55.94 55.5h1.12M67.94 55.5h2.12M73.94 55.5h1.12M76.94 55.5h1.12M77.94 56.5h1.12M83.94 56.5h1.12M56.94 57.5h1.12M74.94 57.5h1.12M77.94 57.5h1.12M4.94 58.5h1.12M57.94 58.5h1.12M81.94 58.5h1.12M84.94 58.5h1.12M58.94 59.5h1.12M75.94 59.5h1.12M81.94 59.5h1.12M7.94 60.5h1.12M59.94 60.5h1.12M70.94 60.5h1.12M3.94 61.5h1.12M7.94 61.5h2.12M61.94 61.5h1.12M76.94 61.5h1.12M6.94 62.5h1.12M76.94 62.5h1.12M7.94 63.5h2.12M77.94 63.5h2.12M83.94 63.5h1.12M85.94 64.5h1.12M6.94 65.5h1.12M89.94 66.5h1.12M53.94 68.5h1.12M70.94 69.5h1.12M87.94 69.5h1.12M9.94 70.5h1.12M85.94 70.5h1.12M52.94 71.5h1.12M90.94 71.5h1.12M89.94 72.5h1.12M51.94 74.5h1.12M48.94 77.5h1.12M66.94 77.5h1.12M90.94 77.5h1.12M93.94 77.5h1.12M95.94 77.5h1.12M94.94 78.5h1.12M96.94 78.5h1.12M92.94 80.5h1.12M63.94 81.5h1.12M49.94 82.5h1.12M60.94 84.5h1.12M11.94 85.5h1.12M59.94 86.5h1.12M58.94 89.5h1.12M16.94 91.5h1.12M16.94 92.5h1.12M58.94 93.5h1.12M57.94 95.5h1.12M57.94 96.5h1.12M57.94 97.5h1.12M15.94 98.5h1.12"/>
<path stroke="#2d8af5" d="M19.94 .5h1.12M58.94 .5h1.12M93.94 2.5h5.12M85.94 3.5h1.12M88.94 3.5h4.12M19.94 5.5h1.12M60.94 5.5h1.12M75.94 5.5h7.12M98.94 6.5h1.06M79.94 7.5h1.12M61.94 8.5h1.12M77.94 8.5h1.12M75.94 9.5h1.12M24.94 10.5h1.12M24.94 11.5h1.12M62.94 11.5h1.12M24.94 12.5h1.12M24.94 13.5h1.12M63.94 13.5h1.12M24.94 14.5h1.12M63.94 14.5h1.12M24.94 15.5h1.12M63.94 15.5h1.12M68.94 15.5h1.12M23.94 16.5h2.12M75.94 17.5h1.12M63.94 18.5h1.12M75.94 18.5h1.12M66.94 19.5h1.12M69.94 21.5h1.12M22.94 23.5h1.12M69.94 23.5h1.12M21.94 24.5h1.12M76.94 24.5h1.12M59.94 26.5h1.12M59.94 27.5h1.12M21.94 29.5h1.12M50.94 29.5h1.12M21.94 30.5h1.12M70.94 30.5h1.12M21.94 31.5h1.12M57.94 31.5h1.12M21.94 32.5h1.12M77.94 32.5h1.12M22.94 33.5h1.12M22.94 34.5h1.12M22.94 35.5h1.12M56.94 35.5h1.12M50.94 36.5h1.12M71.94 38.5h1.12M56.94 39.5h1.12M70.94 39.5h2.12M70.94 40.5h3.12M71.94 41.5h2.12M22.94 42.5h1.12M70.94 42.5h3.12M22.94 43.5h1.12M70.94 43.5h3.12M23.94 44.5h1.12M71.94 44.5h2.12M23.94 45.5h1.12M59.94 45.5h1.12M71.94 45.5h2.12M59.94 46.5h1.12M71.94 46.5h2.12M22.94 47.5h1.12M60.94 47.5h1.12M71.94 47.5h4.12M22.94 48.5h1.12M61.94 48.5h1.12M66.94 48.5h2.12M71.94 48.5h1.12M73.94 48.5h1.12M77.94 48.5h1.12M62.94 49.5h1.12M71.94 49.5h3.12M21.94 50.5h1.12M63.94 50.5h1.12M73.94 50.5h3.12M64.94 51.5h1.12M72.94 51.5h3.12M65.94 52.5h1.12M73.94 52.5h2.12M81.94 52.5h1.12M66.94 53.5h1.12M79.94 53.5h1.12M73.94 54.5h3.12M79.94 54.5h1.12M20.94 55.5h1.12M74.94 55.5h2.12M68.94 56.5h1.12M74.94 56.5h3.12M80.94 56.5h1.12M18.94 57.5h1.12M69.94 57.5h1.12M75.94 57.5h2.12M75.94 58.5h3.12M4.94 59.5h1.12M8.94 59.5h2.12M16.94 59.5h1.12M69.94 59.5h1.12M76.94 59.5h3.12M76.94 60.5h3.12M77.94 61.5h2.12M7.94 62.5h2.12M77.94 62.5h3.12M9.94 63.5h1.12M6.94 64.5h1.12M81.94 64.5h1.12M84.94 65.5h1.12M86.94 68.5h1.12M88.94 68.5h1.12M53.94 69.5h1.12M92.94 70.5h1.12M69.94 71.5h1.12M52.94 72.5h1.12M91.94 72.5h1.12M68.94 73.5h1.12M68.94 74.5h1.12M51.94 75.5h1.12M50.94 76.5h1.12M66.94 76.5h1.12M65.94 78.5h1.12M47.94 79.5h1.12M97.94 79.5h1.12M47.94 80.5h1.12M63.94 80.5h1.12M98.94 80.5h1.06M48.94 81.5h1.12M93.94 81.5h1.12M62.94 82.5h1.12M9.94 84.5h1.12M50.94 84.5h1.12M10.94 86.5h1.12M15.94 89.5h1.12M58.94 92.5h1.12M16.94 93.5h1.12M57.94 98.5h1.12M15.94 99.5h1.12"/>
<path stroke="#2895ec" d="M67.94 .5h1.12M73.94 .5h1.12M19.94 1.5h1.12M49.94 1.5h1.12M67.94 1.5h1.12M59.94 2.5h1.12M67.94 2.5h1.12M92.94 2.5h1.12M98.94 2.5h1.06M59.94 3.5h1.12M67.94 3.5h1.12M73.94 3.5h1.12M86.94 3.5h2.12M67.94 4.5h1.12M84.94 4.5h14.12M20.94 5.5h1.12M67.94 5.5h1.12M74.94 5.5h1.12M60.94 6.5h1.12M73.94 6.5h1.12M50.94 7.5h1.12M68.94 7.5h1.12M73.94 7.5h1.12M22.94 8.5h1.12M68.94 8.5h1.12M73.94 8.5h1.12M23.94 9.5h1.12M61.94 9.5h1.12M68.94 9.5h1.12M74.94 9.5h1.12M68.94 10.5h1.12M74.94 10.5h1.12M68.94 11.5h1.12M74.94 11.5h1.12M62.94 12.5h1.12M68.94 12.5h1.12M74.94 12.5h1.12M68.94 13.5h1.12M74.94 13.5h1.12M68.94 14.5h1.12M74.94 14.5h1.12M69.94 15.5h1.12M74.94 15.5h1.12M63.94 16.5h1.12M69.94 16.5h1.12M74.94 16.5h1.12M63.94 17.5h1.12M69.94 17.5h1.12M74.94 17.5h1.12M69.94 18.5h1.12M74.94 18.5h1.12M69.94 19.5h1.12M75.94 19.5h1.12M69.94 20.5h1.12M75.94 20.5h1.12M62.94 21.5h1.12M22.94 22.5h1.12M69.94 22.5h2.12M61.94 23.5h1.12M70.94 23.5h1.12M70.94 24.5h1.12M60.94 25.5h1.12M70.94 25.5h1.12M76.94 25.5h1.12M70.94 26.5h1.12M76.94 26.5h1.12M70.94 27.5h1.12M76.94 27.5h1.12M21.94 28.5h1.12M58.94 28.5h1.12M70.94 28.5h1.12M76.94 28.5h1.12M70.94 29.5h1.12M76.94 29.5h1.12M57.94 30.5h1.12M71.94 31.5h1.12M71.94 32.5h1.12M71.94 33.5h1.12M56.94 34.5h1.12M71.94 34.5h1.12M71.94 35.5h1.12M71.94 36.5h1.12M56.94 37.5h1.12M56.94 38.5h1.12M72.94 39.5h1.12M22.94 41.5h1.12M57.94 42.5h1.12M58.94 44.5h1.12M67.94 49.5h1.12M80.94 49.5h1.12M76.94 53.5h1.12M67.94 54.5h1.12M77.94 55.5h1.12M82.94 55.5h1.12M80.94 57.5h1.12M17.94 58.5h1.12M69.94 58.5h1.12M3.94 59.5h1.12M81.94 60.5h1.12M70.94 61.5h1.12M79.94 61.5h1.12M83.94 61.5h1.12M5.94 62.5h1.12M70.94 62.5h1.12M86.94 62.5h1.12M5.94 63.5h2.12M70.94 63.5h1.12M70.94 64.5h1.12M70.94 65.5h1.12M70.94 66.5h1.12M70.94 67.5h1.12M70.94 68.5h1.12M69.94 72.5h1.12M88.94 74.5h1.12M67.94 75.5h1.12M92.94 76.5h1.12M97.94 76.5h1.12M98.94 77.5h1.06M64.94 79.5h1.12M61.94 83.5h1.12M60.94 85.5h1.12M59.94 87.5h1.12M14.94 90.5h1.12M58.94 90.5h1.12M58.94 91.5h1.12M15.94 97.5h1.12M57.94 99.5h1.12"/>
<path stroke="#22a2e4" d="M19.94 3.5h1.12M73.94 4.5h1.12M82.94 4.5h1.12M82.94 5.5h1.12M20.94 6.5h1.12M68.94 6.5h1.12M21.94 7.5h1.12M73.94 9.5h1.12M23.94 18.5h1.12M22.94 19.5h1.12M74.94 19.5h1.12M70.94 20.5h1.12M70.94 21.5h1.12M21.94 25.5h1.12M71.94 30.5h1.12M22.94 36.5h1.12M72.94 38.5h1.12M78.94 40.5h1.12M66.94 44.5h1.12M77.94 45.5h1.12M73.94 46.5h1.12M76.94 46.5h1.12M79.94 46.5h1.12M66.94 47.5h1.12M78.94 49.5h1.12M78.94 52.5h1.12M83.94 57.5h1.12M78.94 58.5h1.12M82.94 59.5h1.12M3.94 60.5h1.12M82.94 62.5h1.12M86.94 65.5h1.12M91.94 69.5h1.12M88.94 71.5h1.12M92.94 73.5h1.12M12.94 87.5h1.12M15.94 94.5h2.12M15.94 95.5h2.12M15.94 96.5h2.12M16.94 97.5h1.12"/>
<path stroke="#1aacdd" d="M73.94 1.5h1.12M19.94 2.5h1.12M19.94 4.5h1.12M83.94 4.5h1.12M98.94 4.5h1.06M73.94 10.5h1.12M73.94 11.5h1.12M23.94 17.5h1.12M70.94 19.5h1.12M22.94 20.5h1.12M74.94 20.5h1.12M22.94 21.5h1.12M75.94 21.5h1.12M21.94 26.5h1.12M21.94 27.5h1.12M71.94 29.5h1.12M76.94 30.5h1.12M22.94 37.5h1.12M72.94 37.5h1.12M22.94 38.5h1.12M22.94 39.5h1.12M22.94 40.5h1.12M78.94 41.5h1.12M77.94 44.5h1.12M66.94 46.5h1.12M22.94 49.5h1.12M75.94 49.5h1.12M77.94 49.5h1.12M79.94 52.5h1.12M79.94 55.5h1.12M84.94 59.5h1.12M80.94 62.5h1.12M83.94 64.5h1.12M88.94 65.5h1.12M83.94 67.5h1.12M85.94 67.5h1.12M89.94 69.5h1.12M86.94 71.5h1.12M93.94 74.5h1.12M91.94 75.5h1.12M9.94 85.5h1.12M15.94 93.5h1.12"/>
<path stroke="#08b5d0" d="M88.94 2.5h4.12M92.94 3.5h6.12M68.94 4.5h1.12M68.94 5.5h1.12M73.94 5.5h1.12M83.94 5.5h16.06M73.94 12.5h1.12M73.94 13.5h1.12M70.94 17.5h1.12M70.94 18.5h1.12M71.94 27.5h1.12M71.94 28.5h1.12M76.94 31.5h1.12M77.94 33.5h1.12M72.94 36.5h1.12M76.94 38.5h1.12M76.94 40.5h1.12M76.94 42.5h1.12M76.94 52.5h1.12M81.94 53.5h1.12M80.94 55.5h1.12M78.94 57.5h1.12M81.94 57.5h1.12M80.94 58.5h1.12M85.94 61.5h1.12M84.94 62.5h1.12M87.94 66.5h1.12M84.94 68.5h1.12M87.94 70.5h1.12M90.94 74.5h1.12M95.94 74.5h1.12M96.94 75.5h1.12M96.94 83.5h1.12M97.94 84.5h1.12M10.94 85.5h1.12M51.94 85.5h1.12M98.94 85.5h1.06M12.94 86.5h1.12M13.94 88.5h2.12"/>
<path stroke="#05bbc1" d="M98.94 3.5h1.06M69.94 14.5h1.12M73.94 14.5h1.12M72.94 35.5h1.12M76.94 36.5h1.12M76.94 43.5h1.12M66.94 45.5h1.12M78.94 48.5h1.12M79.94 60.5h1.12M81.94 61.5h1.12M85.94 63.5h1.12M84.94 66.5h1.12M90.94 68.5h1.12M90.94 70.5h1.12M89.94 73.5h1.12M89.94 75.5h1.12M94.94 75.5h1.12M95.94 76.5h1.12M94.94 79.5h1.12M95.94 80.5h1.12M96.94 81.5h1.12M94.94 82.5h1.12M97.94 82.5h1.12M98.94 83.5h1.06M11.94 86.5h1.12M13.94 87.5h1.12M14.94 89.5h1.12M15.94 90.5h1.12M15.94 91.5h1.12M15.94 92.5h1.12M16.94 98.5h1.12M16.94 99.5h1.12"/>
<path stroke="#1ec0b2" d="M68.94 3.5h1.12M69.94 13.5h1.12M70.94 15.5h1.12M73.94 15.5h1.12M70.94 16.5h1.12M73.94 16.5h1.12M71.94 25.5h1.12M71.94 26.5h1.12M72.94 33.5h1.12M72.94 34.5h1.12M75.94 34.5h1.12M77.94 34.5h1.12M76.94 39.5h1.12M76.94 41.5h1.12M50.94 42.5h1.12M73.94 42.5h1.12M78.94 42.5h1.12M73.94 43.5h1.12M76.94 45.5h1.12M79.94 47.5h1.12M75.94 48.5h1.12M77.94 50.5h1.12M80.94 50.5h1.12M79.94 51.5h1.12M54.94 52.5h1.12M78.94 53.5h1.12M77.94 54.5h1.12M79.94 56.5h1.12M82.94 56.5h1.12M83.94 58.5h1.12M83.94 60.5h1.12M81.94 63.5h2.12M87.94 64.5h1.12M82.94 65.5h1.12M88.94 67.5h2.12M86.94 69.5h1.12M91.94 71.5h1.12M87.94 72.5h1.12M93.94 72.5h1.12M94.94 73.5h1.12M90.94 76.5h1.12M96.94 77.5h1.12M93.94 78.5h1.12M97.94 78.5h1.12"/>
<path stroke="#2ec5a4" d="M68.94 2.5h1.12M69.94 11.5h1.12M69.94 12.5h1.12M71.94 23.5h1.12M71.94 24.5h1.12M72.94 29.5h1.12M72.94 31.5h1.12M76.94 33.5h1.12M76.94 34.5h1.12M75.94 35.5h3.12M77.94 36.5h1.12M76.94 37.5h2.12M77.94 38.5h1.12M77.94 39.5h1.12M77.94 40.5h1.12M77.94 41.5h1.12M77.94 42.5h1.12M77.94 43.5h2.12M73.94 44.5h3.12M78.94 44.5h1.12M73.94 45.5h3.12M78.94 45.5h1.12M74.94 46.5h2.12M78.94 46.5h1.12M75.94 47.5h2.12M78.94 47.5h1.12M76.94 48.5h1.12M79.94 48.5h1.12M76.94 49.5h1.12M79.94 49.5h1.12M76.94 50.5h1.12M79.94 50.5h1.12M76.94 51.5h2.12M80.94 51.5h1.12M77.94 52.5h1.12M80.94 52.5h1.12M77.94 53.5h1.12M80.94 53.5h1.12M78.94 54.5h1.12M80.94 54.5h2.12M78.94 55.5h1.12M81.94 55.5h1.12M78.94 56.5h1.12M81.94 56.5h1.12M79.94 57.5h1.12M82.94 57.5h1.12M79.94 58.5h1.12M82.94 58.5h1.12M79.94 59.5h2.12M83.94 59.5h1.12M80.94 60.5h1.12M84.94 60.5h1.12M80.94 61.5h1.12M84.94 61.5h1.12M81.94 62.5h1.12M85.94 62.5h1.12M86.94 63.5h1.12M82.94 64.5h1.12M86.94 64.5h1.12M83.94 65.5h1.12M87.94 65.5h1.12M83.94 66.5h1.12M88.94 66.5h1.12M84.94 67.5h1.12M85.94 68.5h1.12M89.94 68.5h1.12M85.94 69.5h1.12M90.94 69.5h1.12M86.94 70.5h1.12M91.94 70.5h1.12M87.94 71.5h1.12M92.94 71.5h1.12M88.94 72.5h1.12M92.94 72.5h1.12M88.94 73.5h1.12M93.94 73.5h1.12M89.94 74.5h1.12M94.94 74.5h1.12M90.94 75.5h1.12M95.94 75.5h1.12M91.94 76.5h1.12M96.94 76.5h1.12M92.94 77.5h1.12M97.94 77.5h1.12M98.94 78.5h1.06M93.94 79.5h1.12M98.94 79.5h1.06M94.94 80.5h1.12M95.94 81.5h1.12M96.94 82.5h1.12M97.94 83.5h1.12M98.94 84.5h1.06"/>
<path stroke="#3cc992" d="M72.94 .5h1.12M68.94 1.5h1.12M70.94 1.5h3.12M71.94 2.5h1.12M73.94 2.5h2.12M71.94 3.5h1.12M71.94 4.5h1.12M71.94 5.5h1.12M71.94 6.5h1.12M71.94 7.5h2.12M71.94 8.5h2.12M71.94 9.5h2.12M71.94 10.5h2.12M72.94 11.5h1.12M72.94 12.5h1.12M72.94 13.5h1.12M72.94 14.5h1.12M71.94 15.5h2.12M71.94 16.5h2.12M71.94 17.5h3.12M71.94 18.5h3.12M71.94 19.5h3.12M71.94 20.5h3.12M71.94 21.5h3.12M71.94 22.5h2.12M75.94 22.5h1.12M72.94 23.5h2.12M72.94 24.5h2.12M72.94 25.5h2.12M72.94 26.5h2.12M72.94 27.5h2.12M72.94 28.5h2.12M73.94 29.5h1.12M72.94 30.5h2.12M73.94 31.5h1.12M72.94 32.5h2.12M76.94 32.5h1.12M73.94 33.5h3.12M73.94 34.5h2.12M73.94 35.5h2.12M73.94 36.5h3.12M73.94 37.5h3.12M73.94 38.5h3.12M73.94 39.5h3.12M73.94 40.5h3.12M73.94 41.5h3.12M74.94 42.5h2.12M74.94 43.5h2.12M76.94 44.5h1.12M91.94 77.5h1.12M92.94 78.5h1.12"/>
<path stroke="#5fcd73" d="M70.94 .5h2.12M70.94 2.5h1.12M87.94 2.5h1.12M70.94 3.5h1.12M72.94 6.5h1.12M71.94 11.5h1.12M71.94 12.5h1.12M73.94 22.5h1.12M75.94 23.5h1.12M91.94 78.5h1.12M94.94 81.5h1.12M95.94 82.5h1.12"/>
<path stroke="#80cc59" d="M68.94 .5h1.12M72.94 2.5h1.12M75.94 2.5h1.12M72.94 3.5h1.12M72.94 4.5h1.12M72.94 5.5h1.12M69.94 9.5h1.12M69.94 10.5h1.12M71.94 13.5h1.12M71.94 14.5h1.12M74.94 30.5h1.12M74.94 31.5h1.12M74.94 32.5h1.12M50.94 37.5h1.12M92.94 79.5h1.12M93.94 80.5h1.12"/>
<path stroke="#a3c83f" d="M76.94 2.5h6.12M70.94 4.5h1.12M70.94 5.5h1.12M70.94 6.5h1.12M74.94 21.5h1.12M75.94 24.5h1.12M75.94 25.5h1.12M75.94 26.5h1.12M74.94 27.5h1.12M74.94 28.5h1.12M74.94 29.5h1.12M54.94 51.5h1.12"/>
<path stroke="#bac430" d="M82.94 2.5h5.12M70.94 7.5h1.12M70.94 8.5h1.12"/>
<path stroke="#e3bc2c" d="M69.94 .5h1.12M69.94 1.5h1.12M69.94 2.5h1.12M69.94 3.5h1.12M69.94 4.5h1.12M69.94 5.5h1.12M69.94 6.5h1.12M69.94 7.5h1.12M69.94 8.5h1.12M70.94 9.5h1.12M70.94 10.5h1.12M70.94 11.5h1.12M70.94 12.5h1.12M70.94 13.5h1.12M70.94 14.5h1.12M74.94 24.5h1.12M74.94 25.5h1.12M74.94 26.5h1.12"/>
<path stroke="#f1ba37" d="M74.94 23.5h1.12M75.94 27.5h1.12M75.94 32.5h1.12M51.94 34.5h1.12"/>
<path stroke="#febe3c" d="M74.94 22.5h1.12M75.94 28.5h1.12M75.94 29.5h1.12M75.94 30.5h1.12M75.94 31.5h1.12M51.94 35.5h1.12"/>
<path stroke="#f5ec22" d="M51.94 31.5h1.12M51.94 45.5h1.12"/>
<path stroke="#f9fb15" d="M51.94 30.5h1.12M51.94 44.5h1.12"/>
</g>
<rect x="1216" y="1775.4" width="28.8" height="487.6" fill="url(#par)" stroke="#1c1c1c" stroke-width="1.9"/>
<path d="M1244.8 2165.5h-5M1244.8 2068h-5M1244.8 1970.4h-5M1244.8 1872.9h-5" stroke="#262626" stroke-width="1" fill="none"/>
<text class="cb" x="1253.4" y="2269.8">0</text>
<text class="cb" x="1253.4" y="2172.3">0.2</text>
<text class="cb" x="1253.4" y="2074.8">0.4</text>
<text class="cb" x="1253.4" y="1977.2">0.6</text>
<text class="cb" x="1253.4" y="1879.7">0.8</text>
<text class="cb" x="1253.4" y="1782.2">1</text>
<text class="cap" x="998" y="2339.3" text-anchor="middle">(h)</text>
</svg>
</body></html>
